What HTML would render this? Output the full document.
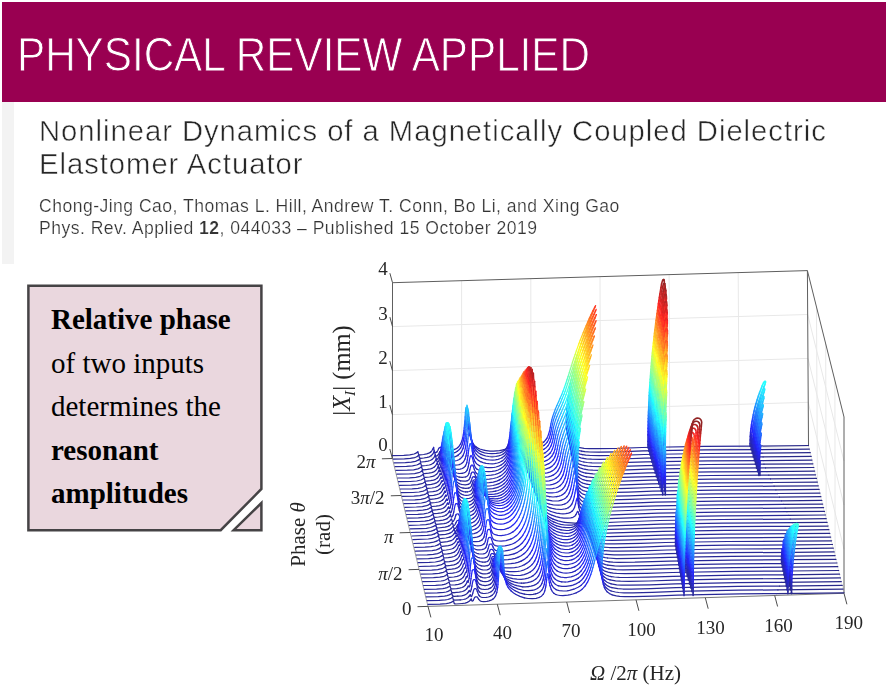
<!DOCTYPE html>
<html><head><meta charset="utf-8"><title>PRApplied</title>
<style>
html,body{margin:0;padding:0;background:#fff;}
body{width:886px;height:694px;position:relative;overflow:hidden;font-family:"Liberation Sans",sans-serif;}
#hdr{position:absolute;left:2px;top:2px;width:884px;height:99.5px;background:#990051;}
#strip{position:absolute;left:2px;top:101.5px;width:12px;height:162px;background:#f3f3f3;}
#jt{position:absolute;left:17.3px;top:25.7px;font-size:48.5px;line-height:56px;color:#fff;white-space:nowrap;transform-origin:0 0;transform:scaleX(0.870);-webkit-text-stroke:0.9px #990051;}
#ttl{position:absolute;left:38.7px;top:115px;font-size:28.85px;line-height:32.8px;color:#262626;white-space:nowrap;transform-origin:0 0;transform:scaleX(1.014);letter-spacing:0.95px;-webkit-text-stroke:0.5px #fff;}
.au{position:absolute;left:38.5px;font-size:17.7px;line-height:20px;color:#333;white-space:nowrap;transform-origin:0 0;transform:scaleX(0.994);letter-spacing:0.47px;-webkit-text-stroke:0.22px #fff;}
#note{position:absolute;left:0;top:0;}
.nt{position:absolute;left:51px;font-family:"Liberation Serif",serif;font-size:29px;line-height:32px;color:#000;white-space:nowrap;}
svg text{font-family:"Liberation Serif",serif;fill:#262626;}
</style></head><body>
<div id="hdr"></div><div id="strip"></div>
<div id="jt">PHYSICAL REVIEW APPLIED</div>
<div id="ttl">Nonlinear Dynamics of a Magnetically Coupled Dielectric<br>Elastomer Actuator</div>
<div class="au" style="top:195.5px">Chong-Jing Cao, Thomas L. Hill, Andrew T. Conn, Bo Li, and Xing Gao</div>
<div class="au" style="top:217.5px">Phys. Rev. Applied <b>12</b>, 044033 – Published 15 October 2019</div>
<svg id="note" width="886" height="694" viewBox="0 0 886 694">
<path d="M28.4 285.8 H261.4 V489 L220.7 530.2 H28.4 Z" fill="#ead7de" stroke="#454345" stroke-width="2.5" stroke-linejoin="miter"/>
<path d="M261.4 503 V530.2 H233.6 Z" fill="#ead7de" stroke="#454345" stroke-width="2.5" stroke-linejoin="miter"/>
</svg>
<div class="nt" style="top:303px;font-weight:bold">Relative phase</div>
<div class="nt" style="top:346.5px">of two inputs</div>
<div class="nt" style="top:390px">determines the</div>
<div class="nt" style="top:433.5px;font-weight:bold">resonant</div>
<div class="nt" style="top:477px;font-weight:bold">amplitudes</div>
<svg id="chart" style="position:absolute;left:0;top:0;filter:blur(0.45px)" width="886" height="694" viewBox="0 0 886 694">
<line x1="392.4" y1="414.6" x2="808.2" y2="402.3" stroke="#e8e8e8" stroke-width="1.00"/>
<line x1="808.2" y1="402.3" x2="844.0" y2="549.2" stroke="#e8e8e8" stroke-width="1.00"/>
<line x1="392.4" y1="370.6" x2="808.0" y2="358.4" stroke="#e8e8e8" stroke-width="1.00"/>
<line x1="808.0" y1="358.4" x2="844.0" y2="505.1" stroke="#e8e8e8" stroke-width="1.00"/>
<line x1="392.5" y1="326.6" x2="807.7" y2="314.5" stroke="#e8e8e8" stroke-width="1.00"/>
<line x1="807.7" y1="314.5" x2="844.0" y2="461.1" stroke="#e8e8e8" stroke-width="1.00"/>
<line x1="461.8" y1="456.4" x2="461.6" y2="280.7" stroke="#e8e8e8" stroke-width="1.00"/>
<line x1="531.1" y1="454.4" x2="530.8" y2="278.7" stroke="#e8e8e8" stroke-width="1.00"/>
<line x1="600.5" y1="452.4" x2="600.0" y2="276.6" stroke="#e8e8e8" stroke-width="1.00"/>
<line x1="669.8" y1="450.3" x2="669.1" y2="274.6" stroke="#e8e8e8" stroke-width="1.00"/>
<line x1="739.2" y1="448.2" x2="738.2" y2="272.6" stroke="#e8e8e8" stroke-width="1.00"/>
<line x1="835.1" y1="556.5" x2="834.9" y2="380.4" stroke="#e8e8e8" stroke-width="1.00"/>
<line x1="826.2" y1="519.8" x2="825.7" y2="343.8" stroke="#e8e8e8" stroke-width="1.00"/>
<line x1="817.4" y1="483.0" x2="816.5" y2="307.2" stroke="#e8e8e8" stroke-width="1.00"/>
<line x1="392.4" y1="458.5" x2="808.5" y2="446.2" stroke="#e8e8e8" stroke-width="1.00"/>
<line x1="808.5" y1="446.2" x2="844.0" y2="593.3" stroke="#e8e8e8" stroke-width="1.00"/>
<line x1="392.4" y1="458.5" x2="392.5" y2="282.7" stroke="#5e5e5e" stroke-width="1.00"/>
<line x1="392.5" y1="282.7" x2="807.4" y2="270.6" stroke="#5e5e5e" stroke-width="1.00"/>
<line x1="807.4" y1="270.6" x2="808.5" y2="446.2" stroke="#5e5e5e" stroke-width="1.00"/>
<line x1="807.4" y1="270.6" x2="844.0" y2="417.0" stroke="#5e5e5e" stroke-width="1.00"/>
<line x1="844.0" y1="417.0" x2="844.0" y2="593.3" stroke="#5e5e5e" stroke-width="1.00"/>
<line x1="392.4" y1="458.5" x2="428.0" y2="606.4" stroke="#8c8c8c" stroke-width="0.80"/>
<line x1="428.0" y1="606.4" x2="844.0" y2="593.3" stroke="#6a6a6a" stroke-width="0.90"/>
<g fill="none" stroke-width="1.25" stroke-linejoin="round" stroke-linecap="round"><path stroke="#29298a" d="M751.2 446.1 808.5 445.5"/><path stroke="#292998" d="M392.4 455.6 403.8 455.3 409.8 454.9 414.0 454.0 415.5 453.4 417.0 452.5M417.9 451.8 418.5 454.0 418.8 454.4 419.4 454.8 420.0 454.8 423.6 454.5 426.7 453.9 428.8 453.2 430.6 452.1M434.2 451.1 434.5 452.0 435.1 452.7 436.0 452.6 436.9 451.9M484.6 450.4 490.0 451.2 493.6 451.2 499.4 450.7 503.3 449.9M578.3 447.4 584.1 448.4 589.2 448.7 598.1 448.7 618.0 448.4 642.0 447.5 704.4 446.4 751.2 446.1"/><path stroke="#2828a9" d="M417.0 452.5 417.9 451.8M430.6 452.1 431.8 450.8 433.0 448.8M433.6 447.4 434.2 451.1M436.9 451.9 437.8 450.5 438.7 448.6M442.3 448.0 443.5 449.7 444.4 450.5 445.6 451.0 447.1 451.1 449.8 450.8 453.4 449.9 455.8 448.9 457.6 447.7M476.2 447.0 478.0 448.1 479.8 449.0 484.6 450.4M503.3 449.9 504.8 449.3 506.0 448.5 506.9 447.6 507.8 446.1M514.7 445.8 516.2 446.9 518.0 447.6 520.4 448.1 523.4 448.2 527.6 447.8 531.9 447.1 534.4 446.5 538.3 445.2M571.4 443.7 573.9 445.6 576.5 446.8 578.3 447.4"/><path stroke="#2727bb" d="M433.0 448.8 433.6 447.4M438.7 448.6 439.3 447.7 440.2 447.3 441.4 447.3 442.3 448.0M457.6 447.7 459.1 446.2 460.6 443.9M472.9 443.4 474.4 445.4 476.2 447.0M507.8 446.1 509.0 442.6M512.6 442.2 513.5 444.2 514.7 445.8M538.3 445.2 541.0 443.9 543.9 441.9M569.1 440.3 570.3 442.3 571.4 443.7"/><path stroke="#2626ce" d="M460.6 443.9 461.8 441.1M471.1 439.6 472.9 443.4M509.0 442.6 509.6 439.7M511.4 438.0 512.6 442.2M543.9 441.9 545.2 440.5 546.8 438.5M567.9 436.9 569.1 440.3"/><path stroke="#2525e4" d="M461.8 441.1 462.7 437.9M469.9 435.5 471.1 439.6M509.6 439.7 510.1 436.6 510.4 436.0 510.7 436.2 511.4 438.0M546.8 438.5 547.8 436.3 548.6 434.2M567.1 433.4 567.9 436.9"/><path stroke="#2424fb" d="M462.7 437.9 463.3 434.8M469.3 432.6 469.9 435.5M548.6 434.2 549.6 430.8M566.6 429.9 567.1 433.4"/><path stroke="#2436ff" d="M463.3 434.8 463.9 430.6M468.7 428.9 469.3 432.6M549.6 430.8 550.3 427.4M566.4 426.4 566.6 429.9"/><path stroke="#2448ff" d="M463.9 430.6 464.2 427.9M468.1 424.1 468.7 428.9M550.3 427.4 550.9 423.9M566.2 422.3 566.4 426.4"/><path stroke="#245bff" d="M464.2 427.9 464.5 424.8M467.8 421.3 468.1 424.1M550.9 423.9 551.8 419.9M566.3 418.8 566.2 422.3"/><path stroke="#246dff" d="M464.5 424.8 464.8 421.1M467.5 418.2 467.8 421.3M551.8 419.9 552.7 416.5M566.4 415.3 566.3 418.8"/><path stroke="#247fff" d="M464.8 421.1 465.1 417.0M467.2 414.9 467.5 418.2M552.7 416.5 553.9 413.1M566.6 411.9 566.4 415.3"/><path stroke="#2491ff" d="M465.1 417.0 465.4 412.8M466.6 409.2 467.2 414.9M553.9 413.1 555.4 409.0M566.8 408.5 566.6 411.9"/><path stroke="#24a4ff" d="M465.4 412.8 465.7 409.2M466.3 407.5 466.6 409.2M555.4 409.0 556.9 405.6M567.2 404.4 566.8 408.5"/><path stroke="#24b6ff" d="M465.7 409.2 466.0 407.3 466.3 407.5M556.9 405.6 558.7 401.6M567.6 401.1 567.2 404.4"/><path stroke="#24c8ff" d="M558.7 401.6 560.1 398.3M568.1 397.1 567.6 401.1"/><path stroke="#24daff" d="M560.1 398.3 561.8 394.4M568.6 393.8 568.1 397.1"/><path stroke="#24edff" d="M561.8 394.4 563.1 391.1M569.3 389.8 568.6 393.8"/><path stroke="#24ffff" d="M563.1 391.1 564.5 387.3M569.8 386.6 569.3 389.8"/><path stroke="#36ffed" d="M564.5 387.3 565.8 383.5M570.6 382.8 569.8 386.6"/><path stroke="#48ffda" d="M565.8 383.5 567.0 379.8M571.2 379.7 570.6 382.8"/><path stroke="#5bffc8" d="M567.0 379.8 568.0 376.7M572.0 375.9 571.2 379.7"/><path stroke="#6dffb6" d="M568.0 376.7 569.3 372.6M572.9 372.3 572.0 375.9"/><path stroke="#7fffa4" d="M569.3 372.6 570.4 369.0M573.7 368.7 572.9 372.3"/><path stroke="#91ff91" d="M570.4 369.0 571.5 365.6M574.6 365.2 573.7 368.7"/><path stroke="#a4ff7f" d="M571.5 365.6 572.5 362.2M575.7 361.2 574.6 365.2"/><path stroke="#b6ff6d" d="M572.5 362.2 573.8 358.3M576.6 357.8 575.7 361.2"/><path stroke="#c8ff5b" d="M573.8 358.3 575.1 354.6M577.8 354.0 576.6 357.8"/><path stroke="#daff48" d="M575.1 354.6 576.3 350.9M578.9 350.3 577.8 354.0"/><path stroke="#edff36" d="M576.3 350.9 577.6 347.4M580.0 346.7 578.9 350.3"/><path stroke="#ffff24" d="M577.6 347.4 578.8 344.0M581.1 343.3 580.0 346.7"/><path stroke="#ffed24" d="M578.8 344.0 580.2 340.2M582.4 339.5 581.1 343.3"/><path stroke="#ffda24" d="M580.2 340.2 581.6 336.7M583.7 335.9 582.4 339.5"/><path stroke="#ffc824" d="M581.6 336.7 583.2 332.8M584.9 332.4 583.7 335.9"/><path stroke="#ffb624" d="M583.2 332.8 584.6 329.2M586.3 328.8 584.9 332.4"/><path stroke="#ffa424" d="M584.6 329.2 586.2 325.5M587.7 325.0 586.3 328.8"/><path stroke="#ff9124" d="M586.2 325.5 587.7 322.1M589.1 321.6 587.7 325.0"/><path stroke="#ff7f24" d="M587.7 322.1 589.3 318.3M590.6 317.8 589.1 321.6"/><path stroke="#ff6d24" d="M589.3 318.3 591.1 314.6M592.0 314.3 590.6 317.8"/><path stroke="#ff5b24" d="M591.1 314.6 592.7 311.0M593.5 310.8 592.0 314.3"/><path stroke="#ff4824" d="M592.7 311.0 594.6 307.3M595.0 307.2 593.5 310.8"/><path stroke="#ff3624" d="M594.6 307.3 595.6 305.6 595.0 307.2"/><g stroke-width="1.6"><path stroke="#29298a" d="M753.3 445.0 753.3 446.3"/><path stroke="#292998" d="M656.4 444.5 656.4 447.7M750.1 446.3 750.1 443.8M753.4 441.2 753.3 445.0"/><path stroke="#2828a9" d="M648.0 447.9 648.0 444.7M656.4 441.2 656.4 444.5M750.1 443.8 750.2 440.0M753.5 438.7 753.4 441.2"/><path stroke="#2727bb" d="M648.0 444.7 648.0 441.4M656.4 437.9 656.4 441.2M750.2 440.0 750.3 436.2M753.7 435.0 753.5 438.7"/><path stroke="#2626ce" d="M648.0 441.4 648.0 434.9M656.4 431.4 656.4 437.9M750.3 436.2 750.6 432.5M754.0 431.2 753.7 435.0"/><path stroke="#2525e4" d="M648.0 434.9 648.1 431.6M656.4 428.1 656.4 431.4M750.6 432.5 751.0 428.7M754.3 427.4 754.0 431.2"/><path stroke="#2424fb" d="M648.1 431.6 648.1 428.3M656.5 424.9 656.4 428.1M751.0 428.7 751.5 424.9M754.8 423.6 754.3 427.4"/><path stroke="#2436ff" d="M648.1 428.3 648.2 425.1M656.5 421.6 656.5 424.9M751.5 424.9 752.1 421.2M755.4 419.9 754.8 423.6"/><path stroke="#2448ff" d="M648.2 425.1 648.2 421.8M656.6 418.3 656.5 421.6M752.1 421.2 752.8 417.4M756.0 416.1 755.4 419.9"/><path stroke="#245bff" d="M648.2 421.8 648.3 418.5M656.6 415.1 656.6 418.3M752.8 417.4 753.3 414.9M756.5 413.6 756.0 416.1"/><path stroke="#246dff" d="M648.3 418.5 648.4 415.2M656.7 411.8 656.6 415.1M753.3 414.9 754.1 411.1M757.3 409.8 756.5 413.6"/><path stroke="#247fff" d="M648.4 415.2 648.5 412.0M656.7 408.5 656.7 411.8M754.1 411.1 755.0 407.3M758.1 406.0 757.3 409.8"/><path stroke="#2491ff" d="M648.5 412.0 648.7 408.7M656.8 405.3 656.7 408.5M755.0 407.3 756.1 403.5M759.1 402.2 758.1 406.0"/><path stroke="#24a4ff" d="M648.7 408.7 648.8 405.4M656.9 402.0 656.8 405.3M756.1 403.5 757.2 399.8M760.2 398.5 759.1 402.2"/><path stroke="#24b6ff" d="M648.8 405.4 648.9 402.2M657.1 395.4 656.9 402.0M757.2 399.8 758.4 396.0M761.3 394.7 760.2 398.5"/><path stroke="#24c8ff" d="M648.9 402.2 649.2 395.6M657.2 392.2 657.1 395.4M758.4 396.0 759.7 392.2M762.5 390.9 761.3 394.7"/><path stroke="#24daff" d="M649.2 395.6 649.4 392.4M657.3 388.9 657.2 392.2M759.7 392.2 760.7 389.7M763.8 387.1 762.5 390.9"/><path stroke="#24edff" d="M649.4 392.4 649.6 389.1M657.4 385.6 657.3 388.9M760.7 389.7 762.2 385.9M764.8 384.6 763.8 387.1"/><path stroke="#24ffff" d="M649.6 389.1 649.8 385.8M657.5 382.4 657.4 385.6M762.2 385.9 763.6 382.6 764.8 381.2 765.4 381.2 765.6 382.0 764.8 384.6"/><path stroke="#36ffed" d="M649.8 385.8 650.0 382.5M657.6 379.1 657.5 382.4"/><path stroke="#48ffda" d="M650.0 382.5 650.2 379.3M657.8 375.8 657.6 379.1"/><path stroke="#5bffc8" d="M650.2 379.3 650.5 376.0M657.9 372.6 657.8 375.8"/><path stroke="#6dffb6" d="M650.5 376.0 650.7 372.7M658.1 369.3 657.9 372.6"/><path stroke="#7fffa4" d="M650.7 372.7 651.0 369.4M658.2 366.0 658.1 369.3"/><path stroke="#91ff91" d="M651.0 369.4 651.2 366.2M658.4 362.7 658.2 366.0"/><path stroke="#a4ff7f" d="M651.2 366.2 651.8 359.6M658.7 356.2 658.4 362.7"/><path stroke="#b6ff6d" d="M651.8 359.6 652.1 356.3M658.9 352.9 658.7 356.2"/><path stroke="#c8ff5b" d="M652.1 356.3 652.4 353.1M659.1 349.7 658.9 352.9"/><path stroke="#daff48" d="M652.4 353.1 652.7 349.8M659.3 346.4 659.1 349.7"/><path stroke="#edff36" d="M652.7 349.8 653.1 346.5M659.5 343.1 659.3 346.4"/><path stroke="#ffff24" d="M653.1 346.5 653.4 343.2M659.7 339.8 659.5 343.1"/><path stroke="#ffed24" d="M653.4 343.2 653.8 340.0M659.9 336.6 659.7 339.8"/><path stroke="#ffda24" d="M653.8 340.0 654.1 336.7M660.1 333.3 659.9 336.6"/><path stroke="#ffc824" d="M654.1 336.7 654.5 333.4M660.3 330.0 660.1 333.3"/><path stroke="#ffb624" d="M654.5 333.4 654.9 330.1M660.6 326.7 660.3 330.0"/><path stroke="#ffa424" d="M654.9 330.1 655.7 323.6M661.1 320.2 660.6 326.7"/><path stroke="#ff9124" d="M655.7 323.6 656.1 320.3M661.3 316.9 661.1 320.2"/><path stroke="#ff7f24" d="M656.1 320.3 656.6 317.0M661.6 313.6 661.3 316.9"/><path stroke="#ff6d24" d="M656.6 317.0 657.0 313.8M661.9 310.4 661.6 313.6"/><path stroke="#ff5b24" d="M657.0 313.8 657.5 310.5M662.1 307.1 661.9 310.4"/><path stroke="#ff4824" d="M657.5 310.5 658.0 307.2M662.4 303.8 662.1 307.1"/><path stroke="#ff3624" d="M658.0 307.2 658.4 303.9M662.7 300.6 662.4 303.8"/><path stroke="#ff2424" d="M658.4 303.9 658.9 300.6M663.0 297.3 662.7 300.6"/><path stroke="#ed2424" d="M658.9 300.6 659.4 297.4M663.3 294.0 663.0 297.3"/><path stroke="#da2424" d="M659.4 297.4 659.9 294.1M663.6 290.7 663.3 294.0"/><path stroke="#c82424" d="M659.9 294.1 661.0 287.5M664.2 284.2 663.6 290.7"/><path stroke="#b62424" d="M661.0 287.5 661.6 283.9M664.3 283.5 664.2 284.2"/><path stroke="#a42424" d="M661.6 283.9 662.1 282.0 662.7 280.3M664.1 280.1 664.3 281.7 664.3 283.5"/><path stroke="#912424" d="M662.7 280.3 663.2 279.6 663.6 279.4 663.9 279.5 664.1 280.1"/></g>
<path stroke="#29298a" d="M758.3 449.6 809.4 449.1"/><path stroke="#292998" d="M393.3 459.1 404.4 458.9 410.4 458.4 414.6 457.6 416.1 457.0 417.6 456.2M418.8 455.2 419.4 457.4 420.0 458.1 420.6 458.3 423.9 458.0 427.2 457.4 429.3 456.8 431.1 455.8M435.4 455.3 435.7 455.8 436.3 456.1 437.5 455.5M581.6 451.2 585.0 451.7 590.1 452.0 598.9 452.1 618.6 451.8 642.9 450.9 705.4 449.9 758.3 449.6"/><path stroke="#2828a9" d="M417.6 456.2 418.8 455.2M431.1 455.8 432.6 454.3 433.8 452.4M434.4 451.1 435.4 455.3M437.5 455.5 438.4 454.4 439.6 451.9M443.5 451.7 444.4 453.0 445.3 453.8 446.5 454.3 448.0 454.4 450.4 454.0 453.4 453.2 455.5 452.4 457.3 451.3M478.9 450.6 481.6 451.9 484.6 452.8 488.2 453.5 491.8 453.7 496.3 453.4 499.9 452.8 502.9 451.6 505.0 450.2M522.5 449.4 525.2 449.8 528.2 449.9 532.8 449.5 535.3 449.0M573.0 447.5 575.9 449.5 579.2 450.7 581.6 451.2"/><path stroke="#2727bb" d="M433.8 452.4 434.4 451.1M439.6 451.9 440.5 450.8 441.7 450.5 442.6 450.7 443.5 451.7M457.3 451.3 459.1 449.8 460.6 447.9M475.0 447.1 476.8 449.1 478.9 450.6M505.0 450.2 506.2 448.8 507.4 446.6M516.8 445.6 518.0 447.0 519.2 448.0 520.7 448.8 522.5 449.4M535.3 449.0 537.4 448.5 540.6 447.3 543.9 445.4M570.4 444.2 571.7 446.2 573.0 447.5"/><path stroke="#2626ce" d="M460.6 447.9 462.1 444.8M472.9 443.5 473.8 445.3 475.0 447.1M507.4 446.6 508.6 442.8M514.9 441.9 515.8 444.1 516.8 445.6M543.9 445.4 545.5 444.1 547.2 442.1M569.0 440.8 570.4 444.2"/><path stroke="#2525e4" d="M462.1 444.8 463.3 440.7M471.4 439.2 472.9 443.5M508.6 442.8 509.2 439.7M514.0 438.6 514.9 441.9M547.2 442.1 548.4 440.0 549.3 437.9M568.0 436.6 569.0 440.8"/><path stroke="#2424fb" d="M463.3 440.7 463.9 437.6M470.5 435.1 471.4 439.2M509.2 439.7 509.5 437.6M513.1 433.5 514.0 438.6M549.3 437.9 550.3 434.5M567.5 433.1 568.0 436.6"/><path stroke="#2436ff" d="M463.9 437.6 464.5 433.5M469.9 431.4 470.5 435.1M509.5 437.6 510.1 432.3M512.8 431.3 513.1 433.5M550.3 434.5 551.1 431.1M567.2 429.7 567.5 433.1"/><path stroke="#2448ff" d="M464.5 433.5 464.8 430.8M469.6 429.2 469.9 431.4M510.1 432.3 510.4 429.1M512.2 426.4 512.8 431.3M551.1 431.1 551.7 427.7M567.1 426.2 567.2 429.7"/><path stroke="#245bff" d="M464.8 430.8 465.1 427.7M469.0 423.8 469.6 429.2M510.4 429.1 510.7 425.8M511.9 424.1 512.2 426.4M551.7 427.7 552.6 423.6M567.1 422.7 567.1 426.2"/><path stroke="#246dff" d="M465.1 427.7 465.4 424.1M468.7 420.7 469.0 423.8M510.7 425.8 511.3 422.0 511.6 422.5 511.9 424.1M552.6 423.6 553.4 420.2M567.2 419.3 567.1 422.7"/><path stroke="#247fff" d="M465.4 424.1 465.7 420.0M468.4 417.3 468.7 420.7M553.4 420.2 554.7 416.2M567.4 415.2 567.2 419.3"/><path stroke="#2491ff" d="M465.7 420.0 466.0 415.4M468.1 413.7 468.4 417.3M554.7 416.2 556.0 412.8M567.7 411.8 567.4 415.2"/><path stroke="#24a4ff" d="M467.8 410.3 468.1 413.7M556.0 412.8 557.4 409.5M568.0 408.4 567.7 411.8"/><path stroke="#24b6ff" d="M466.0 415.4 466.3 410.8M467.5 407.4 467.8 410.3M557.4 409.5 559.2 405.5M568.5 404.4 568.0 408.4"/><path stroke="#24c8ff" d="M466.3 410.8 466.9 405.1 467.2 405.5 467.5 407.4M559.2 405.5 560.7 402.2M568.9 401.1 568.5 404.4"/><path stroke="#24daff" d="M560.7 402.2 562.3 398.3M569.5 397.1 568.9 401.1"/><path stroke="#24edff" d="M562.3 398.3 563.9 394.4M570.0 393.9 569.5 397.1"/><path stroke="#24ffff" d="M563.9 394.4 565.1 391.3M570.7 390.0 570.0 393.9"/><path stroke="#36ffed" d="M565.1 391.3 566.4 387.5M571.3 386.8 570.7 390.0"/><path stroke="#48ffda" d="M566.4 387.5 567.6 383.8M572.1 383.1 571.3 386.8"/><path stroke="#5bffc8" d="M567.6 383.8 568.8 380.2M572.9 379.4 572.1 383.1"/><path stroke="#6dffb6" d="M568.8 380.2 569.9 376.6M573.7 375.8 572.9 379.4"/><path stroke="#7fffa4" d="M569.9 376.6 571.0 373.1M574.5 372.2 573.7 375.8"/><path stroke="#91ff91" d="M571.0 373.1 572.3 369.1M575.4 368.7 574.5 372.2"/><path stroke="#a4ff7f" d="M572.3 369.1 573.3 365.7M576.3 365.3 575.4 368.7"/><path stroke="#b6ff6d" d="M573.3 365.7 574.6 361.9M577.4 361.4 576.3 365.3"/><path stroke="#c8ff5b" d="M574.6 361.9 575.8 358.1M578.5 357.6 577.4 361.4"/><path stroke="#daff48" d="M575.8 358.1 577.1 354.5M579.5 354.4 578.5 357.6"/><path stroke="#edff36" d="M577.1 354.5 578.3 351.0M580.8 350.3 579.5 354.4"/><path stroke="#ffff24" d="M578.3 351.0 579.6 347.6M581.9 346.9 580.8 350.3"/><path stroke="#ffed24" d="M579.6 347.6 581.0 343.9M583.2 343.1 581.9 346.9"/><path stroke="#ffda24" d="M581.0 343.9 582.4 340.3M584.4 339.5 583.2 343.1"/><path stroke="#ffc824" d="M582.4 340.3 583.9 336.5M585.7 336.1 584.4 339.5"/><path stroke="#ffb624" d="M583.9 336.5 585.4 332.9M587.0 332.5 585.7 336.1"/><path stroke="#ffa424" d="M585.4 332.9 586.9 329.2M588.4 328.7 587.0 332.5"/><path stroke="#ff9124" d="M586.9 329.2 588.5 325.5M589.8 325.3 588.4 328.7"/><path stroke="#ff7f24" d="M588.5 325.5 590.0 322.1M591.3 321.6 589.8 325.3"/><path stroke="#ff6d24" d="M590.0 322.1 591.8 318.3M592.7 318.1 591.3 321.6"/><path stroke="#ff5b24" d="M591.8 318.3 593.5 314.7M594.2 314.4 592.7 318.1"/><path stroke="#ff4824" d="M593.5 314.7 595.3 311.0M595.7 310.8 594.2 314.4"/><path stroke="#ff3624" d="M595.3 311.0 596.2 309.4 595.7 310.8"/><g stroke-width="1.6"><path stroke="#29298a" d="M754.1 448.6 754.2 449.8"/><path stroke="#292998" d="M657.3 448.0 657.3 451.2M751.1 449.8 751.2 446.3M754.2 445.1 754.1 448.6"/><path stroke="#2828a9" d="M648.9 451.4 648.9 448.1M657.3 444.7 657.3 448.0M751.2 446.3 751.3 442.8M754.3 441.6 754.2 445.1"/><path stroke="#2727bb" d="M648.9 448.1 648.9 444.9M657.3 441.4 657.3 444.7M751.3 442.8 751.5 439.2M754.5 438.0 754.3 441.6"/><path stroke="#2626ce" d="M648.9 444.9 648.9 441.6M657.3 438.2 657.3 441.4M751.5 439.2 751.7 435.7M754.8 434.5 754.5 438.0"/><path stroke="#2525e4" d="M648.9 441.6 649.0 435.1M657.3 431.7 657.3 438.2M751.7 435.7 752.1 432.2M755.1 430.9 754.8 434.5"/><path stroke="#2424fb" d="M649.0 435.1 649.0 431.8M657.4 428.4 657.3 431.7M752.1 432.2 752.5 428.6M755.6 427.4 755.1 430.9"/><path stroke="#2436ff" d="M649.0 431.8 649.1 428.6M657.4 425.1 657.4 428.4M752.5 428.6 753.1 425.1M756.1 423.9 755.6 427.4"/><path stroke="#2448ff" d="M649.1 428.6 649.2 425.3M657.5 421.9 657.4 425.1M753.1 425.1 753.7 421.5M756.7 420.3 756.1 423.9"/><path stroke="#245bff" d="M649.2 425.3 649.3 422.1M657.5 418.6 657.5 421.9M753.7 421.5 754.4 418.0M757.3 416.8 756.7 420.3"/><path stroke="#246dff" d="M649.3 422.1 649.3 418.8M657.6 415.4 657.5 418.6M754.4 418.0 755.2 414.5M758.0 413.2 757.3 416.8"/><path stroke="#247fff" d="M649.3 418.8 649.5 415.5M657.6 412.1 657.6 415.4M755.2 414.5 756.0 410.9M758.9 409.7 758.0 413.2"/><path stroke="#2491ff" d="M649.5 415.5 649.6 412.3M657.7 408.8 657.6 412.1M756.0 410.9 757.0 407.4M759.7 406.2 758.9 409.7"/><path stroke="#24a4ff" d="M649.6 412.3 649.7 409.0M657.8 405.6 657.7 408.8M757.0 407.4 758.0 403.8M760.7 402.6 759.7 406.2"/><path stroke="#24b6ff" d="M649.7 409.0 649.8 405.7M657.9 402.3 657.8 405.6M758.0 403.8 759.1 400.3M761.7 399.1 760.7 402.6"/><path stroke="#24c8ff" d="M649.8 405.7 650.2 399.2M658.1 395.8 657.9 402.3M759.1 400.3 760.4 396.7M762.9 395.5 761.7 399.1"/><path stroke="#24daff" d="M650.2 399.2 650.3 396.0M658.2 392.5 658.1 395.8M760.4 396.7 761.6 393.2M764.1 392.0 762.9 395.5"/><path stroke="#24edff" d="M650.3 396.0 650.5 392.7M658.3 389.3 658.2 392.5M761.6 393.2 762.9 390.1 764.1 388.7 764.6 388.7 764.8 389.4 764.1 392.0"/><path stroke="#24ffff" d="M650.5 392.7 650.7 389.4M658.4 386.0 658.3 389.3"/><path stroke="#36ffed" d="M650.7 389.4 650.9 386.2M658.5 382.7 658.4 386.0"/><path stroke="#48ffda" d="M650.9 386.2 651.1 382.9M658.7 379.5 658.5 382.7"/><path stroke="#5bffc8" d="M651.1 382.9 651.4 379.6M658.8 376.2 658.7 379.5"/><path stroke="#6dffb6" d="M651.4 379.6 651.6 376.4M658.9 373.0 658.8 376.2"/><path stroke="#7fffa4" d="M651.6 376.4 651.8 373.1M659.1 369.7 658.9 373.0"/><path stroke="#91ff91" d="M651.8 373.1 652.1 369.8M659.4 363.2 659.1 369.7"/><path stroke="#a4ff7f" d="M652.1 369.8 652.7 363.3M659.6 359.9 659.4 363.2"/><path stroke="#b6ff6d" d="M652.7 363.3 653.0 360.1M659.8 356.7 659.6 359.9"/><path stroke="#c8ff5b" d="M653.0 360.1 653.3 356.8M660.0 353.4 659.8 356.7"/><path stroke="#daff48" d="M653.3 356.8 653.6 353.5M660.1 350.1 660.0 353.4"/><path stroke="#edff36" d="M653.6 353.5 653.9 350.3M660.3 346.9 660.1 350.1"/><path stroke="#ffff24" d="M653.9 350.3 654.2 347.0M660.6 343.6 660.3 346.9"/><path stroke="#ffed24" d="M654.2 347.0 654.6 343.7M660.8 340.3 660.6 343.6"/><path stroke="#ffda24" d="M654.6 343.7 655.0 340.5M661.0 337.1 660.8 340.3"/><path stroke="#ffc824" d="M655.0 340.5 655.3 337.2M661.2 333.8 661.0 337.1"/><path stroke="#ffb624" d="M655.3 337.2 656.1 330.7M661.7 327.3 661.2 333.8"/><path stroke="#ffa424" d="M656.1 330.7 656.5 327.4M661.9 324.0 661.7 327.3"/><path stroke="#ff9124" d="M656.5 327.4 656.9 324.1M662.2 320.8 661.9 324.0"/><path stroke="#ff7f24" d="M656.9 324.1 657.4 320.9M662.4 317.5 662.2 320.8"/><path stroke="#ff6d24" d="M657.4 320.9 657.8 317.6M662.7 314.2 662.4 317.5"/><path stroke="#ff5b24" d="M657.8 317.6 658.3 314.3M663.0 311.0 662.7 314.2"/><path stroke="#ff4824" d="M658.3 314.3 658.7 311.0M663.3 307.7 663.0 311.0"/><path stroke="#ff3624" d="M658.7 311.0 659.2 307.8M663.6 304.4 663.3 307.7"/><path stroke="#ff2424" d="M659.2 307.8 659.7 304.5M663.8 301.2 663.6 304.4"/><path stroke="#ed2424" d="M659.7 304.5 660.2 301.2M664.1 297.9 663.8 301.2"/><path stroke="#da2424" d="M660.2 301.2 661.2 294.7M664.8 291.4 664.1 297.9"/><path stroke="#c82424" d="M661.2 294.7 661.7 291.4M665.1 288.1 664.8 291.4"/><path stroke="#b62424" d="M661.7 291.4 662.4 287.5M665.2 287.1 665.1 288.1"/><path stroke="#a42424" d="M662.4 287.5 663.0 285.4 663.7 283.8M664.8 283.7 665.1 285.1 665.2 287.1"/><path stroke="#912424" d="M663.7 283.8 664.3 283.3 664.8 283.7"/></g>
<path stroke="#29298a" d="M761.9 453.2 810.3 452.7"/><path stroke="#292998" d="M394.2 462.8 405.3 462.6 411.3 462.1 415.5 461.3 417.0 460.7 418.5 459.9M419.7 458.9 420.3 461.1 420.9 461.8 421.5 462.0 424.8 461.7 428.1 461.2 430.2 460.5 432.0 459.5M436.8 459.2 437.1 459.2M582.4 454.7 585.8 455.2 590.8 455.5 599.5 455.6 618.8 455.4 644.0 454.5 706.1 453.5 761.9 453.2"/><path stroke="#2828a9" d="M418.5 459.9 419.7 458.9M432.0 459.5 433.5 458.1 434.7 456.3M435.3 455.0 436.2 458.6 436.8 459.2M437.1 459.2 437.7 458.9 438.3 458.2 439.2 456.1M445.6 454.9 446.5 456.3 447.4 457.0 448.6 457.5 449.8 457.6 451.9 457.4 454.6 456.8 456.4 456.1 458.2 455.1M480.7 454.2 483.1 455.2 485.8 456.0 488.8 456.5 492.1 456.8 495.7 456.5 498.7 455.9 501.4 455.0 503.5 453.8M573.9 451.0 576.8 453.0 580.0 454.2 582.4 454.7"/><path stroke="#2727bb" d="M434.7 456.3 435.3 455.0M439.2 456.1 440.1 452.7M444.3 451.7 445.6 454.9M458.2 455.1 460.0 453.6 461.5 451.6M476.2 450.8 478.3 452.7 480.7 454.2M503.5 453.8 505.0 452.5 506.5 450.5M520.3 449.6 522.1 450.9 524.6 451.9 527.3 452.4 530.6 452.6 533.7 452.5 538.3 451.6 541.6 450.5 543.9 449.3M571.3 447.7 572.6 449.7 573.9 451.0"/><path stroke="#2626ce" d="M440.1 452.7 440.7 450.5 441.0 449.8 441.6 449.3 442.5 449.1 443.1 449.3 443.7 450.1 444.3 451.7M461.5 451.6 463.0 448.5M473.8 446.9 475.0 449.1 476.2 450.8M506.5 450.5 508.0 447.2M517.6 445.9 518.8 447.9 520.3 449.6M543.9 449.3 546.4 447.4 548.2 445.5M569.8 444.3 571.3 447.7"/><path stroke="#2525e4" d="M463.0 448.5 464.2 444.2M472.6 443.7 473.8 446.9M508.0 447.2 508.9 443.8M516.1 441.8 517.6 445.9M548.2 445.5 550.0 442.0M569.0 440.9 569.8 444.3"/><path stroke="#2424fb" d="M464.2 444.2 464.8 440.8M471.7 440.1 472.6 443.7M508.9 443.8 509.5 440.6M515.2 437.8 516.1 441.8M550.0 442.0 551.3 438.0M568.4 436.8 569.0 440.9"/><path stroke="#2436ff" d="M464.8 440.8 465.1 438.7M470.8 434.8 471.7 440.1M509.5 440.6 510.1 436.2M514.6 433.9 515.2 437.8M551.3 438.0 552.1 434.6M568.1 433.3 568.4 436.8"/><path stroke="#2448ff" d="M465.1 438.7 465.4 436.1M470.5 432.5 470.8 434.8M510.1 436.2 510.4 433.3M514.3 431.6 514.6 433.9M552.1 434.6 552.7 431.3M568.0 429.9 568.1 433.3"/><path stroke="#245bff" d="M465.4 436.1 466.0 429.7M469.9 427.0 470.5 432.5M510.4 433.3 510.7 429.9M513.7 425.7 514.3 431.6M552.7 431.3 553.5 427.2M568.0 426.5 568.0 429.9"/><path stroke="#246dff" d="M469.6 423.8 469.9 427.0M510.7 429.9 511.0 426.0M513.4 422.3 513.7 425.7M553.5 427.2 554.4 423.9M568.1 422.4 568.0 426.5"/><path stroke="#247fff" d="M466.0 429.7 466.3 425.9M469.3 420.5 469.6 423.8M511.0 426.0 511.3 421.7M513.1 418.8 513.4 422.3M554.4 423.9 555.6 419.9M568.3 419.0 568.1 422.4"/><path stroke="#2491ff" d="M466.3 425.9 466.6 421.7M469.0 417.1 469.3 420.5M512.8 415.6 513.1 418.8M555.6 419.9 556.9 416.6M568.5 415.6 568.3 419.0"/><path stroke="#24a4ff" d="M466.6 421.7 466.9 417.3M468.7 413.9 469.0 417.1M511.3 421.7 511.9 414.1M512.5 413.3 512.8 415.6M556.9 416.6 558.5 412.7M568.9 411.6 568.5 415.6"/><path stroke="#24b6ff" d="M466.9 417.3 467.2 413.1M468.4 411.0 468.7 413.9M511.9 414.1 512.2 412.6 512.5 413.3M558.5 412.7 560.0 409.4M569.3 408.3 568.9 411.6"/><path stroke="#24c8ff" d="M467.2 413.1 467.5 409.8 467.8 408.5 468.1 409.1 468.4 411.0M560.0 409.4 561.7 405.5M569.7 405.0 569.3 408.3"/><path stroke="#24daff" d="M561.7 405.5 563.1 402.3M570.3 401.1 569.7 405.0"/><path stroke="#24edff" d="M563.1 402.3 564.6 398.5M570.9 397.3 570.3 401.1"/><path stroke="#24ffff" d="M564.6 398.5 566.0 394.7M571.4 394.1 570.9 397.3"/><path stroke="#36ffed" d="M566.0 394.7 567.3 391.0M572.1 390.4 571.4 394.1"/><path stroke="#48ffda" d="M567.3 391.0 568.5 387.4M572.9 386.7 572.1 390.4"/><path stroke="#5bffc8" d="M568.5 387.4 569.7 383.8M573.7 383.0 572.9 386.7"/><path stroke="#6dffb6" d="M569.7 383.8 570.8 380.3M574.5 379.4 573.7 383.0"/><path stroke="#7fffa4" d="M570.8 380.3 571.8 376.8M575.3 375.9 574.5 379.4"/><path stroke="#91ff91" d="M571.8 376.8 573.1 372.8M576.2 372.5 575.3 375.9"/><path stroke="#a4ff7f" d="M573.1 372.8 574.1 369.5M577.3 368.5 576.2 372.5"/><path stroke="#b6ff6d" d="M574.1 369.5 575.4 365.8M578.2 365.3 577.3 368.5"/><path stroke="#c8ff5b" d="M575.4 365.8 576.6 362.1M579.3 361.5 578.2 365.3"/><path stroke="#daff48" d="M576.6 362.1 577.8 358.5M580.4 357.9 579.3 361.5"/><path stroke="#edff36" d="M577.8 358.5 579.2 354.6M581.5 354.4 580.4 357.9"/><path stroke="#ffff24" d="M579.2 354.6 580.4 351.3M582.7 350.6 581.5 354.4"/><path stroke="#ffed24" d="M580.4 351.3 581.8 347.6M583.9 346.9 582.7 350.6"/><path stroke="#ffda24" d="M581.8 347.6 583.3 343.7M585.2 343.4 583.9 346.9"/><path stroke="#ffc824" d="M583.3 343.7 584.6 340.4M586.5 339.6 585.2 343.4"/><path stroke="#ffb624" d="M584.6 340.4 586.2 336.6M587.8 336.1 586.5 339.6"/><path stroke="#ffa424" d="M586.2 336.6 587.7 333.0M589.2 332.5 587.8 336.1"/><path stroke="#ff9124" d="M587.7 333.0 589.3 329.4M590.6 328.9 589.2 332.5"/><path stroke="#ff7f24" d="M589.3 329.4 591.0 325.6M592.0 325.4 590.6 328.9"/><path stroke="#ff6d24" d="M591.0 325.6 592.7 321.9M593.5 321.7 592.0 325.4"/><path stroke="#ff5b24" d="M592.7 321.9 594.4 318.2M595.0 318.2 593.5 321.7"/><path stroke="#ff4824" d="M594.4 318.2 596.3 314.6M596.4 314.6 595.0 318.2"/><path stroke="#ff3624" d="M596.3 314.6 596.4 314.6"/><g stroke-width="1.6"><path stroke="#29298a" d="M755.0 452.3 755.0 453.4"/><path stroke="#292998" d="M658.1 451.6 658.1 454.8M752.2 453.5 752.2 450.2M755.0 449.1 755.0 452.3"/><path stroke="#2828a9" d="M649.9 455.0 649.9 451.7M658.1 448.3 658.1 451.6M752.2 450.2 752.3 446.9M755.1 445.8 755.0 449.1"/><path stroke="#2727bb" d="M649.9 451.7 649.9 448.5M658.1 445.1 658.1 448.3M752.3 446.9 752.5 443.6M755.3 442.5 755.1 445.8"/><path stroke="#2626ce" d="M649.9 448.5 649.9 445.3M658.2 441.9 658.1 445.1M752.5 443.6 752.8 439.2M755.6 438.1 755.3 442.5"/><path stroke="#2525e4" d="M649.9 445.3 649.9 438.8M658.2 435.4 658.2 441.9M752.8 439.2 753.2 435.9M755.9 434.8 755.6 438.1"/><path stroke="#2424fb" d="M649.9 438.8 650.0 435.6M658.2 432.2 658.2 435.4M753.2 435.9 753.6 432.6M756.3 431.5 755.9 434.8"/><path stroke="#2436ff" d="M650.0 435.6 650.1 432.3M658.3 428.9 658.2 432.2M753.6 432.6 754.0 429.4M756.7 428.2 756.3 431.5"/><path stroke="#2448ff" d="M650.1 432.3 650.1 429.1M658.3 425.7 658.3 428.9M754.0 429.4 754.8 425.0M757.4 423.8 756.7 428.2"/><path stroke="#245bff" d="M650.1 429.1 650.2 425.9M658.4 422.5 658.3 425.7M754.8 425.0 755.4 421.7M758.1 420.6 757.4 423.8"/><path stroke="#246dff" d="M650.2 425.9 650.3 422.6M658.4 419.2 658.4 422.5M755.4 421.7 756.1 418.4M758.7 417.3 758.1 420.6"/><path stroke="#247fff" d="M650.3 422.6 650.4 419.4M658.5 416.0 658.4 419.2M756.1 418.4 757.2 414.0M759.7 412.9 758.7 417.3"/><path stroke="#2491ff" d="M650.4 419.4 650.5 416.2M658.6 412.8 658.5 416.0M757.2 414.0 758.1 410.7M760.5 409.6 759.7 412.9"/><path stroke="#24a4ff" d="M650.5 416.2 650.6 412.9M658.6 409.5 658.6 412.8M758.1 410.7 759.0 407.4M761.4 406.3 760.5 409.6"/><path stroke="#24b6ff" d="M650.6 412.9 650.9 406.5M658.8 403.1 658.6 409.5M759.0 407.4 760.1 404.1M762.7 401.9 761.4 406.3"/><path stroke="#24c8ff" d="M650.9 406.5 651.1 403.2M658.9 399.8 658.8 403.1M760.1 404.1 761.5 399.7M763.7 398.6 762.7 401.9"/><path stroke="#24daff" d="M651.1 403.2 651.2 400.0M659.0 396.6 658.9 399.8M761.5 399.7 762.4 397.6 763.4 396.5 763.7 396.4 764.0 396.9 763.7 398.6"/><path stroke="#24edff" d="M651.2 400.0 651.4 396.8M659.1 393.4 659.0 396.6"/><path stroke="#24ffff" d="M651.4 396.8 651.6 393.5M659.2 390.1 659.1 393.4"/><path stroke="#36ffed" d="M651.6 393.5 651.8 390.3M659.4 386.9 659.2 390.1"/><path stroke="#48ffda" d="M651.8 390.3 652.0 387.1M659.5 383.7 659.4 386.9"/><path stroke="#5bffc8" d="M652.0 387.1 652.2 383.8M659.6 380.4 659.5 383.7"/><path stroke="#6dffb6" d="M652.2 383.8 652.5 380.6M659.8 377.2 659.6 380.4"/><path stroke="#7fffa4" d="M652.5 380.6 653.0 374.1M660.1 370.7 659.8 377.2"/><path stroke="#91ff91" d="M653.0 374.1 653.2 370.9M660.2 367.5 660.1 370.7"/><path stroke="#a4ff7f" d="M653.2 370.9 653.5 367.6M660.4 364.3 660.2 367.5"/><path stroke="#b6ff6d" d="M653.5 367.6 653.8 364.4M660.6 361.0 660.4 364.3"/><path stroke="#c8ff5b" d="M653.8 364.4 654.1 361.2M660.8 357.8 660.6 361.0"/><path stroke="#daff48" d="M654.1 361.2 654.4 357.9M661.0 354.6 660.8 357.8"/><path stroke="#edff36" d="M654.4 357.9 654.7 354.7M661.1 351.3 661.0 354.6"/><path stroke="#ffff24" d="M654.7 354.7 655.1 351.4M661.4 348.1 661.1 351.3"/><path stroke="#ffed24" d="M655.1 351.4 655.4 348.2M661.6 344.9 661.4 348.1"/><path stroke="#ffda24" d="M655.4 348.2 656.1 341.7M662.0 338.4 661.6 344.9"/><path stroke="#ffc824" d="M656.1 341.7 656.5 338.5M662.2 335.1 662.0 338.4"/><path stroke="#ffb624" d="M656.5 338.5 656.9 335.3M662.5 331.9 662.2 335.1"/><path stroke="#ffa424" d="M656.9 335.3 657.3 332.0M662.7 328.7 662.5 331.9"/><path stroke="#ff9124" d="M657.3 332.0 657.7 328.8M663.0 325.4 662.7 328.7"/><path stroke="#ff7f24" d="M657.7 328.8 658.1 325.5M663.2 322.2 663.0 325.4"/><path stroke="#ff6d24" d="M658.1 325.5 658.5 322.3M663.5 319.0 663.2 322.2"/><path stroke="#ff5b24" d="M658.5 322.3 659.0 319.1M663.7 315.7 663.5 319.0"/><path stroke="#ff4824" d="M659.0 319.1 659.4 315.8M664.0 312.5 663.7 315.7"/><path stroke="#ff3624" d="M659.4 315.8 660.3 309.3M664.6 306.0 664.0 312.5"/><path stroke="#ff2424" d="M660.3 309.3 660.8 306.1M664.9 302.8 664.6 306.0"/><path stroke="#ed2424" d="M660.8 306.1 661.3 302.8M665.2 299.5 664.9 302.8"/><path stroke="#da2424" d="M661.3 302.8 661.8 299.6M665.5 296.3 665.2 299.5"/><path stroke="#c82424" d="M661.8 299.6 662.3 296.4M665.8 293.1 665.5 296.3"/><path stroke="#b62424" d="M662.3 296.4 663.3 291.2M665.9 290.8 665.8 293.1"/><path stroke="#a42424" d="M663.3 291.2 664.2 289.0 665.0 288.2 665.3 288.4 665.6 288.9 665.9 290.8"/></g>
<path stroke="#29298a" d="M763.1 456.9 811.2 456.4"/><path stroke="#292998" d="M395.1 466.6 406.5 466.4 412.5 465.9 416.7 465.0 418.2 464.4 419.7 463.5M420.6 462.8 421.2 465.0 421.8 465.7 422.4 465.8 426.0 465.5 429.3 465.0 431.4 464.3 433.2 463.2M583.2 458.3 586.5 458.8 591.5 459.2 599.9 459.3 619.7 459.0 644.9 458.2 707.0 457.2 763.1 456.9"/><path stroke="#2828a9" d="M419.7 463.5 420.6 462.8M433.2 463.2 434.7 461.7 435.9 459.6M436.5 459.4 437.1 461.8 437.4 462.2 437.7 462.2 438.6 461.3 439.2 459.8M447.9 458.6 448.8 459.8 449.7 460.4 451.2 460.9 452.8 461.1 454.9 461.0 457.0 460.5 458.8 459.7 460.3 458.7M481.3 458.0 483.7 458.9 486.4 459.6 489.4 460.0 492.7 460.2 495.4 459.9 498.1 459.3 500.5 458.5 502.3 457.6M574.7 454.7 577.6 456.6 580.8 457.8 583.2 458.3"/><path stroke="#2727bb" d="M435.9 459.6 436.2 459.0 436.5 459.4M439.2 459.8 440.1 455.7M446.4 454.3 447.0 456.6 447.9 458.6M460.3 458.7 461.8 457.3 463.0 455.6M476.5 454.4 478.6 456.4 481.3 458.0M502.3 457.6 504.4 456.0 506.2 453.8M523.0 453.2 525.1 454.4 527.8 455.2 530.9 455.7 534.6 455.7 537.1 455.4 541.0 454.5 544.9 452.9M572.1 451.4 573.5 453.4 574.7 454.7"/><path stroke="#2626ce" d="M440.1 455.7 440.4 453.7M445.8 451.3 446.4 454.3M463.0 455.6 464.5 451.9M474.1 450.5 475.3 452.8 476.5 454.4M506.2 453.8 507.7 450.8M519.7 449.4 521.2 451.5 523.0 453.2M544.9 452.9 547.4 451.0 549.2 449.1M570.7 448.1 572.1 451.4"/><path stroke="#2525e4" d="M440.4 453.7 441.0 448.9M445.2 447.6 445.8 451.3M464.5 451.9 465.4 447.9M472.9 447.0 474.1 450.5M507.7 450.8 508.9 447.1M518.2 446.0 519.7 449.4M549.2 449.1 551.1 445.8M569.7 444.1 570.7 448.1"/><path stroke="#2424fb" d="M441.0 448.9 441.3 446.5M444.6 444.4 445.2 447.6M465.4 447.9 465.7 446.0M472.0 442.8 472.9 447.0M508.9 447.1 509.5 444.3M517.0 441.6 518.2 446.0M551.1 445.8 552.4 441.8M569.2 440.7 569.7 444.1"/><path stroke="#2436ff" d="M441.3 446.5 441.9 443.3 442.5 442.3 443.7 442.2 444.3 443.3 444.6 444.4M465.7 446.0 466.3 441.0M471.4 438.8 472.0 442.8M509.5 444.3 510.1 440.7M516.4 438.4 517.0 441.6M552.4 441.8 553.2 438.5M569.0 437.3 569.2 440.7"/><path stroke="#2448ff" d="M466.3 441.0 466.6 437.9M471.1 436.4 471.4 438.8M510.1 440.7 510.7 435.8M515.8 434.3 516.4 438.4M553.2 438.5 553.9 434.6M568.8 433.3 569.0 437.3"/><path stroke="#245bff" d="M466.6 437.9 466.9 434.4M470.5 430.8 471.1 436.4M510.7 435.8 511.0 432.7M515.5 431.7 515.8 434.3M553.9 434.6 554.6 431.3M568.8 429.9 568.8 433.3"/><path stroke="#246dff" d="M466.9 434.4 467.2 430.8M470.2 427.9 470.5 430.8M511.0 432.7 511.3 429.1M514.9 425.3 515.5 431.7M554.6 431.3 555.6 427.4M568.9 426.6 568.8 429.9"/><path stroke="#247fff" d="M467.2 430.8 467.5 427.1M469.9 425.0 470.2 427.9M511.3 429.1 511.6 424.9M514.6 421.4 514.9 425.3M555.6 427.4 556.6 424.1M569.1 422.6 568.9 426.6"/><path stroke="#2491ff" d="M467.5 427.1 467.7 423.5M469.6 422.3 469.9 425.0M514.3 417.1 514.6 421.4M556.6 424.1 558.0 420.2M569.4 419.3 569.1 422.6"/><path stroke="#24a4ff" d="M467.7 423.5 468.0 420.3M468.9 418.2 469.6 422.3M511.6 424.9 511.9 420.1M558.0 420.2 559.5 416.4M569.7 415.4 569.4 419.3"/><path stroke="#24b6ff" d="M468.0 420.3 468.3 418.0 468.6 417.4 468.9 418.2M511.9 420.1 512.2 415.0M514.0 412.7 514.3 417.1M559.5 416.4 560.9 413.2M570.1 412.1 569.7 415.4"/><path stroke="#24c8ff" d="M513.7 408.6 514.0 412.7M560.9 413.2 562.6 409.3M570.6 408.3 570.1 412.1"/><path stroke="#24daff" d="M512.2 415.0 512.5 410.2M513.4 405.7 513.7 408.6M562.6 409.3 564.2 405.6M571.1 405.1 570.6 408.3"/><path stroke="#24edff" d="M512.5 410.2 512.8 406.4 513.1 404.8 513.4 405.7M564.2 405.6 565.7 401.9M571.7 401.3 571.1 405.1"/><path stroke="#24ffff" d="M565.7 401.9 567.0 398.2M572.3 397.6 571.7 401.3"/><path stroke="#36ffed" d="M567.0 398.2 568.3 394.6M573.0 393.9 572.3 397.6"/><path stroke="#48ffda" d="M568.3 394.6 569.5 391.0M573.7 390.3 573.0 393.9"/><path stroke="#5bffc8" d="M569.5 391.0 570.6 387.5M574.5 386.7 573.7 390.3"/><path stroke="#6dffb6" d="M570.6 387.5 571.6 384.1M575.3 383.2 574.5 386.7"/><path stroke="#7fffa4" d="M571.6 384.1 572.8 380.1M576.1 379.8 575.3 383.2"/><path stroke="#91ff91" d="M572.8 380.1 573.9 376.8M577.1 375.9 576.1 379.8"/><path stroke="#a4ff7f" d="M573.9 376.8 575.1 373.1M578.0 372.6 577.1 375.9"/><path stroke="#b6ff6d" d="M575.1 373.1 576.3 369.4M579.0 368.9 578.0 372.6"/><path stroke="#c8ff5b" d="M576.3 369.4 577.5 365.9M580.1 365.3 579.0 368.9"/><path stroke="#daff48" d="M577.5 365.9 578.8 361.9M581.1 361.8 580.1 365.3"/><path stroke="#edff36" d="M578.8 361.9 580.0 358.6M582.3 357.9 581.1 361.8"/><path stroke="#ffff24" d="M580.0 358.6 581.3 354.9M583.5 354.2 582.3 357.9"/><path stroke="#ffed24" d="M581.3 354.9 582.8 351.0M584.7 350.7 583.5 354.2"/><path stroke="#ffda24" d="M582.8 351.0 584.1 347.7M586.0 346.9 584.7 350.7"/><path stroke="#ffc824" d="M584.1 347.7 585.7 343.8M587.3 343.4 586.0 346.9"/><path stroke="#ffb624" d="M585.7 343.8 587.2 340.2M588.7 339.7 587.3 343.4"/><path stroke="#ffa424" d="M587.2 340.2 588.7 336.5M589.9 336.4 588.7 339.7"/><path stroke="#ff9124" d="M588.7 336.5 590.3 332.9M591.4 332.7 589.9 336.4"/><path stroke="#ff7f24" d="M590.3 332.9 591.9 329.3M592.8 329.1 591.4 332.7"/><path stroke="#ff6d24" d="M591.9 329.3 593.5 325.7M594.3 325.5 592.8 329.1"/><path stroke="#ff5b24" d="M593.5 325.7 595.4 321.9M595.7 321.9 594.3 325.5"/><path stroke="#ff4824" d="M595.4 321.9 596.1 320.6 595.7 321.9"/><g stroke-width="1.6"><path stroke="#29298a" d="M755.8 456.1 755.8 457.1"/><path stroke="#292998" d="M659.0 455.3 659.0 458.5M753.3 457.1 753.3 454.1M755.8 453.1 755.8 456.1"/><path stroke="#2828a9" d="M650.9 458.6 650.9 455.4M659.0 452.1 659.0 455.3M753.3 454.1 753.4 450.1M755.9 449.1 755.8 453.1"/><path stroke="#2727bb" d="M650.9 455.4 650.9 452.2M659.0 448.9 659.0 452.1M753.4 450.1 753.6 447.1M756.1 446.1 755.9 449.1"/><path stroke="#2626ce" d="M650.9 452.2 650.9 445.9M659.0 442.5 659.0 448.9M753.6 447.1 753.9 443.1M756.4 442.0 756.1 446.1"/><path stroke="#2525e4" d="M650.9 445.9 650.9 442.7M659.0 439.3 659.0 442.5M753.9 443.1 754.2 440.0M756.7 439.0 756.4 442.0"/><path stroke="#2424fb" d="M650.9 442.7 651.0 439.5M659.0 436.2 659.0 439.3M754.2 440.0 754.7 436.0M757.1 435.0 756.7 439.0"/><path stroke="#2436ff" d="M651.0 439.5 651.0 436.3M659.1 433.0 659.0 436.2M754.7 436.0 755.3 432.0M757.7 431.0 757.1 435.0"/><path stroke="#2448ff" d="M651.0 436.3 651.1 433.1M659.1 429.8 659.1 433.0M755.3 432.0 755.8 429.0M758.1 428.0 757.7 431.0"/><path stroke="#245bff" d="M651.1 433.1 651.2 429.9M659.2 426.6 659.1 429.8M755.8 429.0 756.5 425.0M758.9 423.9 758.1 428.0"/><path stroke="#246dff" d="M651.2 429.9 651.3 426.8M659.2 423.4 659.2 426.6M756.5 425.0 757.2 421.9M759.5 420.9 758.9 423.9"/><path stroke="#247fff" d="M651.3 426.8 651.4 423.6M659.3 420.2 659.2 423.4M757.2 421.9 758.2 417.9M760.4 416.9 759.5 420.9"/><path stroke="#2491ff" d="M651.4 423.6 651.6 417.2M659.4 413.8 659.3 420.2M758.2 417.9 759.0 414.9M761.1 413.9 760.4 416.9"/><path stroke="#24a4ff" d="M651.6 417.2 651.7 414.0M659.5 410.7 659.4 413.8M759.0 414.9 760.1 410.9M762.1 409.8 761.1 413.9"/><path stroke="#24b6ff" d="M651.7 414.0 651.9 410.8M659.6 407.5 659.5 410.7M760.1 410.9 761.4 406.8M763.1 406.5 762.1 409.8"/><path stroke="#24c8ff" d="M651.9 410.8 652.0 407.6M659.7 404.3 659.6 407.5M761.4 406.8 762.1 405.3 762.8 404.6 763.1 404.7 763.2 405.1 763.1 406.5"/><path stroke="#24daff" d="M652.0 407.6 652.2 404.4M659.8 401.1 659.7 404.3"/><path stroke="#24edff" d="M652.2 404.4 652.4 401.2M659.9 397.9 659.8 401.1"/><path stroke="#24ffff" d="M652.4 401.2 652.5 398.1M660.0 394.7 659.9 397.9"/><path stroke="#36ffed" d="M652.5 398.1 652.7 394.9M660.1 391.5 660.0 394.7"/><path stroke="#48ffda" d="M652.7 394.9 653.2 388.5M660.4 385.2 660.1 391.5"/><path stroke="#5bffc8" d="M653.2 388.5 653.4 385.3M660.5 382.0 660.4 385.2"/><path stroke="#6dffb6" d="M653.4 385.3 653.6 382.1M660.7 378.8 660.5 382.0"/><path stroke="#7fffa4" d="M653.6 382.1 653.9 378.9M660.8 375.6 660.7 378.8"/><path stroke="#91ff91" d="M653.9 378.9 654.1 375.7M661.0 372.4 660.8 375.6"/><path stroke="#a4ff7f" d="M654.1 375.7 654.4 372.5M661.2 369.2 661.0 372.4"/><path stroke="#b6ff6d" d="M654.4 372.5 654.7 369.3M661.3 366.0 661.2 369.2"/><path stroke="#c8ff5b" d="M654.7 369.3 654.9 366.2M661.5 362.8 661.3 366.0"/><path stroke="#daff48" d="M654.9 366.2 655.5 359.8M661.9 356.5 661.5 362.8"/><path stroke="#edff36" d="M655.5 359.8 655.9 356.6M662.1 353.3 661.9 356.5"/><path stroke="#ffff24" d="M655.9 356.6 656.2 353.4M662.3 350.1 662.1 353.3"/><path stroke="#ffed24" d="M656.2 353.4 656.5 350.2M662.5 346.9 662.3 350.1"/><path stroke="#ffda24" d="M656.5 350.2 656.9 347.0M662.7 343.7 662.5 346.9"/><path stroke="#ffc824" d="M656.9 347.0 657.2 343.8M662.9 340.5 662.7 343.7"/><path stroke="#ffb624" d="M657.2 343.8 657.6 340.6M663.1 337.3 662.9 340.5"/><path stroke="#ffa424" d="M657.6 340.6 658.0 337.4M663.4 334.1 663.1 337.3"/><path stroke="#ff9124" d="M658.0 337.4 658.8 331.0M663.9 327.7 663.4 334.1"/><path stroke="#ff7f24" d="M658.8 331.0 659.2 327.8M664.1 324.6 663.9 327.7"/><path stroke="#ff6d24" d="M659.2 327.8 659.6 324.6M664.4 321.4 664.1 324.6"/><path stroke="#ff5b24" d="M659.6 324.6 660.0 321.5M664.6 318.2 664.4 321.4"/><path stroke="#ff4824" d="M660.0 321.5 660.5 318.3M664.9 315.0 664.6 318.2"/><path stroke="#ff3624" d="M660.5 318.3 660.9 315.1M665.2 311.8 664.9 315.0"/><path stroke="#ff2424" d="M660.9 315.1 661.4 311.9M665.5 308.6 665.2 311.8"/><path stroke="#ed2424" d="M661.4 311.9 661.9 308.7M665.8 305.4 665.5 308.6"/><path stroke="#da2424" d="M661.9 308.7 662.9 302.3M666.4 299.0 665.8 305.4"/><path stroke="#c82424" d="M662.9 302.3 663.5 298.4M666.4 298.0 666.4 299.0"/><path stroke="#b62424" d="M663.5 298.4 664.1 296.3 664.8 294.8M666.0 294.6 666.4 296.0 666.4 298.0"/><path stroke="#a42424" d="M664.8 294.8 665.5 294.2 666.0 294.6"/></g>
<path stroke="#29298a" d="M763.4 460.6 812.0 460.1"/><path stroke="#292998" d="M396.0 470.4 407.4 470.2 413.7 469.8 417.9 468.8 419.4 468.2 420.9 467.2M421.5 466.7 422.1 468.9 422.4 469.4 423.0 469.7 423.6 469.8 427.5 469.4 430.5 468.8 432.6 468.1 434.4 466.9M583.9 462.0 587.2 462.5 592.0 462.9 600.2 463.0 620.5 462.7 645.7 461.9 707.9 460.8 763.4 460.6"/><path stroke="#2828a9" d="M420.9 467.2 421.5 466.7M434.4 466.9 435.6 465.7 436.8 463.7M437.4 462.9 437.7 464.4 438.0 465.1 438.3 465.4 438.9 465.0 439.5 463.8M449.7 462.4 450.9 463.8 452.1 464.5 453.6 465.0 455.4 465.2 457.5 465.0 459.3 464.6 461.2 463.7 462.7 462.6M480.7 461.7 483.1 462.6 486.1 463.4 489.1 463.7 492.4 463.8 494.5 463.7 497.5 463.0 499.6 462.3 501.7 461.2M575.6 458.5 578.4 460.4 581.6 461.5 583.9 462.0"/><path stroke="#2727bb" d="M436.8 463.7 437.1 463.0 437.4 462.9M439.5 463.8 440.4 460.1M448.2 458.7 448.8 460.6 449.7 462.4M462.7 462.6 463.9 461.2 465.1 458.9M475.9 458.0 478.0 460.1 480.7 461.7M501.7 461.2 503.8 459.7 505.6 457.7M525.4 456.8 527.5 457.9 529.9 458.6 532.3 459.0 535.5 459.1 540.2 458.6 543.4 457.7 545.8 456.6M573.0 455.3 574.3 457.2 575.6 458.5"/><path stroke="#2626ce" d="M440.4 460.1 440.7 458.1M447.3 454.1 448.2 458.7M465.1 458.9 466.0 455.9M474.1 454.7 475.0 456.6 475.9 458.0M505.6 457.7 506.8 455.8 507.7 454.0M521.8 453.2 523.3 455.1 525.4 456.8M545.8 456.6 548.4 454.8 550.2 453.0M571.4 451.4 573.0 455.3"/><path stroke="#2525e4" d="M440.7 458.1 441.3 452.7M447.0 452.0 447.3 454.1M466.0 455.9 466.6 452.6M472.9 450.5 474.1 454.7M507.7 454.0 508.9 450.5M520.0 449.7 521.8 453.2M550.2 453.0 551.5 451.0 552.4 449.1M570.6 448.1 571.4 451.4"/><path stroke="#2424fb" d="M441.3 452.7 441.6 449.2M446.4 446.8 447.0 452.0M466.6 452.6 466.9 450.4M472.3 447.2 472.9 450.5M508.9 450.5 509.8 446.7M518.8 446.0 520.0 449.7M552.4 449.1 553.5 445.9M570.0 444.1 570.6 448.1"/><path stroke="#2436ff" d="M441.6 449.2 441.9 445.5M446.1 444.0 446.4 446.8M466.9 450.4 467.4 444.9M471.7 442.8 472.3 447.2M509.8 446.7 510.4 443.3M517.9 441.8 518.8 446.0M553.5 445.9 554.4 442.0M569.7 440.8 570.0 444.1"/><path stroke="#2448ff" d="M441.9 445.5 442.2 442.1M445.5 439.1 446.1 444.0M467.4 444.9 467.7 441.8M471.4 440.4 471.7 442.8M510.4 443.3 510.7 441.2M517.3 438.1 517.9 441.8M554.4 442.0 555.2 438.2M569.6 437.6 569.7 440.8"/><path stroke="#245bff" d="M442.2 442.1 442.5 439.2M445.2 437.5 445.5 439.1M467.7 441.8 468.0 438.8M470.7 435.8 471.4 440.4M510.7 441.2 511.3 436.0M516.7 433.1 517.3 438.1M555.2 438.2 555.8 435.0M569.6 433.6 569.6 437.6"/><path stroke="#246dff" d="M442.5 439.2 442.8 437.3 443.1 436.3 443.4 435.8 444.3 435.7 444.6 435.9 445.2 437.5M468.0 438.8 468.6 433.5M470.1 432.1 470.7 435.8M511.3 436.0 511.6 432.8M516.4 430.0 516.7 433.1M555.8 435.0 556.7 431.2M569.7 430.4 569.6 433.6"/><path stroke="#247fff" d="M468.6 433.5 469.2 430.1 469.5 430.1 470.1 432.1M511.6 432.8 511.9 429.1M516.1 426.5 516.4 430.0M556.7 431.2 557.9 427.4M569.9 426.5 569.7 430.4"/><path stroke="#2491ff" d="M515.8 422.4 516.1 426.5M557.9 427.4 559.2 423.6M570.2 422.7 569.9 426.5"/><path stroke="#24a4ff" d="M511.9 429.1 512.2 424.8M515.5 417.7 515.8 422.4M559.2 423.6 560.5 420.5M570.5 419.5 570.2 422.7"/><path stroke="#24b6ff" d="M512.2 424.8 512.5 419.9M515.2 412.6 515.5 417.7M560.5 420.5 562.1 416.7M570.9 415.7 570.5 419.5"/><path stroke="#24c8ff" d="M512.5 419.9 512.8 414.5M562.1 416.7 563.6 413.0M571.4 411.9 570.9 415.7"/><path stroke="#24daff" d="M514.9 407.4 515.2 412.6M563.6 413.0 565.1 409.4M572.0 408.2 571.4 411.9"/><path stroke="#24edff" d="M512.8 414.5 513.1 408.8M514.5 402.6 514.9 407.4M565.1 409.4 566.6 405.8M572.5 405.2 572.0 408.2"/><path stroke="#24ffff" d="M513.1 408.8 513.3 403.6M566.6 405.8 567.9 402.2M573.1 401.6 572.5 405.2"/><path stroke="#36ffed" d="M514.2 399.1 514.5 402.6M567.9 402.2 569.1 398.7M573.8 398.0 573.1 401.6"/><path stroke="#48ffda" d="M513.3 403.6 513.6 399.7 513.9 398.1 514.2 399.1M569.1 398.7 570.4 394.7M574.6 393.9 573.8 398.0"/><path stroke="#5bffc8" d="M570.4 394.7 571.5 391.3M575.3 390.5 574.6 393.9"/><path stroke="#6dffb6" d="M571.5 391.3 572.7 387.4M576.1 387.1 575.3 390.5"/><path stroke="#7fffa4" d="M572.7 387.4 573.7 384.2M577.0 383.3 576.1 387.1"/><path stroke="#91ff91" d="M573.7 384.2 574.8 380.5M578.0 379.5 577.0 383.3"/><path stroke="#a4ff7f" d="M574.8 380.5 576.0 376.9M578.9 375.9 578.0 379.5"/><path stroke="#b6ff6d" d="M576.0 376.9 577.3 372.9M579.9 372.3 578.9 375.9"/><path stroke="#c8ff5b" d="M577.3 372.9 578.4 369.5M580.9 368.9 579.9 372.3"/><path stroke="#daff48" d="M578.4 369.5 579.7 365.7M582.1 365.1 580.9 368.9"/><path stroke="#edff36" d="M579.7 365.7 581.0 362.1M583.2 361.4 582.1 365.1"/><path stroke="#ffff24" d="M581.0 362.1 582.3 358.7M584.4 357.9 583.2 361.4"/><path stroke="#ffed24" d="M582.3 358.7 583.6 355.0M585.6 354.2 584.4 357.9"/><path stroke="#ffda24" d="M583.6 355.0 585.1 351.1M586.8 350.7 585.6 354.2"/><path stroke="#ffc824" d="M585.1 351.1 586.6 347.6M588.1 347.1 586.8 350.7"/><path stroke="#ffb624" d="M586.6 347.6 588.1 343.9M589.5 343.5 588.1 347.1"/><path stroke="#ffa424" d="M588.1 343.9 589.6 340.4M590.8 339.9 589.5 343.5"/><path stroke="#ff9124" d="M589.6 340.4 591.3 336.5M592.2 336.3 590.8 339.9"/><path stroke="#ff7f24" d="M591.3 336.5 592.9 333.0M593.6 332.7 592.2 336.3"/><path stroke="#ff6d24" d="M592.9 333.0 594.6 329.3M595.0 329.1 593.6 332.7"/><path stroke="#ff5b24" d="M594.6 329.3 595.4 327.8 595.0 329.1"/><g stroke-width="1.6"><path stroke="#29298a" d="M756.6 459.9 756.6 460.8"/><path stroke="#292998" d="M659.7 459.0 659.8 462.1M754.4 460.8 754.4 458.1M756.6 457.2 756.6 459.9"/><path stroke="#2828a9" d="M651.9 462.3 651.9 459.2M659.7 455.9 659.7 459.0M754.4 458.1 754.5 454.5M756.7 453.6 756.6 457.2"/><path stroke="#2727bb" d="M651.9 459.2 651.9 456.1M659.7 452.8 659.7 455.9M754.5 454.5 754.7 450.9M756.9 449.9 756.7 453.6"/><path stroke="#2626ce" d="M651.9 456.1 651.9 449.8M659.8 446.5 659.7 452.8M754.7 450.9 754.9 447.2M757.1 446.3 756.9 449.9"/><path stroke="#2525e4" d="M651.9 449.8 652.0 446.7M659.8 443.4 659.8 446.5M754.9 447.2 755.3 443.6M757.5 442.7 757.1 446.3"/><path stroke="#2424fb" d="M652.0 446.7 652.0 443.6M659.8 440.3 659.8 443.4M755.3 443.6 755.7 440.0M757.9 439.1 757.5 442.7"/><path stroke="#2436ff" d="M652.0 443.6 652.1 440.5M659.9 437.2 659.8 440.3M755.7 440.0 756.2 436.4M758.3 435.5 757.9 439.1"/><path stroke="#2448ff" d="M652.1 440.5 652.1 437.3M659.9 434.1 659.9 437.2M756.2 436.4 756.8 432.8M758.9 431.8 758.3 435.5"/><path stroke="#245bff" d="M652.1 437.3 652.2 434.2M660.0 430.9 659.9 434.1M756.8 432.8 757.5 429.1M759.5 428.2 758.9 431.8"/><path stroke="#246dff" d="M652.2 434.2 652.3 431.1M660.1 424.7 660.0 430.9M757.5 429.1 758.3 425.5M760.2 424.6 759.5 428.2"/><path stroke="#247fff" d="M652.3 431.1 652.5 424.8M660.1 421.6 660.1 424.7M758.3 425.5 759.1 421.9M761.0 421.0 760.2 424.6"/><path stroke="#2491ff" d="M652.5 424.8 652.6 421.7M660.2 418.5 660.1 421.6M759.1 421.9 760.1 418.3M761.9 417.3 761.0 421.0"/><path stroke="#24a4ff" d="M652.6 421.7 652.7 418.6M660.3 415.3 660.2 418.5M760.1 418.3 760.9 415.2 761.5 414.0M762.5 413.9 762.4 415.1 761.9 417.3"/><path stroke="#24b6ff" d="M652.7 418.6 652.9 415.5M660.4 412.2 660.3 415.3M761.5 414.0 762.2 413.3 762.5 413.9"/><path stroke="#24c8ff" d="M652.9 415.5 653.0 412.4M660.5 409.1 660.4 412.2"/><path stroke="#24daff" d="M653.0 412.4 653.2 409.2M660.5 406.0 660.5 409.1"/><path stroke="#24edff" d="M653.2 409.2 653.5 403.0M660.8 399.7 660.5 406.0"/><path stroke="#24ffff" d="M653.5 403.0 653.7 399.9M660.9 396.6 660.8 399.7"/><path stroke="#36ffed" d="M653.7 399.9 653.9 396.7M661.0 393.5 660.9 396.6"/><path stroke="#48ffda" d="M653.9 396.7 654.1 393.6M661.1 390.4 661.0 393.5"/><path stroke="#5bffc8" d="M654.1 393.6 654.3 390.5M661.3 387.2 661.1 390.4"/><path stroke="#6dffb6" d="M654.3 390.5 654.5 387.4M661.4 384.1 661.3 387.2"/><path stroke="#7fffa4" d="M654.5 387.4 654.7 384.2M661.5 381.0 661.4 384.1"/><path stroke="#91ff91" d="M654.7 384.2 655.2 378.0M661.8 374.7 661.5 381.0"/><path stroke="#a4ff7f" d="M655.2 378.0 655.5 374.9M662.0 371.6 661.8 374.7"/><path stroke="#b6ff6d" d="M655.5 374.9 655.8 371.7M662.2 368.5 662.0 371.6"/><path stroke="#c8ff5b" d="M655.8 371.7 656.0 368.6M662.3 365.4 662.2 368.5"/><path stroke="#daff48" d="M656.0 368.6 656.3 365.5M662.5 362.2 662.3 365.4"/><path stroke="#edff36" d="M656.3 365.5 656.6 362.4M662.7 359.1 662.5 362.2"/><path stroke="#ffff24" d="M656.6 362.4 657.3 356.1M663.1 352.9 662.7 359.1"/><path stroke="#ffed24" d="M657.3 356.1 657.6 353.0M663.3 349.8 663.1 352.9"/><path stroke="#ffda24" d="M657.6 353.0 657.9 349.9M663.5 346.6 663.3 349.8"/><path stroke="#ffc824" d="M657.9 349.9 658.3 346.7M663.7 343.5 663.5 346.6"/><path stroke="#ffb624" d="M658.3 346.7 658.7 343.6M664.0 340.4 663.7 343.5"/><path stroke="#ffa424" d="M658.7 343.6 659.0 340.5M664.2 337.3 664.0 340.4"/><path stroke="#ff9124" d="M659.0 340.5 659.4 337.3M664.4 334.1 664.2 337.3"/><path stroke="#ff7f24" d="M659.4 337.3 660.2 331.1M664.9 327.9 664.4 334.1"/><path stroke="#ff6d24" d="M660.2 331.1 660.6 328.0M665.2 324.8 664.9 327.9"/><path stroke="#ff5b24" d="M660.6 328.0 661.0 324.8M665.4 321.6 665.2 324.8"/><path stroke="#ff4824" d="M661.0 324.8 661.5 321.7M665.7 318.5 665.4 321.6"/><path stroke="#ff3624" d="M661.5 321.7 661.9 318.6M666.0 315.4 665.7 318.5"/><path stroke="#ff2424" d="M661.9 318.6 662.4 315.4M666.2 312.3 666.0 315.4"/><path stroke="#ed2424" d="M662.4 315.4 662.8 312.3M666.5 309.1 666.2 312.3"/><path stroke="#da2424" d="M662.8 312.3 663.8 305.7M666.9 305.3 666.5 309.1"/><path stroke="#c82424" d="M663.8 305.7 664.3 303.8 665.0 302.1M666.5 301.9 666.8 303.5 666.9 305.3"/><path stroke="#b62424" d="M665.0 302.1 665.5 301.4 665.9 301.2 666.3 301.4 666.5 301.9"/></g>
<path stroke="#29298a" d="M764.0 464.2 812.9 463.8"/><path stroke="#292998" d="M396.9 474.2 408.6 474.0 414.6 473.6 418.8 472.7 420.3 472.0 421.8 471.1M422.4 470.6 423.0 472.8 423.3 473.2 423.9 473.6 424.5 473.6 428.7 473.2 431.7 472.7 433.8 471.9 435.6 470.6M584.6 465.7 587.8 466.2 592.5 466.5 600.3 466.7 621.2 466.4 646.4 465.6 708.8 464.5 764.0 464.2"/><path stroke="#2828a9" d="M421.8 471.1 422.4 470.6M435.6 470.6 436.8 469.2 438.0 466.9M438.3 466.3 438.9 468.5 439.2 468.7 439.5 468.5 440.1 467.4M451.2 466.3 452.4 467.7 453.9 468.6 456.0 469.2 458.1 469.4 460.2 469.2 462.3 468.5 464.1 467.4 465.3 466.1M479.2 465.6 481.6 466.5 484.3 467.2 487.6 467.6 490.9 467.7 493.9 467.5 496.0 467.0 498.7 466.1 501.1 465.0M576.4 462.3 579.2 464.1 582.4 465.2 584.6 465.7"/><path stroke="#2727bb" d="M438.0 466.9 438.3 466.3M440.1 467.4 441.0 463.8M449.4 461.8 450.3 464.6 451.2 466.3M465.3 466.1 466.2 464.4 466.8 462.6M475.0 461.7 475.9 463.0 476.8 463.9 479.2 465.6M501.1 465.0 503.5 463.2 505.3 461.3M527.5 460.4 529.3 461.3 531.4 462.0 533.2 462.3 536.4 462.6 541.1 462.2 544.4 461.4 546.8 460.4M573.5 458.6 574.7 460.5 576.4 462.3"/><path stroke="#2626ce" d="M441.0 463.8 441.3 461.8M448.8 458.8 449.4 461.8M466.8 462.6 467.4 459.7M473.4 457.5 474.1 459.6 475.0 461.7M505.3 461.3 507.4 457.9M523.6 456.9 525.4 458.9 527.5 460.4M546.8 460.4 549.4 458.7 551.7 456.3M572.2 455.4 573.5 458.6"/><path stroke="#2525e4" d="M441.3 461.8 441.9 456.2M448.2 454.6 448.8 458.8M467.4 459.7 468.0 455.5M472.8 454.5 473.4 457.5M507.4 457.9 508.9 454.0M521.5 453.0 522.4 455.0 523.6 456.9M551.7 456.3 552.9 454.4 553.8 452.6M571.3 451.6 572.2 455.4"/><path stroke="#2424fb" d="M441.9 456.2 442.2 452.4M447.9 451.8 448.2 454.6M468.0 455.5 468.3 453.1M472.2 450.8 472.8 454.5M508.9 454.0 509.8 450.7M520.3 449.5 521.5 453.0M553.8 452.6 554.9 449.4M570.8 448.4 571.3 451.6"/><path stroke="#2436ff" d="M447.3 445.2 447.9 451.8M468.3 453.1 468.9 448.5M471.6 447.4 472.2 450.8M509.8 450.7 510.4 447.8M519.4 445.7 520.3 449.5M554.9 449.4 555.7 445.7M570.5 444.6 570.8 448.4"/><path stroke="#2448ff" d="M442.2 452.4 442.5 448.0M447.0 441.7 447.3 445.2M468.9 448.5 469.5 445.1M470.7 444.1 471.6 447.4M510.4 447.8 511.0 444.1M518.8 442.4 519.4 445.7M555.7 445.7 556.5 442.0M570.4 440.8 570.5 444.6"/><path stroke="#245bff" d="M442.5 448.0 442.8 443.4M446.7 438.3 447.0 441.7M469.5 445.1 470.1 443.5 470.4 443.6 470.7 444.1M511.0 444.1 511.3 442.0M518.2 438.0 518.8 442.4M556.5 442.0 557.2 438.3M570.4 437.6 570.4 440.8"/><path stroke="#246dff" d="M442.8 443.4 443.1 439.0M446.4 435.5 446.7 438.3M511.3 442.0 511.9 436.6M517.9 435.4 518.2 438.0M557.2 438.3 558.1 434.6M570.5 433.8 570.4 437.6"/><path stroke="#247fff" d="M443.1 439.0 443.4 435.4M446.1 433.3 446.4 435.5M511.9 436.6 512.2 433.3M517.3 428.8 517.9 435.4M558.1 434.6 559.2 431.0M570.7 430.1 570.5 433.8"/><path stroke="#2491ff" d="M443.4 435.4 443.7 433.0 444.0 431.7 444.3 431.2 445.2 431.0 445.5 431.3 446.1 433.3M512.2 433.3 512.5 429.6M517.0 424.7 517.3 428.8M559.2 431.0 560.5 427.3M571.0 426.4 570.7 430.1"/><path stroke="#24a4ff" d="M512.5 429.6 512.8 425.3M560.5 427.3 561.9 423.7M571.3 423.3 571.0 426.4"/><path stroke="#24b6ff" d="M516.7 420.0 517.0 424.7M561.9 423.7 563.3 420.1M571.7 419.7 571.3 423.3"/><path stroke="#24c8ff" d="M512.8 425.3 513.1 420.4M516.4 414.7 516.7 420.0M563.3 420.1 564.8 416.6M572.2 416.1 571.7 419.7"/><path stroke="#24daff" d="M513.1 420.4 513.3 414.9M516.0 408.9 516.4 414.7M564.8 416.6 566.2 413.1M572.7 412.5 572.2 416.1"/><path stroke="#24edff" d="M566.2 413.1 567.5 409.6M573.3 408.4 572.7 412.5"/><path stroke="#24ffff" d="M513.3 414.9 513.6 409.1M515.7 402.8 516.0 408.9M567.5 409.6 569.0 405.6M574.0 404.9 573.3 408.4"/><path stroke="#36ffed" d="M569.0 405.6 570.1 402.3M574.6 401.5 574.0 404.9"/><path stroke="#48ffda" d="M513.6 409.1 513.9 403.1M515.4 397.3 515.7 402.8M570.1 402.3 571.4 398.4M575.4 397.6 574.6 401.5"/><path stroke="#5bffc8" d="M513.9 403.1 514.2 397.7M515.1 393.4 515.4 397.3M571.4 398.4 572.5 394.7M576.1 394.3 575.4 397.6"/><path stroke="#6dffb6" d="M514.2 397.7 514.5 393.8M514.8 392.1 515.1 393.4M572.5 394.7 573.7 391.0M576.9 390.6 576.1 394.3"/><path stroke="#7fffa4" d="M514.5 393.8 514.8 392.1M573.7 391.0 574.8 387.4M577.8 386.9 576.9 390.6"/><path stroke="#91ff91" d="M574.8 387.4 575.9 383.9M578.7 383.4 577.8 386.9"/><path stroke="#a4ff7f" d="M575.9 383.9 577.0 380.5M579.7 379.9 578.7 383.4"/><path stroke="#b6ff6d" d="M577.0 380.5 578.2 376.7M580.7 376.1 579.7 379.9"/><path stroke="#c8ff5b" d="M578.2 376.7 579.4 373.1M581.8 372.4 580.7 376.1"/><path stroke="#daff48" d="M579.4 373.1 580.6 369.6M582.9 368.9 581.8 372.4"/><path stroke="#edff36" d="M580.6 369.6 582.0 365.8M583.9 365.5 582.9 368.9"/><path stroke="#ffff24" d="M582.0 365.8 583.3 362.2M585.1 361.9 583.9 365.5"/><path stroke="#ffed24" d="M583.3 362.2 584.7 358.5M586.3 358.1 585.1 361.9"/><path stroke="#ffda24" d="M584.7 358.5 586.2 354.7M587.6 354.6 586.3 358.1"/><path stroke="#ffc824" d="M586.2 354.7 587.6 351.2M588.9 350.8 587.6 354.6"/><path stroke="#ffb624" d="M587.6 351.2 589.1 347.5M590.2 347.3 588.9 350.8"/><path stroke="#ffa424" d="M589.1 347.5 590.6 343.9M591.6 343.7 590.2 347.3"/><path stroke="#ff9124" d="M590.6 343.9 592.3 340.2M592.9 340.0 591.6 343.7"/><path stroke="#ff7f24" d="M592.3 340.2 594.0 336.5M594.3 336.5 592.9 340.0"/><path stroke="#ff6d24" d="M594.0 336.5 594.4 336.0 594.3 336.5"/><g stroke-width="1.6"><path stroke="#29298a" d="M757.4 463.7 757.4 464.5"/><path stroke="#292998" d="M660.5 462.8 660.5 465.8M755.5 464.5 755.5 461.3M757.4 460.5 757.4 463.7"/><path stroke="#2828a9" d="M653.0 466.0 653.0 462.9M660.5 459.8 660.5 462.8M755.5 461.3 755.6 457.4M757.6 456.6 757.4 460.5"/><path stroke="#2727bb" d="M653.0 462.9 653.0 456.9M660.5 453.7 660.5 459.8M755.6 457.4 755.8 454.2M757.7 453.4 757.6 456.6"/><path stroke="#2626ce" d="M653.0 456.9 653.0 453.8M660.5 450.7 660.5 453.7M755.8 454.2 756.1 450.2M758.0 449.4 757.7 453.4"/><path stroke="#2525e4" d="M653.0 453.8 653.0 450.8M660.5 447.6 660.5 450.7M756.1 450.2 756.4 447.1M758.3 446.3 758.0 449.4"/><path stroke="#2424fb" d="M653.0 450.8 653.1 447.8M660.6 444.6 660.5 447.6M756.4 447.1 756.8 443.1M758.7 442.3 758.3 446.3"/><path stroke="#2436ff" d="M653.1 447.8 653.1 444.7M660.6 441.6 660.6 444.6M756.8 443.1 757.3 440.0M759.1 439.1 758.7 442.3"/><path stroke="#2448ff" d="M653.1 444.7 653.2 441.7M660.6 438.5 660.6 441.6M757.3 440.0 758.0 436.0M759.7 435.2 759.1 439.1"/><path stroke="#245bff" d="M653.2 441.7 653.3 435.6M660.7 432.4 660.6 438.5M758.0 436.0 758.6 432.8M760.2 432.0 759.7 435.2"/><path stroke="#246dff" d="M653.3 435.6 653.4 432.6M660.8 429.4 660.7 432.4M758.6 432.8 759.4 428.9M761.0 428.0 760.2 432.0"/><path stroke="#247fff" d="M653.4 432.6 653.5 429.6M660.9 426.4 660.8 429.4M759.4 428.9 760.1 425.7M761.7 424.7 761.0 428.0"/><path stroke="#2491ff" d="M653.5 429.6 653.6 426.5M660.9 423.3 660.9 426.4M760.1 425.7 760.7 423.7 761.4 422.7 761.7 422.7 761.8 423.1 761.7 424.7"/><path stroke="#24a4ff" d="M653.6 426.5 653.7 423.5M661.0 420.3 660.9 423.3"/><path stroke="#24b6ff" d="M653.7 423.5 654.0 417.4M661.2 414.2 661.0 420.3"/><path stroke="#24c8ff" d="M654.0 417.4 654.1 414.4M661.3 411.2 661.2 414.2"/><path stroke="#24daff" d="M654.1 414.4 654.3 411.3M661.3 408.2 661.3 411.2"/><path stroke="#24edff" d="M654.3 411.3 654.4 408.3M661.4 405.1 661.3 408.2"/><path stroke="#24ffff" d="M654.4 408.3 654.6 405.3M661.6 402.1 661.4 405.1"/><path stroke="#36ffed" d="M654.6 405.3 654.8 402.2M661.7 399.1 661.6 402.1"/><path stroke="#48ffda" d="M654.8 402.2 655.2 396.2M661.9 393.0 661.7 399.1"/><path stroke="#5bffc8" d="M655.2 396.2 655.4 393.1M662.0 390.0 661.9 393.0"/><path stroke="#6dffb6" d="M655.4 393.1 655.6 390.1M662.2 386.9 662.0 390.0"/><path stroke="#7fffa4" d="M655.6 390.1 655.8 387.0M662.3 383.9 662.2 386.9"/><path stroke="#91ff91" d="M655.8 387.0 656.1 384.0M662.5 380.8 662.3 383.9"/><path stroke="#a4ff7f" d="M656.1 384.0 656.6 377.9M662.8 374.8 662.5 380.8"/><path stroke="#b6ff6d" d="M656.6 377.9 656.8 374.9M662.9 371.7 662.8 374.8"/><path stroke="#c8ff5b" d="M656.8 374.9 657.1 371.8M663.1 368.7 662.9 371.7"/><path stroke="#daff48" d="M657.1 371.8 657.4 368.8M663.3 365.7 663.1 368.7"/><path stroke="#edff36" d="M657.4 368.8 657.7 365.8M663.5 362.6 663.3 365.7"/><path stroke="#ffff24" d="M657.7 365.8 658.0 362.7M663.8 356.5 663.5 362.6"/><path stroke="#ffed24" d="M658.0 362.7 658.6 356.7M664.0 353.5 663.8 356.5"/><path stroke="#ffda24" d="M658.6 356.7 659.0 353.6M664.2 350.5 664.0 353.5"/><path stroke="#ffc824" d="M659.0 353.6 659.3 350.6M664.5 347.4 664.2 350.5"/><path stroke="#ffb624" d="M659.3 350.6 659.6 347.5M664.7 344.4 664.5 347.4"/><path stroke="#ffa424" d="M659.6 347.5 660.0 344.5M664.9 341.4 664.7 344.4"/><path stroke="#ff9124" d="M660.0 344.5 660.7 338.4M665.4 335.3 664.9 341.4"/><path stroke="#ff7f24" d="M660.7 338.4 661.1 335.4M665.6 332.2 665.4 335.3"/><path stroke="#ff6d24" d="M661.1 335.4 661.5 332.3M665.8 329.2 665.6 332.2"/><path stroke="#ff5b24" d="M661.5 332.3 661.9 329.3M666.1 326.2 665.8 329.2"/><path stroke="#ff4824" d="M661.9 329.3 662.3 326.2M666.3 323.1 666.1 326.2"/><path stroke="#ff3624" d="M662.3 326.2 663.2 320.2M666.9 317.1 666.3 323.1"/><path stroke="#ff2424" d="M663.2 320.2 663.6 317.1M667.1 314.0 666.9 317.1"/><path stroke="#ed2424" d="M663.6 317.1 664.2 313.1M667.2 312.7 667.1 314.0"/><path stroke="#da2424" d="M664.2 313.1 665.0 310.8 665.9 309.3M666.4 309.2 667.0 310.3 667.2 312.7"/><path stroke="#c82424" d="M665.9 309.3 666.4 309.2"/></g>
<path stroke="#29298a" d="M765.5 467.9 813.8 467.5"/><path stroke="#292998" d="M397.7 478.0 409.5 477.8 415.8 477.3 420.0 476.3 421.5 475.6 423.0 474.6M423.3 474.3 423.9 476.5 424.2 477.0 424.8 477.3 425.4 477.4 429.6 477.0 432.6 476.4 434.7 475.6 436.5 474.3M459.0 473.5 462.0 473.4M585.3 469.4 588.3 469.9 592.8 470.2 600.2 470.4 621.9 470.1 647.4 469.2 709.6 468.2 765.5 467.9"/><path stroke="#2828a9" d="M423.0 474.6 423.3 474.3M436.5 474.3 437.7 472.9 438.9 470.6M439.2 469.9 439.8 471.7 440.1 471.8 440.7 471.0M452.4 469.7 453.6 471.2 455.1 472.3 456.9 473.0 459.0 473.5M462.0 473.4 463.8 472.9 465.3 472.2 466.2 471.5 467.1 470.2M477.0 469.2 479.2 470.3 481.9 471.0 485.2 471.5 488.8 471.6 492.1 471.4 495.4 470.9 498.1 470.0 500.5 468.8M577.2 466.1 580.0 467.9 583.1 468.9 585.3 469.4"/><path stroke="#2727bb" d="M438.9 470.6 439.2 469.9M440.7 471.0 441.6 467.6M450.9 466.1 451.5 467.9 452.4 469.7M467.1 470.2 467.7 468.8 468.3 466.5M474.3 465.2 475.5 467.7 477.0 469.2M500.5 468.8 502.9 467.1 505.0 465.0M529.3 464.1 531.7 465.1 534.1 465.7 537.3 466.1 539.9 466.1 542.1 465.9 545.4 465.1 548.8 463.7M574.3 462.6 575.5 464.4 577.2 466.1"/><path stroke="#2626ce" d="M441.6 467.6 442.2 463.4M450.0 462.0 450.9 466.1M468.3 466.5 468.9 463.2M473.4 461.8 474.3 465.2M505.0 465.0 506.2 463.4 507.4 461.3M525.1 460.4 526.9 462.3 529.3 464.1M548.8 463.7 551.1 462.1 552.8 460.4M572.9 458.9 574.3 462.6"/><path stroke="#2525e4" d="M442.2 463.4 442.5 460.3M449.4 457.6 450.0 462.0M468.9 463.2 469.5 459.6M472.5 458.0 473.4 461.8M507.4 461.3 508.9 457.7M523.0 456.7 525.1 460.4M552.8 460.4 554.0 458.6 555.0 456.8M572.0 455.2 572.9 458.9"/><path stroke="#2424fb" d="M442.5 460.3 442.8 456.6M449.1 454.8 449.4 457.6M469.5 459.6 470.1 457.1 470.7 455.7 471.0 455.5 471.6 455.9 472.5 458.0M508.9 457.7 509.8 454.8M521.8 453.4 523.0 456.7M555.0 456.8 556.2 453.2M571.5 451.6 572.0 455.2"/><path stroke="#2436ff" d="M448.8 451.5 449.1 454.8M509.8 454.8 510.7 450.8M520.9 450.0 521.8 453.4M556.2 453.2 557.2 449.0M571.3 448.5 571.5 451.6"/><path stroke="#2448ff" d="M442.8 456.6 443.1 452.0M448.5 447.6 448.8 451.5M510.7 450.8 511.3 447.4M520.0 445.3 520.9 450.0M557.2 449.0 557.9 445.5M571.2 444.9 571.3 448.5"/><path stroke="#245bff" d="M443.1 452.0 443.4 446.7M448.2 443.5 448.5 447.6M511.3 447.4 511.6 445.4M519.4 441.0 520.0 445.3M557.9 445.5 558.6 441.9M571.2 441.2 571.2 444.9"/><path stroke="#246dff" d="M447.9 439.1 448.2 443.5M511.6 445.4 512.2 440.6M519.1 438.5 519.4 441.0M558.6 441.9 559.5 438.4M571.3 437.6 571.2 441.2"/><path stroke="#247fff" d="M443.4 446.7 443.7 441.1M447.6 435.0 447.9 439.1M512.2 440.6 512.5 437.8M518.8 435.5 519.1 438.5M559.5 438.4 560.5 434.9M571.5 434.0 571.3 437.6"/><path stroke="#2491ff" d="M443.7 441.1 444.0 435.8M447.3 431.6 447.6 435.0M512.5 437.8 512.8 434.5M518.5 432.1 518.8 435.5M560.5 434.9 561.6 431.4M571.8 430.5 571.5 434.0"/><path stroke="#24a4ff" d="M444.0 435.8 444.3 431.4M447.0 429.0 447.3 431.6M512.8 434.5 513.1 430.8M518.2 428.2 518.5 432.1M561.6 431.4 563.1 427.4M572.1 427.0 571.8 430.5"/><path stroke="#24b6ff" d="M444.3 431.4 444.6 428.5M446.4 426.5 447.0 429.0M513.1 430.8 513.3 426.6M517.8 423.7 518.2 428.2M563.1 427.4 564.4 424.0M572.6 422.9 572.1 427.0"/><path stroke="#24c8ff" d="M444.6 428.5 444.9 426.9 445.2 426.3 446.1 426.2 446.4 426.5M513.3 426.6 513.6 421.8M517.5 418.5 517.8 423.7M564.4 424.0 566.0 420.0M573.0 419.5 572.6 422.9"/><path stroke="#24daff" d="M517.2 412.5 517.5 418.5M566.0 420.0 567.3 416.7M573.5 416.1 573.0 419.5"/><path stroke="#24edff" d="M513.6 421.8 513.9 416.5M567.3 416.7 568.8 412.9M574.1 412.2 573.5 416.1"/><path stroke="#24ffff" d="M516.9 406.0 517.2 412.5M568.8 412.9 569.9 409.6M574.7 408.9 574.1 412.2"/><path stroke="#36ffed" d="M513.9 416.5 514.2 410.6M569.9 409.6 571.1 405.9M575.4 405.1 574.7 408.9"/><path stroke="#48ffda" d="M514.2 410.6 514.5 404.5M516.6 399.3 516.9 406.0M571.1 405.9 572.3 402.3M576.1 401.5 575.4 405.1"/><path stroke="#5bffc8" d="M572.3 402.3 573.4 398.7M576.9 397.9 576.1 401.5"/><path stroke="#6dffb6" d="M514.5 404.5 514.8 398.4M516.3 393.2 516.6 399.3M573.4 398.7 574.6 394.8M577.7 394.3 576.9 397.9"/><path stroke="#7fffa4" d="M514.8 398.4 515.1 393.0M516.0 388.9 516.3 393.2M574.6 394.8 575.6 391.4M578.6 390.9 577.7 394.3"/><path stroke="#91ff91" d="M575.6 391.4 576.8 387.7M579.5 387.1 578.6 390.9"/><path stroke="#a4ff7f" d="M515.1 393.0 515.4 389.1 515.7 387.5 516.0 388.9M576.8 387.7 578.0 384.0M580.5 383.4 579.5 387.1"/><path stroke="#b6ff6d" d="M578.0 384.0 579.1 380.5M581.5 379.9 580.5 383.4"/><path stroke="#c8ff5b" d="M579.1 380.5 580.4 376.8M582.6 376.1 581.5 379.9"/><path stroke="#daff48" d="M580.4 376.8 581.6 373.2M583.7 372.5 582.6 376.1"/><path stroke="#edff36" d="M581.6 373.2 582.9 369.4M584.7 369.1 583.7 372.5"/><path stroke="#ffff24" d="M582.9 369.4 584.2 365.9M585.9 365.5 584.7 369.1"/><path stroke="#ffed24" d="M584.2 365.9 585.7 362.0M587.1 361.9 585.9 365.5"/><path stroke="#ffda24" d="M585.7 362.0 587.1 358.5M588.3 358.3 587.1 361.9"/><path stroke="#ffc824" d="M587.1 358.5 588.6 354.9M589.6 354.7 588.3 358.3"/><path stroke="#ffb624" d="M588.6 354.9 590.1 351.2M590.9 351.0 589.6 354.7"/><path stroke="#ffa424" d="M590.1 351.2 591.7 347.6M592.2 347.4 590.9 351.0"/><path stroke="#ff9124" d="M591.7 347.6 593.0 345.0 592.2 347.4"/><g stroke-width="1.6"><path stroke="#29298a" d="M758.2 467.5 758.2 468.1"/><path stroke="#292998" d="M661.2 466.6 661.2 469.5M756.6 468.2 756.6 464.9M758.3 464.2 758.2 467.5"/><path stroke="#2828a9" d="M654.1 469.6 654.1 466.7M661.2 463.6 661.2 466.6M756.6 464.9 756.7 461.6M758.3 460.9 758.3 464.2"/><path stroke="#2727bb" d="M654.1 466.7 654.1 460.8M661.2 457.8 661.2 463.6M756.7 461.6 756.9 457.6M758.5 456.9 758.3 460.9"/><path stroke="#2626ce" d="M654.1 460.8 654.1 457.9M661.2 454.9 661.2 457.8M756.9 457.6 757.1 454.3M758.7 453.6 758.5 456.9"/><path stroke="#2525e4" d="M654.1 457.9 654.1 455.0M661.3 451.9 661.2 454.9M757.1 454.3 757.5 450.4M759.1 449.7 758.7 453.6"/><path stroke="#2424fb" d="M654.1 455.0 654.2 452.1M661.3 449.0 661.3 451.9M757.5 450.4 757.9 447.1M759.4 446.4 759.1 449.7"/><path stroke="#2436ff" d="M654.2 452.1 654.3 446.2M661.4 443.2 661.3 449.0M757.9 447.1 758.5 443.1M759.9 442.4 759.4 446.4"/><path stroke="#2448ff" d="M654.3 446.2 654.3 443.3M661.4 440.2 661.4 443.2M758.5 443.1 759.0 439.8M760.4 439.1 759.9 442.4"/><path stroke="#245bff" d="M654.3 443.3 654.4 440.4M661.4 437.3 661.4 440.2M759.0 439.8 759.8 435.8M761.1 435.2 760.4 439.1"/><path stroke="#246dff" d="M654.4 440.4 654.5 437.4M661.5 434.4 661.4 437.3M759.8 435.8 760.2 434.0 760.8 433.0 761.1 433.1 761.2 433.5 761.1 435.2"/><path stroke="#247fff" d="M654.5 437.4 654.6 434.5M661.5 431.5 661.5 434.4"/><path stroke="#2491ff" d="M654.6 434.5 654.8 428.7M661.7 425.6 661.5 431.5"/><path stroke="#24a4ff" d="M654.8 428.7 654.9 425.7M661.7 422.7 661.7 425.6"/><path stroke="#24b6ff" d="M654.9 425.7 655.0 422.8M661.8 419.8 661.7 422.7"/><path stroke="#24c8ff" d="M655.0 422.8 655.1 419.9M661.9 416.8 661.8 419.8"/><path stroke="#24daff" d="M655.1 419.9 655.4 414.0M662.1 411.0 661.9 416.8"/><path stroke="#24edff" d="M655.4 414.0 655.6 411.1M662.2 408.1 662.1 411.0"/><path stroke="#24ffff" d="M655.6 411.1 655.8 408.2M662.3 405.1 662.2 408.1"/><path stroke="#36ffed" d="M655.8 408.2 655.9 405.3M662.4 402.2 662.3 405.1"/><path stroke="#48ffda" d="M655.9 405.3 656.3 399.4M662.6 396.3 662.4 402.2"/><path stroke="#5bffc8" d="M656.3 399.4 656.5 396.5M662.8 393.4 662.6 396.3"/><path stroke="#6dffb6" d="M656.5 396.5 656.7 393.5M662.9 390.5 662.8 393.4"/><path stroke="#7fffa4" d="M656.7 393.5 656.9 390.6M663.0 387.6 662.9 390.5"/><path stroke="#91ff91" d="M656.9 390.6 657.2 387.7M663.2 384.6 663.0 387.6"/><path stroke="#a4ff7f" d="M657.2 387.7 657.6 381.8M663.5 378.8 663.2 384.6"/><path stroke="#b6ff6d" d="M657.6 381.8 657.9 378.9M663.6 375.9 663.5 378.8"/><path stroke="#c8ff5b" d="M657.9 378.9 658.1 376.0M663.8 372.9 663.6 375.9"/><path stroke="#daff48" d="M658.1 376.0 658.4 373.0M663.9 370.0 663.8 372.9"/><path stroke="#edff36" d="M658.4 373.0 659.0 367.2M664.3 364.1 663.9 370.0"/><path stroke="#ffff24" d="M659.0 367.2 659.3 364.2M664.5 361.2 664.3 364.1"/><path stroke="#ffed24" d="M659.3 364.2 659.6 361.3M664.7 358.3 664.5 361.2"/><path stroke="#ffda24" d="M659.6 361.3 659.9 358.4M664.9 355.4 664.7 358.3"/><path stroke="#ffc824" d="M659.9 358.4 660.2 355.5M665.1 352.4 664.9 355.4"/><path stroke="#ffb624" d="M660.2 355.5 660.9 349.6M665.5 346.6 665.1 352.4"/><path stroke="#ffa424" d="M660.9 349.6 661.2 346.7M665.7 343.7 665.5 346.6"/><path stroke="#ff9124" d="M661.2 346.7 661.6 343.7M665.9 340.7 665.7 343.7"/><path stroke="#ff7f24" d="M661.6 343.7 661.9 340.8M666.1 337.8 665.9 340.7"/><path stroke="#ff6d24" d="M661.9 340.8 662.7 334.9M666.6 331.9 666.1 337.8"/><path stroke="#ff5b24" d="M662.7 334.9 663.1 332.0M666.8 329.0 666.6 331.9"/><path stroke="#ff4824" d="M663.1 332.0 663.5 329.1M667.1 326.1 666.8 329.0"/><path stroke="#ff3624" d="M663.5 329.1 663.9 326.1M667.3 323.2 667.1 326.1"/><path stroke="#ff2424" d="M663.9 326.1 664.4 322.6 664.9 320.4M667.3 320.1 667.3 323.2"/><path stroke="#ed2424" d="M664.9 320.4 665.7 318.9 666.4 318.3 666.9 318.7 667.3 320.1"/></g>
<path stroke="#29298a" d="M767.0 471.6 814.7 471.1"/><path stroke="#292998" d="M398.6 481.7 410.3 481.5 416.7 481.0 420.9 480.0 422.4 479.3 423.9 478.3M424.2 478.0 424.8 480.2 425.1 480.7 425.7 481.0 426.3 481.1 430.5 480.7 433.5 480.1 435.6 479.3 437.4 478.0M459.3 477.1 462.3 477.4 465.3 477.0M585.9 473.1 593.1 473.9 600.0 474.0 622.3 473.8 648.4 472.9 710.6 471.9 767.0 471.6"/><path stroke="#2828a9" d="M423.9 478.3 424.2 478.0M437.4 478.0 438.6 476.5 439.8 474.2M440.4 474.1 440.7 474.8 441.0 474.9 441.3 474.5M453.9 473.6 454.8 474.7 456.0 475.7 457.5 476.5 459.3 477.1M465.3 477.0 466.5 476.6 467.4 475.9 468.3 474.8 468.9 473.4M476.1 473.0 477.6 474.2 480.0 474.9 483.3 475.4 487.3 475.5 491.2 475.2 495.1 474.5 497.5 473.7 500.2 472.4M578.0 470.0 580.8 471.6 583.7 472.7 585.9 473.1"/><path stroke="#2727bb" d="M439.8 474.2 440.1 473.4 440.4 474.1M441.3 474.5 442.2 471.7M452.1 469.6 453.0 472.0 453.9 473.6M468.9 473.4 469.8 469.9M474.3 469.2 475.2 471.6 476.1 473.0M500.2 472.4 502.6 470.7 504.7 468.7M531.1 467.7 532.9 468.5 535.0 469.1 538.2 469.6 540.8 469.7 543.0 469.6 546.3 468.9 549.8 467.6M574.9 466.0 576.3 468.3 578.0 470.0"/><path stroke="#2626ce" d="M442.2 471.7 442.8 467.9M451.2 465.6 452.1 469.6M469.8 469.9 470.7 466.4M473.1 465.9 474.3 469.2M504.7 468.7 507.1 465.3M526.9 464.3 528.7 466.1 531.1 467.7M549.8 467.6 552.2 466.1 554.3 463.9M573.5 462.5 574.9 466.0"/><path stroke="#2525e4" d="M442.8 467.9 443.1 465.2M450.6 461.5 451.2 465.6M470.7 466.4 471.3 465.3 471.9 465.0 472.5 465.2 473.1 465.9M507.1 465.3 508.9 461.4M524.5 460.5 525.7 462.7 526.9 464.3M554.3 463.9 555.5 462.2 556.6 460.0M572.7 459.0 573.5 462.5"/><path stroke="#2424fb" d="M443.1 465.2 443.4 461.8M450.3 458.8 450.6 461.5M508.9 461.4 509.8 458.8M523.0 456.5 524.5 460.5M556.6 460.0 557.8 456.5M572.3 455.5 572.7 459.0"/><path stroke="#2436ff" d="M443.4 461.8 443.7 457.5M450.0 455.6 450.3 458.8M509.8 458.8 510.7 455.3M522.1 453.1 523.0 456.5M557.8 456.5 558.6 453.1M572.0 452.0 572.3 455.5"/><path stroke="#2448ff" d="M449.7 451.8 450.0 455.6M510.7 455.3 511.6 450.8M521.2 448.5 522.1 453.1M558.6 453.1 559.4 449.2M571.9 448.6 572.0 452.0"/><path stroke="#245bff" d="M443.7 457.5 444.0 452.2M449.4 447.4 449.7 451.8M511.6 450.8 512.2 446.9M520.9 446.6 521.2 448.5M559.4 449.2 560.1 445.8M571.9 444.6 571.9 448.6"/><path stroke="#246dff" d="M444.0 452.2 444.3 446.2M449.1 442.6 449.4 447.4M512.2 446.9 512.5 444.7M520.3 442.0 520.9 446.6M560.1 445.8 560.9 441.9M572.1 441.1 571.9 444.6"/><path stroke="#247fff" d="M448.8 437.6 449.1 442.6M512.5 444.7 512.8 442.1M520.0 439.2 520.3 442.0M560.9 441.9 561.9 438.6M572.2 437.7 572.1 441.1"/><path stroke="#2491ff" d="M444.3 446.2 444.6 439.8M512.8 442.1 513.0 439.3M519.3 432.3 520.0 439.2M561.9 438.6 563.1 434.8M572.6 433.8 572.2 437.7"/><path stroke="#24a4ff" d="M448.5 433.0 448.8 437.6M513.0 439.3 513.3 436.1M563.1 434.8 564.4 431.0M572.9 430.5 572.6 433.8"/><path stroke="#24b6ff" d="M444.6 439.8 444.9 433.7M448.2 429.0 448.5 433.0M513.3 436.1 513.6 432.4M519.0 428.0 519.3 432.3M564.4 431.0 565.6 427.8M573.3 426.7 572.9 430.5"/><path stroke="#24c8ff" d="M444.9 433.7 445.2 428.8M447.9 426.0 448.2 429.0M513.6 432.4 513.9 428.3M518.7 423.0 519.0 428.0M565.6 427.8 567.1 424.0M573.7 423.4 573.3 426.7"/><path stroke="#24daff" d="M445.2 428.8 445.5 425.4M447.3 423.2 447.9 426.0M513.9 428.3 514.2 423.7M518.4 417.3 518.7 423.0M567.1 424.0 568.4 420.4M574.3 419.7 573.7 423.4"/><path stroke="#24edff" d="M445.5 425.4 445.8 423.6 446.1 422.9 447.0 422.8 447.3 423.2M514.2 423.7 514.5 418.6M568.4 420.4 569.7 416.8M574.9 416.1 574.3 419.7"/><path stroke="#24ffff" d="M518.1 410.9 518.4 417.3M569.7 416.8 571.0 413.2M575.5 412.5 574.9 416.1"/><path stroke="#36ffed" d="M514.5 418.6 514.8 412.9M517.8 403.8 518.1 410.9M571.0 413.2 572.3 409.3M576.1 409.0 575.5 412.5"/><path stroke="#48ffda" d="M572.3 409.3 573.3 405.9M576.9 405.0 576.1 409.0"/><path stroke="#5bffc8" d="M514.8 412.9 515.1 406.8M517.5 396.5 517.8 403.8M573.3 405.9 574.5 402.2M577.7 401.7 576.9 405.0"/><path stroke="#6dffb6" d="M515.1 406.8 515.4 400.4M574.5 402.2 575.6 398.5M578.5 398.0 577.7 401.7"/><path stroke="#7fffa4" d="M517.2 389.8 517.5 396.5M575.6 398.5 576.7 395.0M579.4 394.4 578.5 398.0"/><path stroke="#91ff91" d="M515.4 400.4 515.7 394.3M576.7 395.0 577.9 391.1M580.2 390.9 579.4 394.4"/><path stroke="#a4ff7f" d="M516.9 385.1 517.2 389.8M577.9 391.1 578.9 387.8M581.2 387.2 580.2 390.9"/><path stroke="#b6ff6d" d="M515.7 394.3 516.0 388.9M578.9 387.8 580.2 383.9M582.2 383.6 581.2 387.2"/><path stroke="#c8ff5b" d="M516.0 388.9 516.3 385.1 516.6 383.6 516.9 385.1M580.2 383.9 581.3 380.6M583.3 379.9 582.2 383.6"/><path stroke="#daff48" d="M581.3 380.6 582.6 376.7M584.4 376.3 583.3 379.9"/><path stroke="#edff36" d="M582.6 376.7 583.9 373.1M585.5 372.7 584.4 376.3"/><path stroke="#ffff24" d="M583.9 373.1 585.2 369.6M586.6 369.1 585.5 372.7"/><path stroke="#ffed24" d="M585.2 369.6 586.6 365.9M587.9 365.4 586.6 369.1"/><path stroke="#ffda24" d="M586.6 365.9 588.2 362.1M589.1 361.9 587.9 365.4"/><path stroke="#ffc824" d="M588.2 362.1 589.7 358.5M590.3 358.3 589.1 361.9"/><path stroke="#ffb624" d="M589.7 358.5 591.4 354.9 590.3 358.3"/><g stroke-width="1.6"><path stroke="#292998" d="M661.9 470.3 661.9 473.1M757.6 471.8 757.7 468.3M759.1 467.8 759.0 471.8"/><path stroke="#2828a9" d="M655.2 473.2 655.2 470.5M661.9 464.8 661.9 470.3M757.7 468.3 757.8 464.9M759.2 464.4 759.1 467.8"/><path stroke="#2727bb" d="M655.2 470.5 655.2 464.9M661.9 462.0 661.9 464.8M757.8 464.9 758.0 461.4M759.3 460.9 759.2 464.4"/><path stroke="#2626ce" d="M655.2 464.9 655.2 462.1M661.9 459.2 661.9 462.0M758.0 461.4 758.2 458.0M759.6 457.0 759.3 460.9"/><path stroke="#2525e4" d="M655.2 462.1 655.2 459.3M661.9 456.4 661.9 459.2M758.2 458.0 758.6 454.0M759.8 453.5 759.6 457.0"/><path stroke="#2424fb" d="M655.2 459.3 655.3 453.7M662.0 450.8 661.9 456.4M758.6 454.0 759.0 450.6M760.2 450.1 759.8 453.5"/><path stroke="#2436ff" d="M655.3 453.7 655.4 450.9M662.0 448.0 662.0 450.8M759.0 450.6 759.6 446.8M760.6 446.6 760.2 450.1"/><path stroke="#2448ff" d="M655.4 450.9 655.4 448.1M662.1 445.2 662.0 448.0M759.6 446.8 759.9 445.5 760.4 444.9 760.6 445.4 760.6 446.6"/><path stroke="#245bff" d="M655.4 448.1 655.5 445.3M662.1 439.6 662.1 445.2"/><path stroke="#246dff" d="M655.5 445.3 655.6 439.8M662.2 436.9 662.1 439.6"/><path stroke="#247fff" d="M655.6 439.8 655.7 437.0M662.3 434.1 662.2 436.9"/><path stroke="#2491ff" d="M655.7 437.0 655.8 434.2M662.3 431.3 662.3 434.1"/><path stroke="#24a4ff" d="M655.8 434.2 656.0 428.6M662.4 425.7 662.3 431.3"/><path stroke="#24b6ff" d="M656.0 428.6 656.2 425.8M662.5 422.9 662.4 425.7"/><path stroke="#24c8ff" d="M656.2 425.8 656.3 423.0M662.6 420.1 662.5 422.9"/><path stroke="#24daff" d="M656.3 423.0 656.4 420.2M662.8 414.5 662.6 420.1"/><path stroke="#24edff" d="M656.4 420.2 656.7 414.6M662.9 411.7 662.8 414.5"/><path stroke="#24ffff" d="M656.7 414.6 656.9 411.8M663.0 408.9 662.9 411.7"/><path stroke="#36ffed" d="M656.9 411.8 657.0 409.1M663.1 406.1 663.0 408.9"/><path stroke="#48ffda" d="M657.0 409.1 657.4 403.5M663.3 400.6 663.1 406.1"/><path stroke="#5bffc8" d="M657.4 403.5 657.6 400.7M663.4 397.8 663.3 400.6"/><path stroke="#6dffb6" d="M657.6 400.7 657.8 397.9M663.5 395.0 663.4 397.8"/><path stroke="#7fffa4" d="M657.8 397.9 658.2 392.3M663.8 389.4 663.5 395.0"/><path stroke="#91ff91" d="M658.2 392.3 658.4 389.5M663.9 386.6 663.8 389.4"/><path stroke="#a4ff7f" d="M658.4 389.5 658.6 386.7M664.1 383.8 663.9 386.6"/><path stroke="#b6ff6d" d="M658.6 386.7 658.9 383.9M664.2 381.0 664.1 383.8"/><path stroke="#c8ff5b" d="M658.9 383.9 659.4 378.3M664.5 375.4 664.2 381.0"/><path stroke="#daff48" d="M659.4 378.3 659.6 375.5M664.7 372.6 664.5 375.4"/><path stroke="#edff36" d="M659.6 375.5 659.9 372.7M664.8 369.8 664.7 372.6"/><path stroke="#ffff24" d="M659.9 372.7 660.4 367.1M665.2 364.3 664.8 369.8"/><path stroke="#ffed24" d="M660.4 367.1 660.7 364.3M665.4 361.5 665.2 364.3"/><path stroke="#ffda24" d="M660.7 364.3 661.0 361.6M665.5 358.7 665.4 361.5"/><path stroke="#ffc824" d="M661.0 361.6 661.3 358.8M665.7 355.9 665.5 358.7"/><path stroke="#ffb624" d="M661.3 358.8 662.0 353.2M666.1 350.3 665.7 355.9"/><path stroke="#ffa424" d="M662.0 353.2 662.3 350.4M666.3 347.5 666.1 350.3"/><path stroke="#ff9124" d="M662.3 350.4 662.6 347.6M666.5 344.7 666.3 347.5"/><path stroke="#ff7f24" d="M662.6 347.6 663.3 342.0M667.0 339.1 666.5 344.7"/><path stroke="#ff6d24" d="M663.3 342.0 663.7 339.2M667.2 336.3 667.0 339.1"/><path stroke="#ff5b24" d="M663.7 339.2 664.0 336.4M667.4 333.5 667.2 336.3"/><path stroke="#ff4824" d="M664.0 336.4 664.5 332.9 665.0 331.1M667.4 330.7 667.4 333.5"/><path stroke="#ff3624" d="M665.0 331.1 665.7 329.3 666.4 328.7 667.0 329.2 667.4 330.7"/></g>
<path stroke="#29298a" d="M768.8 475.2 815.6 474.8"/><path stroke="#292998" d="M399.5 485.4 411.2 485.2 417.5 484.7 421.8 483.7 423.3 483.0 424.8 482.0M425.1 481.7 425.7 483.9 426.0 484.4 426.6 484.7 427.2 484.8 431.4 484.4 434.4 483.7 436.5 482.9 438.3 481.6M460.5 480.9 464.1 481.2 465.9 481.1 467.4 480.7M586.4 476.9 593.3 477.6 599.7 477.7 622.9 477.4 649.3 476.6 711.4 475.5 768.8 475.2"/><path stroke="#2828a9" d="M424.8 482.0 425.1 481.7M438.3 481.6 439.5 480.1 440.4 478.5M441.3 477.3 441.6 478.1 441.9 478.2M455.1 477.4 456.0 478.5 457.2 479.4 458.7 480.2 460.5 480.9M467.4 480.7 468.9 479.7 469.5 478.8 470.1 477.4M475.8 476.3 477.0 477.8 478.5 478.6 481.2 479.2 485.1 479.4 489.3 479.2 493.5 478.5 497.2 477.5 499.9 476.2M578.2 473.4 579.6 474.4 581.5 475.4 584.4 476.4 586.4 476.9"/><path stroke="#2727bb" d="M440.4 478.5 441.0 477.0 441.3 477.3M441.9 478.2 442.5 477.1 443.1 474.8M453.3 473.6 454.2 475.9 455.1 477.4M470.1 477.4 471.3 473.4M474.3 472.9 475.8 476.3M499.9 476.2 502.6 474.4 504.7 472.4M532.6 471.5 535.9 472.7 539.1 473.3 541.8 473.5 543.9 473.4 547.3 472.9 549.8 472.1 551.7 471.2M575.7 470.1 576.7 471.8 578.2 473.4"/><path stroke="#2626ce" d="M443.1 474.8 443.7 470.8M452.4 470.0 453.3 473.6M471.3 473.4 471.9 472.3 472.5 472.0 473.4 472.0 474.3 472.9M504.7 472.4 506.2 470.6 507.4 468.7M528.1 467.8 530.2 469.9 532.6 471.5M551.7 471.2 553.9 469.8 555.9 467.7M574.2 466.3 575.7 470.1"/><path stroke="#2525e4" d="M443.7 470.8 444.0 467.9M451.8 466.4 452.4 470.0M507.4 468.7 508.9 465.7M525.7 464.0 526.9 466.2 528.1 467.8M555.9 467.7 556.9 466.1 558.0 463.9M573.5 463.0 574.2 466.3"/><path stroke="#2424fb" d="M444.0 467.9 444.3 464.2M451.2 461.1 451.8 466.4M508.9 465.7 510.1 462.4M524.2 460.1 525.7 464.0M558.0 463.9 559.3 460.2M573.0 459.2 573.5 463.0"/><path stroke="#2436ff" d="M450.9 457.6 451.2 461.1M510.1 462.4 511.3 457.9M523.3 456.9 524.2 460.1M559.3 460.2 560.2 456.5M572.7 455.9 573.0 459.2"/><path stroke="#2448ff" d="M444.3 464.2 444.6 459.6M450.6 453.5 450.9 457.6M511.3 457.9 511.8 455.0M522.4 452.5 523.3 456.9M560.2 456.5 560.9 452.8M572.6 452.1 572.7 455.9"/><path stroke="#245bff" d="M444.6 459.6 444.9 454.0M450.3 448.9 450.6 453.5M511.8 455.0 512.4 451.6M521.8 448.6 522.4 452.5M560.9 452.8 561.6 449.6M572.7 448.3 572.6 452.1"/><path stroke="#246dff" d="M512.4 451.6 513.0 447.4M521.4 446.3 521.8 448.6M561.6 449.6 562.4 445.9M572.8 445.1 572.7 448.3"/><path stroke="#247fff" d="M444.9 454.0 445.2 447.6M450.0 443.7 450.3 448.9M513.0 447.4 513.3 444.9M520.8 440.7 521.4 446.3M562.4 445.9 563.3 442.3M573.0 441.4 572.8 445.1"/><path stroke="#2491ff" d="M449.7 438.4 450.0 443.7M513.3 444.9 513.6 442.1M520.5 437.3 520.8 440.7M563.3 442.3 564.4 438.7M573.3 437.7 573.0 441.4"/><path stroke="#24a4ff" d="M445.2 447.6 445.5 440.7M449.4 433.4 449.7 438.4M513.6 442.1 513.9 439.0M520.2 433.4 520.5 437.3M564.4 438.7 565.8 434.7M573.6 434.1 573.3 437.7"/><path stroke="#24b6ff" d="M513.9 439.0 514.2 435.6M519.9 428.9 520.2 433.4M565.8 434.7 567.0 431.2M574.0 430.6 573.6 434.1"/><path stroke="#24c8ff" d="M445.5 440.7 445.8 434.2M449.1 429.2 449.4 433.4M514.2 435.6 514.5 431.7M519.6 423.6 519.9 428.9M567.0 431.2 568.3 427.7M574.5 427.0 574.0 430.6"/><path stroke="#24daff" d="M445.8 434.2 446.1 428.9M448.8 426.0 449.1 429.2M514.5 431.7 514.8 427.3M568.3 427.7 569.7 423.8M575.1 423.1 574.5 427.0"/><path stroke="#24edff" d="M446.1 428.9 446.4 425.3M448.2 422.9 448.8 426.0M514.8 427.3 515.1 422.5M519.3 417.6 519.6 423.6M569.7 423.8 570.9 420.5M575.6 419.7 575.1 423.1"/><path stroke="#24ffff" d="M446.4 425.3 446.7 423.4 447.0 422.7 447.9 422.6 448.2 422.9M570.9 420.5 572.1 416.8M576.3 416.0 575.6 419.7"/><path stroke="#36ffed" d="M515.1 422.5 515.4 417.1M519.0 410.7 519.3 417.6M572.1 416.8 573.3 413.1M576.9 412.7 576.3 416.0"/><path stroke="#48ffda" d="M515.4 417.1 515.7 411.2M573.3 413.1 574.4 409.6M577.6 409.1 576.9 412.7"/><path stroke="#5bffc8" d="M518.7 403.2 519.0 410.7M574.4 409.6 575.5 405.8M578.4 405.2 577.6 409.1"/><path stroke="#6dffb6" d="M515.7 411.2 516.0 404.9M575.5 405.8 576.6 402.0M579.2 401.9 578.4 405.2"/><path stroke="#7fffa4" d="M518.4 395.4 518.7 403.2M576.6 402.0 577.7 398.5M580.1 398.3 579.2 401.9"/><path stroke="#91ff91" d="M516.0 404.9 516.3 398.5M577.7 398.5 578.8 395.1M581.0 394.4 580.1 398.3"/><path stroke="#a4ff7f" d="M518.1 388.4 518.4 395.4M578.8 395.1 579.9 391.4M582.0 390.8 581.0 394.4"/><path stroke="#b6ff6d" d="M516.3 398.5 516.6 392.4M579.9 391.4 581.2 387.7M582.9 387.3 582.0 390.8"/><path stroke="#c8ff5b" d="M516.6 392.4 516.9 387.1M517.8 383.4 518.1 388.4M581.2 387.7 582.4 383.9M584.0 383.5 582.9 387.3"/><path stroke="#daff48" d="M516.9 387.1 517.2 383.4M517.5 381.8 517.8 383.4M582.4 383.9 583.6 380.5M585.1 380.1 584.0 383.5"/><path stroke="#edff36" d="M517.2 383.4 517.5 381.8M583.6 380.5 584.9 376.9M586.2 376.4 585.1 380.1"/><path stroke="#ffff24" d="M584.9 376.9 586.3 373.1M587.3 372.9 586.2 376.4"/><path stroke="#ffed24" d="M586.3 373.1 587.8 369.5M588.5 369.3 587.3 372.9"/><path stroke="#ffda24" d="M587.8 369.5 589.4 365.7M589.5 365.7 588.5 369.3"/><path stroke="#ffc824" d="M589.4 365.7 589.6 365.5 589.5 365.7"/><g stroke-width="1.6"><path stroke="#292998" d="M662.5 474.1 662.6 476.8M758.7 475.5 758.8 472.0M759.9 471.8 759.9 475.4"/><path stroke="#2828a9" d="M656.4 476.9 656.4 471.6M662.6 468.9 662.5 474.1M758.8 472.0 758.9 468.4M759.9 468.1 759.9 471.8"/><path stroke="#2727bb" d="M656.4 471.6 656.4 469.0M662.6 466.3 662.6 468.9M758.9 468.4 759.1 465.0M760.0 464.7 759.9 468.1"/><path stroke="#2626ce" d="M656.4 469.0 656.4 466.4M662.6 463.6 662.6 466.3M759.1 465.0 759.3 462.5 759.7 461.2M759.9 461.1 760.1 462.4 760.0 464.7"/><path stroke="#2525e4" d="M656.4 466.4 656.4 461.1M662.6 458.4 662.6 463.6M759.7 461.2 759.9 461.1"/><path stroke="#2424fb" d="M656.4 461.1 656.5 458.5M662.6 455.8 662.6 458.4"/><path stroke="#2436ff" d="M656.5 458.5 656.5 455.9M662.7 453.1 662.6 455.8"/><path stroke="#2448ff" d="M656.5 455.9 656.6 450.6M662.7 447.9 662.7 453.1"/><path stroke="#245bff" d="M656.6 450.6 656.7 448.0M662.8 445.3 662.7 447.9"/><path stroke="#246dff" d="M656.7 448.0 656.8 442.7M662.9 440.0 662.8 445.3"/><path stroke="#247fff" d="M656.8 442.7 656.9 440.1M662.9 437.4 662.9 440.0"/><path stroke="#2491ff" d="M656.9 440.1 657.0 437.5M663.0 434.7 662.9 437.4"/><path stroke="#24a4ff" d="M657.0 437.5 657.2 432.2M663.1 429.5 663.0 434.7"/><path stroke="#24b6ff" d="M657.2 432.2 657.3 429.6M663.2 426.9 663.1 429.5"/><path stroke="#24c8ff" d="M657.3 429.6 657.4 427.0M663.2 424.2 663.2 426.9"/><path stroke="#24daff" d="M657.4 427.0 657.7 421.7M663.4 419.0 663.2 424.2"/><path stroke="#24edff" d="M657.7 421.7 657.8 419.1M663.5 416.4 663.4 419.0"/><path stroke="#24ffff" d="M657.8 419.1 658.0 416.5M663.6 413.7 663.5 416.4"/><path stroke="#36ffed" d="M658.0 416.5 658.3 411.2M663.8 408.5 663.6 413.7"/><path stroke="#48ffda" d="M658.3 411.2 658.5 408.6M663.9 405.8 663.8 408.5"/><path stroke="#5bffc8" d="M658.5 408.6 658.8 403.3M664.1 400.6 663.9 405.8"/><path stroke="#6dffb6" d="M658.8 403.3 659.0 400.7M664.2 398.0 664.1 400.6"/><path stroke="#7fffa4" d="M659.0 400.7 659.2 398.1M664.3 395.3 664.2 398.0"/><path stroke="#91ff91" d="M659.2 398.1 659.6 392.8M664.6 390.1 664.3 395.3"/><path stroke="#a4ff7f" d="M659.6 392.8 659.8 390.2M664.7 387.4 664.6 390.1"/><path stroke="#b6ff6d" d="M659.8 390.2 660.0 387.5M664.8 384.8 664.7 387.4"/><path stroke="#c8ff5b" d="M660.0 387.5 660.5 382.3M665.1 379.6 664.8 384.8"/><path stroke="#daff48" d="M660.5 382.3 660.7 379.6M665.3 376.9 665.1 379.6"/><path stroke="#edff36" d="M660.7 379.6 661.2 374.4M665.6 371.7 665.3 376.9"/><path stroke="#ffff24" d="M661.2 374.4 661.5 371.7M665.7 369.0 665.6 371.7"/><path stroke="#ffed24" d="M661.5 371.7 661.8 369.1M665.9 366.4 665.7 369.0"/><path stroke="#ffda24" d="M661.8 369.1 662.3 363.9M666.2 361.2 665.9 366.4"/><path stroke="#ffc824" d="M662.3 363.9 662.6 361.2M666.4 358.5 666.2 361.2"/><path stroke="#ffb624" d="M662.6 361.2 662.9 358.6M666.6 355.9 666.4 358.5"/><path stroke="#ffa424" d="M662.9 358.6 663.5 353.3M667.0 350.6 666.6 355.9"/><path stroke="#ff9124" d="M663.5 353.3 663.8 350.7M667.1 348.0 667.0 350.6"/><path stroke="#ff7f24" d="M663.8 350.7 664.1 348.1M667.3 345.4 667.1 348.0"/><path stroke="#ff6d24" d="M664.1 348.1 664.6 344.4 665.3 342.1M667.2 341.8 667.3 345.4"/><path stroke="#ff5b24" d="M665.3 342.1 665.8 341.0 666.4 340.6 666.8 340.8 667.2 341.8"/></g>
<path stroke="#29298a" d="M770.5 478.9 816.5 478.4"/><path stroke="#292998" d="M400.4 489.0 412.1 488.8 418.1 488.4 422.3 487.5 423.8 486.8 425.3 485.8M425.9 485.3 426.5 487.6 426.8 488.0 427.4 488.4 428.0 488.4 432.0 488.0 435.0 487.5 437.1 486.7 438.9 485.5M461.7 484.5 465.3 484.9 468.3 484.4M586.9 480.6 593.3 481.3 599.2 481.4 623.3 481.1 650.1 480.2 712.3 479.2 770.5 478.9"/><path stroke="#2828a9" d="M425.3 485.8 425.9 485.3M438.9 485.5 440.1 484.2 441.3 482.1M456.0 480.8 457.2 482.2 458.4 483.1 459.9 483.9 461.7 484.5M468.3 484.4 469.8 483.5 470.4 482.7 471.0 481.4M476.7 480.4 477.9 481.8 479.4 482.5 481.8 482.8 485.4 482.9 489.3 482.7 493.2 482.1 496.8 481.1 499.5 479.9M579.0 477.3 580.3 478.3 582.2 479.3 584.9 480.2 586.9 480.6"/><path stroke="#2727bb" d="M441.3 482.1 441.9 480.6 442.2 480.6 442.5 481.4 442.8 481.5 443.1 481.2 444.0 478.0M454.2 476.9 455.1 479.2 456.0 480.8M471.0 481.4 472.5 477.3M474.6 476.9 475.2 477.4 476.7 480.4M499.5 479.9 502.2 478.2 504.3 476.4M533.8 475.1 536.8 476.3 540.1 477.0 542.7 477.2 544.9 477.2 548.3 476.8 550.8 476.1 553.5 474.9M576.2 473.8 577.5 475.8 579.0 477.3"/><path stroke="#2626ce" d="M444.0 478.0 444.3 476.2M453.3 473.1 454.2 476.9M472.5 477.3 473.4 476.7 474.6 476.9M504.3 476.4 505.8 474.7 507.3 472.6M529.3 471.4 531.4 473.5 533.8 475.1M553.5 474.9 556.0 473.1 557.7 471.1M574.9 470.2 576.2 473.8"/><path stroke="#2525e4" d="M444.3 476.2 444.9 470.9M452.7 469.3 453.3 473.1M507.3 472.6 509.1 469.1M527.2 468.2 529.3 471.4M557.7 471.1 559.6 467.6M574.1 466.7 574.9 470.2"/><path stroke="#2424fb" d="M452.4 466.8 452.7 469.3M509.1 469.1 510.3 466.0M525.4 463.8 527.2 468.2M559.6 467.6 561.0 463.6M573.6 463.1 574.1 466.7"/><path stroke="#2436ff" d="M444.9 470.9 445.2 467.0M451.8 460.2 452.4 466.8M510.3 466.0 511.5 461.8M524.5 460.7 525.4 463.8M561.0 463.6 561.8 460.2M573.4 459.5 573.6 463.1"/><path stroke="#2448ff" d="M445.2 467.0 445.5 462.2M451.5 455.9 451.8 460.2M511.5 461.8 512.1 459.2M523.5 456.5 524.5 460.7M561.8 460.2 562.5 456.7M573.3 456.0 573.4 459.5"/><path stroke="#245bff" d="M445.5 462.2 445.8 456.4M512.1 459.2 512.7 456.0M522.9 452.8 523.5 456.5M562.5 456.7 563.2 452.8M573.4 452.0 573.3 456.0"/><path stroke="#246dff" d="M451.2 451.1 451.5 455.9M512.7 456.0 513.3 452.3M522.3 448.3 522.9 452.8M563.2 452.8 564.0 449.4M573.5 448.5 573.4 452.0"/><path stroke="#247fff" d="M445.8 456.4 446.1 449.7M450.9 445.7 451.2 451.1M513.3 452.3 513.9 447.7M522.0 445.5 522.3 448.3M564.0 449.4 564.9 445.6M573.7 445.1 573.5 448.5"/><path stroke="#2491ff" d="M450.6 440.2 450.9 445.7M513.9 447.7 514.2 445.1M521.7 442.4 522.0 445.5M564.9 445.6 565.9 442.3M574.0 441.2 573.7 445.1"/><path stroke="#24a4ff" d="M446.1 449.7 446.4 442.6M514.2 445.1 514.5 442.1M521.4 438.7 521.7 442.4M565.9 442.3 567.1 438.5M574.3 437.9 574.0 441.2"/><path stroke="#24b6ff" d="M450.3 435.0 450.6 440.2M514.5 442.1 514.8 438.8M521.1 434.6 521.4 438.7M567.1 438.5 568.3 434.8M574.8 434.2 574.3 437.9"/><path stroke="#24c8ff" d="M446.4 442.6 446.7 435.8M450.0 430.6 450.3 435.0M514.8 438.8 515.1 435.1M520.8 429.8 521.1 434.6M568.3 434.8 569.6 431.2M575.3 430.5 574.8 434.2"/><path stroke="#24daff" d="M515.1 435.1 515.4 431.0M520.5 424.2 520.8 429.8M569.6 431.2 570.8 427.7M575.8 426.9 575.3 430.5"/><path stroke="#24edff" d="M446.7 435.8 447.0 430.3M449.7 427.3 450.0 430.6M515.4 431.0 515.7 426.4M570.8 427.7 572.1 423.8M576.4 423.4 575.8 426.9"/><path stroke="#24ffff" d="M447.0 430.3 447.6 424.6M448.8 423.7 449.1 424.1 449.4 425.2 449.7 427.3M520.2 417.8 520.5 424.2M572.1 423.8 573.2 420.4M576.9 420.0 576.4 423.4"/><path stroke="#36ffed" d="M447.6 424.6 447.9 423.8 448.8 423.7M515.7 426.4 516.0 421.3M573.2 420.4 574.4 416.8M577.6 416.3 576.9 420.0"/><path stroke="#48ffda" d="M516.0 421.3 516.3 415.7M519.9 410.6 520.2 417.8M574.4 416.8 575.4 413.2M578.4 412.7 577.6 416.3"/><path stroke="#5bffc8" d="M575.4 413.2 576.6 409.4M579.2 408.9 578.4 412.7"/><path stroke="#6dffb6" d="M516.3 415.7 516.6 409.7M519.6 402.6 519.9 410.6M576.6 409.4 577.7 405.8M579.9 405.6 579.2 408.9"/><path stroke="#7fffa4" d="M577.7 405.8 578.7 402.4M580.8 401.7 579.9 405.6"/><path stroke="#91ff91" d="M516.6 409.7 516.9 403.3M519.3 394.5 519.6 402.6M578.7 402.4 579.9 398.5M581.7 398.2 580.8 401.7"/><path stroke="#a4ff7f" d="M516.9 403.3 517.2 396.8M579.9 398.5 581.0 394.9M582.7 394.5 581.7 398.2"/><path stroke="#b6ff6d" d="M519.0 387.1 519.3 394.5M581.0 394.9 582.2 391.4M583.7 391.0 582.7 394.5"/><path stroke="#c8ff5b" d="M517.2 396.8 517.5 390.7M582.2 391.4 583.5 387.7M584.7 387.3 583.7 391.0"/><path stroke="#daff48" d="M518.7 381.9 519.0 387.1M583.5 387.7 584.8 384.0M585.7 383.8 584.7 387.3"/><path stroke="#edff36" d="M517.5 390.7 517.8 385.5M584.8 384.0 586.1 380.4M586.8 380.2 585.7 383.8"/><path stroke="#ffff24" d="M517.8 385.5 518.1 381.9 518.4 380.3 518.7 381.9M586.1 380.4 587.6 376.9 586.8 380.2"/><g stroke-width="1.6"><path stroke="#292998" d="M663.2 478.0 663.2 480.4"/><path stroke="#2828a9" d="M657.6 480.5 657.6 475.7M663.2 473.1 663.2 478.0"/><path stroke="#2727bb" d="M657.6 475.7 657.6 473.2M663.2 470.7 663.2 473.1"/><path stroke="#2626ce" d="M657.6 473.2 657.6 468.4M663.2 465.8 663.2 470.7"/><path stroke="#2525e4" d="M657.6 468.4 657.6 465.9M663.2 463.4 663.2 465.8"/><path stroke="#2424fb" d="M657.6 465.9 657.7 461.1M663.2 458.6 663.2 463.4"/><path stroke="#2436ff" d="M657.7 461.1 657.7 458.7M663.3 456.1 663.2 458.6"/><path stroke="#2448ff" d="M657.7 458.7 657.8 453.8M663.3 451.3 663.3 456.1"/><path stroke="#245bff" d="M657.8 453.8 657.9 451.4M663.4 448.8 663.3 451.3"/><path stroke="#246dff" d="M657.9 451.4 658.0 446.5M663.5 444.0 663.4 448.8"/><path stroke="#247fff" d="M658.0 446.5 658.1 444.1M663.5 441.6 663.5 444.0"/><path stroke="#2491ff" d="M658.1 444.1 658.3 439.2M663.6 436.7 663.5 441.6"/><path stroke="#24a4ff" d="M658.3 439.2 658.4 436.8M663.7 434.3 663.6 436.7"/><path stroke="#24b6ff" d="M658.4 436.8 658.5 434.4M663.8 429.4 663.7 434.3"/><path stroke="#24c8ff" d="M658.5 434.4 658.7 429.5M663.9 427.0 663.8 429.4"/><path stroke="#24daff" d="M658.7 429.5 658.8 427.1M663.9 424.6 663.9 427.0"/><path stroke="#24edff" d="M658.8 427.1 659.1 422.2M664.1 419.7 663.9 424.6"/><path stroke="#24ffff" d="M659.1 422.2 659.2 419.8M664.2 417.3 664.1 419.7"/><path stroke="#36ffed" d="M659.2 419.8 659.5 414.9M664.3 412.4 664.2 417.3"/><path stroke="#48ffda" d="M659.5 414.9 659.6 412.5M664.4 410.0 664.3 412.4"/><path stroke="#5bffc8" d="M659.6 412.5 660.0 407.6M664.6 405.1 664.4 410.0"/><path stroke="#6dffb6" d="M660.0 407.6 660.1 405.2M664.7 402.7 664.6 405.1"/><path stroke="#7fffa4" d="M660.1 405.2 660.5 400.3M664.9 397.8 664.7 402.7"/><path stroke="#91ff91" d="M660.5 400.3 660.7 397.9M665.1 395.4 664.9 397.8"/><path stroke="#a4ff7f" d="M660.7 397.9 661.1 393.1M665.3 390.5 665.1 395.4"/><path stroke="#b6ff6d" d="M661.1 393.1 661.3 390.6M665.4 388.1 665.3 390.5"/><path stroke="#c8ff5b" d="M661.3 390.6 661.7 385.8M665.7 383.3 665.4 388.1"/><path stroke="#daff48" d="M661.7 385.8 661.9 383.3M665.8 380.8 665.7 383.3"/><path stroke="#edff36" d="M661.9 383.3 662.4 378.5M666.1 376.0 665.8 380.8"/><path stroke="#ffff24" d="M662.4 378.5 662.6 376.0M666.2 373.5 666.1 376.0"/><path stroke="#ffed24" d="M662.6 376.0 663.1 371.2M666.5 368.7 666.2 373.5"/><path stroke="#ffda24" d="M663.1 371.2 663.4 368.7M666.7 366.2 666.5 368.7"/><path stroke="#ffc824" d="M663.4 368.7 663.9 363.9M667.0 361.4 666.7 366.2"/><path stroke="#ffb624" d="M663.9 363.9 664.2 361.4M667.2 359.0 667.0 361.4"/><path stroke="#ffa424" d="M664.2 361.4 664.9 356.5M667.1 356.2 667.2 359.0"/><path stroke="#ff9124" d="M664.9 356.5 665.6 354.7 666.3 354.1 666.8 354.7 667.1 356.2"/></g>
<path stroke="#29298a" d="M772.3 482.5 817.4 482.1"/><path stroke="#292998" d="M401.3 492.7 413.0 492.5 419.0 492.0 423.2 491.1 424.7 490.5 426.2 489.5M426.8 489.0 427.4 491.2 427.7 491.7 428.3 492.0 428.9 492.0 432.8 491.7 435.8 491.1 438.0 490.3 439.8 489.1M463.2 488.2 465.9 488.4 468.6 488.1M587.4 484.3 593.3 485.0 598.6 485.2 623.8 484.8 651.1 483.9 713.2 482.8 772.3 482.5"/><path stroke="#2828a9" d="M426.2 489.5 426.8 489.0M439.8 489.1 441.0 487.8 442.2 485.7M457.2 484.7 458.4 486.0 459.9 487.0 461.4 487.7 463.2 488.2M468.6 488.1 469.8 487.6 470.7 486.9 471.3 486.1 471.9 484.7M477.9 484.2 478.8 485.1 480.3 485.8 482.7 486.1 486.0 486.2 489.6 486.0 492.9 485.5 496.2 484.7 498.9 483.7M579.2 480.9 581.1 482.2 582.8 483.1 587.4 484.3"/><path stroke="#2727bb" d="M442.2 485.7 443.1 483.8 443.4 484.8 443.7 484.9 444.0 484.6 444.6 482.9M455.4 481.2 456.3 483.3 457.2 484.7M471.9 484.7 473.1 480.8M476.1 480.5 477.9 484.2M498.9 483.7 501.9 481.9 504.3 480.0M535.0 478.8 537.7 479.9 541.0 480.7 545.8 481.1 549.2 480.8 551.8 480.2 553.7 479.5 555.9 478.3M576.8 477.6 578.0 479.5 579.2 480.9"/><path stroke="#2626ce" d="M444.6 482.9 445.2 479.6M454.2 476.5 455.4 481.2M473.1 480.8 473.7 480.0 474.3 479.8 475.5 479.9 476.1 480.5M504.3 480.0 505.8 478.4 507.3 476.3M530.8 475.4 532.6 477.1 535.0 478.8M555.9 478.3 558.0 476.6 559.5 474.7M575.4 473.9 576.8 477.6"/><path stroke="#2525e4" d="M445.2 479.6 445.5 477.2M453.6 472.6 454.2 476.5M507.3 476.3 509.4 472.5M528.4 471.8 529.6 473.8 530.8 475.4M559.5 474.7 561.4 471.1M574.7 470.1 575.4 473.9"/><path stroke="#2424fb" d="M445.5 477.2 445.8 474.2M453.3 470.1 453.6 472.6M509.4 472.5 510.6 469.5M526.5 467.5 528.4 471.8M561.4 471.1 562.6 467.4M574.3 466.8 574.7 470.1"/><path stroke="#2436ff" d="M445.8 474.2 446.1 470.3M452.7 463.3 453.3 470.1M510.6 469.5 511.8 465.6M525.6 464.5 526.5 467.5M562.6 467.4 563.4 463.8M574.1 463.1 574.3 466.8"/><path stroke="#2448ff" d="M446.1 470.3 446.4 465.4M511.8 465.6 512.7 461.8M524.7 460.5 525.6 464.5M563.4 463.8 564.1 460.1M574.0 459.4 574.1 463.1"/><path stroke="#245bff" d="M452.4 459.0 452.7 463.3M512.7 461.8 513.3 458.7M524.1 457.0 524.7 460.5M564.1 460.1 564.8 456.6M574.1 455.7 574.0 459.4"/><path stroke="#246dff" d="M446.4 465.4 446.7 459.5M452.1 454.1 452.4 459.0M513.3 458.7 513.9 455.0M523.5 452.7 524.1 457.0M564.8 456.6 565.5 453.0M574.2 452.6 574.1 455.7"/><path stroke="#247fff" d="M451.8 448.7 452.1 454.1M513.9 455.0 514.2 452.9M523.2 450.2 523.5 452.7M565.5 453.0 566.4 449.5M574.4 448.6 574.2 452.6"/><path stroke="#2491ff" d="M446.7 459.5 447.0 452.7M514.2 452.9 514.8 448.0M522.6 443.9 523.2 450.2M566.4 449.5 567.4 445.7M574.7 445.0 574.4 448.6"/><path stroke="#24a4ff" d="M451.5 443.1 451.8 448.7M514.8 448.0 515.1 445.2M522.3 440.1 522.6 443.9M567.4 445.7 568.5 442.3M575.1 441.6 574.7 445.0"/><path stroke="#24b6ff" d="M447.0 452.7 447.3 445.5M451.2 437.8 451.5 443.1M515.1 445.2 515.4 442.0M522.0 435.7 522.3 440.1M568.5 442.3 569.7 438.5M575.5 437.8 575.1 441.6"/><path stroke="#24c8ff" d="M447.3 445.5 447.6 438.6M515.4 442.0 515.7 438.5M569.7 438.5 570.9 434.9M575.9 434.5 575.5 437.8"/><path stroke="#24daff" d="M450.9 433.3 451.2 437.8M515.7 438.5 516.0 434.6M521.7 430.7 522.0 435.7M570.9 434.9 572.0 431.3M576.5 430.9 575.9 434.5"/><path stroke="#24edff" d="M447.6 438.6 447.9 433.0M450.6 429.9 450.9 433.3M516.0 434.6 516.3 430.3M521.4 424.8 521.7 430.7M572.0 431.3 573.3 427.5M577.1 427.0 576.5 430.9"/><path stroke="#24ffff" d="M447.9 433.0 448.2 429.2M450.0 426.7 450.6 429.9M573.3 427.5 574.3 424.2M577.7 423.7 577.1 427.0"/><path stroke="#36ffed" d="M448.2 429.2 448.5 427.2 448.8 426.4 449.1 426.2 449.7 426.3 450.0 426.7M516.3 430.3 516.6 425.5M521.1 418.0 521.4 424.8M574.3 424.2 575.5 420.3M578.3 420.1 577.7 423.7"/><path stroke="#48ffda" d="M516.6 425.5 516.9 420.3M575.5 420.3 576.5 416.9M579.1 416.3 578.3 420.1"/><path stroke="#5bffc8" d="M520.8 410.4 521.1 418.0M576.5 416.9 577.7 413.0M579.9 412.7 579.1 416.3"/><path stroke="#6dffb6" d="M516.9 420.3 517.2 414.5M577.7 413.0 578.8 409.4M580.7 409.1 579.9 412.7"/><path stroke="#7fffa4" d="M517.2 414.5 517.5 408.3M520.5 402.0 520.8 410.4M578.8 409.4 579.9 405.8M581.5 405.4 580.7 409.1"/><path stroke="#91ff91" d="M579.9 405.8 581.0 402.2M582.4 401.9 581.5 405.4"/><path stroke="#a4ff7f" d="M517.5 408.3 517.8 401.9M520.2 393.5 520.5 402.0M581.0 402.2 582.1 398.7M583.3 398.3 582.4 401.9"/><path stroke="#b6ff6d" d="M582.1 398.7 583.4 395.0M584.3 394.8 583.3 398.3"/><path stroke="#c8ff5b" d="M517.8 401.9 518.1 395.4M519.9 385.8 520.2 393.5M583.4 395.0 584.7 391.2M585.2 391.2 584.3 394.8"/><path stroke="#daff48" d="M584.7 391.2 585.7 389.0 585.2 391.2"/><path stroke="#edff36" d="M518.1 395.4 518.4 389.3"/><path stroke="#ffff24" d="M518.4 389.3 518.7 384.2M519.6 380.5 519.9 385.8"/><path stroke="#ffed24" d="M518.7 384.2 519.3 379.0 519.6 380.5"/><g stroke-width="1.6"><path stroke="#292998" d="M663.7 481.9 663.7 484.0"/><path stroke="#2828a9" d="M658.8 484.1 658.8 479.8M663.7 477.5 663.7 481.9"/><path stroke="#2727bb" d="M658.8 479.8 658.8 475.4M663.8 473.1 663.7 477.5"/><path stroke="#2626ce" d="M658.8 475.4 658.8 473.2M663.8 470.9 663.8 473.1"/><path stroke="#2525e4" d="M658.8 473.2 658.9 468.8M663.8 466.6 663.8 470.9"/><path stroke="#2424fb" d="M658.9 468.8 658.9 464.5M663.8 462.2 663.8 466.6"/><path stroke="#2436ff" d="M658.9 464.5 659.0 462.3M663.8 460.0 663.8 462.2"/><path stroke="#2448ff" d="M659.0 462.3 659.1 457.9M663.9 455.6 663.8 460.0"/><path stroke="#245bff" d="M659.1 457.9 659.1 455.7M663.9 453.4 663.9 455.6"/><path stroke="#246dff" d="M659.1 455.7 659.2 451.3M664.0 449.1 663.9 453.4"/><path stroke="#247fff" d="M659.2 451.3 659.4 447.0M664.1 444.7 664.0 449.1"/><path stroke="#2491ff" d="M659.4 447.0 659.5 444.8M664.1 442.5 664.1 444.7"/><path stroke="#24a4ff" d="M659.5 444.8 659.6 440.4M664.2 438.1 664.1 442.5"/><path stroke="#24b6ff" d="M659.6 440.4 659.8 436.0M664.3 433.8 664.2 438.1"/><path stroke="#24c8ff" d="M659.8 436.0 659.9 433.8M664.4 431.6 664.3 433.8"/><path stroke="#24daff" d="M659.9 433.8 660.1 429.5M664.5 427.2 664.4 431.6"/><path stroke="#24edff" d="M660.1 429.5 660.4 425.1M664.7 422.8 664.5 427.2"/><path stroke="#24ffff" d="M660.4 425.1 660.5 422.9M664.7 420.6 664.7 422.8"/><path stroke="#36ffed" d="M660.5 422.9 660.7 418.5M664.9 416.3 664.7 420.6"/><path stroke="#48ffda" d="M660.7 418.5 661.0 414.2M665.0 411.9 664.9 416.3"/><path stroke="#5bffc8" d="M661.0 414.2 661.2 412.0M665.1 409.7 665.0 411.9"/><path stroke="#6dffb6" d="M661.2 412.0 661.5 407.6M665.3 405.3 665.1 409.7"/><path stroke="#7fffa4" d="M661.5 407.6 661.6 405.4M665.4 403.2 665.3 405.3"/><path stroke="#91ff91" d="M661.6 405.4 662.0 401.0M665.6 398.8 665.4 403.2"/><path stroke="#a4ff7f" d="M662.0 401.0 662.3 396.7M665.8 394.4 665.6 398.8"/><path stroke="#b6ff6d" d="M662.3 396.7 662.5 394.5M665.9 392.2 665.8 394.4"/><path stroke="#c8ff5b" d="M662.5 394.5 662.9 390.1M666.1 387.8 665.9 392.2"/><path stroke="#daff48" d="M662.9 390.1 663.3 385.7M666.4 383.5 666.1 387.8"/><path stroke="#edff36" d="M663.3 385.7 663.5 383.5M666.5 381.3 666.4 383.5"/><path stroke="#ffff24" d="M663.5 383.5 663.9 379.1M666.7 376.9 666.5 381.3"/><path stroke="#ffed24" d="M663.9 379.1 664.4 374.8M666.9 374.4 666.7 376.9"/><path stroke="#ffda24" d="M664.4 374.8 665.2 371.0M666.6 370.8 666.9 372.5 666.9 374.4"/><path stroke="#ffc824" d="M665.2 371.0 665.6 370.2 666.0 369.9 666.3 370.1 666.6 370.8"/></g>
<path stroke="#29298a" d="M774.1 486.2 818.3 485.8"/><path stroke="#292998" d="M402.2 496.3 413.9 496.1 419.9 495.7 424.1 494.7 425.6 494.1 427.1 493.1M427.7 492.6 428.3 494.8 428.6 495.3 429.2 495.6 429.8 495.7 433.7 495.3 436.7 494.7 438.8 494.0 440.6 492.8M465.6 491.9 467.4 491.8M587.8 488.1 593.3 488.7 598.0 488.9 605.9 488.8 627.6 488.4 651.9 487.5 714.0 486.5 774.1 486.2"/><path stroke="#2828a9" d="M427.1 493.1 427.7 492.6M440.6 492.8 441.8 491.5 443.0 489.5M458.1 488.4 459.6 489.9 461.4 490.9 463.5 491.6 465.6 491.9M467.4 491.8 469.2 491.5 470.7 490.9 471.6 490.0 472.5 488.2M479.7 487.8 480.9 488.5 482.4 488.9 484.8 489.2 487.5 489.2 492.9 488.7 498.0 487.3M579.5 484.5 581.1 485.8 582.6 486.6 584.6 487.4 587.8 488.1"/><path stroke="#2727bb" d="M443.0 489.5 443.9 487.2 444.2 488.3 444.5 488.6 444.8 488.3 445.7 485.3M456.0 484.1 456.9 486.4 458.1 488.4M472.5 488.2 473.4 484.9M477.6 483.7 478.5 486.1 479.7 487.8M498.0 487.3 501.0 485.9 504.0 483.7M536.2 482.4 538.6 483.5 541.9 484.5 546.7 485.0 550.2 484.8 552.7 484.4 555.5 483.4 557.5 482.3M577.2 481.2 578.1 482.9 579.5 484.5"/><path stroke="#2626ce" d="M445.7 485.3 446.0 483.5M455.1 480.4 456.0 484.1M473.4 484.9 474.0 482.7 474.3 482.0 474.9 481.5 476.4 481.6 477.0 482.3 477.6 483.7M504.0 483.7 505.8 481.9 507.3 480.0M532.0 479.0 534.1 481.0 536.2 482.4M557.5 482.3 559.5 480.7 561.1 478.6M576.0 477.7 577.2 481.2"/><path stroke="#2525e4" d="M446.0 483.5 446.6 478.2M454.5 476.6 455.1 480.4M507.3 480.0 509.4 476.5M529.5 475.5 530.8 477.5 532.0 479.0M561.1 478.6 563.1 474.9M575.2 473.9 576.0 477.7"/><path stroke="#2424fb" d="M454.2 474.1 454.5 476.6M509.4 476.5 510.9 473.0M527.7 471.2 529.5 475.5M563.1 474.9 564.2 471.1M574.9 470.5 575.2 473.9"/><path stroke="#2436ff" d="M446.6 478.2 446.9 474.4M453.6 467.6 454.2 474.1M510.9 473.0 512.1 469.3M526.8 468.3 527.7 471.2M564.2 471.1 565.1 467.4M574.7 466.7 574.9 470.5"/><path stroke="#2448ff" d="M446.9 474.4 447.2 469.6M453.3 463.4 453.6 467.6M512.1 469.3 513.0 465.8M525.9 464.4 526.8 468.3M565.1 467.4 565.8 463.8M574.6 463.4 574.7 466.7"/><path stroke="#245bff" d="M447.2 469.6 447.5 463.9M513.0 465.8 513.6 463.0M525.3 461.1 525.9 464.4M565.8 463.8 566.4 460.1M574.7 459.7 574.6 463.4"/><path stroke="#246dff" d="M453.0 458.5 453.3 463.4M513.6 463.0 514.2 459.7M524.7 457.1 525.3 461.1M566.4 460.1 567.2 456.6M574.9 456.0 574.7 459.7"/><path stroke="#247fff" d="M447.5 463.9 447.8 457.2M452.7 453.2 453.0 458.5M514.2 459.7 514.8 455.7M524.1 452.0 524.7 457.1M567.2 456.6 568.0 453.0M575.1 452.4 574.9 456.0"/><path stroke="#2491ff" d="M452.4 447.8 452.7 453.2M514.8 455.7 515.4 451.0M523.8 448.9 524.1 452.0M568.0 453.0 568.9 449.6M575.4 448.9 575.1 452.4"/><path stroke="#24a4ff" d="M447.8 457.2 448.1 450.1M515.4 451.0 515.7 448.3M523.5 445.4 523.8 448.9M568.9 449.6 569.9 445.8M575.8 445.1 575.4 448.9"/><path stroke="#24b6ff" d="M452.0 442.6 452.4 447.8M515.7 448.3 516.0 445.2M523.2 441.3 523.5 445.4M569.9 445.8 571.0 442.2M576.1 441.8 575.8 445.1"/><path stroke="#24c8ff" d="M448.1 450.1 448.4 443.4M451.7 438.2 452.0 442.6M516.0 445.2 516.3 441.9M522.9 436.7 523.2 441.3M571.0 442.2 572.2 438.6M576.6 438.2 576.1 441.8"/><path stroke="#24daff" d="M516.3 441.9 516.6 438.2M522.6 431.3 522.9 436.7M572.2 438.6 573.3 434.9M577.2 434.4 576.6 438.2"/><path stroke="#24edff" d="M448.4 443.4 448.7 438.0M451.1 432.9 451.7 438.2M516.6 438.2 516.9 434.2M573.3 434.9 574.5 431.3M577.8 430.7 577.2 434.4"/><path stroke="#24ffff" d="M448.7 438.0 449.0 434.3 449.3 432.3 449.6 431.5 450.5 431.4 450.8 431.8 451.1 432.9M516.9 434.2 517.2 429.7M522.3 425.1 522.6 431.3M574.5 431.3 575.6 427.5M578.4 427.3 577.8 430.7"/><path stroke="#36ffed" d="M575.6 427.5 576.6 424.0M579.0 423.7 578.4 427.3"/><path stroke="#48ffda" d="M517.2 429.7 517.5 424.7M522.0 417.9 522.3 425.1M576.6 424.0 577.7 420.4M579.7 420.1 579.0 423.7"/><path stroke="#5bffc8" d="M517.5 424.7 517.8 419.3M577.7 420.4 578.8 416.9M580.5 416.5 579.7 420.1"/><path stroke="#6dffb6" d="M521.7 409.9 522.0 417.9M578.8 416.9 579.8 413.2M581.3 412.9 580.5 416.5"/><path stroke="#7fffa4" d="M517.8 419.3 518.1 413.4M579.8 413.2 581.0 409.5M582.1 409.3 581.3 412.9"/><path stroke="#91ff91" d="M521.4 401.1 521.7 409.9M581.0 409.5 582.2 405.8M583.0 405.8 582.1 409.3"/><path stroke="#a4ff7f" d="M518.1 413.4 518.4 407.2M582.2 405.8 583.5 402.2M583.8 402.1 583.0 405.8"/><path stroke="#b6ff6d" d="M518.4 407.2 518.7 400.7M521.1 392.1 521.4 401.1M583.5 402.2 583.8 401.6 583.8 402.1"/><path stroke="#daff48" d="M518.7 400.7 519.0 394.2"/><path stroke="#edff36" d="M520.7 384.2 521.1 392.1"/><path stroke="#ffff24" d="M519.0 394.2 519.2 388.2"/><path stroke="#ffed24" d="M519.2 388.2 519.5 383.1M520.4 378.9 520.7 384.2"/><path stroke="#ffda24" d="M519.5 383.1 519.8 379.4M520.1 377.8 520.4 378.9"/><path stroke="#ffc824" d="M519.8 379.4 520.1 377.8"/><g stroke-width="1.6"><path stroke="#292998" d="M664.3 485.8 664.3 487.7"/><path stroke="#2828a9" d="M660.1 487.8 660.1 484.0M664.3 482.0 664.3 485.8"/><path stroke="#2727bb" d="M660.1 484.0 660.1 480.2M664.3 478.3 664.3 482.0"/><path stroke="#2626ce" d="M660.1 480.2 660.1 476.5M664.3 474.5 664.3 478.3"/><path stroke="#2525e4" d="M660.1 476.5 660.1 472.7M664.3 470.7 664.3 474.5"/><path stroke="#2424fb" d="M660.1 472.7 660.2 468.9M664.4 467.0 664.3 470.7"/><path stroke="#2436ff" d="M660.2 468.9 660.3 465.2M664.4 463.2 664.4 467.0"/><path stroke="#2448ff" d="M660.3 465.2 660.4 461.4M664.4 459.4 664.4 463.2"/><path stroke="#245bff" d="M660.4 461.4 660.4 457.6M664.5 455.7 664.4 459.4"/><path stroke="#246dff" d="M660.4 457.6 660.6 453.8M664.5 451.9 664.5 455.7"/><path stroke="#247fff" d="M660.6 453.8 660.6 452.0M664.6 448.1 664.5 451.9"/><path stroke="#2491ff" d="M660.6 452.0 660.7 448.2M664.7 446.2 664.6 448.1"/><path stroke="#24a4ff" d="M660.7 448.2 660.9 444.4M664.7 442.5 664.7 446.2"/><path stroke="#24b6ff" d="M660.9 444.4 661.1 440.7M664.8 438.7 664.7 442.5"/><path stroke="#24c8ff" d="M661.1 440.7 661.2 436.9M664.9 434.9 664.8 438.7"/><path stroke="#24daff" d="M661.2 436.9 661.4 433.1M665.0 431.2 664.9 434.9"/><path stroke="#24edff" d="M661.4 433.1 661.6 429.3M665.1 427.4 665.0 431.2"/><path stroke="#24ffff" d="M661.6 429.3 661.8 425.6M665.2 423.6 665.1 427.4"/><path stroke="#36ffed" d="M661.8 425.6 662.1 421.8M665.4 419.9 665.2 423.6"/><path stroke="#48ffda" d="M662.1 421.8 662.3 418.0M665.5 416.1 665.4 419.9"/><path stroke="#5bffc8" d="M662.3 418.0 662.6 414.3M665.6 412.3 665.5 416.1"/><path stroke="#6dffb6" d="M662.6 414.3 662.7 412.4M665.7 410.4 665.6 412.3"/><path stroke="#7fffa4" d="M662.7 412.4 663.0 408.6M665.9 406.7 665.7 410.4"/><path stroke="#91ff91" d="M663.0 408.6 663.3 404.8M666.0 402.9 665.9 406.7"/><path stroke="#a4ff7f" d="M663.3 404.8 663.6 401.1M666.2 399.1 666.0 402.9"/><path stroke="#b6ff6d" d="M663.6 401.1 663.9 397.3M666.4 395.4 666.2 399.1"/><path stroke="#c8ff5b" d="M663.9 397.3 664.3 392.8M666.5 392.5 666.4 395.4"/><path stroke="#daff48" d="M664.3 392.8 664.8 390.4 665.3 388.9M666.0 388.8 666.4 390.2 666.5 392.5"/><path stroke="#edff36" d="M665.3 388.9 665.7 388.6 666.0 388.8"/></g>
<path stroke="#29298a" d="M775.9 489.8 819.1 489.4"/><path stroke="#292998" d="M403.1 500.0 414.8 499.8 420.8 499.3 425.0 498.4 426.5 497.7 428.0 496.7M428.6 496.2 429.2 498.5 429.5 498.9 430.1 499.2 430.7 499.3 434.6 498.9 437.6 498.4 439.7 497.6 441.5 496.5M588.1 491.9 593.2 492.4 604.2 492.6 628.2 492.1 652.8 491.2 714.9 490.2 775.9 489.8"/><path stroke="#2828a9" d="M428.0 496.7 428.6 496.2M441.5 496.5 442.7 495.3 443.9 493.3M458.7 491.9 460.2 493.4 462.0 494.4 464.1 495.1 466.2 495.3 468.6 495.1 470.7 494.5 471.9 493.6 472.8 492.2M483.3 491.4 486.0 491.9 489.3 492.0 492.6 491.7 495.6 491.2M579.9 488.3 581.2 489.5 583.2 490.6 585.2 491.2 588.1 491.9"/><path stroke="#2727bb" d="M443.9 493.3 444.8 491.0 445.4 492.4 445.7 492.2 446.6 489.5M456.9 488.3 457.8 490.5 458.7 491.9M472.8 492.2 473.7 489.2M479.4 487.8 480.0 489.1 480.9 490.3 481.8 490.9 483.3 491.4M495.6 491.2 498.0 490.5 500.4 489.5 503.7 487.3M537.4 486.1 539.5 487.2 542.8 488.2 545.5 488.7 549.6 488.9 552.5 488.7 555.7 488.0 558.0 487.1 560.1 485.7M577.6 484.9 578.7 486.8 579.9 488.3"/><path stroke="#2626ce" d="M446.6 489.5 447.2 485.6M456.0 484.8 456.9 488.3M473.7 489.2 474.3 486.1M478.2 483.7 479.4 487.8M503.7 487.3 505.5 485.7 507.3 483.6M533.1 482.6 535.2 484.7 537.4 486.1M560.1 485.7 561.9 483.9 563.3 482.0M576.4 481.1 577.6 484.9"/><path stroke="#2525e4" d="M447.2 485.6 447.5 482.8M455.3 481.3 456.0 484.8M474.3 486.1 474.9 483.3 475.5 482.0 476.4 481.8 477.3 481.9 477.9 482.8 478.2 483.7M507.3 483.6 509.4 480.3M530.7 479.1 533.1 482.6M563.3 482.0 565.0 478.3M575.8 477.7 576.4 481.1"/><path stroke="#2424fb" d="M447.5 482.8 447.8 479.3M454.7 476.2 455.3 481.3M509.4 480.3 511.2 476.4M528.9 474.9 530.7 479.1M565.0 478.3 566.0 475.0M575.5 474.3 575.8 477.7"/><path stroke="#2436ff" d="M447.8 479.3 448.1 474.8M454.4 472.8 454.7 476.2M511.2 476.4 512.4 472.9M528.0 472.0 528.9 474.9M566.0 475.0 566.8 471.3M575.3 470.6 575.5 474.3"/><path stroke="#2448ff" d="M454.1 468.9 454.4 472.8M512.4 472.9 513.3 469.7M527.1 468.3 528.0 472.0M566.8 471.3 567.5 467.7M575.3 466.9 575.3 470.6"/><path stroke="#245bff" d="M448.1 474.8 448.4 469.4M453.8 464.4 454.1 468.9M513.3 469.7 514.2 465.6M526.2 463.3 527.1 468.3M567.5 467.7 568.2 464.1M575.3 463.2 575.3 466.9"/><path stroke="#246dff" d="M453.5 459.4 453.8 464.4M514.2 465.6 514.8 462.3M525.9 461.3 526.2 463.3M568.2 464.1 568.9 460.3M575.5 459.7 575.3 463.2"/><path stroke="#247fff" d="M448.4 469.4 448.7 463.2M514.8 462.3 515.4 458.5M525.3 456.4 525.9 461.3M568.9 460.3 569.7 456.9M575.7 456.2 575.5 459.7"/><path stroke="#2491ff" d="M453.2 454.3 453.5 459.4M515.4 458.5 515.7 456.3M525.0 453.5 525.3 456.4M569.7 456.9 570.5 453.2M576.0 452.5 575.7 456.2"/><path stroke="#24a4ff" d="M448.7 463.2 449.0 456.6M452.9 449.5 453.2 454.3M515.7 456.3 516.3 451.3M524.7 450.2 525.0 453.5M570.5 453.2 571.6 449.4M576.4 448.9 576.0 452.5"/><path stroke="#24b6ff" d="M449.0 456.6 449.3 450.3M452.6 445.4 452.9 449.5M516.3 451.3 516.6 448.4M524.4 446.5 524.7 450.2M571.6 449.4 572.5 445.9M576.8 445.5 576.4 448.9"/><path stroke="#24c8ff" d="M516.6 448.4 516.9 445.3M524.1 442.2 524.4 446.5M572.5 445.9 573.6 442.1M577.3 441.9 576.8 445.5"/><path stroke="#24daff" d="M449.3 450.3 449.6 445.2M452.0 440.4 452.6 445.4M516.9 445.3 517.2 441.8M523.8 437.2 524.1 442.2M573.6 442.1 574.6 438.7M577.8 438.2 577.3 441.9"/><path stroke="#24edff" d="M449.6 445.2 449.9 441.7 450.2 439.8 450.5 439.1 451.4 439.0 451.7 439.4 452.0 440.4M517.2 441.8 517.5 438.0M523.5 431.5 523.8 437.2M574.6 438.7 575.7 435.0M578.4 434.7 577.8 438.2"/><path stroke="#24ffff" d="M517.5 438.0 517.8 433.8M575.7 435.0 576.8 431.3M579.0 431.0 578.4 434.7"/><path stroke="#36ffed" d="M523.2 424.8 523.5 431.5M576.8 431.3 577.8 427.7M579.7 427.4 579.0 431.0"/><path stroke="#48ffda" d="M517.8 433.8 518.1 429.1M577.8 427.7 578.9 424.0M580.3 423.8 579.7 427.4"/><path stroke="#5bffc8" d="M518.1 429.1 518.4 424.0M522.9 417.2 523.2 424.8M578.9 424.0 580.0 420.4M581.1 420.3 580.3 423.8"/><path stroke="#6dffb6" d="M580.0 420.4 581.2 416.7M581.8 416.6 581.1 420.3"/><path stroke="#7fffa4" d="M518.4 424.0 518.7 418.5M522.6 408.6 522.9 417.2M581.2 416.7 582.0 414.8 581.8 416.6"/><path stroke="#91ff91" d="M518.7 418.5 519.0 412.6"/><path stroke="#a4ff7f" d="M522.2 399.4 522.6 408.6"/><path stroke="#b6ff6d" d="M519.0 412.6 519.3 406.3"/><path stroke="#daff48" d="M519.3 406.3 519.5 399.8M521.9 390.1 522.2 399.4"/><path stroke="#ffff24" d="M519.5 399.8 519.8 393.3M521.6 382.1 521.9 390.1"/><path stroke="#ffed24" d="M519.8 393.3 520.1 387.3"/><path stroke="#ffc824" d="M520.1 387.3 520.4 382.1M521.3 377.2 521.6 382.1"/><path stroke="#ffb624" d="M520.4 382.1 521.0 376.5 521.3 377.2"/><g stroke-width="1.6"><path stroke="#292998" d="M661.4 491.4 661.4 489.9M664.8 488.3 664.8 491.3"/><path stroke="#2828a9" d="M661.4 489.9 661.4 486.9M664.8 485.4 664.8 488.3"/><path stroke="#2727bb" d="M661.4 486.9 661.4 483.9M664.8 482.4 664.8 485.4"/><path stroke="#2626ce" d="M661.4 483.9 661.4 479.5M664.8 477.9 664.8 482.4"/><path stroke="#2525e4" d="M661.4 479.5 661.5 476.5M664.8 475.0 664.8 477.9"/><path stroke="#2424fb" d="M661.5 476.5 661.5 472.0M664.9 470.5 664.8 475.0"/><path stroke="#2436ff" d="M661.5 472.0 661.6 469.1M664.9 467.5 664.9 470.5"/><path stroke="#2448ff" d="M661.6 469.1 661.7 464.6M664.9 463.0 664.9 467.5"/><path stroke="#245bff" d="M661.7 464.6 661.8 461.6M665.0 460.1 664.9 463.0"/><path stroke="#246dff" d="M661.8 461.6 661.9 458.6M665.0 457.1 665.0 460.1"/><path stroke="#247fff" d="M661.9 458.6 662.0 454.2M665.1 452.6 665.0 457.1"/><path stroke="#2491ff" d="M662.0 454.2 662.1 451.2M665.1 449.6 665.1 452.6"/><path stroke="#24a4ff" d="M662.1 451.2 662.3 446.7M665.2 445.2 665.1 449.6"/><path stroke="#24b6ff" d="M662.3 446.7 662.4 443.7M665.3 442.2 665.2 445.2"/><path stroke="#24c8ff" d="M662.4 443.7 662.6 440.8M665.3 439.2 665.3 442.2"/><path stroke="#24daff" d="M662.6 440.8 662.8 436.3M665.4 434.8 665.3 439.2"/><path stroke="#24edff" d="M662.8 436.3 663.0 433.3M665.5 431.8 665.4 434.8"/><path stroke="#24ffff" d="M663.0 433.3 663.3 428.8M665.6 427.3 665.5 431.8"/><path stroke="#36ffed" d="M663.3 428.8 663.4 425.9M665.7 424.3 665.6 427.3"/><path stroke="#48ffda" d="M663.4 425.9 663.6 422.9M665.9 419.9 665.7 424.3"/><path stroke="#5bffc8" d="M663.6 422.9 664.0 418.4M666.0 416.9 665.9 419.9"/><path stroke="#6dffb6" d="M664.0 418.4 664.4 414.4M665.9 414.1 666.0 416.9"/><path stroke="#7fffa4" d="M664.4 414.4 664.9 412.6 665.3 412.1 665.7 412.6 665.9 414.1"/></g>
<path stroke="#29298a" d="M777.7 493.5 820.0 493.1"/><path stroke="#292998" d="M404.0 503.6 415.4 503.4 421.4 503.0 425.6 502.1 427.1 501.5 428.6 500.6M429.5 499.9 430.1 502.1 430.4 502.5 431.0 502.9 431.6 502.9 435.5 502.5 438.5 502.0 440.6 501.3 442.4 500.2M587.0 495.4 593.1 496.2 602.6 496.4 629.0 495.8 653.6 494.9 715.8 493.8 777.7 493.5"/><path stroke="#2828a9" d="M428.6 500.6 429.5 499.9M442.4 500.2 443.9 498.6 445.1 496.5M459.5 495.9 461.0 497.2 462.8 498.1 464.7 498.6 466.8 498.7 468.9 498.5 470.7 497.9 472.2 496.9 473.1 495.8M580.0 491.9 581.5 493.3 583.1 494.2 587.0 495.4"/><path stroke="#2727bb" d="M445.1 496.5 445.7 495.0 446.3 496.2 446.6 496.2 446.9 495.8 447.5 493.9M457.4 491.8 458.3 494.1 459.5 495.9M473.1 495.8 473.7 494.4 474.3 492.1M481.5 491.5 482.7 492.8 484.8 493.7 487.8 494.3 491.1 494.4 494.4 494.2 497.4 493.6 500.4 492.5 502.8 491.2M538.5 489.8 540.3 490.7 543.7 492.0 548.6 492.8 552.1 492.9 555.7 492.5 558.3 491.8 560.6 490.6 562.3 489.4M578.0 488.6 578.8 490.3 580.0 491.9"/><path stroke="#2626ce" d="M447.5 493.9 448.1 490.4M456.5 488.1 457.4 491.8M474.3 492.1 474.9 488.5M480.0 487.4 480.6 489.6 481.5 491.5M502.8 491.2 504.9 489.5 507.0 487.4M534.3 486.2 536.4 488.3 538.5 489.8M562.3 489.4 563.8 487.8 565.1 485.8M576.9 484.9 578.0 488.6"/><path stroke="#2525e4" d="M448.1 490.4 448.4 487.9M455.9 484.3 456.5 488.1M474.9 488.5 475.2 486.3M479.4 484.5 480.0 487.4M507.0 487.4 509.4 484.0M531.9 482.6 534.3 486.2M565.1 485.8 566.8 481.9M576.3 481.3 576.9 484.9"/><path stroke="#2424fb" d="M448.4 487.9 448.7 484.7M455.3 478.7 455.9 484.3M475.2 486.3 476.1 481.5M478.2 480.8 478.8 482.0 479.4 484.5M509.4 484.0 511.2 480.4M530.4 479.3 531.9 482.6M566.8 481.9 567.9 478.4M576.0 478.0 576.3 481.3"/><path stroke="#2436ff" d="M448.7 484.7 449.0 480.6M455.0 475.2 455.3 478.7M476.1 481.5 476.7 480.7 477.6 480.6 478.2 480.8M511.2 480.4 512.7 476.4M529.2 475.6 530.4 479.3M567.9 478.4 568.6 474.9M575.8 474.1 576.0 478.0"/><path stroke="#2448ff" d="M449.0 480.6 449.3 475.7M454.7 471.1 455.0 475.2M512.7 476.4 513.6 473.3M528.3 472.0 529.2 475.6M568.6 474.9 569.3 471.2M575.8 470.6 575.8 474.1"/><path stroke="#245bff" d="M454.4 466.6 454.7 471.1M513.6 473.3 514.5 469.6M527.4 467.1 528.3 472.0M569.3 471.2 570.0 467.5M575.9 467.2 575.8 470.6"/><path stroke="#246dff" d="M449.3 475.7 449.6 470.1M514.5 469.6 515.1 466.6M526.8 463.0 527.4 467.1M570.0 467.5 570.7 463.9M576.1 463.6 575.9 467.2"/><path stroke="#247fff" d="M449.6 470.1 449.9 464.1M454.1 462.0 454.4 466.6M515.1 466.6 515.7 463.2M526.5 460.5 526.8 463.0M570.7 463.9 571.4 460.5M576.3 459.8 576.1 463.6"/><path stroke="#2491ff" d="M453.8 457.6 454.1 462.0M515.7 463.2 516.3 459.1M526.2 457.8 526.5 460.5M571.4 460.5 572.3 456.6M576.7 456.2 576.3 459.8"/><path stroke="#24a4ff" d="M449.9 464.1 450.2 458.4M453.5 453.9 453.8 457.6M516.3 459.1 516.6 456.8M525.6 451.1 526.2 457.8M572.3 456.6 573.1 453.2M577.0 452.7 576.7 456.2"/><path stroke="#24b6ff" d="M450.2 458.4 450.5 453.8M453.2 451.2 453.5 453.9M516.6 456.8 517.2 451.6M525.3 447.0 525.6 451.1M573.1 453.2 574.1 449.4M577.4 449.2 577.0 452.7"/><path stroke="#24c8ff" d="M450.5 453.8 450.8 450.6M452.9 449.4 453.2 451.2M517.2 451.6 517.5 448.6M574.1 449.4 575.0 445.9M577.9 445.4 577.4 449.2"/><path stroke="#24daff" d="M450.8 450.6 451.1 449.0 451.4 448.3 452.3 448.2 452.6 448.5 452.9 449.4M517.5 448.6 517.8 445.3M525.0 442.4 525.3 447.0M575.0 445.9 576.0 442.3M578.4 442.0 577.9 445.4"/><path stroke="#24edff" d="M517.8 445.3 518.1 441.7M524.7 437.0 525.0 442.4M576.0 442.3 577.1 438.5M578.9 438.4 578.4 442.0"/><path stroke="#24ffff" d="M518.1 441.7 518.4 437.8M524.4 430.8 524.7 437.0M577.1 438.5 578.1 435.0M579.5 434.8 578.9 438.4"/><path stroke="#36ffed" d="M518.4 437.8 518.7 433.4M578.1 435.0 579.2 431.3M580.1 431.2 579.5 434.8"/><path stroke="#48ffda" d="M524.1 423.6 524.4 430.8M579.2 431.3 580.3 428.3 580.5 428.3 580.5 428.6 580.1 431.2"/><path stroke="#5bffc8" d="M518.7 433.4 519.0 428.7"/><path stroke="#6dffb6" d="M519.0 428.7 519.3 423.5M523.8 415.4 524.1 423.6"/><path stroke="#91ff91" d="M519.3 423.5 519.6 417.9M523.4 406.2 523.8 415.4"/><path stroke="#a4ff7f" d="M519.6 417.9 519.8 412.0"/><path stroke="#c8ff5b" d="M519.8 412.0 520.1 405.6M523.1 396.5 523.4 406.2"/><path stroke="#edff36" d="M520.1 405.6 520.4 399.2"/><path stroke="#ffff24" d="M522.8 387.0 523.1 396.5"/><path stroke="#ffed24" d="M520.4 399.2 520.7 392.7"/><path stroke="#ffda24" d="M520.7 392.7 521.0 386.7M522.5 379.2 522.8 387.0"/><path stroke="#ffb624" d="M521.0 386.7 521.3 381.4M522.2 375.1 522.5 379.2"/><path stroke="#ffa424" d="M521.3 381.4 521.6 377.5"/><path stroke="#ff9124" d="M521.6 377.5 521.9 375.2 522.2 375.1"/><g stroke-width="1.6"><path stroke="#292998" d="M662.7 495.0 662.7 494.1M665.3 493.2 665.3 495.0"/><path stroke="#2828a9" d="M662.7 494.1 662.7 490.5M665.3 489.6 665.3 493.2"/><path stroke="#2727bb" d="M662.7 490.5 662.7 487.0M665.3 486.0 665.3 489.6"/><path stroke="#2626ce" d="M662.7 487.0 662.8 483.4M665.3 482.5 665.3 486.0"/><path stroke="#2525e4" d="M662.8 483.4 662.8 479.8M665.3 478.9 665.3 482.5"/><path stroke="#2424fb" d="M662.8 479.8 662.9 476.3M665.3 475.3 665.3 478.9"/><path stroke="#2436ff" d="M662.9 476.3 663.0 472.7M665.3 470.9 665.3 475.3"/><path stroke="#2448ff" d="M663.0 472.7 663.1 469.1M665.3 467.3 665.3 470.9"/><path stroke="#245bff" d="M663.1 469.1 663.2 464.6M665.3 463.7 665.3 467.3"/><path stroke="#246dff" d="M663.2 464.6 663.4 461.1M665.3 460.1 665.3 463.7"/><path stroke="#247fff" d="M663.4 461.1 663.5 457.5M665.4 456.6 665.3 460.1"/><path stroke="#2491ff" d="M663.5 457.5 663.7 453.9M665.4 453.0 665.4 456.6"/><path stroke="#24a4ff" d="M663.7 453.9 663.9 450.3M665.4 450.0 665.4 453.0"/><path stroke="#24b6ff" d="M663.9 450.3 664.3 446.8M665.2 446.6 665.4 450.0"/><path stroke="#24c8ff" d="M664.3 446.8 664.8 445.5 665.2 446.6"/></g>
<path stroke="#29298a" d="M779.5 497.1 820.9 496.7"/><path stroke="#292998" d="M404.9 507.3 416.3 507.0 422.3 506.6 426.5 505.7 428.0 505.1 429.5 504.2M430.4 503.5 431.0 505.7 431.6 506.4 432.2 506.5 436.1 506.2 439.4 505.6 441.5 504.9 443.3 503.9M587.4 499.3 593.0 499.9 602.1 500.1 630.0 499.4 654.7 498.5 716.8 497.5 779.5 497.1"/><path stroke="#2828a9" d="M429.5 504.2 430.4 503.5M443.3 503.9 444.8 502.4 446.0 500.4M446.9 499.4 447.2 500.1 447.5 500.3M460.1 499.6 461.3 500.7 462.8 501.4 464.6 502.0 466.7 502.1 468.8 501.9 470.6 501.3 472.2 500.4 473.1 499.5M549.5 496.7 553.0 497.0 556.7 496.7M580.2 495.8 581.4 496.9 583.2 498.0 585.3 498.8 587.4 499.3"/><path stroke="#2727bb" d="M446.0 500.4 446.6 499.0 446.9 499.4M447.5 500.3 448.1 499.3 448.7 497.0M458.0 495.5 458.9 497.8 460.1 499.6M473.1 499.5 474.0 498.0 474.6 496.2M485.1 495.2 486.6 495.8 488.7 496.4 493.2 496.7 497.7 496.2 501.6 494.8M539.7 493.5 541.2 494.3 544.6 495.7 549.5 496.7M556.7 496.7 559.2 496.2 561.1 495.5 562.9 494.4 564.6 493.1M578.3 492.4 579.2 494.4 580.2 495.8"/><path stroke="#2626ce" d="M448.7 497.0 449.3 493.1M457.1 491.6 458.0 495.5M474.6 496.2 475.2 493.1M481.8 491.0 483.0 493.5 483.9 494.4 485.1 495.2M501.6 494.8 504.0 493.4 506.4 491.3M535.5 489.8 537.6 491.9 539.7 493.5M564.6 493.1 566.0 491.4 567.3 489.2M577.3 488.7 578.3 492.4"/><path stroke="#2525e4" d="M449.3 493.1 449.6 490.2M456.5 487.6 457.1 491.6M475.2 493.1 475.5 491.0M480.9 487.0 481.8 491.0M506.4 491.3 507.9 489.6 509.4 487.5M533.1 486.1 535.5 489.8M567.3 489.2 568.7 485.6M576.8 485.3 577.3 488.7"/><path stroke="#2424fb" d="M449.6 490.2 449.9 486.7M456.2 484.9 456.5 487.6M475.5 491.0 476.0 485.5M480.3 483.2 480.9 487.0M509.4 487.5 511.2 484.2M531.6 482.8 533.1 486.1M568.7 485.6 569.6 482.1M576.5 481.7 576.8 485.3"/><path stroke="#2436ff" d="M449.9 486.7 450.2 482.4M455.9 481.8 456.2 484.9M476.0 485.5 476.3 482.8M479.7 479.9 480.3 483.2M511.2 484.2 512.7 480.6M530.4 479.1 531.6 482.8M569.6 482.1 570.4 478.4M576.4 477.9 576.5 481.7"/><path stroke="#2448ff" d="M455.6 478.2 455.9 481.8M476.3 482.8 476.6 480.6 477.2 478.5 477.8 478.2 478.7 478.2 479.4 478.9 479.7 479.9M512.7 480.6 513.9 476.9M529.5 475.5 530.4 479.1M570.4 478.4 571.1 474.8M576.4 474.5 576.4 477.9"/><path stroke="#245bff" d="M450.2 482.4 450.5 477.4M455.3 474.2 455.6 478.2M513.9 476.9 514.8 473.4M528.6 470.7 529.5 475.5M571.1 474.8 571.7 471.3M576.5 470.9 576.4 474.5"/><path stroke="#246dff" d="M450.5 477.4 450.8 472.1M455.0 470.2 455.3 474.2M514.8 473.4 515.7 469.2M528.3 468.8 528.6 470.7M571.7 471.3 572.4 467.6M576.7 467.3 576.5 470.9"/><path stroke="#247fff" d="M454.7 466.3 455.0 470.2M515.7 469.2 516.3 465.9M527.7 464.3 528.3 468.8M572.4 467.6 573.1 464.0M576.9 463.6 576.7 467.3"/><path stroke="#2491ff" d="M450.8 472.1 451.1 467.1M454.4 463.1 454.7 466.3M516.3 465.9 516.6 464.0M527.4 461.6 527.7 464.3M573.1 464.0 573.9 460.3M577.2 460.1 576.9 463.6"/><path stroke="#24a4ff" d="M451.1 467.1 451.4 463.0M453.8 459.1 454.4 463.1M516.6 464.0 517.2 459.8M526.8 455.2 527.4 461.6M573.9 460.3 574.7 456.8M577.6 456.5 577.2 460.1"/><path stroke="#24b6ff" d="M451.4 463.0 451.7 460.2 452.0 458.7 452.3 458.1 453.2 458.0 453.5 458.3 453.8 459.1M517.2 459.8 517.8 454.8M526.5 451.3 526.8 455.2M574.7 456.8 575.6 453.0M578.0 452.9 577.6 456.5"/><path stroke="#24c8ff" d="M517.8 454.8 518.1 452.0M526.2 446.8 526.5 451.3M575.6 453.0 576.6 449.5M578.4 449.2 578.0 452.9"/><path stroke="#24daff" d="M518.1 452.0 518.4 448.9M576.6 449.5 577.6 445.8M578.9 445.6 578.4 449.2"/><path stroke="#24edff" d="M518.4 448.9 518.7 445.5M525.9 441.7 526.2 446.8M577.6 445.8 578.8 442.1M579.2 442.1 578.9 445.6"/><path stroke="#24ffff" d="M518.7 445.5 519.0 441.8M525.6 435.8 525.9 441.7M578.8 442.1 579.2 442.1"/><path stroke="#36ffed" d="M519.0 441.8 519.3 437.8"/><path stroke="#48ffda" d="M519.3 437.8 519.6 433.5M525.3 428.9 525.6 435.8"/><path stroke="#6dffb6" d="M519.6 433.5 519.9 428.7M524.9 421.1 525.3 428.9"/><path stroke="#7fffa4" d="M519.9 428.7 520.1 423.5"/><path stroke="#91ff91" d="M524.6 412.1 524.9 421.1"/><path stroke="#a4ff7f" d="M520.1 423.5 520.4 417.9"/><path stroke="#b6ff6d" d="M520.4 417.9 520.7 411.9M524.3 402.2 524.6 412.1"/><path stroke="#daff48" d="M520.7 411.9 521.0 405.7"/><path stroke="#edff36" d="M524.0 392.0 524.3 402.2"/><path stroke="#ffff24" d="M521.0 405.7 521.3 399.2"/><path stroke="#ffda24" d="M521.3 399.2 521.6 392.8M523.7 382.5 524.0 392.0"/><path stroke="#ffc824" d="M521.6 392.8 521.9 386.7"/><path stroke="#ffa424" d="M521.9 386.7 522.2 381.2M523.4 375.6 523.7 382.5"/><path stroke="#ff9124" d="M522.2 381.2 522.5 376.9M523.1 373.1 523.4 375.6"/><path stroke="#ff7f24" d="M522.5 376.9 522.8 374.1 523.1 373.1"/>
<path stroke="#29298a" d="M781.6 500.8 821.8 500.4"/><path stroke="#292998" d="M405.8 510.9 416.9 510.6 422.9 510.2 427.1 509.4 428.6 508.8 430.1 508.0M431.3 507.1 431.9 509.3 432.2 509.7 432.8 510.1 433.4 510.1 437.3 509.7 440.6 509.2 442.7 508.5 444.5 507.4M586.8 503.0 593.0 503.7 601.4 503.9 631.1 503.1 655.5 502.2 717.9 501.1 781.6 500.8"/><path stroke="#2828a9" d="M430.1 508.0 431.3 507.1M444.5 507.4 446.0 505.8 447.2 503.7M447.8 503.1 448.1 504.0 448.4 504.3 448.7 504.1M460.4 503.1 461.6 504.2 462.8 504.9 464.6 505.4 466.4 505.6 468.5 505.4 470.3 504.9 471.8 504.1 473.0 503.1M548.2 500.2 552.3 500.9 555.3 501.0 558.6 500.9 560.8 500.4M580.4 499.6 581.6 500.8 583.0 501.7 584.5 502.4 586.8 503.0"/><path stroke="#2727bb" d="M447.2 503.7 447.5 503.0 447.8 503.1M448.7 504.1 449.3 502.8 449.9 500.2M458.6 499.3 459.5 501.6 460.4 503.1M473.0 503.1 473.9 502.0 474.8 500.0M492.3 498.7 495.0 498.9 497.7 498.6M540.9 497.1 545.5 499.4 548.2 500.2M560.8 500.4 564.2 499.0 565.8 497.9 567.1 496.5M578.5 496.1 579.3 498.0 580.4 499.6"/><path stroke="#2626ce" d="M449.9 500.2 450.2 498.3M457.7 495.4 458.6 499.3M474.8 500.0 475.7 495.9M484.5 495.2 485.7 496.4 487.5 497.4 489.9 498.3 492.3 498.7M497.7 498.6 500.1 498.1 502.2 497.3 503.7 496.5 505.8 494.9M537.0 493.7 538.8 495.5 540.9 497.1M567.1 496.5 568.2 495.0 569.3 492.9M577.6 492.4 578.5 496.1"/><path stroke="#2525e4" d="M450.2 498.3 450.8 492.9M457.1 491.2 457.7 495.4M475.7 495.9 476.0 493.7M482.6 491.1 483.5 493.7 484.5 495.2M505.8 494.9 507.6 493.2 509.1 491.3M534.6 490.2 537.0 493.7M569.3 492.9 570.5 489.3M577.2 488.9 577.6 492.4"/><path stroke="#2424fb" d="M456.8 488.5 457.1 491.2M476.0 493.7 476.3 491.0M482.0 488.0 482.6 491.1M509.1 491.3 511.2 487.9M532.8 486.2 534.6 490.2M570.5 489.3 571.4 485.8M577.0 485.4 577.2 488.9"/><path stroke="#2436ff" d="M450.8 492.9 451.1 489.2M456.5 485.5 456.8 488.5M476.3 491.0 476.6 487.6M481.4 483.6 482.0 488.0M511.2 487.9 513.0 483.9M531.6 482.5 532.8 486.2M571.4 485.8 572.1 482.2M576.9 481.7 577.0 485.4"/><path stroke="#2448ff" d="M451.1 489.2 451.4 484.9M455.9 478.6 456.5 485.5M476.6 487.6 476.9 484.0M481.1 481.1 481.4 483.6M513.0 483.9 514.2 480.5M530.7 478.8 531.6 482.5M572.1 482.2 572.8 478.5M576.9 478.2 576.9 481.7"/><path stroke="#245bff" d="M451.4 484.9 451.7 480.3M455.6 475.3 455.9 478.6M476.9 484.0 477.5 477.7M480.5 476.9 481.1 481.1M514.2 480.5 515.1 477.3M530.1 475.8 530.7 478.8M572.8 478.5 573.4 474.9M577.0 474.5 576.9 478.2"/><path stroke="#246dff" d="M451.7 480.3 452.0 476.0M455.3 472.5 455.6 475.3M477.5 477.7 478.1 475.0 478.7 474.6 479.6 474.6 479.9 474.9 480.5 476.9M515.1 477.3 516.0 473.5M529.5 472.2 530.1 475.8M573.4 474.9 574.1 471.3M577.2 470.9 577.0 474.5"/><path stroke="#247fff" d="M452.0 476.0 452.3 472.5M455.0 470.5 455.3 472.5M516.0 473.5 516.6 470.5M528.9 467.7 529.5 472.2M574.1 471.3 574.8 467.6M577.4 467.3 577.2 470.9"/><path stroke="#2491ff" d="M452.3 472.5 452.6 470.1 452.9 468.9 453.2 468.4 454.1 468.2 454.4 468.5 455.0 470.5M516.6 470.5 517.2 467.0M528.6 465.1 528.9 467.7M574.8 467.6 575.5 464.0M577.7 463.8 577.4 467.3"/><path stroke="#24a4ff" d="M517.2 467.0 517.8 463.0M528.0 458.8 528.6 465.1M575.5 464.0 576.4 460.4M578.0 460.2 577.7 463.8"/><path stroke="#24b6ff" d="M517.8 463.0 518.1 460.7M527.7 455.0 528.0 458.8M576.4 460.4 577.4 456.7M578.2 456.6 578.0 460.2"/><path stroke="#24c8ff" d="M518.1 460.7 518.7 455.6M527.4 450.6 527.7 455.0M577.4 456.7 577.7 456.1 578.2 456.1 578.2 456.6"/><path stroke="#24daff" d="M518.7 455.6 519.0 452.7"/><path stroke="#24edff" d="M519.0 452.7 519.3 449.6M527.1 445.6 527.4 450.6"/><path stroke="#24ffff" d="M519.3 449.6 519.6 446.2M526.8 439.9 527.1 445.6"/><path stroke="#36ffed" d="M519.6 446.2 519.9 442.5"/><path stroke="#48ffda" d="M519.9 442.5 520.1 438.5M526.4 433.2 526.8 439.9"/><path stroke="#5bffc8" d="M520.1 438.5 520.4 434.1M526.1 425.6 526.4 433.2"/><path stroke="#7fffa4" d="M520.4 434.1 520.7 429.4"/><path stroke="#91ff91" d="M520.7 429.4 521.0 424.2M525.8 416.8 526.1 425.6"/><path stroke="#b6ff6d" d="M521.0 424.2 521.3 418.7M525.5 406.9 525.8 416.8"/><path stroke="#c8ff5b" d="M521.3 418.7 521.6 412.8"/><path stroke="#edff36" d="M521.6 412.8 521.9 406.6M525.2 396.3 525.5 406.9"/><path stroke="#ffed24" d="M521.9 406.6 522.2 400.2"/><path stroke="#ffda24" d="M522.2 400.2 522.5 393.8M524.9 385.9 525.2 396.3"/><path stroke="#ffb624" d="M522.5 393.8 522.8 387.6"/><path stroke="#ffa424" d="M524.6 377.1 524.9 385.9"/><path stroke="#ff9124" d="M522.8 387.6 523.1 381.9"/><path stroke="#ff7f24" d="M523.1 381.9 523.4 377.1M524.3 372.1 524.6 377.1"/><path stroke="#ff6d24" d="M523.4 377.1 523.7 373.6M524.0 371.8 524.3 372.1"/><path stroke="#ff5b24" d="M523.7 373.6 524.0 371.8"/>
<path stroke="#29298a" d="M783.4 504.4 822.7 504.1"/><path stroke="#292998" d="M406.6 514.5 417.8 514.3 423.8 513.8 428.0 513.0 429.5 512.4 431.0 511.6M432.2 510.6 432.8 512.8 433.4 513.5 434.0 513.7 437.6 513.4 441.2 512.9 443.6 512.2 445.4 511.2M585.8 506.7 591.2 507.5 600.8 507.7 632.6 506.7 656.3 505.9 718.8 504.8 783.4 504.4"/><path stroke="#2828a9" d="M431.0 511.6 432.2 510.6M445.4 511.2 446.9 509.7 448.1 507.8M448.7 507.0 449.0 508.1 449.3 508.6 449.6 508.6 450.2 507.7M460.7 506.9 461.9 508.0 463.1 508.6 464.3 509.0 466.4 509.1 468.2 509.0 470.0 508.5 471.5 507.8 473.0 506.8M549.1 504.0 553.2 504.9 558.5 505.2 561.7 504.9 564.8 504.0M580.3 503.3 581.4 504.5 582.6 505.5 584.1 506.2 585.8 506.7"/><path stroke="#2727bb" d="M448.1 507.8 448.4 507.2 448.7 507.0M450.2 507.7 451.1 504.2M458.9 502.9 459.8 505.5 460.7 506.9M473.0 506.8 474.2 505.4 475.1 503.7M542.1 500.8 546.4 503.1 549.1 504.0M564.8 504.0 567.4 502.5 569.5 500.2M578.7 499.8 579.4 501.8 580.3 503.3"/><path stroke="#2626ce" d="M451.1 504.2 451.4 502.4M458.0 498.5 458.9 502.9M475.1 503.7 476.0 500.6M488.3 498.9 490.1 499.8 492.3 500.5 494.4 500.9 496.8 501.1 498.9 500.9 501.0 500.4 503.1 499.7 504.9 498.7M538.2 497.2 540.0 499.1 542.1 500.8M569.5 500.2 570.5 498.6 571.3 496.6M577.9 496.1 578.7 499.8"/><path stroke="#2525e4" d="M451.4 502.4 452.0 497.1M457.4 494.1 458.0 498.5M476.0 500.6 476.6 496.9M484.7 495.0 486.2 497.3 488.3 498.9M504.9 498.7 507.0 497.0 508.8 495.1M535.8 493.6 538.2 497.2M571.3 496.6 572.4 493.0M577.5 492.7 577.9 496.1"/><path stroke="#2424fb" d="M452.0 497.1 452.3 493.8M457.1 491.5 457.4 494.1M476.6 496.9 476.9 494.2M483.5 491.0 484.7 495.0M508.8 495.1 511.2 491.6M534.3 490.3 535.8 493.6M572.4 493.0 573.2 489.4M577.3 489.0 577.5 492.7"/><path stroke="#2436ff" d="M452.3 493.8 452.6 490.3M456.8 488.8 457.1 491.5M476.9 494.2 477.2 490.8M482.9 487.2 483.5 491.0M511.2 491.6 513.0 488.1M533.1 486.8 534.3 490.3M573.2 489.4 573.9 485.7M577.3 485.5 577.3 489.0"/><path stroke="#2448ff" d="M452.6 490.3 452.9 486.9M456.2 484.1 456.8 488.8M477.2 490.8 477.5 486.7M482.6 484.7 482.9 487.2M513.0 488.1 514.5 484.2M531.9 482.1 533.1 486.8M573.9 485.7 574.5 482.1M577.3 481.9 577.3 485.5"/><path stroke="#245bff" d="M452.9 486.9 453.5 482.3M455.6 481.5 456.2 484.1M477.5 486.7 477.8 482.2M482.0 478.7 482.6 484.7M514.5 484.2 515.4 481.3M531.3 479.0 531.9 482.1M574.5 482.1 575.1 478.5M577.4 478.3 577.3 481.9"/><path stroke="#246dff" d="M453.5 482.3 454.1 480.9 455.0 480.8 455.6 481.5M477.8 482.2 478.1 477.9M481.7 475.8 482.0 478.7M515.4 481.3 516.3 477.8M530.7 475.3 531.3 479.0M575.1 478.5 575.8 474.9M577.5 474.7 577.4 478.3"/><path stroke="#247fff" d="M478.1 477.9 478.4 474.5M481.4 473.5 481.7 475.8M516.3 477.8 517.2 473.6M530.1 470.9 530.7 475.3M575.8 474.9 576.7 471.2M577.6 471.1 577.5 474.7"/><path stroke="#2491ff" d="M478.4 474.5 479.0 471.2 479.6 470.7 480.5 470.7 480.8 471.1 481.4 473.5M517.2 473.6 517.8 470.3M529.8 468.2 530.1 470.9M576.7 471.2 577.1 470.2 577.5 470.2 577.6 471.1"/><path stroke="#24a4ff" d="M517.8 470.3 518.4 466.5M529.5 465.3 529.8 468.2"/><path stroke="#24b6ff" d="M518.4 466.5 518.7 464.4M528.9 458.1 529.5 465.3"/><path stroke="#24c8ff" d="M518.7 464.4 519.3 459.7"/><path stroke="#24daff" d="M519.3 459.7 519.6 457.0M528.6 453.8 528.9 458.1"/><path stroke="#24edff" d="M519.6 457.0 519.8 454.1M528.3 448.9 528.6 453.8"/><path stroke="#24ffff" d="M519.8 454.1 520.1 451.0M527.9 443.2 528.3 448.9"/><path stroke="#36ffed" d="M520.1 451.0 520.4 447.6"/><path stroke="#48ffda" d="M520.4 447.6 520.7 444.0M527.6 436.6 527.9 443.2"/><path stroke="#5bffc8" d="M520.7 444.0 521.0 440.0"/><path stroke="#6dffb6" d="M521.0 440.0 521.3 435.7M527.3 429.0 527.6 436.6"/><path stroke="#7fffa4" d="M521.3 435.7 521.6 431.0"/><path stroke="#91ff91" d="M527.0 420.3 527.3 429.0"/><path stroke="#a4ff7f" d="M521.6 431.0 521.9 426.0"/><path stroke="#b6ff6d" d="M521.9 426.0 522.2 420.6M526.7 410.4 527.0 420.3"/><path stroke="#daff48" d="M522.2 420.6 522.5 414.8"/><path stroke="#edff36" d="M522.5 414.8 522.8 408.7M526.4 399.6 526.7 410.4"/><path stroke="#ffed24" d="M522.8 408.7 523.1 402.4"/><path stroke="#ffda24" d="M526.1 388.6 526.4 399.6"/><path stroke="#ffc824" d="M523.1 402.4 523.4 396.0"/><path stroke="#ffa424" d="M523.4 396.0 523.7 389.7M525.8 378.7 526.1 388.6"/><path stroke="#ff9124" d="M523.7 389.7 524.0 383.8"/><path stroke="#ff6d24" d="M524.0 383.8 524.3 378.5M525.5 372.0 525.8 378.7"/><path stroke="#ff5b24" d="M524.3 378.5 524.6 374.3"/><path stroke="#ff4824" d="M524.6 374.3 525.2 370.2 525.5 372.0"/>
<path stroke="#29298a" d="M785.1 508.1 823.6 507.7"/><path stroke="#292998" d="M407.5 518.1 418.3 517.9 424.4 517.4 428.6 516.7 430.4 516.0 431.6 515.3M433.1 514.2 433.7 516.4 434.3 517.1 434.9 517.3 438.5 517.0 442.1 516.5 444.5 515.8 446.3 514.9M584.9 510.4 587.2 510.9 590.2 511.3 599.6 511.5 657.2 509.5 719.7 508.5 785.1 508.1"/><path stroke="#2828a9" d="M431.6 515.3 433.1 514.2M446.3 514.9 448.1 513.2 449.3 511.3M449.6 510.8 450.2 512.8 450.5 512.9 450.8 512.8 451.4 511.8M460.7 510.5 461.6 511.5 462.8 512.3 464.3 512.7 466.1 512.8 467.9 512.7 469.7 512.2 471.5 511.5 473.0 510.5M550.0 507.8 552.2 508.4 555.8 509.1 561.2 509.5 565.3 508.9 567.0 508.3 568.5 507.6M580.2 507.1 581.0 508.2 582.0 509.1 583.5 509.9 584.9 510.4"/><path stroke="#2727bb" d="M449.3 511.3 449.6 510.8M451.4 511.8 452.3 508.6M459.2 506.8 459.8 508.7 460.7 510.5M473.0 510.5 474.5 509.0 475.7 506.8M543.3 504.4 547.3 506.7 550.0 507.8M568.5 507.6 570.4 506.0 572.0 503.9M578.8 503.5 579.4 505.5 580.2 507.1"/><path stroke="#2626ce" d="M452.3 508.6 452.9 504.7M458.3 502.3 459.2 506.8M475.7 506.8 476.6 503.9M493.1 502.6 495.5 503.1 498.2 503.3 500.9 503.0 503.4 502.3M539.7 501.1 541.5 503.0 543.3 504.4M572.0 503.9 573.4 500.2M578.1 500.0 578.8 503.5"/><path stroke="#2525e4" d="M452.9 504.7 453.2 502.3M457.7 498.5 458.3 502.3M476.6 503.9 477.2 500.5M487.4 499.0 489.8 501.0 493.1 502.6M503.4 502.3 505.8 501.0 508.5 498.7M537.3 497.5 539.7 501.1M573.4 500.2 574.3 496.6M577.8 496.4 578.1 500.0"/><path stroke="#2424fb" d="M453.2 502.3 453.8 497.3M457.1 495.1 457.7 498.5M477.2 500.5 477.5 498.1M485.3 495.1 486.2 497.2 487.4 499.0M508.5 498.7 511.2 495.3M535.5 493.6 537.3 497.5M574.3 496.6 575.0 493.0M577.6 492.8 577.8 496.4"/><path stroke="#2436ff" d="M453.8 497.3 454.1 495.3 454.7 493.1M456.2 492.8 456.8 493.9 457.1 495.1M477.5 498.1 477.8 494.9M484.4 491.2 485.3 495.1M511.2 495.3 513.3 491.5M534.3 490.0 535.5 493.6M575.0 493.0 575.7 489.3M577.5 489.2 577.6 492.8"/><path stroke="#2448ff" d="M454.7 493.1 455.3 492.8 456.2 492.8M477.8 494.9 478.1 490.9M483.8 486.8 484.4 491.2M513.3 491.5 514.8 487.8M533.4 486.5 534.3 490.0M575.7 489.3 576.4 485.7M577.5 485.6 577.5 489.2"/><path stroke="#245bff" d="M478.1 490.9 478.4 486.1M483.5 483.8 483.8 486.8M514.8 487.8 516.0 484.2M532.5 482.0 533.4 486.5M576.4 485.7 577.0 484.2 577.3 484.3 577.5 485.6"/><path stroke="#246dff" d="M483.2 480.4 483.5 483.8M516.0 484.2 516.9 480.8M531.9 478.3 532.5 482.0"/><path stroke="#247fff" d="M478.4 486.1 478.7 480.8M482.9 476.8 483.2 480.4M516.9 480.8 517.8 476.8M531.6 476.1 531.9 478.3"/><path stroke="#2491ff" d="M478.7 480.8 479.0 475.8M482.6 473.4 482.9 476.8M517.8 476.8 518.3 473.7M531.0 471.0 531.6 476.1"/><path stroke="#24a4ff" d="M479.0 475.8 479.3 471.8M482.0 468.8 482.6 473.4M518.3 473.7 518.9 470.1M530.7 468.0 531.0 471.0"/><path stroke="#24b6ff" d="M479.3 471.8 479.6 469.2 479.9 468.0 480.2 467.5 481.4 467.4 482.0 468.8M518.9 470.1 519.5 466.0M530.4 464.7 530.7 468.0"/><path stroke="#24c8ff" d="M519.5 466.0 519.8 463.7M530.1 460.8 530.4 464.7"/><path stroke="#24daff" d="M519.8 463.7 520.1 461.3M529.7 456.5 530.1 460.8"/><path stroke="#24edff" d="M520.1 461.3 520.7 455.8M529.4 451.5 529.7 456.5"/><path stroke="#24ffff" d="M520.7 455.8 521.0 452.7M529.1 445.7 529.4 451.5"/><path stroke="#36ffed" d="M521.0 452.7 521.3 449.4"/><path stroke="#48ffda" d="M521.3 449.4 521.6 445.8M528.8 439.1 529.1 445.7"/><path stroke="#5bffc8" d="M521.6 445.8 521.9 441.9"/><path stroke="#6dffb6" d="M521.9 441.9 522.2 437.7M528.5 431.5 528.8 439.1"/><path stroke="#91ff91" d="M522.2 437.7 522.5 433.1M528.2 422.6 528.5 431.5"/><path stroke="#a4ff7f" d="M522.5 433.1 522.8 428.2"/><path stroke="#b6ff6d" d="M522.8 428.2 523.1 423.0M527.9 412.6 528.2 422.6"/><path stroke="#daff48" d="M523.1 423.0 523.4 417.4"/><path stroke="#edff36" d="M527.6 401.6 527.9 412.6"/><path stroke="#ffff24" d="M523.4 417.4 523.7 411.5"/><path stroke="#ffed24" d="M523.7 411.5 524.0 405.3"/><path stroke="#ffda24" d="M527.3 390.1 527.6 401.6"/><path stroke="#ffc824" d="M524.0 405.3 524.3 399.0"/><path stroke="#ffa424" d="M524.3 399.0 524.6 392.7"/><path stroke="#ff9124" d="M527.0 379.5 527.3 390.1"/><path stroke="#ff7f24" d="M524.6 392.7 524.9 386.5"/><path stroke="#ff6d24" d="M524.9 386.5 525.2 380.9M526.7 371.7 527.0 379.5"/><path stroke="#ff5b24" d="M525.2 380.9 525.5 376.0"/><path stroke="#ff3624" d="M525.5 376.0 526.1 369.7 526.4 368.9 526.7 371.7"/>
<path stroke="#29298a" d="M786.9 511.7 824.5 511.4"/><path stroke="#292998" d="M408.4 521.7 418.9 521.5 424.9 521.1 429.1 520.3 432.2 519.1M434.0 517.8 434.6 520.0 435.2 520.7 435.8 520.8 439.4 520.6 443.0 520.1 445.4 519.4 447.2 518.6M584.0 514.3 586.2 514.8 589.7 515.2 599.3 515.3 658.2 513.2 720.3 512.1 786.9 511.7"/><path stroke="#2828a9" d="M432.2 519.1 434.0 517.8M447.2 518.6 449.0 517.1 450.2 515.3M450.5 514.7 451.1 516.8 451.4 517.2 452.0 517.0 452.9 515.4M460.7 514.2 461.6 515.4 462.5 516.0 463.7 516.4 465.5 516.6 467.9 516.4 469.7 515.9 471.5 515.2 473.3 514.1M550.9 511.5 556.6 513.1 560.3 513.6 562.9 513.8 565.7 513.6 568.5 513.1 570.6 512.3 572.2 511.1M579.8 510.8 580.6 512.1 581.5 513.0 582.5 513.7 584.0 514.3"/><path stroke="#2727bb" d="M450.2 515.3 450.5 514.7M452.9 515.4 453.8 511.9M459.2 510.0 459.8 512.2 460.7 514.2M473.3 514.1 474.8 512.7 476.0 510.8M544.8 508.3 548.2 510.3 550.9 511.5M572.2 511.1 573.4 509.6 574.5 507.5M578.7 507.3 579.8 510.8"/><path stroke="#2626ce" d="M453.8 511.9 454.4 508.5M458.3 506.3 459.2 510.0M476.0 510.8 477.2 507.6M540.9 504.5 542.7 506.5 544.8 508.3M574.5 507.5 575.6 503.8M578.2 503.7 578.7 507.3"/><path stroke="#2525e4" d="M454.4 508.5 455.0 505.5 455.6 504.0M457.1 503.7 457.7 504.4 458.3 506.3M477.2 507.6 477.8 504.6M490.1 502.6 492.2 504.0 494.3 504.9 496.7 505.5 499.1 505.7 501.5 505.5 503.9 504.8 506.0 503.8 507.8 502.5M538.5 500.8 540.9 504.5M575.6 503.8 576.4 500.2M577.8 500.1 578.2 503.7"/><path stroke="#2424fb" d="M455.6 504.0 456.2 503.7 457.1 503.7M477.8 504.6 478.4 499.8M487.1 498.8 488.3 500.8 490.1 502.6M507.8 502.5 509.6 500.7 511.1 498.8M537.0 497.6 538.5 500.8M576.4 500.2 576.9 498.5 577.3 498.0 577.5 498.4 577.8 500.1"/><path stroke="#2436ff" d="M478.4 499.8 478.7 496.3M485.9 495.3 487.1 498.8M511.1 498.8 513.2 495.4M535.8 494.1 537.0 497.6"/><path stroke="#2448ff" d="M485.3 492.1 485.9 495.3M513.2 495.4 515.0 491.4M534.6 489.5 535.8 494.1"/><path stroke="#245bff" d="M478.7 496.3 479.0 491.8M484.7 487.2 485.3 492.1M515.0 491.4 516.2 488.0M534.0 486.5 534.6 489.5"/><path stroke="#246dff" d="M479.0 491.8 479.3 486.5M484.4 483.9 484.7 487.2M516.2 488.0 517.1 485.0M533.4 483.0 534.0 486.5"/><path stroke="#247fff" d="M484.1 480.2 484.4 483.9M517.1 485.0 518.0 481.3M532.8 478.8 533.4 483.0"/><path stroke="#2491ff" d="M479.3 486.5 479.6 480.6M483.8 476.2 484.1 480.2M518.0 481.3 518.9 477.0M532.5 476.4 532.8 478.8"/><path stroke="#24a4ff" d="M479.6 480.6 479.9 475.0M483.5 472.4 483.8 476.2M518.9 477.0 519.5 473.7M531.8 470.5 532.5 476.4"/><path stroke="#24b6ff" d="M483.2 469.4 483.5 472.4M519.5 473.7 520.1 469.8M531.5 467.1 531.8 470.5"/><path stroke="#24c8ff" d="M479.9 475.0 480.5 467.7M482.6 466.2 483.2 469.4M520.1 469.8 520.4 467.7M531.2 463.2 531.5 467.1"/><path stroke="#24daff" d="M480.5 467.7 480.8 466.4 481.1 465.9 482.0 465.7 482.3 465.8 482.6 466.2M520.4 467.7 521.0 463.0M530.9 458.7 531.2 463.2"/><path stroke="#24edff" d="M521.0 463.0 521.3 460.4M530.6 453.6 530.9 458.7"/><path stroke="#24ffff" d="M521.3 460.4 521.6 457.6"/><path stroke="#36ffed" d="M521.6 457.6 521.9 454.5M530.3 447.8 530.6 453.6"/><path stroke="#48ffda" d="M521.9 454.5 522.2 451.3M530.0 441.0 530.3 447.8"/><path stroke="#5bffc8" d="M522.2 451.3 522.5 447.7"/><path stroke="#6dffb6" d="M522.5 447.7 522.8 443.9M529.7 433.2 530.0 441.0"/><path stroke="#7fffa4" d="M522.8 443.9 523.1 439.9"/><path stroke="#91ff91" d="M523.1 439.9 523.4 435.4"/><path stroke="#a4ff7f" d="M523.4 435.4 523.7 430.7M529.4 424.2 529.7 433.2"/><path stroke="#c8ff5b" d="M523.7 430.7 524.0 425.6M529.1 414.0 529.4 424.2"/><path stroke="#daff48" d="M524.0 425.6 524.3 420.2"/><path stroke="#ffff24" d="M524.3 420.2 524.6 414.5M528.8 402.6 529.1 414.0"/><path stroke="#ffed24" d="M524.6 414.5 524.9 408.5"/><path stroke="#ffc824" d="M524.9 408.5 525.2 402.3M528.5 390.7 528.8 402.6"/><path stroke="#ffa424" d="M525.2 402.3 525.5 396.0"/><path stroke="#ff9124" d="M528.2 379.6 528.5 390.7"/><path stroke="#ff7f24" d="M525.5 396.0 525.8 389.8"/><path stroke="#ff6d24" d="M525.8 389.8 526.1 383.8"/><path stroke="#ff5b24" d="M527.9 371.1 528.2 379.6"/><path stroke="#ff4824" d="M526.1 383.8 526.4 378.4"/><path stroke="#ff3624" d="M526.4 378.4 526.7 373.8"/><path stroke="#ff2424" d="M526.7 373.8 527.0 370.2M527.6 367.5 527.9 371.1"/><path stroke="#ed2424" d="M527.0 370.2 527.3 368.1 527.6 367.5"/>
<path stroke="#29298a" d="M788.7 515.4 825.4 515.0"/><path stroke="#292998" d="M409.3 525.3 419.8 525.0 425.8 524.6 430.0 523.9 433.0 522.6M434.8 521.3 435.4 523.5 436.0 524.2 436.6 524.4 443.9 523.6 446.3 523.1 448.1 522.3M582.0 518.1 583.7 518.6 586.1 519.0 594.6 519.2 659.0 516.9 721.4 515.8 788.7 515.4"/><path stroke="#2828a9" d="M433.0 522.6 434.8 521.3M448.1 522.3 449.9 520.9 451.4 518.8 452.3 521.3 452.6 521.5 453.2 521.3 454.1 520.1 454.7 518.7M460.4 517.9 461.3 519.3 462.2 520.0 463.4 520.4 464.9 520.5 467.0 520.3 469.7 519.8 471.8 519.0 473.6 517.9M551.8 515.2 555.9 516.6 560.1 517.6 563.8 518.1 567.5 518.2 570.7 517.9 573.0 517.3 574.7 516.3 575.9 514.7M579.1 514.6 580.3 516.8 581.0 517.5 582.0 518.1"/><path stroke="#2727bb" d="M454.7 518.7 455.9 515.0M458.6 514.3 460.4 517.9M473.6 517.9 475.4 516.3 476.6 514.5M545.7 511.7 549.0 513.9 551.8 515.2M575.9 514.7 577.3 511.8 577.8 511.3 578.2 511.8 579.1 514.6"/><path stroke="#2626ce" d="M455.9 515.0 456.2 514.4 456.8 514.0 458.0 513.9 458.6 514.3M476.6 514.5 477.5 512.5 478.1 510.5M542.4 508.4 543.9 510.1 545.7 511.7"/><path stroke="#2525e4" d="M478.1 510.5 478.7 507.4M492.5 506.3 494.3 507.3 496.1 508.0 497.9 508.4 500.0 508.5 502.1 508.3 503.9 507.9 505.7 507.2 507.5 506.1M540.0 504.8 542.4 508.4"/><path stroke="#2424fb" d="M478.7 507.4 479.0 505.2M488.9 502.9 490.4 504.7 492.5 506.3M507.5 506.1 509.3 504.5 511.1 502.5M538.2 500.8 540.0 504.8"/><path stroke="#2436ff" d="M479.0 505.2 479.3 502.4M487.1 498.8 488.0 501.3 488.9 502.9M511.1 502.5 513.5 498.9M537.0 497.2 538.2 500.8"/><path stroke="#2448ff" d="M479.3 502.4 479.6 498.7M486.2 494.3 487.1 498.8M513.5 498.9 515.3 495.2M536.1 493.8 537.0 497.2"/><path stroke="#245bff" d="M479.6 498.7 479.9 494.0M485.9 492.0 486.2 494.3M515.3 495.2 516.5 492.0M535.2 489.5 536.1 493.8"/><path stroke="#246dff" d="M485.3 485.7 485.9 492.0M516.5 492.0 517.7 488.2M534.5 485.9 535.2 489.5"/><path stroke="#247fff" d="M479.9 494.0 480.2 488.4M485.0 481.7 485.3 485.7M517.7 488.2 518.6 484.7M533.9 481.6 534.5 485.9"/><path stroke="#2491ff" d="M480.2 488.4 480.5 482.3M484.7 477.6 485.0 481.7M518.6 484.7 519.5 480.6M533.6 479.1 533.9 481.6"/><path stroke="#24a4ff" d="M519.5 480.6 520.1 477.5M533.3 476.2 533.6 479.1"/><path stroke="#24b6ff" d="M480.5 482.3 480.8 476.4M484.4 473.6 484.7 477.6M520.1 477.5 520.7 473.9M532.7 469.6 533.3 476.2"/><path stroke="#24c8ff" d="M480.8 476.4 481.1 471.7M484.1 470.5 484.4 473.6M520.7 473.9 521.3 469.8M532.4 465.6 532.7 469.6"/><path stroke="#24daff" d="M481.1 471.7 481.7 467.3M483.5 467.2 484.1 470.5M521.3 469.8 521.6 467.5"/><path stroke="#24edff" d="M481.7 467.3 482.0 466.8 482.9 466.6 483.2 466.7 483.5 467.2M521.6 467.5 522.2 462.6M532.1 461.0 532.4 465.6"/><path stroke="#24ffff" d="M522.2 462.6 522.5 459.8M531.8 455.8 532.1 461.0"/><path stroke="#36ffed" d="M522.5 459.8 522.8 456.8M531.5 449.8 531.8 455.8"/><path stroke="#48ffda" d="M522.8 456.8 523.1 453.6"/><path stroke="#5bffc8" d="M523.1 453.6 523.4 450.2M531.2 442.9 531.5 449.8"/><path stroke="#6dffb6" d="M523.4 450.2 523.7 446.5"/><path stroke="#7fffa4" d="M523.7 446.5 524.0 442.5M530.9 435.0 531.2 442.9"/><path stroke="#91ff91" d="M524.0 442.5 524.3 438.3"/><path stroke="#a4ff7f" d="M524.3 438.3 524.6 433.7M530.6 425.8 530.9 435.0"/><path stroke="#c8ff5b" d="M524.6 433.7 524.9 428.8"/><path stroke="#daff48" d="M524.9 428.8 525.2 423.6M530.3 415.3 530.6 425.8"/><path stroke="#ffff24" d="M525.2 423.6 525.5 418.1"/><path stroke="#ffed24" d="M525.5 418.1 525.8 412.3M530.0 403.7 530.3 415.3"/><path stroke="#ffc824" d="M525.8 412.3 526.1 406.2"/><path stroke="#ffb624" d="M529.7 391.4 530.0 403.7"/><path stroke="#ffa424" d="M526.1 406.2 526.4 400.0"/><path stroke="#ff7f24" d="M526.4 400.0 526.7 393.8M529.4 379.8 529.7 391.4"/><path stroke="#ff6d24" d="M526.7 393.8 527.0 387.7"/><path stroke="#ff4824" d="M527.0 387.7 527.3 381.9M529.1 370.7 529.4 379.8"/><path stroke="#ff3624" d="M527.3 381.9 527.6 376.6"/><path stroke="#ed2424" d="M527.6 376.6 528.2 368.9M528.8 366.6 529.1 370.7"/><path stroke="#da2424" d="M528.2 368.9 528.5 367.0 528.8 366.6"/>
<path stroke="#29298a" d="M790.2 519.1 826.2 518.7"/><path stroke="#292998" d="M410.2 528.9 420.4 528.6 426.4 528.3 430.6 527.5 433.6 526.4M436.0 526.0 436.6 527.5 437.2 527.9 437.8 528.0 445.0 527.2 447.1 526.7 448.9 525.9M564.4 522.3 574.6 523.1 588.1 523.2 600.1 522.9 618.4 522.0 659.8 520.5 722.2 519.5 790.2 519.1"/><path stroke="#2828a9" d="M433.6 526.4 435.7 525.0 436.0 526.0M448.9 525.9 450.7 524.7 452.2 522.7 452.5 523.0 453.1 525.0 453.7 525.4 454.3 525.3 455.2 524.3 456.1 522.5M460.6 521.9 461.5 523.1 462.4 523.8 463.6 524.3 465.1 524.3 467.2 524.1 470.2 523.4 472.3 522.7 474.1 521.7M553.0 519.1 558.1 520.9 564.4 522.3"/><path stroke="#2727bb" d="M456.1 522.5 457.0 520.8 457.6 520.5 458.2 520.4 459.4 520.5 460.6 521.9M474.1 521.7 475.9 520.2 477.4 518.2M547.0 515.5 549.7 517.4 553.0 519.1"/><path stroke="#2626ce" d="M477.4 518.2 478.3 516.4 478.9 514.5M543.7 512.1 545.2 513.8 547.0 515.5"/><path stroke="#2525e4" d="M478.9 514.5 479.5 511.6M493.9 510.0 497.2 511.4 499.0 511.7 500.8 511.8 504.1 511.3 507.4 509.8M541.3 508.5 543.7 512.1"/><path stroke="#2424fb" d="M479.5 511.6 480.1 507.0M489.7 506.3 491.5 508.3 493.9 510.0M507.4 509.8 509.5 508.2 511.6 506.0M539.5 504.5 541.3 508.5"/><path stroke="#2436ff" d="M480.1 507.0 480.4 503.7M488.2 503.0 488.8 504.6 489.7 506.3M511.6 506.0 514.0 502.5M538.3 501.0 539.5 504.5"/><path stroke="#2448ff" d="M487.3 499.1 488.2 503.0M514.0 502.5 515.8 499.0M537.4 497.6 538.3 501.0"/><path stroke="#245bff" d="M480.4 503.7 480.7 499.5M486.7 494.7 487.3 499.1M515.8 499.0 517.3 495.2M536.5 493.3 537.4 497.6"/><path stroke="#246dff" d="M480.7 499.5 481.0 494.2M486.4 491.7 486.7 494.7M517.3 495.2 518.5 491.5M535.9 489.8 536.5 493.3"/><path stroke="#247fff" d="M486.1 488.1 486.4 491.7M518.5 491.5 519.4 488.1M535.3 485.5 535.9 489.8"/><path stroke="#2491ff" d="M481.0 494.2 481.3 488.3M485.8 484.0 486.1 488.1M519.4 488.1 520.0 485.5M535.0 483.1 535.3 485.5"/><path stroke="#24a4ff" d="M481.3 488.3 481.6 482.3M485.5 480.0 485.8 484.0M520.0 485.5 520.9 481.1M534.3 477.3 535.0 483.1"/><path stroke="#24b6ff" d="M485.2 476.3 485.5 480.0M520.9 481.1 521.5 477.7M534.0 473.9 534.3 477.3"/><path stroke="#24c8ff" d="M481.6 482.3 481.9 477.2M484.9 473.5 485.2 476.3M521.5 477.7 522.1 473.8M533.7 470.0 534.0 473.9"/><path stroke="#24daff" d="M481.9 477.2 482.5 471.7M484.0 470.6 484.3 470.9 484.6 471.8 484.9 473.5M522.1 473.8 522.4 471.6M533.4 465.7 533.7 470.0"/><path stroke="#24edff" d="M482.5 471.7 482.8 470.9 483.1 470.7 484.0 470.6M522.4 471.6 522.9 466.9"/><path stroke="#24ffff" d="M522.9 466.9 523.2 464.3M533.1 460.7 533.4 465.7"/><path stroke="#36ffed" d="M523.2 464.3 523.5 461.5M532.8 455.0 533.1 460.7"/><path stroke="#48ffda" d="M523.5 461.5 524.1 455.4"/><path stroke="#5bffc8" d="M524.1 455.4 524.4 451.9M532.5 448.4 532.8 455.0"/><path stroke="#6dffb6" d="M524.4 451.9 524.7 448.3M532.2 440.8 532.5 448.4"/><path stroke="#91ff91" d="M524.7 448.3 525.0 444.3M531.9 432.0 532.2 440.8"/><path stroke="#a4ff7f" d="M525.0 444.3 525.3 440.1"/><path stroke="#b6ff6d" d="M525.3 440.1 525.6 435.6"/><path stroke="#c8ff5b" d="M525.6 435.6 525.9 430.8M531.6 421.9 531.9 432.0"/><path stroke="#edff36" d="M525.9 430.8 526.2 425.6"/><path stroke="#ffff24" d="M526.2 425.6 526.5 420.2M531.3 410.5 531.6 421.9"/><path stroke="#ffda24" d="M526.5 420.2 526.8 414.5"/><path stroke="#ffc824" d="M526.8 414.5 527.1 408.5M531.0 398.2 531.3 410.5"/><path stroke="#ffa424" d="M527.1 408.5 527.4 402.4"/><path stroke="#ff9124" d="M530.7 385.8 531.0 398.2"/><path stroke="#ff7f24" d="M527.4 402.4 527.7 396.2"/><path stroke="#ff5b24" d="M527.7 396.2 528.0 390.1"/><path stroke="#ff4824" d="M528.0 390.1 528.3 384.2M530.4 374.9 530.7 385.8"/><path stroke="#ff2424" d="M528.3 384.2 528.6 378.8"/><path stroke="#ed2424" d="M528.6 378.8 528.9 374.1M530.1 367.9 530.4 374.9"/><path stroke="#da2424" d="M528.9 374.1 529.2 370.3"/><path stroke="#c82424" d="M529.2 370.3 529.8 366.6 530.1 367.9"/>
<path stroke="#29298a" d="M792.3 522.7 827.1 522.4"/><path stroke="#292998" d="M411.1 532.5 421.3 532.2 427.0 531.8 431.2 531.1 434.2 530.1M436.9 529.7 437.5 531.1 438.1 531.4 438.7 531.4 445.3 530.7 447.4 530.3 449.2 529.7M584.4 525.5 586.4 525.9 589.3 526.2 598.6 526.3 660.7 524.1 723.2 523.1 792.3 522.7"/><path stroke="#2828a9" d="M434.2 530.1 436.6 528.4 436.9 529.7M449.2 529.7 451.3 528.4 453.1 526.1 453.4 526.5 454.0 528.4 454.6 528.8 455.5 528.4 456.8 526.4M461.6 525.5 462.5 526.6 463.4 527.3 464.6 527.7 465.8 527.8 467.9 527.6 470.9 527.0 473.0 526.3 474.8 525.4M553.6 521.9 557.7 523.5 560.7 524.3 564.8 525.0 568.4 525.2 571.9 525.1 574.4 524.5 576.2 523.6 577.5 522.1M581.0 522.0 581.6 523.3 582.3 524.2 583.2 524.9 584.4 525.5"/><path stroke="#2727bb" d="M456.8 526.4 457.7 524.6 458.6 523.9 459.8 523.8 460.4 524.0 461.6 525.5M474.8 525.4 476.9 523.7 478.4 521.8M547.5 518.0 550.8 520.5 553.6 521.9M577.5 522.1 579.4 518.4M579.7 518.4 581.0 522.0"/><path stroke="#2626ce" d="M478.4 521.8 479.3 519.9 479.9 518.1M545.1 515.5 547.5 518.0M579.4 518.4 579.7 518.4"/><path stroke="#2525e4" d="M479.9 518.1 480.5 515.2M494.3 513.7 497.6 515.0 499.4 515.3 501.2 515.4 504.5 514.8 507.8 513.4M542.7 511.9 545.1 515.5"/><path stroke="#2424fb" d="M480.5 515.2 480.8 513.2M490.4 510.3 492.2 512.3 494.3 513.7M507.8 513.4 509.9 511.9 512.0 509.8M540.8 508.1 542.7 511.9"/><path stroke="#2436ff" d="M480.8 513.2 481.4 507.1M488.6 505.9 489.5 508.7 490.4 510.3M512.0 509.8 514.4 506.4M539.6 504.7 540.8 508.1"/><path stroke="#2448ff" d="M488.0 502.9 488.6 505.9M514.4 506.4 516.5 502.4M538.7 501.4 539.6 504.7"/><path stroke="#245bff" d="M481.4 507.1 481.7 502.8M487.4 498.2 488.0 502.9M516.5 502.4 517.7 499.5M537.8 497.3 538.7 501.4"/><path stroke="#246dff" d="M481.7 502.8 482.0 497.6M487.1 495.0 487.4 498.2M517.7 499.5 518.9 496.0M537.2 493.9 537.8 497.3"/><path stroke="#247fff" d="M486.8 491.4 487.1 495.0M518.9 496.0 520.1 491.8M536.6 489.9 537.2 493.9"/><path stroke="#2491ff" d="M482.0 497.6 482.3 492.0M486.5 487.5 486.8 491.4M520.1 491.8 521.0 488.0M536.0 485.0 536.6 489.9"/><path stroke="#24a4ff" d="M482.3 492.0 482.6 486.6M486.2 483.9 486.5 487.5M521.0 488.0 521.6 485.0M535.7 482.1 536.0 485.0"/><path stroke="#24b6ff" d="M482.6 486.6 482.9 482.2M485.9 481.0 486.2 483.9M521.6 485.0 522.2 481.8M535.4 478.9 535.7 482.1"/><path stroke="#24c8ff" d="M482.9 482.2 483.2 479.5M485.3 477.9 485.9 481.0M522.2 481.8 522.8 478.1M535.1 475.3 535.4 478.9"/><path stroke="#24daff" d="M483.2 479.5 483.5 478.1 483.8 477.7 484.7 477.4 485.0 477.5 485.3 477.9M522.8 478.1 523.4 473.9M534.8 471.3 535.1 475.3"/><path stroke="#24edff" d="M523.4 473.9 523.7 471.6M534.5 466.6 534.8 471.3"/><path stroke="#24ffff" d="M523.7 471.6 524.3 466.5M534.2 461.3 534.5 466.6"/><path stroke="#36ffed" d="M524.3 466.5 524.6 463.7"/><path stroke="#48ffda" d="M524.6 463.7 524.9 460.7M533.9 455.3 534.2 461.3"/><path stroke="#5bffc8" d="M524.9 460.7 525.2 457.5M533.6 448.3 533.9 455.3"/><path stroke="#6dffb6" d="M525.2 457.5 525.5 454.1"/><path stroke="#7fffa4" d="M525.5 454.1 525.8 450.4M533.3 440.2 533.6 448.3"/><path stroke="#91ff91" d="M525.8 450.4 526.1 446.5"/><path stroke="#a4ff7f" d="M526.1 446.5 526.4 442.3"/><path stroke="#b6ff6d" d="M526.4 442.3 526.7 437.8M533.0 430.8 533.3 440.2"/><path stroke="#daff48" d="M526.7 437.8 527.0 433.0M532.7 420.2 533.0 430.8"/><path stroke="#edff36" d="M527.0 433.0 527.3 427.9"/><path stroke="#ffed24" d="M527.3 427.9 527.6 422.5M532.4 408.2 532.7 420.2"/><path stroke="#ffda24" d="M527.6 422.5 527.9 416.8"/><path stroke="#ffb624" d="M527.9 416.8 528.2 410.9"/><path stroke="#ffa424" d="M532.1 395.5 532.4 408.2"/><path stroke="#ff9124" d="M528.2 410.9 528.5 404.8"/><path stroke="#ff7f24" d="M528.5 404.8 528.8 398.6"/><path stroke="#ff6d24" d="M531.8 383.2 532.1 395.5"/><path stroke="#ff5b24" d="M528.8 398.6 529.1 392.5"/><path stroke="#ff3624" d="M529.1 392.5 529.4 386.6"/><path stroke="#ff2424" d="M529.4 386.6 529.7 381.1M531.4 373.1 531.8 383.2"/><path stroke="#da2424" d="M529.7 381.1 529.9 376.2M531.1 367.8 531.4 373.1"/><path stroke="#c82424" d="M529.9 376.2 530.5 369.3"/><path stroke="#b62424" d="M530.5 369.3 530.8 367.6 531.1 367.8"/>
<path stroke="#29298a" d="M794.1 526.3 828.0 526.0"/><path stroke="#292998" d="M412.0 536.0 427.3 535.4 431.5 534.8 434.5 533.9M437.8 533.2 438.4 534.6 439.0 534.9 439.6 534.9 445.6 534.3 449.5 533.4M588.9 529.0 594.4 529.6 602.9 529.7 661.7 527.8 724.2 526.7 794.1 526.3"/><path stroke="#2828a9" d="M434.5 533.9 436.0 533.1 437.5 531.9 437.8 533.2M449.5 533.4 451.9 532.0 453.7 529.9M454.3 529.3 454.6 530.6 455.2 531.6 455.8 531.4 456.7 530.0M463.9 529.1 464.8 530.0 465.8 530.5 468.2 530.8 472.4 530.2 475.7 529.0M556.7 525.8 561.6 527.1 566.4 527.7 569.3 527.6 571.5 527.3 573.4 526.8 575.0 525.9M583.6 525.6 584.5 526.8 585.6 527.8 587.1 528.5 588.9 529.0"/><path stroke="#2727bb" d="M453.7 529.9 454.0 529.4 454.3 529.3M456.7 530.0 457.6 527.1M462.1 525.0 463.0 527.4 463.9 529.1M475.7 529.0 478.1 527.3 479.6 525.4M548.4 520.9 551.7 523.4 554.4 524.9 556.7 525.8M575.0 525.9 576.6 524.4 577.8 522.2M582.4 522.0 582.9 524.0 583.6 525.6"/><path stroke="#2626ce" d="M457.6 527.1 458.5 523.8 458.8 523.1 459.4 522.6 460.3 522.5 460.9 522.6 461.5 523.5 462.1 525.0M479.6 525.4 480.8 522.5M546.8 519.4 548.4 520.9M577.8 522.2 579.0 518.6M581.8 518.4 582.4 522.0"/><path stroke="#2525e4" d="M480.8 522.5 481.7 518.2M493.7 517.5 495.2 518.3 497.0 518.9 498.8 519.3 500.9 519.4 503.0 519.2 504.8 518.8 506.6 518.2 508.4 517.3M544.1 515.6 546.8 519.4M579.0 518.6 579.9 514.9M581.4 514.9 581.8 518.4"/><path stroke="#2424fb" d="M481.7 518.2 482.0 515.8M490.4 514.0 491.9 516.1 493.7 517.5M508.4 517.3 510.5 515.7 512.6 513.6M542.3 512.0 544.1 515.6M579.9 514.9 580.5 512.8 580.9 512.2 581.1 512.8 581.4 514.9"/><path stroke="#2436ff" d="M482.0 515.8 482.3 512.8M489.2 510.4 490.4 514.0M512.6 513.6 515.3 509.9M541.1 508.7 542.3 512.0"/><path stroke="#2448ff" d="M482.3 512.8 482.6 509.0M488.3 504.8 489.2 510.4M515.3 509.9 517.1 506.5M539.9 504.5 541.1 508.7"/><path stroke="#245bff" d="M482.6 509.0 482.9 504.5M488.0 502.0 488.3 504.8M517.1 506.5 518.6 503.0M539.0 500.4 539.9 504.5"/><path stroke="#246dff" d="M487.7 498.8 488.0 502.0M518.6 503.0 519.8 499.5M538.4 497.0 539.0 500.4"/><path stroke="#247fff" d="M482.9 504.5 483.2 499.5M487.4 495.4 487.7 498.8M519.8 499.5 521.0 495.3M537.8 493.0 538.4 497.0"/><path stroke="#2491ff" d="M483.2 499.5 483.5 494.7M487.1 492.2 487.4 495.4M521.0 495.3 521.9 491.6M537.5 490.7 537.8 493.0"/><path stroke="#24a4ff" d="M483.5 494.7 483.8 490.9M486.5 488.0 487.1 492.2M521.9 491.6 522.5 488.7M536.9 485.2 537.5 490.7"/><path stroke="#24b6ff" d="M483.8 490.9 484.1 488.4 484.4 487.2 484.7 486.8 485.9 486.7 486.5 488.0M522.5 488.7 523.1 485.5M536.6 482.0 536.9 485.2"/><path stroke="#24c8ff" d="M523.1 485.5 523.7 481.9M536.3 478.4 536.6 482.0"/><path stroke="#24daff" d="M523.7 481.9 524.3 477.9M536.0 474.3 536.3 478.4"/><path stroke="#24edff" d="M524.3 477.9 524.6 475.7M535.7 469.7 536.0 474.3"/><path stroke="#24ffff" d="M524.6 475.7 525.2 470.8M535.4 464.4 535.7 469.7"/><path stroke="#36ffed" d="M525.2 470.8 525.5 468.1"/><path stroke="#48ffda" d="M525.5 468.1 525.8 465.2M535.1 458.4 535.4 464.4"/><path stroke="#5bffc8" d="M525.8 465.2 526.1 462.2"/><path stroke="#6dffb6" d="M526.1 462.2 526.4 458.9M534.8 451.4 535.1 458.4"/><path stroke="#7fffa4" d="M526.4 458.9 526.7 455.4"/><path stroke="#91ff91" d="M526.7 455.4 527.0 451.6M534.5 443.3 534.8 451.4"/><path stroke="#a4ff7f" d="M527.0 451.6 527.3 447.6"/><path stroke="#b6ff6d" d="M527.3 447.6 527.6 443.3M534.2 433.9 534.5 443.3"/><path stroke="#c8ff5b" d="M527.6 443.3 527.9 438.7"/><path stroke="#daff48" d="M533.9 423.3 534.2 433.9"/><path stroke="#edff36" d="M527.9 438.7 528.2 433.8"/><path stroke="#ffff24" d="M528.2 433.8 528.5 428.7"/><path stroke="#ffed24" d="M528.5 428.7 528.8 423.2M533.6 411.3 533.9 423.3"/><path stroke="#ffc824" d="M528.8 423.2 529.1 417.5"/><path stroke="#ffa424" d="M529.1 417.5 529.4 411.6M533.3 398.5 533.6 411.3"/><path stroke="#ff9124" d="M529.4 411.6 529.7 405.5"/><path stroke="#ff6d24" d="M529.7 405.5 530.0 399.3M532.9 385.9 533.3 398.5"/><path stroke="#ff4824" d="M530.0 399.3 530.2 393.2"/><path stroke="#ff3624" d="M530.2 393.2 530.5 387.4"/><path stroke="#ff2424" d="M532.6 375.4 532.9 385.9"/><path stroke="#ed2424" d="M530.5 387.4 530.8 381.9"/><path stroke="#da2424" d="M530.8 381.9 531.1 377.2"/><path stroke="#c82424" d="M531.1 377.2 531.4 373.3M532.3 369.5 532.6 375.4"/><path stroke="#b62424" d="M531.4 373.3 532.0 369.1 532.3 369.5"/>
<path stroke="#29298a" d="M795.6 530.0 828.9 529.7"/><path stroke="#292998" d="M412.9 539.6 428.2 539.0 432.4 538.4 435.4 537.5M438.7 536.8 439.3 538.2 440.2 538.6 445.9 538.0 449.8 537.1M592.6 532.5 598.8 533.0 606.7 533.1 639.4 532.2 662.5 531.4 725.0 530.4 795.6 530.0"/><path stroke="#2828a9" d="M435.4 537.5 436.9 536.7 438.4 535.5 438.7 536.8M449.8 537.1 451.3 536.4 452.5 535.6 454.3 533.5M455.5 533.1 455.8 533.7 456.1 533.9 456.4 533.7M466.9 532.8 468.7 533.6 471.4 533.9 474.1 533.6 476.9 532.7M561.1 529.8 566.6 530.5 569.2 530.3 571.8 529.7M585.9 529.1 587.0 530.4 588.5 531.3 590.2 532.0 592.6 532.5"/><path stroke="#2727bb" d="M454.3 533.5 455.2 531.8 455.5 533.1M456.4 533.7 457.0 532.5 457.6 530.3M464.5 528.5 465.4 530.9 466.0 531.9 466.9 532.8M476.9 532.7 479.3 531.1 480.8 529.3M552.6 526.5 555.3 527.9 557.6 528.8 561.1 529.8M571.8 529.7 573.2 529.2 574.6 528.3 575.9 527.2 576.9 525.9M584.3 525.6 585.0 527.6 585.9 529.1"/><path stroke="#2626ce" d="M457.6 530.3 458.2 526.8M463.6 524.5 464.5 528.5M480.8 529.3 481.7 527.4 482.3 525.3M548.3 523.1 549.2 524.0 552.6 526.5M576.9 525.9 577.8 524.3 578.6 522.3M583.6 522.0 584.3 525.6"/><path stroke="#2525e4" d="M458.2 526.8 458.5 524.6M463.0 521.0 463.6 524.5M482.3 525.3 482.9 521.8M492.2 521.2 493.7 522.4 495.8 523.4 498.2 524.0 500.9 524.1 503.6 523.9 506.0 523.2 508.4 522.2 510.5 520.8M545.6 519.5 548.3 523.1M578.6 522.3 579.6 518.8M583.2 518.5 583.6 522.0"/><path stroke="#2424fb" d="M458.5 524.6 459.1 519.9M462.4 517.9 463.0 521.0M482.9 521.8 483.2 519.3M490.1 517.1 491.0 519.5 492.2 521.2M510.5 520.8 512.3 519.3 514.1 517.3M543.8 516.1 545.6 519.5M579.6 518.8 580.3 515.1M583.0 514.9 583.2 518.5"/><path stroke="#2436ff" d="M459.1 519.9 459.7 516.9 460.3 515.9 461.5 515.9 462.1 516.8 462.4 517.9M483.2 519.3 483.5 516.1M489.2 512.4 490.1 517.1M514.1 517.3 516.5 513.8M542.3 512.2 543.8 516.1M580.3 515.1 581.0 511.5M582.9 511.4 583.0 514.9"/><path stroke="#2448ff" d="M483.5 516.1 483.8 512.3M488.9 510.1 489.2 512.4M516.5 513.8 518.6 509.8M541.1 508.0 542.3 512.2M581.0 511.5 581.8 507.8M582.8 507.7 582.9 511.4"/><path stroke="#245bff" d="M483.8 512.3 484.1 508.1M488.3 504.6 488.9 510.1M518.6 509.8 519.8 506.9M540.5 505.4 541.1 508.0M581.8 507.8 582.5 505.6 582.7 506.0 582.8 507.7"/><path stroke="#246dff" d="M484.1 508.1 484.4 504.1M488.0 502.0 488.3 504.6M519.8 506.9 521.0 503.4M539.6 500.6 540.5 505.4"/><path stroke="#247fff" d="M484.4 504.1 484.7 500.9M487.7 499.8 488.0 502.0M521.0 503.4 522.2 499.2M539.0 496.6 539.6 500.6"/><path stroke="#2491ff" d="M484.7 500.9 485.0 498.8 485.3 497.8 485.6 497.5 486.5 497.3 487.1 497.6 487.7 499.8M522.2 499.2 523.1 495.4M538.7 494.3 539.0 496.6"/><path stroke="#24a4ff" d="M523.1 495.4 523.7 492.6M538.1 488.9 538.7 494.3"/><path stroke="#24b6ff" d="M523.7 492.6 524.3 489.4M537.8 485.7 538.1 488.9"/><path stroke="#24c8ff" d="M524.3 489.4 524.9 485.8M537.5 482.1 537.8 485.7"/><path stroke="#24daff" d="M524.9 485.8 525.5 481.7M537.2 478.1 537.5 482.1"/><path stroke="#24edff" d="M525.5 481.7 525.8 479.5M536.9 473.5 537.2 478.1"/><path stroke="#24ffff" d="M525.8 479.5 526.4 474.6M536.6 468.2 536.9 473.5"/><path stroke="#36ffed" d="M526.4 474.6 526.7 471.9"/><path stroke="#48ffda" d="M526.7 471.9 527.0 469.1M536.3 462.2 536.6 468.2"/><path stroke="#5bffc8" d="M527.0 469.1 527.3 466.0"/><path stroke="#6dffb6" d="M527.3 466.0 527.9 459.2M536.0 455.2 536.3 462.2"/><path stroke="#91ff91" d="M527.9 459.2 528.2 455.4M535.7 447.2 536.0 455.2"/><path stroke="#a4ff7f" d="M528.2 455.4 528.5 451.4"/><path stroke="#b6ff6d" d="M528.5 451.4 528.8 447.1M535.4 437.9 535.7 447.2"/><path stroke="#c8ff5b" d="M528.8 447.1 529.1 442.5"/><path stroke="#daff48" d="M529.1 442.5 529.4 437.6M535.1 427.3 535.4 437.9"/><path stroke="#ffff24" d="M529.4 437.6 529.7 432.5"/><path stroke="#ffed24" d="M529.7 432.5 530.0 427.0M534.8 415.4 535.1 427.3"/><path stroke="#ffc824" d="M530.0 427.0 530.3 421.3"/><path stroke="#ffa424" d="M530.3 421.3 530.6 415.3M534.4 402.6 534.8 415.4"/><path stroke="#ff9124" d="M530.6 415.3 530.9 409.2"/><path stroke="#ff6d24" d="M530.9 409.2 531.1 403.1M534.1 390.0 534.4 402.6"/><path stroke="#ff4824" d="M531.1 403.1 531.4 397.0"/><path stroke="#ff3624" d="M531.4 397.0 531.7 391.1"/><path stroke="#ff2424" d="M533.8 379.5 534.1 390.0"/><path stroke="#ed2424" d="M531.7 391.1 532.0 385.7"/><path stroke="#da2424" d="M532.0 385.7 532.3 380.9"/><path stroke="#c82424" d="M532.3 380.9 532.6 377.1M533.5 373.4 533.8 379.5"/><path stroke="#b62424" d="M532.6 377.1 533.2 372.9 533.5 373.4"/>
<path stroke="#29298a" d="M795.9 533.7 829.8 533.4"/><path stroke="#292998" d="M413.8 543.5 423.7 543.2 429.4 542.8 433.6 542.2 436.6 541.2M439.6 540.7 440.2 542.1 440.8 542.4 441.4 542.4 447.4 541.7 451.0 540.7M595.5 536.1 600.3 536.5 609.7 536.7 639.7 535.9 663.4 535.1 725.9 534.1 795.9 533.7"/><path stroke="#2828a9" d="M436.6 541.2 439.3 539.4 439.6 540.7M451.0 540.7 453.1 539.5 454.9 537.4M469.0 536.5 471.1 537.4 473.8 537.6 476.8 537.2 479.2 536.3M588.0 532.8 589.2 533.9 590.8 534.9 592.9 535.6 595.5 536.1"/><path stroke="#2727bb" d="M454.9 537.4 456.1 534.9 456.7 536.5 457.0 536.5 457.3 536.1 457.9 534.3M466.3 532.5 467.5 535.0 469.0 536.5M479.2 536.3 480.4 535.6 481.3 534.7 482.5 532.8M553.5 529.9 556.2 531.3 560.4 532.6 563.4 533.2 566.6 533.4 569.5 533.1 571.9 532.4 574.1 531.3 575.9 529.8M586.0 529.3 586.9 531.3 588.0 532.8"/><path stroke="#2626ce" d="M457.9 534.3 458.5 531.0M465.4 528.9 466.3 532.5M482.5 532.8 483.4 529.9M494.3 528.4 497.3 529.4 500.9 529.7 504.5 529.3 508.1 528.2M549.5 526.8 553.5 529.9M575.9 529.8 577.1 528.2 578.2 526.1M585.2 525.6 586.0 529.3"/><path stroke="#2525e4" d="M458.5 531.0 458.8 528.7M464.8 525.2 465.4 528.9M483.4 529.9 484.0 526.3M491.0 524.5 492.2 526.8 493.1 527.7 494.3 528.4M508.1 528.2 511.1 526.6 513.5 524.6M546.8 523.4 549.5 526.8M578.2 526.1 579.5 522.5M584.7 522.1 585.2 525.6"/><path stroke="#2424fb" d="M458.8 528.7 459.4 522.6M464.2 520.3 464.8 525.2M484.0 526.3 484.3 523.8M490.1 520.7 491.0 524.5M513.5 524.6 515.3 522.7 516.8 520.8M544.7 519.4 546.8 523.4M579.5 522.5 580.4 518.9M584.5 518.5 584.7 522.1"/><path stroke="#2436ff" d="M459.4 522.6 459.7 519.1M463.9 517.6 464.2 520.3M484.3 523.8 484.6 520.7M489.5 516.8 490.1 520.7M516.8 520.8 518.9 517.3M543.5 516.3 544.7 519.4M580.4 518.9 581.1 515.2M584.4 514.9 584.5 518.5"/><path stroke="#2448ff" d="M459.7 519.1 460.0 515.8M463.3 513.0 463.9 517.6M484.6 520.7 484.9 517.3M488.9 512.4 489.5 516.8M518.9 517.3 520.7 513.6M542.3 512.2 543.5 516.3M581.1 515.2 581.8 511.6M584.4 511.4 584.4 514.9"/><path stroke="#245bff" d="M460.0 515.8 460.3 513.1M463.0 511.5 463.3 513.0M484.9 517.3 485.5 511.6M488.5 510.7 488.9 512.4M520.7 513.6 521.9 510.4M541.4 508.2 542.3 512.2M581.8 511.6 582.5 508.0M584.5 507.7 584.4 511.4"/><path stroke="#246dff" d="M460.3 513.1 460.6 511.3 461.2 509.9 462.1 509.8 462.4 510.0 463.0 511.5M485.5 511.6 485.8 510.0 486.1 509.1 486.4 508.8 487.3 508.7 487.9 508.9 488.5 510.7M521.9 510.4 523.1 506.6M540.8 505.0 541.4 508.2M582.5 508.0 583.2 504.3M584.6 504.2 584.5 507.7"/><path stroke="#247fff" d="M523.1 506.6 524.0 503.3M540.2 501.0 540.8 505.0M583.2 504.3 583.9 500.7M584.8 500.6 584.6 504.2"/><path stroke="#2491ff" d="M524.0 503.3 524.9 499.3M539.6 496.3 540.2 501.0M583.9 500.7 584.6 498.9 584.8 500.6"/><path stroke="#24a4ff" d="M524.9 499.3 525.5 496.3M539.3 493.5 539.6 496.3"/><path stroke="#24b6ff" d="M525.5 496.3 526.1 492.9M539.0 490.4 539.3 493.5"/><path stroke="#24c8ff" d="M526.1 492.9 526.7 489.1M538.7 486.9 539.0 490.4"/><path stroke="#24daff" d="M526.7 489.1 527.3 484.7M538.4 482.9 538.7 486.9"/><path stroke="#24edff" d="M527.3 484.7 527.6 482.3M538.1 478.4 538.4 482.9"/><path stroke="#24ffff" d="M527.6 482.3 527.9 479.8M537.8 473.2 538.1 478.4"/><path stroke="#36ffed" d="M527.9 479.8 528.5 474.1"/><path stroke="#48ffda" d="M528.5 474.1 528.8 470.9M537.5 467.3 537.8 473.2"/><path stroke="#5bffc8" d="M528.8 470.9 529.1 467.6M537.2 460.5 537.5 467.3"/><path stroke="#6dffb6" d="M529.1 467.6 529.4 464.0"/><path stroke="#7fffa4" d="M529.4 464.0 529.7 460.1M536.9 452.6 537.2 460.5"/><path stroke="#91ff91" d="M529.7 460.1 530.0 455.9"/><path stroke="#a4ff7f" d="M536.6 443.5 536.9 452.6"/><path stroke="#b6ff6d" d="M530.0 455.9 530.3 451.5"/><path stroke="#c8ff5b" d="M530.3 451.5 530.6 446.7"/><path stroke="#daff48" d="M530.6 446.7 530.9 441.7M536.3 433.1 536.6 443.5"/><path stroke="#ffff24" d="M530.9 441.7 531.2 436.3"/><path stroke="#ffed24" d="M531.2 436.3 531.5 430.6M536.0 421.5 536.3 433.1"/><path stroke="#ffc824" d="M531.5 430.6 531.8 424.7"/><path stroke="#ffb624" d="M535.6 409.0 536.0 421.5"/><path stroke="#ffa424" d="M531.8 424.7 532.0 418.6"/><path stroke="#ff9124" d="M532.0 418.6 532.3 412.4"/><path stroke="#ff7f24" d="M535.3 396.8 535.6 409.0"/><path stroke="#ff6d24" d="M532.3 412.4 532.6 406.2"/><path stroke="#ff4824" d="M532.6 406.2 532.9 400.2"/><path stroke="#ff3624" d="M532.9 400.2 533.2 394.6M535.0 386.8 535.3 396.8"/><path stroke="#ed2424" d="M533.2 394.6 533.5 389.6"/><path stroke="#da2424" d="M533.5 389.6 533.8 385.6M534.7 381.3 535.0 386.8"/><path stroke="#c82424" d="M533.8 385.6 534.4 381.0 534.7 381.3"/>
<path stroke="#29298a" d="M795.6 537.4 830.7 537.1"/><path stroke="#292998" d="M414.7 547.3 424.9 547.1 430.9 546.7 435.1 546.0 438.1 544.8M440.5 544.6 441.1 546.0 441.7 546.3 442.3 546.4 448.3 545.7 450.4 545.2 452.2 544.5M598.1 539.7 604.9 540.2 612.1 540.3 640.0 539.7 664.3 538.8 726.5 537.8 795.6 537.4"/><path stroke="#2828a9" d="M438.1 544.8 440.2 543.3 440.5 544.6M452.2 544.5 454.3 543.1 455.8 541.1M470.2 540.2 471.4 540.9 472.6 541.3 474.1 541.6 475.9 541.7 479.2 541.3 480.7 540.7 481.9 540.0M589.9 536.5 591.4 537.7 593.4 538.6 595.7 539.3 598.1 539.7"/><path stroke="#2727bb" d="M455.8 541.1 457.0 538.3 457.6 539.5 457.9 539.4 458.5 537.9M467.8 536.6 469.0 538.9 470.2 540.2M481.9 540.0 483.1 538.7 484.0 537.0M554.4 533.4 557.1 534.8 559.4 535.5 562.9 536.2 566.6 536.5 568.4 536.4 571.0 535.8 573.2 534.8 575.1 533.6M587.7 533.0 588.6 534.9 589.9 536.5"/><path stroke="#2626ce" d="M458.5 537.9 459.1 534.7M466.6 531.9 467.8 536.6M484.0 537.0 484.9 533.3M492.1 532.3 493.3 533.8 495.2 534.7 497.9 535.4 501.2 535.6 504.5 535.2 507.5 534.5 510.5 533.3 512.9 531.9M550.4 530.4 554.4 533.4M575.1 533.6 576.7 531.8 578.0 529.8M586.7 529.5 587.7 533.0"/><path stroke="#2525e4" d="M459.1 534.7 459.4 532.4M466.0 527.8 466.6 531.9M484.9 533.3 485.2 531.3M490.6 527.5 491.2 530.1 492.1 532.3M512.9 531.9 515.0 530.2 517.1 528.0M547.7 527.0 550.4 530.4M578.0 529.8 579.4 526.2M586.2 525.8 586.7 529.5"/><path stroke="#2424fb" d="M459.4 532.4 459.7 529.5M465.7 525.2 466.0 527.8M485.2 531.3 485.8 526.3M490.0 524.1 490.6 527.5M517.1 528.0 519.5 524.8M545.6 523.0 547.7 527.0M579.4 526.2 580.5 522.5M585.9 522.2 586.2 525.8"/><path stroke="#2436ff" d="M459.7 529.5 460.0 525.9M465.4 522.3 465.7 525.2M485.8 526.3 486.4 521.9M489.4 521.2 490.0 524.1M519.5 524.8 521.6 521.0M544.4 519.8 545.6 523.0M580.5 522.5 581.4 518.9M585.8 518.7 585.9 522.2"/><path stroke="#2448ff" d="M460.0 525.9 460.3 521.8M464.8 515.7 465.4 522.3M486.4 521.9 486.7 520.6 487.3 519.8 488.2 519.6 488.8 519.8 489.4 521.2M521.6 521.0 523.1 517.5M543.2 515.5 544.4 519.8M581.4 518.9 582.1 515.4M585.8 515.0 585.8 518.7"/><path stroke="#245bff" d="M460.3 521.8 460.6 517.4M464.5 512.5 464.8 515.7M523.1 517.5 524.3 514.1M542.6 512.8 543.2 515.5M582.1 515.4 582.8 511.7M585.9 511.4 585.8 515.0"/><path stroke="#246dff" d="M460.6 517.4 460.9 513.2M464.2 509.8 464.5 512.5M524.3 514.1 525.5 509.9M541.7 507.9 542.6 512.8M582.8 511.7 583.4 508.1M586.0 507.7 585.9 511.4"/><path stroke="#247fff" d="M460.9 513.2 461.2 509.8M463.9 507.8 464.2 509.8M525.5 509.9 526.1 507.4M541.1 503.7 541.7 507.9M583.4 508.1 584.1 504.4M586.3 504.2 586.0 507.7"/><path stroke="#2491ff" d="M461.2 509.8 461.5 507.5 461.8 506.2 462.1 505.7 463.0 505.6 463.3 505.8 463.9 507.8M526.1 507.4 527.0 503.2M540.8 501.2 541.1 503.7M584.1 504.4 584.9 500.8M586.5 500.6 586.3 504.2"/><path stroke="#24a4ff" d="M527.0 503.2 527.6 499.9M540.5 498.5 540.8 501.2M584.9 500.8 585.6 497.2M586.8 497.0 586.5 500.6"/><path stroke="#24b6ff" d="M527.6 499.9 528.2 496.2M539.9 492.1 540.5 498.5M585.6 497.2 586.5 493.5M587.1 493.5 586.8 497.0"/><path stroke="#24c8ff" d="M528.2 496.2 528.8 491.9M539.6 488.2 539.9 492.1M586.5 493.5 587.0 492.2 587.1 493.5"/><path stroke="#24daff" d="M528.8 491.9 529.1 489.5M539.3 483.8 539.6 488.2"/><path stroke="#24edff" d="M529.1 489.5 529.4 487.0"/><path stroke="#24ffff" d="M529.4 487.0 530.0 481.4M539.0 478.7 539.3 483.8"/><path stroke="#36ffed" d="M530.0 481.4 530.3 478.3M538.7 472.9 539.0 478.7"/><path stroke="#48ffda" d="M530.3 478.3 530.6 474.9"/><path stroke="#5bffc8" d="M530.6 474.9 530.9 471.3M538.4 466.2 538.7 472.9"/><path stroke="#6dffb6" d="M530.9 471.3 531.2 467.4"/><path stroke="#7fffa4" d="M531.2 467.4 531.5 463.2M538.1 458.5 538.4 466.2"/><path stroke="#a4ff7f" d="M531.5 463.2 531.8 458.7M537.8 449.5 538.1 458.5"/><path stroke="#b6ff6d" d="M531.8 458.7 532.1 453.8"/><path stroke="#c8ff5b" d="M532.1 453.8 532.4 448.7M537.5 439.4 537.8 449.5"/><path stroke="#edff36" d="M532.4 448.7 532.7 443.2"/><path stroke="#ffff24" d="M537.1 428.0 537.5 439.4"/><path stroke="#ffed24" d="M532.7 443.2 532.9 437.4"/><path stroke="#ffda24" d="M532.9 437.4 533.2 431.3"/><path stroke="#ffc824" d="M536.8 416.1 537.1 428.0"/><path stroke="#ffb624" d="M533.2 431.3 533.5 425.1"/><path stroke="#ff9124" d="M533.5 425.1 533.8 418.8M536.5 404.6 536.8 416.1"/><path stroke="#ff7f24" d="M533.8 418.8 534.1 412.6"/><path stroke="#ff5b24" d="M534.1 412.6 534.4 406.7"/><path stroke="#ff4824" d="M536.2 395.6 536.5 404.6"/><path stroke="#ff3624" d="M534.4 406.7 534.7 401.3"/><path stroke="#ff2424" d="M534.7 401.3 535.0 396.9M535.9 391.2 536.2 395.6"/><path stroke="#ed2424" d="M535.0 396.9 535.6 391.6 535.9 391.2"/>
<path stroke="#29298a" d="M795.0 541.1 831.6 540.8"/><path stroke="#292998" d="M415.5 551.2 426.1 550.9 432.1 550.6 436.3 549.8 439.3 548.6M441.1 547.3 441.7 549.5 442.3 550.2 442.9 550.3 446.2 550.0 449.5 549.5 451.6 549.0 453.4 548.2M601.3 543.5 607.0 543.9 614.6 543.9 640.7 543.4 665.3 542.5 727.4 541.5 795.0 541.1"/><path stroke="#2828a9" d="M439.3 548.6 441.1 547.3M453.4 548.2 455.2 546.8 456.7 544.7M471.4 543.8 472.6 544.7 474.4 545.4 475.9 545.7 477.7 545.9 479.8 545.7 481.6 545.3 483.1 544.6 484.0 543.8M591.5 539.9 592.9 541.1 595.2 542.2 598.1 543.0 601.3 543.5"/><path stroke="#2727bb" d="M456.7 544.7 457.9 541.8 458.5 542.5 458.8 542.3 459.1 541.6M469.0 539.9 470.2 542.4 471.4 543.8M484.0 543.8 484.9 542.5 485.5 540.8M493.6 539.5 494.8 540.2 496.3 540.7 498.4 541.0 501.1 541.1 506.0 540.6 510.8 539.1M555.3 537.0 558.0 538.2 560.3 538.9 562.2 539.3 565.2 539.6 567.5 539.6 570.0 539.2 572.4 538.3 574.2 537.4M589.2 536.5 590.3 538.5 591.5 539.9"/><path stroke="#2626ce" d="M459.1 541.6 459.7 538.8M468.1 536.7 469.0 539.9M485.5 540.8 486.4 536.4M491.5 535.2 492.4 537.9 493.6 539.5M510.8 539.1 513.5 537.8 516.5 535.6M551.3 534.0 555.3 537.0M574.2 537.4 576.0 535.8 577.7 533.6M588.1 533.1 589.2 536.5"/><path stroke="#2525e4" d="M459.7 538.8 460.3 533.7M467.2 531.1 468.1 536.7M486.4 536.4 486.7 534.4M490.6 531.4 491.5 535.2M516.5 535.6 518.3 533.9 520.1 531.7M548.6 530.6 549.8 532.3 551.3 534.0M577.7 533.6 579.5 529.8M587.5 529.4 588.1 533.1"/><path stroke="#2424fb" d="M460.3 533.7 460.6 530.2M466.9 528.4 467.2 531.1M486.7 534.4 487.3 531.0 487.9 529.6 489.1 529.3 489.7 529.4 490.3 530.4 490.6 531.4M520.1 531.7 522.5 528.0M546.8 527.2 548.6 530.6M579.5 529.8 580.7 526.3M587.2 525.8 587.5 529.4"/><path stroke="#2436ff" d="M466.6 525.2 466.9 528.4M522.5 528.0 524.3 524.3M545.3 523.1 546.8 527.2M580.7 526.3 581.6 522.6M587.1 522.2 587.2 525.8"/><path stroke="#2448ff" d="M460.6 530.2 460.9 525.8M466.3 521.6 466.6 525.2M524.3 524.3 525.5 521.2M544.4 519.9 545.3 523.1M581.6 522.6 582.4 519.0M587.1 518.5 587.1 522.2"/><path stroke="#245bff" d="M460.9 525.8 461.2 520.8M466.0 517.7 466.3 521.6M525.5 521.2 526.7 517.4M543.5 515.9 544.4 519.9M582.4 519.0 583.1 515.4M587.2 514.9 587.1 518.5"/><path stroke="#246dff" d="M461.2 520.8 461.5 515.5M465.7 513.6 466.0 517.7M526.7 517.4 527.6 514.0M542.9 512.5 543.5 515.9M583.1 515.4 583.9 511.8M587.3 511.5 587.2 514.9"/><path stroke="#247fff" d="M465.4 509.7 465.7 513.6M527.6 514.0 528.5 509.9M542.3 508.4 542.9 512.5M583.9 511.8 584.6 508.1M587.6 507.8 587.3 511.5"/><path stroke="#2491ff" d="M461.5 515.5 461.8 510.5M465.1 506.4 465.4 509.7M528.5 509.9 529.1 506.8M541.7 503.3 542.3 508.4M584.6 508.1 585.3 504.6M587.8 504.3 587.6 507.8"/><path stroke="#24a4ff" d="M461.8 510.5 462.1 506.3M464.8 503.9 465.1 506.4M529.1 506.8 529.7 503.1M541.4 500.3 541.7 503.3M585.3 504.6 586.0 501.0M588.2 500.6 587.8 504.3"/><path stroke="#24b6ff" d="M462.1 506.3 462.4 503.5 462.7 502.0 463.0 501.4 463.9 501.3 464.2 501.6 464.8 503.9M529.7 503.1 530.3 499.0M541.1 497.0 541.4 500.3M586.0 501.0 586.8 497.4M588.6 497.1 588.2 500.6"/><path stroke="#24c8ff" d="M530.3 499.0 530.6 496.7M540.8 493.1 541.1 497.0M586.8 497.4 587.6 493.7M589.0 493.5 588.6 497.1"/><path stroke="#24daff" d="M530.6 496.7 530.9 494.2M540.5 488.8 540.8 493.1M587.6 493.7 588.5 490.0M589.5 489.9 589.0 493.5"/><path stroke="#24edff" d="M530.9 494.2 531.5 488.7M540.2 483.8 540.5 488.8M588.5 490.0 589.5 486.4M589.9 486.3 589.5 489.9"/><path stroke="#24ffff" d="M531.5 488.7 531.8 485.6M589.5 486.4 589.9 485.6 589.9 486.3"/><path stroke="#36ffed" d="M531.8 485.6 532.1 482.2M539.9 478.0 540.2 483.8"/><path stroke="#48ffda" d="M532.1 482.2 532.4 478.6M539.6 471.4 539.9 478.0"/><path stroke="#5bffc8" d="M532.4 478.6 532.7 474.7"/><path stroke="#6dffb6" d="M532.7 474.7 533.0 470.5M539.3 463.7 539.6 471.4"/><path stroke="#91ff91" d="M533.0 470.5 533.3 465.9M539.0 454.9 539.3 463.7"/><path stroke="#a4ff7f" d="M533.3 465.9 533.6 461.0"/><path stroke="#b6ff6d" d="M533.6 461.0 533.8 455.7"/><path stroke="#c8ff5b" d="M538.6 444.9 539.0 454.9"/><path stroke="#daff48" d="M533.8 455.7 534.1 450.1"/><path stroke="#edff36" d="M538.3 433.8 538.6 444.9"/><path stroke="#ffff24" d="M534.1 450.1 534.4 444.2"/><path stroke="#ffed24" d="M534.4 444.2 534.7 438.0"/><path stroke="#ffc824" d="M534.7 438.0 535.0 431.7M538.0 422.3 538.3 433.8"/><path stroke="#ffa424" d="M535.0 431.7 535.3 425.3"/><path stroke="#ff9124" d="M537.7 411.8 538.0 422.3"/><path stroke="#ff7f24" d="M535.3 425.3 535.6 419.2"/><path stroke="#ff6d24" d="M535.6 419.2 535.9 413.5"/><path stroke="#ff5b24" d="M537.4 404.1 537.7 411.8"/><path stroke="#ff4824" d="M535.9 413.5 536.2 408.5"/><path stroke="#ff3624" d="M536.2 408.5 536.8 402.2M537.1 401.3 537.4 404.1"/><path stroke="#ff2424" d="M536.8 402.2 537.1 401.3"/>
<path stroke="#29298a" d="M794.9 544.9 832.5 544.5"/><path stroke="#292998" d="M416.4 555.0 427.2 554.8 433.3 554.4 437.5 553.6 439.3 552.9 440.5 552.3M442.0 551.1 442.6 553.3 443.2 554.0 443.8 554.2 447.4 553.9 450.7 553.3 452.8 552.7 454.6 551.9M602.9 547.1 609.2 547.5 616.5 547.5 641.4 547.1 666.1 546.2 728.2 545.2 794.9 544.9"/><path stroke="#2828a9" d="M440.5 552.3 442.0 551.1M454.6 551.9 456.4 550.3 457.6 548.4M472.6 547.6 473.8 548.5 475.6 549.3 477.4 549.8 479.5 549.9 481.9 549.7 483.7 549.2 484.9 548.5 485.8 547.5M593.1 543.6 595.0 544.9 597.2 545.9 599.4 546.5 602.9 547.1"/><path stroke="#2727bb" d="M457.6 548.4 458.8 545.2 459.1 545.0 459.4 545.5 459.7 545.3 460.0 544.4M470.2 543.7 471.4 546.1 472.6 547.6M485.8 547.5 486.4 546.2 487.0 544.2M493.0 543.4 493.9 544.7 495.4 545.6 497.8 546.1 501.4 546.2 505.0 545.9 508.6 545.2 512.3 544.0 515.0 542.7M556.2 540.5 558.9 541.7 561.2 542.3 564.7 542.8 567.3 542.8 569.3 542.6 570.9 542.2 573.4 541.1M590.7 540.2 591.9 542.2 593.1 543.6"/><path stroke="#2626ce" d="M460.0 544.4 460.6 541.2M469.3 540.5 470.2 543.7M487.0 544.2 487.6 541.3M491.5 539.0 493.0 543.4M515.0 542.7 517.4 541.1 519.5 539.2M552.5 537.8 556.2 540.5M573.4 541.1 575.4 539.6 577.4 537.4M589.5 536.5 590.7 540.2"/><path stroke="#2525e4" d="M460.6 541.2 460.9 538.7M468.4 535.1 469.3 540.5M487.6 541.3 488.2 538.7 488.8 537.6 490.0 537.3 490.6 537.4 491.2 538.2 491.5 539.0M519.5 539.2 521.3 537.3 522.8 535.3M549.5 534.1 551.0 536.2 552.5 537.8M577.4 537.4 579.6 533.6M588.9 533.2 589.5 536.5"/><path stroke="#2424fb" d="M460.9 538.7 461.2 535.5M468.1 532.6 468.4 535.1M522.8 535.3 524.9 531.8M547.7 530.6 549.5 534.1M579.6 533.6 580.9 530.1M588.5 529.6 588.9 533.2"/><path stroke="#2436ff" d="M461.2 535.5 461.5 531.4M467.8 529.5 468.1 532.6M524.9 531.8 526.4 528.5M546.5 527.3 547.7 530.6M580.9 530.1 581.9 526.3M588.3 526.0 588.5 529.6"/><path stroke="#2448ff" d="M461.5 531.4 461.8 526.5M467.5 525.9 467.8 529.5M526.4 528.5 527.6 525.2M545.3 523.0 546.5 527.3M581.9 526.3 582.8 522.9M588.3 522.2 588.3 526.0"/><path stroke="#245bff" d="M467.2 521.8 467.5 525.9M527.6 525.2 528.8 521.2M544.4 518.7 545.3 523.0M582.8 522.9 583.6 519.2M588.4 518.7 588.3 522.2"/><path stroke="#246dff" d="M461.8 526.5 462.1 520.7M466.9 517.2 467.2 521.8M528.8 521.2 529.7 517.4M543.8 515.0 544.4 518.7M583.6 519.2 584.3 515.6M588.5 515.1 588.4 518.7"/><path stroke="#247fff" d="M466.6 512.5 466.9 517.2M529.7 517.4 530.3 514.5M543.5 512.9 543.8 515.0M584.3 515.6 585.1 511.9M588.8 511.6 588.5 515.1"/><path stroke="#2491ff" d="M462.1 520.7 462.4 514.7M466.3 508.1 466.6 512.5M530.3 514.5 530.9 511.3M542.9 507.9 543.5 512.9M585.1 511.9 585.8 508.2M589.1 507.9 588.8 511.6"/><path stroke="#24a4ff" d="M462.4 514.7 462.7 508.9M530.9 511.3 531.5 507.5M542.6 505.0 542.9 507.9M585.8 508.2 586.5 504.8M589.4 504.4 589.1 507.9"/><path stroke="#24b6ff" d="M466.0 504.3 466.3 508.1M531.5 507.5 532.1 503.1M542.3 501.7 542.6 505.0M586.5 504.8 587.3 501.0M589.8 500.8 589.4 504.4"/><path stroke="#24c8ff" d="M462.7 508.9 463.0 504.2M465.4 499.7 466.0 504.3M532.1 503.1 532.4 500.6M542.0 497.9 542.3 501.7M587.3 501.0 588.1 497.5M590.3 497.0 589.8 500.8"/><path stroke="#24daff" d="M463.0 504.2 463.3 501.0 463.6 499.3 463.9 498.6 464.8 498.5 465.1 498.8 465.4 499.7M532.4 500.6 532.7 498.0M541.7 493.6 542.0 497.9M588.1 497.5 588.9 493.8M590.8 493.5 590.3 497.0"/><path stroke="#24edff" d="M532.7 498.0 533.3 492.1M541.4 488.6 541.7 493.6M588.9 493.8 589.8 490.1M591.3 490.0 590.8 493.5"/><path stroke="#24ffff" d="M533.3 492.1 533.6 488.7M541.1 482.9 541.4 488.6M589.8 490.1 590.7 486.4M591.9 486.3 591.3 490.0"/><path stroke="#36ffed" d="M533.6 488.7 533.9 485.1M590.7 486.4 591.7 482.8M592.5 482.7 591.9 486.3"/><path stroke="#48ffda" d="M533.9 485.1 534.2 481.1M540.8 476.3 541.1 482.9M591.7 482.8 593.0 479.2 592.5 482.7"/><path stroke="#6dffb6" d="M534.2 481.1 534.4 476.8M540.5 468.7 540.8 476.3"/><path stroke="#7fffa4" d="M534.4 476.8 534.7 472.2"/><path stroke="#91ff91" d="M534.7 472.2 535.0 467.2M540.1 459.9 540.5 468.7"/><path stroke="#b6ff6d" d="M535.0 467.2 535.3 461.8M539.8 450.0 540.1 459.9"/><path stroke="#c8ff5b" d="M535.3 461.8 535.6 456.0"/><path stroke="#edff36" d="M535.6 456.0 535.9 450.0M539.5 439.3 539.8 450.0"/><path stroke="#ffed24" d="M535.9 450.0 536.2 443.7"/><path stroke="#ffda24" d="M539.2 428.3 539.5 439.3"/><path stroke="#ffc824" d="M536.2 443.7 536.5 437.2"/><path stroke="#ffb624" d="M536.5 437.2 536.8 430.9"/><path stroke="#ffa424" d="M538.9 418.6 539.2 428.3"/><path stroke="#ff9124" d="M536.8 430.9 537.1 424.9"/><path stroke="#ff6d24" d="M537.1 424.9 537.4 419.5M538.6 412.3 538.9 418.6"/><path stroke="#ff5b24" d="M537.4 419.5 537.7 415.2"/><path stroke="#ff4824" d="M537.7 415.2 538.3 410.8 538.6 412.3"/><g stroke-width="1.6"><path stroke="#292998" d="M675.6 546.4 675.6 545.1M677.9 544.4 677.9 546.3"/><path stroke="#2828a9" d="M675.6 545.1 675.6 541.9M677.9 541.2 677.9 544.4"/><path stroke="#2727bb" d="M675.6 541.9 675.6 538.1M677.9 537.4 677.9 541.2"/><path stroke="#2626ce" d="M675.6 538.1 675.6 534.3M677.9 533.6 677.9 537.4"/><path stroke="#2525e4" d="M675.6 534.3 675.7 531.1M677.9 530.4 677.9 533.6"/><path stroke="#2424fb" d="M675.7 531.1 675.7 527.3M677.9 526.6 677.9 530.4"/><path stroke="#2436ff" d="M675.7 527.3 675.8 523.4M677.9 522.8 677.9 526.6"/><path stroke="#2448ff" d="M675.8 523.4 675.9 520.3M677.9 519.6 677.9 522.8"/><path stroke="#245bff" d="M675.9 520.3 676.0 516.4M678.0 515.8 677.9 519.6"/><path stroke="#246dff" d="M676.0 516.4 676.2 512.6M677.9 512.3 678.0 515.8"/><path stroke="#247fff" d="M676.2 512.6 676.6 510.4 677.1 509.7 677.6 510.4 677.9 512.3"/></g>
<path stroke="#29298a" d="M794.6 548.6 833.3 548.2"/><path stroke="#292998" d="M417.3 558.8 428.4 558.6 434.4 558.2 438.6 557.3 440.1 556.8 441.7 555.9M442.9 555.0 443.5 557.2 444.1 557.9 444.7 558.0 448.3 557.7 451.6 557.2 454.0 556.5 455.8 555.5M604.5 550.7 611.6 551.2 618.4 551.2 642.1 550.8 667.0 550.0 729.2 549.0 794.6 548.6"/><path stroke="#2828a9" d="M441.7 555.9 442.9 555.0M455.8 555.5 457.3 554.1 458.5 552.2M473.5 551.3 475.0 552.5 476.8 553.3 478.9 553.9 481.3 554.0 483.4 553.9 485.2 553.3 486.4 552.5 487.3 551.2M496.0 550.5 498.1 550.9 501.4 551.1 505.0 550.8 508.6 550.3M595.0 547.5 596.7 548.6 598.3 549.3 600.7 550.0 604.5 550.7"/><path stroke="#2727bb" d="M458.5 552.2 460.0 548.2 460.3 548.8 460.6 548.6M471.1 547.1 472.3 549.7 473.5 551.3M487.3 551.2 488.2 548.4M493.0 546.9 494.2 549.3 495.1 550.1 496.0 550.5M508.6 550.3 511.6 549.5 514.3 548.6 518.2 546.4M557.1 544.0 559.8 545.2 562.1 545.7 565.6 546.1 569.3 545.9 571.1 545.5 572.5 544.9M592.2 544.0 593.4 546.0 595.0 547.5"/><path stroke="#2626ce" d="M460.6 548.6 461.2 546.3M470.2 543.7 471.1 547.1M488.2 548.4 489.1 545.1 489.4 544.5 490.0 544.1 491.2 544.0 491.8 544.3 493.0 546.9M518.2 546.4 520.3 544.7 522.5 542.7M553.4 541.4 557.1 544.0M572.5 544.9 575.2 543.2 577.3 541.1M590.8 540.2 592.2 544.0"/><path stroke="#2525e4" d="M461.2 546.3 461.8 541.6M469.6 540.2 470.2 543.7M522.5 542.7 525.2 539.1M550.4 537.7 551.9 539.8 553.4 541.4M577.3 541.1 578.6 539.3 579.6 537.5M590.1 536.7 590.8 540.2"/><path stroke="#2424fb" d="M461.8 541.6 462.1 538.2M469.0 535.1 469.6 540.2M525.2 539.1 527.3 535.3M548.6 534.1 550.4 537.7M579.6 537.5 581.1 533.8M589.7 532.9 590.1 536.7"/><path stroke="#2436ff" d="M462.1 538.2 462.4 533.8M468.7 531.9 469.0 535.1M527.3 535.3 528.8 531.7M547.4 530.8 548.6 534.1M581.1 533.8 582.3 530.2M589.6 529.6 589.7 532.9"/><path stroke="#2448ff" d="M468.4 528.0 468.7 531.9M528.8 531.7 530.0 528.0M546.2 526.3 547.4 530.8M582.3 530.2 583.2 526.5M589.5 525.9 589.6 529.6"/><path stroke="#245bff" d="M462.4 533.8 462.7 528.5M468.1 523.5 468.4 528.0M530.0 528.0 530.9 524.7M545.6 523.4 546.2 526.3M583.2 526.5 584.0 523.0M589.6 522.2 589.5 525.9"/><path stroke="#246dff" d="M467.8 518.7 468.1 523.5M530.9 524.7 531.5 522.0M545.0 519.9 545.6 523.4M584.0 523.0 584.8 519.1M589.7 518.7 589.6 522.2"/><path stroke="#247fff" d="M462.7 528.5 463.0 522.4M531.5 522.0 532.4 517.4M544.4 515.5 545.0 519.9M584.8 519.1 585.6 515.7M589.9 515.2 589.7 518.7"/><path stroke="#2491ff" d="M463.0 522.4 463.3 515.9M467.5 513.7 467.8 518.7M532.4 517.4 533.0 513.6M544.1 513.0 544.4 515.5M585.6 515.7 586.3 512.0M590.2 511.5 589.9 515.2"/><path stroke="#24a4ff" d="M467.2 508.9 467.5 513.7M533.0 513.6 533.3 511.6M543.5 506.9 544.1 513.0M586.3 512.0 587.1 508.5M590.6 507.8 590.2 511.5"/><path stroke="#24b6ff" d="M463.3 515.9 463.6 509.7M466.9 504.9 467.2 508.9M533.3 511.6 533.9 506.9M543.2 503.2 543.5 506.9M587.1 508.5 587.9 504.7M591.0 504.4 590.6 507.8"/><path stroke="#24c8ff" d="M466.6 501.9 466.9 504.9M533.9 506.9 534.1 504.3M542.9 499.0 543.2 503.2M587.9 504.7 588.7 501.2M591.5 500.7 591.0 504.4"/><path stroke="#24daff" d="M463.6 509.7 464.2 501.3M466.3 499.9 466.6 501.9M534.1 504.3 534.4 501.4M542.6 494.2 542.9 499.0M588.7 501.2 589.5 497.5M592.0 497.3 591.5 500.7"/><path stroke="#24edff" d="M464.2 501.3 464.5 499.4 464.8 498.7 465.7 498.6 466.0 499.0 466.3 499.9M534.4 501.4 534.7 498.3M589.5 497.5 590.3 494.0M592.6 493.5 592.0 497.3"/><path stroke="#24ffff" d="M534.7 498.3 535.0 494.9M542.3 488.6 542.6 494.2M590.3 494.0 591.3 490.2M593.2 490.0 592.6 493.5"/><path stroke="#36ffed" d="M535.0 494.9 535.3 491.2M541.9 482.2 542.3 488.6M591.3 490.2 592.2 486.6M593.8 486.3 593.2 490.0"/><path stroke="#48ffda" d="M535.3 491.2 535.6 487.2M592.2 486.6 593.2 483.0M594.5 482.7 593.8 486.3"/><path stroke="#5bffc8" d="M535.6 487.2 535.9 482.8M541.6 474.8 541.9 482.2M593.2 483.0 594.2 479.3M595.2 479.1 594.5 482.7"/><path stroke="#6dffb6" d="M535.9 482.8 536.2 478.0M594.2 479.3 595.3 475.7M596.0 475.5 595.2 479.1"/><path stroke="#7fffa4" d="M541.3 466.3 541.6 474.8M595.3 475.7 596.3 473.1 596.0 475.5"/><path stroke="#91ff91" d="M536.2 478.0 536.5 472.9"/><path stroke="#a4ff7f" d="M536.5 472.9 536.8 467.3"/><path stroke="#b6ff6d" d="M541.0 456.7 541.3 466.3"/><path stroke="#c8ff5b" d="M536.8 467.3 537.1 461.4"/><path stroke="#daff48" d="M540.7 446.3 541.0 456.7"/><path stroke="#edff36" d="M537.1 461.4 537.4 455.2"/><path stroke="#ffff24" d="M537.4 455.2 537.7 448.8"/><path stroke="#ffed24" d="M540.4 435.9 540.7 446.3"/><path stroke="#ffda24" d="M537.7 448.8 538.0 442.3"/><path stroke="#ffb624" d="M538.0 442.3 538.3 436.1M540.1 427.0 540.4 435.9"/><path stroke="#ff9124" d="M538.3 436.1 538.6 430.4M539.8 421.4 540.1 427.0"/><path stroke="#ff7f24" d="M538.6 430.4 538.9 425.7"/><path stroke="#ff6d24" d="M538.9 425.7 539.5 420.6 539.8 421.4"/><g stroke-width="1.6"><path stroke="#292998" d="M676.2 550.1 676.2 549.0M679.0 547.9 679.0 550.1"/><path stroke="#2828a9" d="M676.2 549.0 676.2 545.7M679.0 544.6 679.0 547.9"/><path stroke="#2727bb" d="M676.2 545.7 676.2 542.4M679.0 541.3 679.0 544.6"/><path stroke="#2626ce" d="M676.2 542.4 676.3 538.0M679.1 536.8 679.0 541.3"/><path stroke="#2525e4" d="M676.3 538.0 676.3 534.7M679.1 533.5 679.1 536.8"/><path stroke="#2424fb" d="M676.3 534.7 676.4 531.4M679.1 530.2 679.1 533.5"/><path stroke="#2436ff" d="M676.4 531.4 676.4 528.1M679.1 526.9 679.1 530.2"/><path stroke="#2448ff" d="M676.4 528.1 676.5 523.7M679.2 522.5 679.1 526.9"/><path stroke="#245bff" d="M676.5 523.7 676.6 520.3M679.2 519.2 679.2 522.5"/><path stroke="#246dff" d="M676.6 520.3 676.6 517.0M679.3 515.9 679.2 519.2"/><path stroke="#247fff" d="M676.6 517.0 676.7 513.7M679.4 511.5 679.3 515.9"/><path stroke="#2491ff" d="M676.7 513.7 676.9 509.3M679.4 508.2 679.4 511.5"/><path stroke="#24a4ff" d="M676.9 509.3 677.0 506.0M679.5 504.9 679.4 508.2"/><path stroke="#24b6ff" d="M677.0 506.0 677.1 502.7M679.6 501.6 679.5 504.9"/><path stroke="#24c8ff" d="M677.1 502.7 677.3 498.3M679.7 497.1 679.6 501.6"/><path stroke="#24daff" d="M677.3 498.3 677.4 495.0M679.7 494.3 679.7 497.1"/><path stroke="#24edff" d="M677.4 495.0 678.0 491.2M679.4 491.0 679.7 494.3"/><path stroke="#24ffff" d="M678.0 491.2 678.4 490.4 678.7 490.1 679.0 490.3 679.4 491.0"/></g>
<path stroke="#29298a" d="M794.3 552.3 834.2 551.9"/><path stroke="#292998" d="M418.2 562.7 429.3 562.4 435.3 562.0 439.5 561.2 441.0 560.6 442.5 559.8M443.7 558.8 444.3 561.1 444.9 561.7 445.5 561.9 449.2 561.6 452.5 561.1 454.9 560.3 456.7 559.4M606.1 554.3 614.0 554.8 621.9 554.8 643.6 554.5 667.9 553.7 730.0 552.7 794.3 552.3"/><path stroke="#2828a9" d="M442.5 559.8 443.7 558.8M456.7 559.4 458.2 557.9 459.4 556.0M474.1 554.7 475.6 556.1 477.7 557.3 479.8 557.9 482.2 558.1 484.6 557.9 486.4 557.4 487.6 556.5 488.5 555.0M495.4 554.3 496.3 554.9 497.8 555.3 500.2 555.6 502.9 555.6 508.6 555.1 514.0 553.8M596.5 551.2 598.6 552.4 600.6 553.2 603.8 554.0 606.1 554.3"/><path stroke="#2727bb" d="M459.4 556.0 460.6 552.7M460.9 551.6 461.2 552.3 461.5 552.1M472.0 550.6 472.9 552.9 474.1 554.7M488.5 555.0 489.7 551.1M493.3 550.5 494.5 553.1 495.4 554.3M514.0 553.8 517.6 552.3 521.2 550.0M558.0 547.7 560.7 548.8 564.9 549.5 569.1 549.3 572.0 548.6M593.4 547.3 594.8 549.5 596.5 551.2"/><path stroke="#2626ce" d="M460.6 552.7 460.9 551.6M461.5 552.1 462.1 549.8M471.1 547.1 472.0 550.6M489.7 551.1 490.3 549.8 490.9 549.4 492.4 549.4 493.3 550.5M521.2 550.0 523.3 548.2 525.1 546.3M554.3 545.2 558.0 547.7M572.0 548.6 574.7 547.2 577.3 544.8M592.1 543.9 593.4 547.3"/><path stroke="#2525e4" d="M462.1 549.8 462.7 544.9M470.5 543.5 471.1 547.1M525.1 546.3 527.5 542.9M551.3 541.5 552.8 543.6 554.3 545.2M577.3 544.8 578.6 543.2 579.8 541.2M591.4 540.5 592.1 543.9"/><path stroke="#2424fb" d="M462.7 544.9 463.0 541.3M469.9 538.2 470.5 543.5M527.5 542.9 529.3 539.4M549.5 537.9 551.3 541.5M579.8 541.2 581.4 537.5M590.9 536.6 591.4 540.5"/><path stroke="#2436ff" d="M469.6 534.8 469.9 538.2M529.3 539.4 530.8 535.5M548.3 534.6 549.5 537.9M581.4 537.5 582.7 533.8M590.7 533.2 590.9 536.6"/><path stroke="#2448ff" d="M463.0 541.3 463.3 536.8M469.3 530.7 469.6 534.8M530.8 535.5 531.7 532.6M547.1 530.0 548.3 534.6M582.7 533.8 583.7 530.1M590.7 529.5 590.7 533.2"/><path stroke="#245bff" d="M463.3 536.8 463.6 531.2M469.0 526.1 469.3 530.7M531.7 532.6 532.6 529.1M546.5 527.0 547.1 530.0M583.7 530.1 584.6 526.5M590.7 526.2 590.7 529.5"/><path stroke="#246dff" d="M532.6 529.1 533.5 524.9M545.9 523.3 546.5 527.0M584.6 526.5 585.4 522.9M590.8 522.5 590.7 526.2"/><path stroke="#247fff" d="M463.6 531.2 463.9 524.8M468.7 521.0 469.0 526.1M533.5 524.9 534.1 521.4M545.3 518.8 545.9 523.3M585.4 522.9 586.1 519.4M591.1 518.9 590.8 522.5"/><path stroke="#2491ff" d="M468.4 515.8 468.7 521.0M534.1 521.4 534.7 517.4M545.0 516.1 545.3 518.8M586.1 519.4 586.9 515.9M591.3 515.4 591.1 518.9"/><path stroke="#24a4ff" d="M463.9 524.8 464.2 518.1M468.1 510.8 468.4 515.8M534.7 517.4 535.0 515.2M544.7 513.1 545.0 516.1M586.9 515.9 587.7 512.2M591.7 511.6 591.3 515.4"/><path stroke="#24b6ff" d="M535.0 515.2 535.6 510.1M544.4 509.6 544.7 513.1M587.7 512.2 588.5 508.5M592.2 507.8 591.7 511.6"/><path stroke="#24c8ff" d="M464.2 518.1 464.5 511.6M467.8 506.6 468.1 510.8M535.6 510.1 535.9 507.2M544.0 505.7 544.4 509.6M588.5 508.5 589.3 504.9M592.6 504.6 592.2 507.8"/><path stroke="#24daff" d="M464.5 511.6 464.8 506.4M467.5 503.5 467.8 506.6M535.9 507.2 536.2 504.0M543.7 501.1 544.0 505.7M589.3 504.9 590.1 501.2M593.1 500.8 592.6 504.6"/><path stroke="#24edff" d="M464.8 506.4 465.1 502.8M466.9 500.4 467.5 503.5M536.2 504.0 536.5 500.5M543.4 495.9 543.7 501.1M590.1 501.2 591.0 497.6M593.7 497.1 593.1 500.8"/><path stroke="#24ffff" d="M465.1 502.8 465.4 500.9 465.7 500.2 466.6 500.1 466.9 500.4M536.5 500.5 536.8 496.7M543.1 489.9 543.4 495.9M591.0 497.6 591.9 494.1M594.3 493.6 593.7 497.1"/><path stroke="#36ffed" d="M536.8 496.7 537.1 492.5M591.9 494.1 592.8 490.2M595.0 490.0 594.3 493.6"/><path stroke="#48ffda" d="M542.8 482.9 543.1 489.9M592.8 490.2 593.8 486.6M595.7 486.3 595.0 490.0"/><path stroke="#5bffc8" d="M537.1 492.5 537.4 488.0M593.8 486.6 594.8 483.0M596.5 482.7 595.7 486.3"/><path stroke="#6dffb6" d="M537.4 488.0 537.7 483.0M542.5 474.9 542.8 482.9M594.8 483.0 595.9 479.3M597.2 479.2 596.5 482.7"/><path stroke="#7fffa4" d="M537.7 483.0 538.0 477.6M595.9 479.3 596.9 475.7M598.1 475.6 597.2 479.2"/><path stroke="#91ff91" d="M542.2 465.9 542.5 474.9M596.9 475.7 598.1 472.2M598.9 472.0 598.1 475.6"/><path stroke="#a4ff7f" d="M538.0 477.6 538.3 471.8M598.1 472.2 599.4 468.4M599.8 468.4 598.9 472.0"/><path stroke="#b6ff6d" d="M599.4 468.4 599.9 467.4 599.8 468.4"/><path stroke="#c8ff5b" d="M538.3 471.8 538.6 465.6M541.9 456.1 542.2 465.9"/><path stroke="#edff36" d="M538.6 465.6 538.9 459.2M541.6 446.2 541.9 456.1"/><path stroke="#ffff24" d="M538.9 459.2 539.2 452.7"/><path stroke="#ffda24" d="M539.2 452.7 539.5 446.4M541.3 437.5 541.6 446.2"/><path stroke="#ffb624" d="M539.5 446.4 539.8 440.6"/><path stroke="#ffa424" d="M539.8 440.6 540.1 435.8M541.0 431.9 541.3 437.5"/><path stroke="#ff9124" d="M540.1 435.8 540.7 430.7 541.0 431.9"/><g stroke-width="1.6"><path stroke="#292998" d="M676.9 553.9 676.9 552.5M680.2 551.0 680.2 553.8"/><path stroke="#2828a9" d="M676.9 552.5 676.9 549.6M680.2 548.1 680.2 551.0"/><path stroke="#2727bb" d="M676.9 549.6 676.9 545.3M680.2 543.8 680.2 548.1"/><path stroke="#2626ce" d="M676.9 545.3 676.9 542.4M680.2 540.9 680.2 543.8"/><path stroke="#2525e4" d="M676.9 542.4 677.0 538.1M680.3 536.6 680.2 540.9"/><path stroke="#2424fb" d="M677.0 538.1 677.0 535.2M680.3 533.8 680.3 536.6"/><path stroke="#2436ff" d="M677.0 535.2 677.1 530.9M680.3 529.5 680.3 533.8"/><path stroke="#2448ff" d="M677.1 530.9 677.1 528.1M680.4 526.6 680.3 529.5"/><path stroke="#245bff" d="M677.1 528.1 677.2 523.8M680.4 522.3 680.4 526.6"/><path stroke="#246dff" d="M677.2 523.8 677.3 520.9M680.5 519.4 680.4 522.3"/><path stroke="#247fff" d="M677.3 520.9 677.4 516.6M680.6 515.1 680.5 519.4"/><path stroke="#2491ff" d="M677.4 516.6 677.5 513.7M680.6 512.2 680.6 515.1"/><path stroke="#24a4ff" d="M677.5 513.7 677.6 509.4M680.7 507.9 680.6 512.2"/><path stroke="#24b6ff" d="M677.6 509.4 677.7 506.6M680.8 505.1 680.7 507.9"/><path stroke="#24c8ff" d="M677.7 506.6 677.8 502.2M680.9 500.8 680.8 505.1"/><path stroke="#24daff" d="M677.8 502.2 678.0 499.4M681.0 497.9 680.9 500.8"/><path stroke="#24edff" d="M678.0 499.4 678.1 495.1M681.1 493.6 681.0 497.9"/><path stroke="#24ffff" d="M678.1 495.1 678.3 492.2M681.2 490.7 681.1 493.6"/><path stroke="#36ffed" d="M678.3 492.2 678.5 487.9M681.4 486.4 681.2 490.7"/><path stroke="#48ffda" d="M678.5 487.9 678.6 485.0M681.5 483.5 681.4 486.4"/><path stroke="#5bffc8" d="M678.6 485.0 678.9 480.5M681.5 480.2 681.5 483.5"/><path stroke="#6dffb6" d="M678.9 480.5 679.6 478.2 680.0 477.5 680.4 477.3 680.7 477.5 681.0 478.0 681.5 480.2"/></g>
<path stroke="#29298a" d="M793.7 556.0 835.1 555.6"/><path stroke="#292998" d="M419.1 566.5 430.5 566.2 436.5 565.8 440.7 564.9 442.2 564.3 443.7 563.4M444.6 562.7 445.2 564.9 445.5 565.4 446.1 565.7 446.7 565.8 450.6 565.4 453.9 564.8 456.0 564.1 457.8 563.0M482.2 562.0 485.2 562.0M607.6 558.0 616.4 558.6 633.4 558.4 668.9 557.4 731.0 556.4 793.7 556.0"/><path stroke="#2828a9" d="M443.7 563.4 444.6 562.7M457.8 563.0 459.4 561.4 460.6 559.2M475.0 558.6 476.2 559.8 478.0 560.9 480.1 561.7 482.2 562.0M485.2 562.0 487.0 561.6 488.2 560.9 489.1 559.7 489.7 558.3M495.7 557.8 496.6 558.7 498.1 559.4 500.5 559.8 504.1 559.9 508.0 559.7 511.6 559.2 515.2 558.4 517.9 557.4M597.5 554.6 599.7 556.0 601.8 556.8 605.2 557.7 607.6 558.0"/><path stroke="#2727bb" d="M460.6 559.2 461.5 556.6M461.8 555.4 462.1 555.9 462.4 555.7M472.9 554.4 473.8 556.7 475.0 558.6M489.7 558.3 490.6 555.2M493.9 554.1 495.7 557.8M517.9 557.4 521.2 555.7 523.9 553.8M558.8 551.5 561.6 552.5 565.8 553.0 568.8 552.9 572.0 552.1M594.8 551.3 596.1 553.2 597.5 554.6"/><path stroke="#2626ce" d="M461.5 556.6 461.8 555.4M462.4 555.7 463.0 553.4M472.0 550.8 472.9 554.4M490.6 555.2 490.9 554.4 491.5 553.7 493.0 553.5 493.6 553.8 493.9 554.1M523.9 553.8 525.7 552.2 527.5 550.1M554.9 548.9 558.8 551.5M572.0 552.1 575.0 550.6 577.5 548.5M593.3 547.5 594.8 551.3"/><path stroke="#2525e4" d="M463.0 553.4 463.6 548.5M471.4 547.1 472.0 550.8M527.5 550.1 529.9 546.4M551.9 545.1 553.4 547.3 554.9 548.9M577.5 548.5 578.9 546.7 580.1 544.9M592.6 544.2 593.3 547.5"/><path stroke="#2424fb" d="M463.6 548.5 463.9 544.9M470.8 541.7 471.4 547.1M529.9 546.4 531.4 543.3M550.1 541.4 551.9 545.1M580.1 544.9 581.8 541.3M592.1 540.4 592.6 544.2"/><path stroke="#2436ff" d="M470.5 538.3 470.8 541.7M531.4 543.3 532.9 539.1M548.9 537.9 550.1 541.4M581.8 541.3 583.1 537.6M591.9 536.7 592.1 540.4"/><path stroke="#2448ff" d="M463.9 544.9 464.2 540.2M470.2 534.1 470.5 538.3M532.9 539.1 533.8 535.9M548.0 534.3 548.9 537.9M583.1 537.6 584.1 534.0M591.8 533.4 591.9 536.7"/><path stroke="#245bff" d="M464.2 540.2 464.5 534.6M469.9 529.4 470.2 534.1M533.8 535.9 534.7 531.9M547.1 529.6 548.0 534.3M584.1 534.0 585.1 530.4M591.8 529.8 591.8 533.4"/><path stroke="#246dff" d="M534.7 531.9 535.3 528.7M546.7 527.6 547.1 529.6M585.1 530.4 585.9 526.9M592.0 526.1 591.8 529.8"/><path stroke="#247fff" d="M464.5 534.6 464.8 528.1M469.6 524.3 469.9 529.4M535.3 528.7 535.9 525.0M546.1 523.1 546.7 527.6M585.9 526.9 586.8 523.0M592.2 522.5 592.0 526.1"/><path stroke="#2491ff" d="M469.3 518.9 469.6 524.3M535.9 525.0 536.2 522.9M545.8 520.4 546.1 523.1M586.8 523.0 587.5 519.5M592.5 519.0 592.2 522.5"/><path stroke="#24a4ff" d="M464.8 528.1 465.1 521.2M536.2 522.9 536.8 518.0M545.2 513.8 545.8 520.4M587.5 519.5 588.4 515.7M592.8 515.1 592.5 519.0"/><path stroke="#24b6ff" d="M469.0 513.9 469.3 518.9M536.8 518.0 537.1 515.2M544.9 509.7 545.2 513.8M588.4 515.7 589.1 512.4M593.2 511.8 592.8 515.1"/><path stroke="#24c8ff" d="M465.1 521.2 465.4 514.7M468.7 509.6 469.0 513.9M537.1 515.2 537.4 512.2M589.1 512.4 589.9 508.7M593.7 508.0 593.2 511.8"/><path stroke="#24daff" d="M465.4 514.7 465.7 509.3M468.4 506.4 468.7 509.6M537.4 512.2 537.7 508.9M544.6 505.1 544.9 509.7M589.9 508.7 590.9 504.8M594.2 504.4 593.7 508.0"/><path stroke="#24edff" d="M465.7 509.3 466.0 505.7M468.1 504.3 468.4 506.4M537.7 508.9 538.0 505.2M544.3 499.7 544.6 505.1M590.9 504.8 591.7 501.3M594.8 500.9 594.2 504.4"/><path stroke="#24ffff" d="M466.0 505.7 466.3 503.8 466.6 503.0 467.5 502.9 467.8 503.3 468.1 504.3M538.0 505.2 538.3 501.1M544.0 493.5 544.3 499.7M591.7 501.3 592.6 497.6M595.5 497.2 594.8 500.9"/><path stroke="#36ffed" d="M538.3 501.1 538.6 496.7M592.6 497.6 593.5 494.1M596.1 493.5 595.5 497.2"/><path stroke="#48ffda" d="M543.7 486.4 544.0 493.5M593.5 494.1 594.5 490.3M596.8 490.1 596.1 493.5"/><path stroke="#5bffc8" d="M538.6 496.7 538.9 491.8M594.5 490.3 595.5 486.8M597.6 486.5 596.8 490.1"/><path stroke="#6dffb6" d="M538.9 491.8 539.2 486.4M543.4 478.3 543.7 486.4M595.5 486.8 596.5 483.1M598.4 482.8 597.6 486.5"/><path stroke="#7fffa4" d="M596.5 483.1 597.6 479.4M599.3 479.1 598.4 482.8"/><path stroke="#91ff91" d="M539.2 486.4 539.5 480.7M543.1 469.3 543.4 478.3M597.6 479.4 598.7 475.9M600.2 475.5 599.3 479.1"/><path stroke="#a4ff7f" d="M539.5 480.7 539.8 474.5M598.7 475.9 599.9 472.2M601.1 471.9 600.2 475.5"/><path stroke="#b6ff6d" d="M599.9 472.2 601.1 468.6M602.0 468.4 601.1 471.9"/><path stroke="#c8ff5b" d="M539.8 474.5 540.1 468.0M542.8 459.9 543.1 469.3M601.1 468.6 602.4 464.9M603.0 464.8 602.0 468.4"/><path stroke="#daff48" d="M602.4 464.9 603.6 462.1 603.0 464.8"/><path stroke="#edff36" d="M540.1 468.0 540.4 461.5M542.5 451.0 542.8 459.9"/><path stroke="#ffed24" d="M540.4 461.5 540.7 455.2"/><path stroke="#ffda24" d="M540.7 455.2 541.0 449.6M542.2 444.2 542.5 451.0"/><path stroke="#ffb624" d="M541.0 449.6 541.6 442.2M541.9 441.4 542.2 444.2"/><path stroke="#ffa424" d="M541.6 442.2 541.9 441.4"/><g stroke-width="1.6"><path stroke="#292998" d="M681.4 555.9 681.4 557.6"/><path stroke="#2828a9" d="M677.5 557.7 677.5 552.5M681.4 550.8 681.4 555.9"/><path stroke="#2727bb" d="M677.5 552.5 677.6 549.1M681.4 547.3 681.4 550.8"/><path stroke="#2626ce" d="M677.6 549.1 677.6 545.7M681.4 543.9 681.4 547.3"/><path stroke="#2525e4" d="M677.6 545.7 677.6 542.3M681.4 540.5 681.4 543.9"/><path stroke="#2424fb" d="M677.6 542.3 677.6 538.9M681.5 537.1 681.4 540.5"/><path stroke="#2436ff" d="M677.6 538.9 677.7 535.5M681.5 533.7 681.5 537.1"/><path stroke="#2448ff" d="M677.7 535.5 677.7 532.1M681.5 530.3 681.5 533.7"/><path stroke="#245bff" d="M677.7 532.1 677.8 528.6M681.6 526.9 681.5 530.3"/><path stroke="#246dff" d="M677.8 528.6 677.9 525.2M681.7 523.5 681.6 526.9"/><path stroke="#247fff" d="M677.9 525.2 678.0 520.1M681.8 518.3 681.7 523.5"/><path stroke="#2491ff" d="M678.0 520.1 678.1 516.7M681.8 514.9 681.8 518.3"/><path stroke="#24a4ff" d="M678.1 516.7 678.2 513.3M681.9 511.5 681.8 514.9"/><path stroke="#24b6ff" d="M678.2 513.3 678.3 509.9M682.0 508.1 681.9 511.5"/><path stroke="#24c8ff" d="M678.3 509.9 678.4 506.4M682.1 504.7 682.0 508.1"/><path stroke="#24daff" d="M678.4 506.4 678.6 503.0M682.2 501.3 682.1 504.7"/><path stroke="#24edff" d="M678.6 503.0 678.7 499.6M682.3 497.8 682.2 501.3"/><path stroke="#24ffff" d="M678.7 499.6 678.9 496.2M682.4 494.4 682.3 497.8"/><path stroke="#36ffed" d="M678.9 496.2 679.0 492.8M682.5 491.0 682.4 494.4"/><path stroke="#48ffda" d="M679.0 492.8 679.3 487.7M682.7 485.9 682.5 491.0"/><path stroke="#5bffc8" d="M679.3 487.7 679.4 484.2M682.9 482.5 682.7 485.9"/><path stroke="#6dffb6" d="M679.4 484.2 679.6 480.8M683.0 479.1 682.9 482.5"/><path stroke="#7fffa4" d="M679.6 480.8 679.8 477.4M683.2 475.6 683.0 479.1"/><path stroke="#91ff91" d="M679.8 477.4 680.0 474.0M683.3 472.2 683.2 475.6"/><path stroke="#a4ff7f" d="M680.0 474.0 680.5 469.8M683.2 469.4 683.3 472.2"/><path stroke="#b6ff6d" d="M680.5 469.8 681.2 468.0 682.0 467.4 682.7 467.9 683.2 469.4"/></g>
<path stroke="#29298a" d="M792.8 559.7 836.0 559.3"/><path stroke="#292998" d="M420.0 570.3 431.7 570.1 437.7 569.6 441.9 568.7 443.4 568.0 444.9 567.1M445.5 566.6 446.1 568.8 446.4 569.2 447.0 569.6 447.6 569.6 451.8 569.2 455.1 568.6 457.2 567.9 459.0 566.7M481.3 565.8 484.3 566.1 487.3 565.7M609.1 561.8 612.9 562.1 618.7 562.3 634.8 562.2 669.6 561.2 731.8 560.1 792.8 559.7"/><path stroke="#2828a9" d="M444.9 567.1 445.5 566.6M459.0 566.7 460.2 565.4 461.4 563.2M475.6 562.3 476.8 563.6 478.0 564.5 479.5 565.2 481.3 565.8M487.3 565.7 488.2 565.4 489.1 564.7 489.7 564.0 490.3 562.7M496.6 561.4 497.8 562.7 499.6 563.4 502.6 563.8 506.5 564.0 510.7 563.7 514.9 563.1 517.9 562.4 521.2 561.1M599.2 558.5 600.7 559.5 603.0 560.5 606.5 561.4 609.1 561.8"/><path stroke="#2727bb" d="M461.4 563.2 462.6 559.5 463.2 559.7M473.8 558.6 474.7 560.8 475.6 562.3M490.3 562.7 491.5 558.4M495.1 557.9 496.6 561.4M521.2 561.1 524.2 559.4 526.9 557.3M559.7 555.5 562.5 556.3 566.7 556.7 569.7 556.4 572.0 555.9M596.1 555.0 597.5 557.0 599.2 558.5"/><path stroke="#2626ce" d="M463.2 559.7 463.8 557.5M472.9 555.1 473.8 558.6M491.5 558.4 492.1 556.9 492.7 556.6 494.2 556.6 495.1 557.9M526.9 557.3 529.9 553.9M555.2 552.6 556.4 553.6 559.7 555.5M572.0 555.9 574.6 554.7 577.5 552.4M594.6 551.4 596.1 555.0"/><path stroke="#2525e4" d="M463.8 557.5 464.4 552.8M472.3 551.4 472.9 555.1M529.9 553.9 532.0 550.4M552.5 549.1 553.7 550.9 555.2 552.6M577.5 552.4 579.2 550.5 580.5 548.5M593.8 547.8 594.6 551.4"/><path stroke="#2424fb" d="M464.4 552.8 464.7 549.2M471.7 546.2 472.3 551.4M532.0 550.4 533.5 547.0M550.6 545.4 552.5 549.1M580.5 548.5 582.2 545.1M593.3 544.2 593.8 547.8"/><path stroke="#2436ff" d="M471.4 542.8 471.7 546.2M533.5 547.0 534.7 543.3M549.4 541.7 550.6 545.4M582.2 545.1 583.7 541.1M593.0 540.6 593.3 544.2"/><path stroke="#2448ff" d="M464.7 549.2 465.0 544.7M471.1 538.8 471.4 542.8M534.7 543.3 535.6 539.9M548.5 538.0 549.4 541.7M583.7 541.1 584.7 537.7M592.9 537.1 593.0 540.6"/><path stroke="#245bff" d="M465.0 544.7 465.3 539.2M470.8 534.2 471.1 538.8M535.6 539.9 536.5 535.5M547.9 534.9 548.5 538.0M584.7 537.7 585.6 534.2M593.0 533.1 592.9 537.1"/><path stroke="#246dff" d="M470.5 529.1 470.8 534.2M536.5 535.5 537.1 532.0M547.3 531.0 547.9 534.9M585.6 534.2 586.6 530.4M593.1 529.6 593.0 533.1"/><path stroke="#247fff" d="M465.3 539.2 465.6 532.9M537.1 532.0 537.4 529.9M546.7 526.1 547.3 531.0M586.6 530.4 587.4 527.0M593.3 526.2 593.1 529.6"/><path stroke="#2491ff" d="M470.2 523.9 470.5 529.1M537.4 529.9 538.0 525.3M546.4 523.2 546.7 526.1M587.4 527.0 588.2 523.2M593.6 522.3 593.3 526.2"/><path stroke="#24a4ff" d="M465.6 532.9 465.9 526.2M469.9 519.0 470.2 523.9M538.0 525.3 538.3 522.6M546.1 519.8 546.4 523.2M588.2 523.2 589.0 519.5M593.9 519.0 593.6 522.3"/><path stroke="#24b6ff" d="M465.9 526.2 466.2 519.8M538.3 522.6 538.6 519.6M545.8 515.9 546.1 519.8M589.0 519.5 589.9 515.8M594.3 515.2 593.9 519.0"/><path stroke="#24c8ff" d="M469.6 514.8 469.9 519.0M538.6 519.6 538.9 516.3M545.5 511.5 545.8 515.9M589.9 515.8 590.7 512.2M594.8 511.5 594.3 515.2"/><path stroke="#24daff" d="M466.2 519.8 466.5 514.5M469.2 511.7 469.6 514.8M538.9 516.3 539.2 512.6M545.2 506.3 545.5 511.5M590.7 512.2 591.5 508.6M595.4 507.9 594.8 511.5"/><path stroke="#24edff" d="M466.5 514.5 467.1 509.1M468.6 508.7 469.2 511.7M539.2 512.6 539.5 508.6M544.9 500.4 545.2 506.3M591.5 508.6 592.4 505.2M595.9 504.4 595.4 507.9"/><path stroke="#24ffff" d="M467.1 509.1 467.4 508.4 467.7 508.2 468.3 508.3 468.6 508.7M539.5 508.6 539.8 504.1M592.4 505.2 593.3 501.4M596.5 501.0 595.9 504.4"/><path stroke="#36ffed" d="M544.6 493.5 544.9 500.4M593.3 501.4 594.2 497.7M597.2 497.3 596.5 501.0"/><path stroke="#48ffda" d="M539.8 504.1 540.1 499.1M594.2 497.7 595.2 494.2M597.9 493.7 597.2 497.3"/><path stroke="#5bffc8" d="M540.1 499.1 540.4 493.7M544.3 485.8 544.6 493.5M595.2 494.2 596.2 490.4M598.7 490.2 597.9 493.7"/><path stroke="#6dffb6" d="M596.2 490.4 597.3 486.7M599.5 486.5 598.7 490.2"/><path stroke="#7fffa4" d="M540.4 493.7 540.7 487.8M544.0 477.3 544.3 485.8M597.3 486.7 598.3 483.3M600.4 482.7 599.5 486.5"/><path stroke="#91ff91" d="M540.7 487.8 541.0 481.5M598.3 483.3 599.4 479.7M601.3 479.1 600.4 482.7"/><path stroke="#a4ff7f" d="M599.4 479.7 600.5 476.1M602.2 475.7 601.3 479.1"/><path stroke="#b6ff6d" d="M541.0 481.5 541.3 475.0M543.7 468.4 544.0 477.3M600.5 476.1 601.8 472.2M603.2 472.1 602.2 475.7"/><path stroke="#c8ff5b" d="M601.8 472.2 603.0 468.8M604.3 468.4 603.2 472.1"/><path stroke="#daff48" d="M541.3 475.0 541.6 468.5M543.4 460.4 543.7 468.4M603.0 468.8 604.3 465.0M605.3 464.8 604.3 468.4"/><path stroke="#edff36" d="M604.3 465.0 605.7 461.4M606.4 461.2 605.3 464.8"/><path stroke="#ffff24" d="M541.6 468.5 541.9 462.6M543.1 454.7 543.4 460.4M605.7 461.4 607.3 457.6M607.4 457.6 606.4 461.2"/><path stroke="#ffed24" d="M541.9 462.6 542.2 457.6M607.3 457.6 607.4 457.6"/><path stroke="#ffda24" d="M542.2 457.6 542.5 454.2 542.8 452.8 543.1 454.7"/><g stroke-width="1.6"><path stroke="#292998" d="M682.5 559.4 682.5 561.4"/><path stroke="#2828a9" d="M678.2 561.4 678.2 557.5M682.5 555.5 682.5 559.4"/><path stroke="#2727bb" d="M678.2 557.5 678.2 553.7M682.6 551.6 682.5 555.5"/><path stroke="#2626ce" d="M678.2 553.7 678.2 549.8M682.6 547.7 682.6 551.6"/><path stroke="#2525e4" d="M678.2 549.8 678.3 545.9M682.6 543.9 682.6 547.7"/><path stroke="#2424fb" d="M678.3 545.9 678.3 542.0M682.6 540.0 682.6 543.9"/><path stroke="#2436ff" d="M678.3 542.0 678.3 540.0M682.7 536.1 682.6 540.0"/><path stroke="#2448ff" d="M678.3 540.0 678.4 536.2M682.7 534.1 682.7 536.1"/><path stroke="#245bff" d="M678.4 536.2 678.5 532.3M682.8 530.2 682.7 534.1"/><path stroke="#246dff" d="M678.5 532.3 678.5 528.4M682.9 526.4 682.8 530.2"/><path stroke="#247fff" d="M678.5 528.4 678.6 524.5M682.9 522.5 682.9 526.4"/><path stroke="#2491ff" d="M678.6 524.5 678.7 520.6M683.0 518.6 682.9 522.5"/><path stroke="#24a4ff" d="M678.7 520.6 678.9 516.7M683.1 514.7 683.0 518.6"/><path stroke="#24b6ff" d="M678.9 516.7 678.9 514.8M683.2 512.7 683.1 514.7"/><path stroke="#24c8ff" d="M678.9 514.8 679.0 510.9M683.3 508.9 683.2 512.7"/><path stroke="#24daff" d="M679.0 510.9 679.2 507.0M683.4 505.0 683.3 508.9"/><path stroke="#24edff" d="M679.2 507.0 679.3 503.1M683.5 501.1 683.4 505.0"/><path stroke="#24ffff" d="M679.3 503.1 679.5 499.2M683.7 497.2 683.5 501.1"/><path stroke="#36ffed" d="M679.5 499.2 679.7 495.3M683.8 493.3 683.7 497.2"/><path stroke="#48ffda" d="M679.7 495.3 679.9 491.4M683.9 489.4 683.8 493.3"/><path stroke="#5bffc8" d="M679.9 491.4 679.9 489.5M684.0 487.5 683.9 489.4"/><path stroke="#6dffb6" d="M679.9 489.5 680.1 485.6M684.2 483.6 684.0 487.5"/><path stroke="#7fffa4" d="M680.1 485.6 680.4 481.7M684.4 479.7 684.2 483.6"/><path stroke="#91ff91" d="M680.4 481.7 680.6 477.8M684.5 475.8 684.4 479.7"/><path stroke="#a4ff7f" d="M680.6 477.8 680.8 473.9M684.7 471.9 684.5 475.8"/><path stroke="#b6ff6d" d="M680.8 473.9 681.1 470.0M684.9 468.0 684.7 471.9"/><path stroke="#c8ff5b" d="M681.1 470.0 681.3 466.1M685.1 464.1 684.9 468.0"/><path stroke="#daff48" d="M681.3 466.1 681.7 462.6M685.1 462.2 685.1 464.1"/><path stroke="#edff36" d="M681.7 462.6 682.5 460.2 683.1 459.5 683.6 459.3 684.1 459.5 684.5 460.0 685.1 462.2"/></g>
<path stroke="#29298a" d="M791.6 563.5 836.9 563.0"/><path stroke="#292998" d="M420.9 574.1 432.6 573.9 438.9 573.4 443.1 572.4 444.6 571.7 446.1 570.7M446.4 570.4 447.0 572.6 447.3 573.1 447.9 573.4 448.5 573.5 452.7 573.1 456.0 572.5 458.4 571.7 460.2 570.4M481.0 569.5 482.8 569.9 484.9 570.0 487.0 569.8 488.5 569.4M607.8 565.1 614.6 565.9 621.0 566.1 634.6 565.9 649.9 565.6 670.6 564.9 732.8 563.9 791.6 563.5"/><path stroke="#2828a9" d="M446.1 570.7 446.4 570.4M460.2 570.4 461.4 569.0 462.6 566.7M475.8 565.7 476.8 566.9 478.0 568.0 479.5 568.9 481.0 569.5M488.5 569.4 490.0 568.3 490.6 567.4 491.2 565.9M498.1 565.3 499.6 566.5 502.0 567.3 505.9 567.8 510.4 567.9 514.6 567.6 518.5 567.0 521.5 566.0 524.5 564.6M600.2 562.1 602.8 563.7 605.7 564.7 607.8 565.1"/><path stroke="#2727bb" d="M462.6 566.7 463.5 563.8 464.1 563.9 464.4 563.3M474.3 562.2 474.9 563.9 475.8 565.7M491.2 565.9 491.8 563.4M496.3 560.9 497.2 563.6 498.1 565.3M524.5 564.6 527.2 562.9 529.6 560.9M560.6 559.7 563.4 560.3 565.6 560.6 569.2 560.4 571.8 559.8M597.0 558.3 598.5 560.5 600.2 562.1"/><path stroke="#2626ce" d="M464.4 563.3 465.0 560.2M473.4 558.3 474.3 562.2M491.8 563.4 492.7 559.5 493.3 558.4M494.8 558.3 495.4 558.7 495.7 559.2 496.3 560.9M529.6 560.9 532.3 557.5M555.1 556.2 557.2 558.0 560.6 559.7M571.8 559.8 574.7 558.6 576.2 557.6 578.0 556.1M595.7 555.0 597.0 558.3"/><path stroke="#2525e4" d="M465.0 560.2 465.3 557.7M472.8 554.2 473.4 558.3M493.3 558.4 494.8 558.3M532.3 557.5 534.4 553.5M552.4 552.5 553.6 554.4 555.1 556.2M578.0 556.1 579.4 554.6 580.8 552.5M594.8 551.1 595.7 555.0"/><path stroke="#2424fb" d="M465.3 557.7 465.6 554.3M472.5 551.5 472.8 554.2M534.4 553.5 535.6 550.4M550.9 549.1 552.4 552.5M580.8 552.5 582.7 548.7M594.4 547.8 594.8 551.1"/><path stroke="#2436ff" d="M465.6 554.3 465.9 550.1M471.9 544.5 472.5 551.5M535.6 550.4 536.5 547.3M549.7 545.3 550.9 549.1M582.7 548.7 584.2 545.0M594.1 544.0 594.4 547.8"/><path stroke="#2448ff" d="M465.9 550.1 466.2 545.0M536.5 547.3 537.4 543.5M548.8 541.2 549.7 545.3M584.2 545.0 585.3 541.3M594.0 540.7 594.1 544.0"/><path stroke="#245bff" d="M471.6 540.2 471.9 544.5M537.4 543.5 538.0 540.3M548.2 537.7 548.8 541.2M585.3 541.3 586.3 537.6M594.0 537.0 594.0 540.7"/><path stroke="#246dff" d="M466.2 545.0 466.5 539.0M471.3 535.5 471.6 540.2M538.0 540.3 538.6 536.4M547.6 533.3 548.2 537.7M586.3 537.6 587.3 533.9M594.2 533.2 594.0 537.0"/><path stroke="#247fff" d="M471.0 530.6 471.3 535.5M538.6 536.4 539.2 531.8M547.3 530.7 547.6 533.3M587.3 533.9 588.1 530.3M594.3 530.0 594.2 533.2"/><path stroke="#2491ff" d="M466.5 539.0 466.8 532.7M470.7 526.0 471.0 530.6M539.2 531.8 539.5 529.1M547.0 527.7 547.3 530.7M588.1 530.3 589.0 526.7M594.6 526.3 594.3 530.0"/><path stroke="#24a4ff" d="M539.5 529.1 539.8 526.0M546.7 524.2 547.0 527.7M589.0 526.7 589.8 523.2M595.0 522.7 594.6 526.3"/><path stroke="#24b6ff" d="M466.8 532.7 467.1 526.7M470.4 522.1 470.7 526.0M539.8 526.0 540.1 522.7M546.4 520.3 546.7 524.2M589.8 523.2 590.6 519.7M595.4 519.1 595.0 522.7"/><path stroke="#24c8ff" d="M467.1 526.7 467.4 521.8M470.1 519.1 470.4 522.1M540.1 522.7 540.4 518.9M546.1 515.7 546.4 520.3M590.6 519.7 591.4 516.2M595.8 515.6 595.4 519.1"/><path stroke="#24daff" d="M467.4 521.8 467.7 518.5 468.0 516.7 468.3 516.1M469.2 516.0 469.5 516.3 469.8 517.3 470.1 519.1M540.4 518.9 540.7 514.7M545.8 510.4 546.1 515.7M591.4 516.2 592.3 512.3M596.4 511.7 595.8 515.6"/><path stroke="#24edff" d="M468.3 516.1 469.2 516.0M545.5 504.3 545.8 510.4M592.3 512.3 593.2 508.5M597.0 508.3 596.4 511.7"/><path stroke="#24ffff" d="M540.7 514.7 541.0 510.0M593.2 508.5 594.0 505.3M597.6 504.5 597.0 508.3"/><path stroke="#36ffed" d="M541.0 510.0 541.3 504.8M545.2 497.3 545.5 504.3M594.0 505.3 595.0 501.7M598.3 500.8 597.6 504.5"/><path stroke="#48ffda" d="M595.0 501.7 596.0 497.7M599.0 497.2 598.3 500.8"/><path stroke="#5bffc8" d="M541.3 504.8 541.6 499.0M544.9 489.5 545.2 497.3M596.0 497.7 597.0 494.2M599.8 493.7 599.0 497.2"/><path stroke="#6dffb6" d="M541.6 499.0 541.9 492.9M597.0 494.2 598.0 490.5M600.7 490.0 599.8 493.7"/><path stroke="#7fffa4" d="M544.6 481.4 544.9 489.5M598.0 490.5 599.1 486.9M601.5 486.3 600.7 490.0"/><path stroke="#91ff91" d="M541.9 492.9 542.2 486.4M599.1 486.9 600.3 483.1M602.4 482.9 601.5 486.3"/><path stroke="#a4ff7f" d="M544.3 473.7 544.6 481.4M600.3 483.1 601.4 479.5M603.4 479.2 602.4 482.9"/><path stroke="#b6ff6d" d="M542.2 486.4 542.5 480.0M601.4 479.5 602.5 476.1M604.3 475.7 603.4 479.2"/><path stroke="#c8ff5b" d="M602.5 476.1 603.8 472.3M605.4 471.9 604.3 475.7"/><path stroke="#daff48" d="M542.5 480.0 542.8 474.0M544.0 467.8 544.3 473.7M603.8 472.3 605.0 468.8M606.5 468.4 605.4 471.9"/><path stroke="#edff36" d="M542.8 474.0 543.1 469.2M543.7 465.2 544.0 467.8M605.0 468.8 606.3 465.2M607.6 464.7 606.5 468.4"/><path stroke="#ffff24" d="M543.1 469.2 543.4 466.0 543.7 465.2M606.3 465.2 607.8 461.4M608.7 461.2 607.6 464.7"/><path stroke="#ffed24" d="M607.8 461.4 609.2 457.7M609.9 457.5 608.7 461.2"/><path stroke="#ffda24" d="M609.2 457.7 610.8 454.0M611.0 454.0 609.9 457.5"/><path stroke="#ffc824" d="M610.8 454.0 611.1 453.6 611.0 454.0"/><g stroke-width="1.6"><path stroke="#292998" d="M683.7 563.0 683.7 565.1M781.5 563.7 781.6 560.4M782.7 560.1 782.7 563.7"/><path stroke="#2828a9" d="M678.8 565.2 678.8 560.9M683.7 558.7 683.7 563.0M781.6 560.4 781.6 556.8M782.7 556.5 782.7 560.1"/><path stroke="#2727bb" d="M678.8 560.9 678.9 556.6M683.7 554.3 683.7 558.7M781.6 556.8 781.8 553.2M782.8 552.9 782.7 556.5"/><path stroke="#2626ce" d="M678.9 556.6 678.9 554.4M683.7 552.2 683.7 554.3M781.8 553.2 782.1 549.5M782.8 549.3 782.8 552.9"/><path stroke="#2525e4" d="M678.9 554.4 678.9 550.1M683.8 547.9 683.7 552.2M782.1 549.5 782.5 548.7 782.8 549.3"/><path stroke="#2424fb" d="M678.9 550.1 679.0 545.8M683.8 543.6 683.8 547.9"/><path stroke="#2436ff" d="M679.0 545.8 679.0 543.6M683.8 541.4 683.8 543.6"/><path stroke="#2448ff" d="M679.0 543.6 679.0 539.3M683.9 537.1 683.8 541.4"/><path stroke="#245bff" d="M679.0 539.3 679.1 535.0M684.0 532.8 683.9 537.1"/><path stroke="#246dff" d="M679.1 535.0 679.2 532.9M684.0 530.6 684.0 532.8"/><path stroke="#247fff" d="M679.2 532.9 679.3 528.5M684.1 526.3 684.0 530.6"/><path stroke="#2491ff" d="M679.3 528.5 679.4 524.2M684.2 522.0 684.1 526.3"/><path stroke="#24a4ff" d="M679.4 524.2 679.4 522.1M684.3 519.8 684.2 522.0"/><path stroke="#24b6ff" d="M679.4 522.1 679.6 517.7M684.4 515.5 684.3 519.8"/><path stroke="#24c8ff" d="M679.6 517.7 679.7 513.4M684.5 511.2 684.4 515.5"/><path stroke="#24daff" d="M679.7 513.4 679.8 511.3M684.6 509.0 684.5 511.2"/><path stroke="#24edff" d="M679.8 511.3 680.0 507.0M684.7 504.7 684.6 509.0"/><path stroke="#24ffff" d="M680.0 507.0 680.1 502.6M684.9 500.4 684.7 504.7"/><path stroke="#36ffed" d="M680.1 502.6 680.2 500.5M684.9 498.2 684.9 500.4"/><path stroke="#48ffda" d="M680.2 500.5 680.4 496.2M685.1 493.9 684.9 498.2"/><path stroke="#5bffc8" d="M680.4 496.2 680.6 491.8M685.3 489.6 685.1 493.9"/><path stroke="#6dffb6" d="M680.6 491.8 680.7 489.7M685.4 487.4 685.3 489.6"/><path stroke="#7fffa4" d="M680.7 489.7 681.0 485.4M685.6 483.1 685.4 487.4"/><path stroke="#91ff91" d="M681.0 485.4 681.2 481.0M685.8 478.8 685.6 483.1"/><path stroke="#a4ff7f" d="M681.2 481.0 681.3 478.9M685.9 476.6 685.8 478.8"/><path stroke="#b6ff6d" d="M681.3 478.9 681.6 474.6M686.1 472.3 685.9 476.6"/><path stroke="#c8ff5b" d="M681.6 474.6 681.9 470.2M686.3 468.0 686.1 472.3"/><path stroke="#daff48" d="M681.9 470.2 682.0 468.1M686.5 465.8 686.3 468.0"/><path stroke="#edff36" d="M682.0 468.1 682.3 463.8M686.7 461.5 686.5 465.8"/><path stroke="#ffff24" d="M682.3 463.8 682.6 459.4M687.0 457.2 686.7 461.5"/><path stroke="#ffed24" d="M682.6 459.4 683.0 455.7M686.9 455.0 687.0 457.2"/><path stroke="#ffda24" d="M683.0 455.7 683.9 453.3 684.5 452.7 685.0 452.4 685.6 452.5 686.1 452.9 686.5 453.7 686.9 455.0"/></g>
<path stroke="#29298a" d="M790.1 567.2 837.8 566.7"/><path stroke="#292998" d="M421.8 577.9 433.5 577.7 439.8 577.2 444.0 576.3 445.5 575.6 447.0 574.5M447.3 574.3 447.9 576.5 448.2 576.9 448.8 577.3 449.4 577.3 453.9 577.0 457.2 576.4 459.6 575.5 461.4 574.2M480.9 573.3 483.0 573.8 485.2 573.9 487.3 573.7 489.1 573.1M609.0 568.9 616.2 569.7 623.1 569.8 636.7 569.7 671.5 568.7 733.7 567.6 790.1 567.2"/><path stroke="#2828a9" d="M447.0 574.5 447.3 574.3M461.4 574.2 462.6 572.7 463.5 570.9M476.4 569.7 477.3 571.0 478.2 571.8 479.4 572.6 480.9 573.3M489.1 573.1 490.6 572.0 491.2 571.1 491.8 569.5M499.9 568.9 501.7 570.0 505.0 571.0 509.2 571.6 514.0 571.7 517.9 571.4 520.6 571.0 524.2 569.8 527.5 568.2M601.2 565.7 603.9 567.4 606.9 568.4 609.0 568.9"/><path stroke="#2727bb" d="M463.5 570.9 464.4 568.2 464.7 567.9 465.0 568.3 465.3 567.9 465.6 566.8M474.9 566.0 475.5 567.8 476.4 569.7M491.8 569.5 492.4 567.0M497.8 564.6 498.7 567.2 499.9 568.9M527.5 568.2 529.9 566.6 532.0 564.6M558.1 562.6 561.5 564.0 564.3 564.5 568.4 564.5 572.7 563.5M598.3 562.3 599.5 564.0 601.2 565.7"/><path stroke="#2626ce" d="M465.6 566.8 465.9 565.2M474.0 561.8 474.9 566.0M492.4 567.0 493.0 563.4M496.9 560.9 497.8 564.6M532.0 564.6 533.5 562.8 534.7 560.9M554.8 559.9 556.3 561.4 558.1 562.6M572.7 563.5 575.6 562.2 577.1 561.1 578.9 559.5M596.8 558.8 598.3 562.3"/><path stroke="#2525e4" d="M465.9 565.2 466.5 559.9M473.4 557.3 474.0 561.8M493.0 563.4 493.6 560.2 494.2 558.8 495.4 558.7 496.0 558.8 496.6 559.9 496.9 560.9M534.7 560.9 536.2 557.7M552.4 556.3 553.6 558.3 554.8 559.9M578.9 559.5 581.4 556.1M596.0 555.3 596.8 558.8"/><path stroke="#2424fb" d="M466.5 559.9 466.8 556.1M473.1 554.4 473.4 557.3M536.2 557.7 537.4 554.2M550.9 552.6 552.4 556.3M581.4 556.1 583.5 552.1M595.4 551.2 596.0 555.3"/><path stroke="#2436ff" d="M472.8 551.0 473.1 554.4M537.4 554.2 538.3 550.7M550.0 549.5 550.9 552.6M583.5 552.1 584.8 548.7M595.2 547.7 595.4 551.2"/><path stroke="#2448ff" d="M466.8 556.1 467.1 551.4M472.5 547.1 472.8 551.0M538.3 550.7 538.9 547.8M549.1 545.3 550.0 549.5M584.8 548.7 585.9 545.3M595.1 544.2 595.2 547.7"/><path stroke="#245bff" d="M467.1 551.4 467.4 546.0M472.2 542.8 472.5 547.1M538.9 547.8 539.5 544.3M548.5 541.6 549.1 545.3M585.9 545.3 587.0 541.4M595.1 540.8 595.1 544.2"/><path stroke="#246dff" d="M471.9 538.4 472.2 542.8M539.5 544.3 540.1 540.0M547.9 536.8 548.5 541.6M587.0 541.4 587.9 538.1M595.2 536.8 595.1 540.8"/><path stroke="#247fff" d="M467.4 546.0 467.7 540.3M471.6 534.2 471.9 538.4M540.1 540.0 540.4 537.4M547.6 534.0 547.9 536.8M587.9 538.1 588.8 534.2M595.4 533.4 595.2 536.8"/><path stroke="#2491ff" d="M467.7 540.3 468.0 534.9M471.3 530.6 471.6 534.2M540.4 537.4 540.7 534.6M547.3 530.7 547.6 534.0M588.8 534.2 589.7 530.3M595.7 530.0 595.4 533.4"/><path stroke="#24a4ff" d="M471.0 528.0 471.3 530.6M540.7 534.6 541.0 531.3M547.0 526.9 547.3 530.7M589.7 530.3 590.5 527.1M596.1 526.1 595.7 530.0"/><path stroke="#24b6ff" d="M468.0 534.9 468.6 527.4M470.7 526.3 471.0 528.0M541.0 531.3 541.3 527.7M546.7 522.5 547.0 526.9M590.5 527.1 591.3 523.3M596.4 522.8 596.1 526.1"/><path stroke="#24c8ff" d="M468.6 527.4 468.9 525.8 469.2 525.2 470.1 525.1 470.4 525.4 470.7 526.3M541.3 527.7 541.6 523.6M546.4 517.4 546.7 522.5M591.3 523.3 592.2 519.6M596.9 519.1 596.4 522.8"/><path stroke="#24daff" d="M541.6 523.6 541.9 519.0M546.1 511.6 546.4 517.4M592.2 519.6 593.1 516.0M597.5 515.3 596.9 519.1"/><path stroke="#24edff" d="M541.9 519.0 542.2 513.9M593.1 516.0 594.0 512.4M598.1 511.7 597.5 515.3"/><path stroke="#24ffff" d="M545.8 505.0 546.1 511.6M594.0 512.4 594.9 508.8M598.7 508.1 598.1 511.7"/><path stroke="#36ffed" d="M542.2 513.9 542.5 508.2M594.9 508.8 595.8 505.4M599.4 504.6 598.7 508.1"/><path stroke="#48ffda" d="M545.5 497.7 545.8 505.0M595.8 505.4 596.8 501.5M600.1 501.1 599.4 504.6"/><path stroke="#5bffc8" d="M542.5 508.2 542.8 502.1M596.8 501.5 597.8 497.8M600.9 497.3 600.1 501.1"/><path stroke="#6dffb6" d="M545.2 490.4 545.5 497.7M597.8 497.8 598.9 494.1M601.7 493.6 600.9 497.3"/><path stroke="#7fffa4" d="M542.8 502.1 543.1 495.7M598.9 494.1 599.9 490.5M602.6 490.0 601.7 493.6"/><path stroke="#91ff91" d="M543.1 495.7 543.4 489.5M544.9 483.8 545.2 490.4M599.9 490.5 601.0 487.1M603.5 486.5 602.6 490.0"/><path stroke="#a4ff7f" d="M601.0 487.1 602.2 483.4M604.5 482.8 603.5 486.5"/><path stroke="#b6ff6d" d="M543.4 489.5 543.7 484.0M544.6 479.3 544.9 483.8M602.2 483.4 603.3 479.9M605.5 479.2 604.5 482.8"/><path stroke="#c8ff5b" d="M543.7 484.0 544.3 478.2 544.6 479.3M603.3 479.9 604.6 476.1M606.5 475.8 605.5 479.2"/><path stroke="#daff48" d="M604.6 476.1 605.9 472.3M607.6 471.9 606.5 475.8"/><path stroke="#edff36" d="M605.9 472.3 607.2 468.7M608.8 468.3 607.6 471.9"/><path stroke="#ffff24" d="M607.2 468.7 608.5 465.1M609.9 464.7 608.8 468.3"/><path stroke="#ffed24" d="M608.5 465.1 609.9 461.4M611.1 461.2 609.9 464.7"/><path stroke="#ffda24" d="M609.9 461.4 611.4 457.8M612.3 457.6 611.1 461.2"/><path stroke="#ffc824" d="M611.4 457.8 612.9 454.1M613.6 453.9 612.3 457.6"/><path stroke="#ffb624" d="M612.9 454.1 614.7 450.4M614.7 450.4 613.6 453.9"/><path stroke="#ffa424" d="M614.7 450.4 614.7 450.4"/><g stroke-width="1.6"><path stroke="#29298a" d="M783.8 566.9 783.8 567.5"/><path stroke="#292998" d="M684.9 566.6 684.9 568.9M782.3 567.5 782.4 564.4M783.8 563.8 783.8 566.9"/><path stroke="#2828a9" d="M679.5 569.0 679.5 564.3M684.9 561.9 684.9 566.6M782.4 564.4 782.4 560.7M783.9 560.2 783.8 563.8"/><path stroke="#2727bb" d="M679.5 564.3 679.5 562.0M684.9 559.5 684.9 561.9M782.4 560.7 782.5 557.1M784.0 556.5 783.9 560.2"/><path stroke="#2626ce" d="M679.5 562.0 679.5 557.3M684.9 554.8 684.9 559.5M782.5 557.1 782.7 553.4M784.1 552.9 784.0 556.5"/><path stroke="#2525e4" d="M679.5 557.3 679.5 554.9M684.9 552.4 684.9 554.8M782.7 553.4 782.9 549.8M784.3 549.2 784.1 552.9"/><path stroke="#2424fb" d="M679.5 554.9 679.6 550.2M685.0 547.7 684.9 552.4M782.9 549.8 783.1 546.1M784.6 545.6 784.3 549.2"/><path stroke="#2436ff" d="M679.6 550.2 679.6 547.8M685.0 543.0 685.0 547.7M783.1 546.1 783.4 542.5M784.8 541.9 784.6 545.6"/><path stroke="#2448ff" d="M679.6 547.8 679.7 543.1M685.1 540.7 685.0 543.0M783.4 542.5 783.7 540.3 784.3 539.2 784.6 539.3 784.8 539.9 784.8 541.9"/><path stroke="#245bff" d="M679.7 543.1 679.8 538.4M685.2 536.0 685.1 540.7"/><path stroke="#246dff" d="M679.8 538.4 679.8 536.1M685.2 533.6 685.2 536.0"/><path stroke="#247fff" d="M679.8 536.1 679.9 531.4M685.3 528.9 685.2 533.6"/><path stroke="#2491ff" d="M679.9 531.4 680.0 529.0M685.4 526.5 685.3 528.9"/><path stroke="#24a4ff" d="M680.0 529.0 680.1 524.3M685.5 521.8 685.4 526.5"/><path stroke="#24b6ff" d="M680.1 524.3 680.2 521.9M685.5 519.5 685.5 521.8"/><path stroke="#24c8ff" d="M680.2 521.9 680.3 517.2M685.7 514.8 685.5 519.5"/><path stroke="#24daff" d="M680.3 517.2 680.4 514.9M685.8 512.4 685.7 514.8"/><path stroke="#24edff" d="M680.4 514.9 680.6 510.2M685.9 507.7 685.8 512.4"/><path stroke="#24ffff" d="M680.6 510.2 680.7 507.8M686.0 505.4 685.9 507.7"/><path stroke="#36ffed" d="M680.7 507.8 680.9 503.1M686.2 500.6 686.0 505.4"/><path stroke="#48ffda" d="M680.9 503.1 681.0 500.8M686.3 498.3 686.2 500.6"/><path stroke="#5bffc8" d="M681.0 500.8 681.2 496.0M686.5 493.6 686.3 498.3"/><path stroke="#6dffb6" d="M681.2 496.0 681.3 493.7M686.6 491.2 686.5 493.6"/><path stroke="#7fffa4" d="M681.3 493.7 681.6 489.0M686.8 486.5 686.6 491.2"/><path stroke="#91ff91" d="M681.6 489.0 681.7 486.6M687.0 481.8 686.8 486.5"/><path stroke="#a4ff7f" d="M681.7 486.6 682.0 481.9M687.1 479.5 687.0 481.8"/><path stroke="#b6ff6d" d="M682.0 481.9 682.2 477.2M687.4 474.7 687.1 479.5"/><path stroke="#c8ff5b" d="M682.2 477.2 682.4 474.8M687.5 472.4 687.4 474.7"/><path stroke="#daff48" d="M682.4 474.8 682.7 470.1M687.8 467.7 687.5 472.4"/><path stroke="#edff36" d="M682.7 470.1 682.8 467.8M687.9 465.3 687.8 467.7"/><path stroke="#ffff24" d="M682.8 467.8 683.2 463.1M688.2 460.6 687.9 465.3"/><path stroke="#ffed24" d="M683.2 463.1 683.3 460.7M688.3 458.2 688.2 460.6"/><path stroke="#ffda24" d="M683.3 460.7 683.7 456.0M688.6 453.5 688.3 458.2"/><path stroke="#ffc824" d="M683.7 456.0 683.9 453.6M688.8 451.2 688.6 453.5"/><path stroke="#ffb624" d="M683.9 453.6 684.1 450.6 684.7 448.5M688.4 447.9 688.8 449.6 688.8 451.2"/><path stroke="#ffa424" d="M684.7 448.5 685.7 446.9 686.6 446.4 687.5 446.6 688.4 447.9"/></g>
<path stroke="#29298a" d="M788.2 571.0 838.7 570.5"/><path stroke="#292998" d="M422.7 581.7 434.7 581.5 441.0 581.0 443.4 580.6 445.2 580.0 446.7 579.2 448.2 578.1 448.8 580.3 449.4 581.0 450.6 581.2 453.9 580.9 457.2 580.5 459.6 579.8 461.4 578.9 462.9 577.6M480.6 576.9 482.7 577.6 485.1 577.8 487.5 577.5 489.6 576.8M610.2 572.7 613.2 573.2 617.7 573.5 625.1 573.7 646.8 573.4 672.3 572.5 734.5 571.4 788.2 571.0"/><path stroke="#2828a9" d="M462.9 577.6 463.8 576.4 464.7 574.5M476.7 573.3 477.6 574.7 478.5 575.7 480.6 576.9M489.6 576.8 491.1 575.5 492.0 573.9M502.6 572.7 505.3 573.9 509.2 574.9 513.4 575.4 517.6 575.5 520.6 575.4 524.2 574.6 527.5 573.4 530.2 572.0M602.1 569.4 604.9 571.2 608.0 572.2 610.2 572.7"/><path stroke="#2727bb" d="M464.7 574.5 465.6 572.1 465.9 572.7 466.2 572.5 466.8 570.3M475.2 568.8 475.8 571.0 476.7 573.3M492.0 573.9 492.9 570.4M499.6 568.9 500.8 571.2 502.6 572.7M530.2 572.0 532.6 570.3 534.4 568.4M559.0 567.4 562.4 568.4 565.2 568.7 567.4 568.7 571.0 568.2 574.7 566.9M599.2 565.8 600.4 567.6 602.1 569.4"/><path stroke="#2626ce" d="M466.8 570.3 467.1 568.3M474.6 565.5 475.2 568.8M492.9 570.4 493.5 566.3M498.7 565.4 499.6 568.9M534.4 568.4 535.6 566.7 536.8 564.5M554.2 563.5 556.3 565.7 559.0 567.4M574.7 566.9 577.3 565.3 579.3 563.6M597.8 562.2 599.2 565.8"/><path stroke="#2525e4" d="M467.1 568.3 467.4 565.7M474.0 560.8 474.6 565.5M493.5 566.3 493.8 563.8M497.8 560.5 498.7 565.4M536.8 564.5 538.0 561.7M552.1 560.0 553.0 561.7 554.2 563.5M579.3 563.6 582.0 560.0M596.9 558.5 597.8 562.2"/><path stroke="#2424fb" d="M467.4 565.7 467.7 562.3M473.7 557.8 474.0 560.8M493.8 563.8 494.4 559.6M497.2 558.3 497.8 560.5M538.0 561.7 539.2 557.7M550.9 556.7 552.1 560.0M582.0 560.0 584.2 555.8M596.5 555.4 596.9 558.5"/><path stroke="#2436ff" d="M467.7 562.3 468.0 558.2M473.4 554.4 473.7 557.8M494.4 559.6 494.7 558.4 495.3 557.6 496.6 557.7 497.2 558.3M539.2 557.7 539.8 555.0M549.7 552.0 550.9 556.7M584.2 555.8 585.6 552.2M596.2 551.7 596.5 555.4"/><path stroke="#2448ff" d="M468.0 558.2 468.3 553.4M473.1 550.6 473.4 554.4M539.8 555.0 540.4 551.7M549.1 548.7 549.7 552.0M585.6 552.2 586.7 548.6M596.1 548.1 596.2 551.7"/><path stroke="#245bff" d="M472.8 546.7 473.1 550.6M540.4 551.7 541.0 547.6M548.5 544.5 549.1 548.7M586.7 548.6 587.8 545.1M596.1 544.4 596.1 548.1"/><path stroke="#246dff" d="M468.3 553.4 468.6 548.4M472.5 543.0 472.8 546.7M541.0 547.6 541.3 545.2M548.2 542.0 548.5 544.5M587.8 545.1 588.7 541.5M596.2 540.8 596.1 544.4"/><path stroke="#247fff" d="M468.6 548.4 468.9 543.6M472.2 539.8 472.5 543.0M541.3 545.2 541.9 539.3M547.6 535.7 548.2 542.0M588.7 541.5 589.5 538.0M596.5 537.2 596.2 540.8"/><path stroke="#2491ff" d="M468.9 543.6 469.2 539.7M471.9 537.5 472.2 539.8M541.9 539.3 542.2 535.7M547.3 531.8 547.6 535.7M589.5 538.0 590.4 534.5M596.7 533.7 596.5 537.2"/><path stroke="#24a4ff" d="M469.2 539.7 469.5 537.0 469.8 535.6 470.1 535.0 471.0 534.9 471.3 535.2 471.9 537.5M547.0 527.3 547.3 531.8M590.4 534.5 591.3 530.5M597.1 530.1 596.7 533.7"/><path stroke="#24b6ff" d="M542.2 535.7 542.5 531.6M591.3 530.5 592.1 527.1M597.5 526.1 597.1 530.1"/><path stroke="#24c8ff" d="M542.5 531.6 542.8 527.0M546.7 522.1 547.0 527.3M592.1 527.1 593.1 523.2M598.0 522.6 597.5 526.1"/><path stroke="#24daff" d="M542.8 527.0 543.1 521.8M546.4 516.2 546.7 522.1M593.1 523.2 593.9 519.8M598.5 519.2 598.0 522.6"/><path stroke="#24edff" d="M593.9 519.8 594.8 516.0M599.1 515.3 598.5 519.2"/><path stroke="#24ffff" d="M543.1 521.8 543.4 516.1M546.1 509.8 546.4 516.2M594.8 516.0 595.6 512.8M599.7 512.0 599.1 515.3"/><path stroke="#36ffed" d="M595.6 512.8 596.6 509.1M600.4 508.3 599.7 512.0"/><path stroke="#48ffda" d="M543.4 516.1 543.7 509.9M545.8 503.2 546.1 509.8M596.6 509.1 597.6 505.4M601.2 504.6 600.4 508.3"/><path stroke="#5bffc8" d="M543.7 509.9 544.0 503.8M545.5 497.3 545.8 503.2M597.6 505.4 598.7 501.4M601.9 501.0 601.2 504.6"/><path stroke="#6dffb6" d="M598.7 501.4 599.7 497.9M602.8 497.4 601.9 501.0"/><path stroke="#7fffa4" d="M544.0 503.8 544.3 498.3M545.2 493.3 545.5 497.3M599.7 497.9 600.7 494.5M603.6 494.0 602.8 497.4"/><path stroke="#91ff91" d="M544.3 498.3 544.9 492.3 545.2 493.3M600.7 494.5 601.8 490.8M604.6 490.2 603.6 494.0"/><path stroke="#a4ff7f" d="M601.8 490.8 603.0 487.2M605.5 486.5 604.6 490.2"/><path stroke="#b6ff6d" d="M603.0 487.2 604.3 483.2M606.5 483.0 605.5 486.5"/><path stroke="#c8ff5b" d="M604.3 483.2 605.4 479.9M607.6 479.2 606.5 483.0"/><path stroke="#daff48" d="M605.4 479.9 606.7 476.3M608.7 475.5 607.6 479.2"/><path stroke="#edff36" d="M606.7 476.3 608.0 472.5M609.8 472.1 608.7 475.5"/><path stroke="#ffff24" d="M608.0 472.5 609.3 469.0M611.0 468.6 609.8 472.1"/><path stroke="#ffed24" d="M609.3 469.0 610.8 465.1M612.2 464.9 611.0 468.6"/><path stroke="#ffda24" d="M610.8 465.1 612.2 461.5M613.5 461.1 612.2 464.9"/><path stroke="#ffc824" d="M612.2 461.5 613.7 457.9M614.7 457.7 613.5 461.1"/><path stroke="#ffb624" d="M613.7 457.9 615.2 454.2M616.0 454.0 614.7 457.7"/><path stroke="#ffa424" d="M615.2 454.2 616.9 450.4M617.4 450.4 616.0 454.0"/><path stroke="#ff9124" d="M616.9 450.4 618.1 448.0 617.4 450.4"/><g stroke-width="1.6"><path stroke="#29298a" d="M784.9 570.5 784.9 571.2"/><path stroke="#292998" d="M686.0 570.2 686.0 572.7M783.1 571.2 783.2 567.7M784.9 567.0 784.9 570.5"/><path stroke="#2828a9" d="M680.1 572.8 680.1 567.8M686.0 565.1 686.0 570.2M783.2 567.7 783.2 564.3M785.0 563.5 784.9 567.0"/><path stroke="#2727bb" d="M680.1 567.8 680.1 565.2M686.1 562.6 686.0 565.1M783.2 564.3 783.3 560.8M785.1 560.1 785.0 563.5"/><path stroke="#2626ce" d="M680.1 565.2 680.2 560.2M686.1 557.5 686.1 562.6M783.3 560.8 783.5 557.3M785.2 556.6 785.1 560.1"/><path stroke="#2525e4" d="M680.2 560.2 680.2 557.6M686.1 555.0 686.1 557.5M783.5 557.3 783.7 553.8M785.4 553.1 785.2 556.6"/><path stroke="#2424fb" d="M680.2 557.6 680.2 555.1M686.1 552.4 686.1 555.0M783.7 553.8 783.9 549.6M785.7 548.9 785.4 553.1"/><path stroke="#2436ff" d="M680.2 555.1 680.3 550.0M686.2 547.4 686.1 552.4M783.9 549.6 784.2 546.1M786.0 545.4 785.7 548.9"/><path stroke="#2448ff" d="M680.3 550.0 680.3 547.5M686.2 544.8 686.2 547.4M784.2 546.1 784.5 542.6M786.3 541.9 786.0 545.4"/><path stroke="#245bff" d="M680.3 547.5 680.4 542.4M686.3 539.7 686.2 544.8M784.5 542.6 784.9 539.1M786.6 538.4 786.3 541.9"/><path stroke="#246dff" d="M680.4 542.4 680.5 539.9M686.4 537.2 686.3 539.7M784.9 539.1 785.5 535.2M786.9 535.1 786.6 538.4"/><path stroke="#247fff" d="M680.5 539.9 680.6 534.8M686.5 532.1 686.4 537.2M785.5 535.2 785.8 534.5 786.3 534.1 786.6 534.4 786.9 535.1"/><path stroke="#2491ff" d="M680.6 534.8 680.6 532.3M686.6 529.6 686.5 532.1"/><path stroke="#24a4ff" d="M680.6 532.3 680.7 529.7M686.6 527.1 686.6 529.6"/><path stroke="#24b6ff" d="M680.7 529.7 680.9 524.7M686.8 522.0 686.6 527.1"/><path stroke="#24c8ff" d="M680.9 524.7 680.9 522.1M686.8 519.5 686.8 522.0"/><path stroke="#24daff" d="M680.9 522.1 681.1 517.0M687.0 514.4 686.8 519.5"/><path stroke="#24edff" d="M681.1 517.0 681.2 514.5M687.1 511.8 687.0 514.4"/><path stroke="#24ffff" d="M681.2 514.5 681.3 512.0M687.2 509.3 687.1 511.8"/><path stroke="#36ffed" d="M681.3 512.0 681.5 506.9M687.4 504.2 687.2 509.3"/><path stroke="#48ffda" d="M681.5 506.9 681.6 504.4M687.5 501.7 687.4 504.2"/><path stroke="#5bffc8" d="M681.6 504.4 681.9 499.3M687.7 496.6 687.5 501.7"/><path stroke="#6dffb6" d="M681.9 499.3 682.0 496.7M687.8 494.1 687.7 496.6"/><path stroke="#7fffa4" d="M682.0 496.7 682.2 491.7M688.0 489.0 687.8 494.1"/><path stroke="#91ff91" d="M682.2 491.7 682.4 489.1M688.1 486.5 688.0 489.0"/><path stroke="#a4ff7f" d="M682.4 489.1 682.5 486.6M688.3 483.9 688.1 486.5"/><path stroke="#b6ff6d" d="M682.5 486.6 682.8 481.5M688.5 478.9 688.3 483.9"/><path stroke="#c8ff5b" d="M682.8 481.5 683.0 479.0M688.7 476.3 688.5 478.9"/><path stroke="#daff48" d="M683.0 479.0 683.3 473.9M689.0 471.2 688.7 476.3"/><path stroke="#edff36" d="M683.3 473.9 683.4 471.4M689.1 468.7 689.0 471.2"/><path stroke="#ffff24" d="M683.4 471.4 683.6 468.8M689.4 463.6 689.1 468.7"/><path stroke="#ffed24" d="M683.6 468.8 684.0 463.7M689.6 461.1 689.4 463.6"/><path stroke="#ffda24" d="M684.0 463.7 684.1 461.2M689.7 458.6 689.6 461.1"/><path stroke="#ffc824" d="M684.1 461.2 684.5 456.1M690.1 453.5 689.7 458.6"/><path stroke="#ffb624" d="M684.5 456.1 684.7 453.6M690.3 450.9 690.1 453.5"/><path stroke="#ffa424" d="M684.7 453.6 685.1 448.5M690.6 445.9 690.3 450.9"/><path stroke="#ff9124" d="M685.1 448.5 685.5 445.0M690.6 444.2 690.6 445.9"/><path stroke="#ff7f24" d="M685.5 445.0 685.8 443.7 686.4 442.4 687.3 441.5 688.2 441.1 688.9 441.2 689.7 441.7 690.3 442.8 690.6 444.2"/></g>
<path stroke="#29298a" d="M785.9 574.8 839.6 574.2"/><path stroke="#292998" d="M423.6 585.5 435.6 585.3 441.9 584.9 444.3 584.4 446.1 583.8 447.6 583.0 449.1 581.9 449.7 584.2 450.3 584.9 451.5 585.0 455.1 584.8 458.4 584.3 460.8 583.7 462.6 582.8 464.1 581.4M480.3 580.6 482.7 581.4 485.1 581.6 487.8 581.3 489.9 580.5M611.3 576.6 614.5 577.0 619.2 577.4 627.0 577.5 647.9 577.2 673.1 576.3 735.5 575.1 785.9 574.8"/><path stroke="#2828a9" d="M464.1 581.4 465.0 580.1 465.9 578.1M477.0 576.9 478.5 579.2 480.3 580.6M489.9 580.5 491.4 579.3 492.6 577.2M505.6 576.3 508.9 577.6 512.8 578.7 517.0 579.2 521.2 579.4 524.8 578.9 528.1 578.1 530.8 577.0 533.2 575.6M603.1 573.2 605.9 575.0 609.0 576.1 611.3 576.6"/><path stroke="#2727bb" d="M465.9 578.1 466.5 576.3 466.8 577.2 467.1 577.2 467.7 575.5M475.8 572.9 477.0 576.9M492.6 577.2 493.5 573.7M501.3 572.4 502.8 574.5 505.6 576.3M533.2 575.6 535.3 573.8 536.8 571.9M557.2 571.0 559.9 572.2 563.3 573.0 566.1 573.1 568.3 573.0 571.9 572.3 575.6 570.8M600.2 569.4 601.4 571.3 603.1 573.2"/><path stroke="#2626ce" d="M467.7 575.5 468.3 571.6M475.2 569.6 475.8 572.9M493.5 573.7 493.8 571.8M500.1 568.8 500.7 571.0 501.3 572.4M536.8 571.9 538.6 568.6M553.6 567.5 555.4 569.6 557.2 571.0M575.6 570.8 578.2 569.1 580.2 567.2M598.7 565.6 600.2 569.4"/><path stroke="#2525e4" d="M468.3 571.6 468.6 568.7M474.6 564.8 475.2 569.6M493.8 571.8 494.4 566.5M499.5 565.4 500.1 568.8M538.6 568.6 539.8 565.3M551.8 564.1 553.6 567.5M580.2 567.2 582.9 563.5M598.0 562.4 598.7 565.6"/><path stroke="#2424fb" d="M468.6 568.7 468.9 565.2M474.3 561.8 474.6 564.8M494.4 566.5 494.7 563.3M498.9 561.1 499.5 565.4M539.8 565.3 540.7 561.8M550.6 560.5 551.8 564.1M582.9 563.5 584.9 559.7M597.5 558.6 598.0 562.4"/><path stroke="#2436ff" d="M468.9 565.2 469.2 561.1M474.0 558.6 474.3 561.8M494.7 563.3 495.0 560.3M498.3 557.4 498.9 561.1M540.7 561.8 541.3 558.8M549.7 556.6 550.6 560.5M584.9 559.7 586.3 555.9M597.2 555.4 597.5 558.6"/><path stroke="#2448ff" d="M469.2 561.1 469.5 556.8M473.7 555.2 474.0 558.6M495.0 560.3 495.3 557.8 495.9 555.6 496.5 555.3 497.4 555.3 498.0 556.2 498.3 557.4M541.3 558.8 541.9 554.8M549.1 553.1 549.7 556.6M586.3 555.9 587.4 552.8M597.1 551.6 597.2 555.4"/><path stroke="#245bff" d="M469.5 556.8 469.8 552.6M473.4 552.1 473.7 555.2M541.9 554.8 542.2 552.4M548.5 548.6 549.1 553.1M587.4 552.8 588.5 549.1M597.2 547.8 597.1 551.6"/><path stroke="#246dff" d="M469.8 552.6 470.1 549.3M472.8 547.4 473.4 552.1M542.2 552.4 542.8 546.5M548.2 545.8 548.5 548.6M588.5 549.1 589.4 545.4M597.3 544.6 597.2 547.8"/><path stroke="#247fff" d="M470.1 549.3 470.4 547.0 470.7 545.8 471.0 545.3 471.9 545.2 472.2 545.4 472.8 547.4M542.8 546.5 543.1 542.9M547.9 542.5 548.2 545.8M589.4 545.4 590.4 541.7M597.5 540.9 597.3 544.6"/><path stroke="#2491ff" d="M547.6 538.8 547.9 542.5M590.4 541.7 591.2 538.1M597.8 537.2 597.5 540.9"/><path stroke="#24a4ff" d="M543.1 542.9 543.4 538.7M547.3 534.5 547.6 538.8M591.2 538.1 592.1 534.4M598.1 533.5 597.8 537.2"/><path stroke="#24b6ff" d="M543.4 538.7 543.7 533.9M547.0 529.5 547.3 534.5M592.1 534.4 592.9 530.9M598.5 529.8 598.1 533.5"/><path stroke="#24c8ff" d="M543.7 533.9 544.0 528.6M546.7 524.1 547.0 529.5M592.9 530.9 593.8 527.3M599.0 526.2 598.5 529.8"/><path stroke="#24daff" d="M593.8 527.3 594.8 523.2M599.6 522.6 599.0 526.2"/><path stroke="#24edff" d="M544.0 528.6 544.3 522.8M546.4 518.4 546.7 524.1M594.8 523.2 595.6 519.8M600.1 519.1 599.6 522.6"/><path stroke="#24ffff" d="M546.1 513.0 546.4 518.4M595.6 519.8 596.5 516.4M600.7 515.6 600.1 519.1"/><path stroke="#36ffed" d="M544.3 522.8 544.6 517.0M596.5 516.4 597.5 512.5M601.5 511.7 600.7 515.6"/><path stroke="#48ffda" d="M544.6 517.0 544.9 511.9M545.8 508.9 546.1 513.0M597.5 512.5 598.4 509.2M602.2 508.3 601.5 511.7"/><path stroke="#5bffc8" d="M544.9 511.9 545.2 508.3 545.5 507.2 545.8 508.9M598.4 509.2 599.5 505.4M603.0 504.5 602.2 508.3"/><path stroke="#6dffb6" d="M599.5 505.4 600.6 501.7M603.8 501.3 603.0 504.5"/><path stroke="#7fffa4" d="M600.6 501.7 601.6 498.1M604.6 497.6 603.8 501.3"/><path stroke="#91ff91" d="M601.6 498.1 602.7 494.6M605.6 494.0 604.6 497.6"/><path stroke="#a4ff7f" d="M602.7 494.6 603.9 490.7M606.6 490.1 605.6 494.0"/><path stroke="#b6ff6d" d="M603.9 490.7 605.2 486.9M607.6 486.7 606.6 490.1"/><path stroke="#c8ff5b" d="M605.2 486.9 606.4 483.3M608.6 483.0 607.6 486.7"/><path stroke="#daff48" d="M606.4 483.3 607.6 479.8M609.7 479.5 608.6 483.0"/><path stroke="#edff36" d="M607.6 479.8 609.0 476.0M610.9 475.7 609.7 479.5"/><path stroke="#ffff24" d="M609.0 476.0 610.3 472.5M612.1 472.1 610.9 475.7"/><path stroke="#ffed24" d="M610.3 472.5 611.7 468.7M613.4 468.3 612.1 472.1"/><path stroke="#ffda24" d="M611.7 468.7 613.0 465.3M614.6 464.8 613.4 468.3"/><path stroke="#ffc824" d="M613.0 465.3 614.6 461.5M615.8 461.3 614.6 464.8"/><path stroke="#ffb624" d="M614.6 461.5 616.1 457.8M617.2 457.6 615.8 461.3"/><path stroke="#ffa424" d="M616.1 457.8 617.6 454.2M618.6 454.0 617.2 457.6"/><path stroke="#ff9124" d="M617.6 454.2 619.3 450.6M619.9 450.4 618.6 454.0"/><path stroke="#ff7f24" d="M619.3 450.6 621.1 446.8M621.3 446.8 619.9 450.4"/><path stroke="#ff6d24" d="M621.1 446.8 621.3 446.5 621.3 446.8"/><g stroke-width="1.6"><path stroke="#29298a" d="M786.0 574.1 786.0 575.0"/><path stroke="#292998" d="M687.2 573.8 687.2 576.5M783.9 575.0 784.0 571.6M786.0 570.8 786.0 574.1"/><path stroke="#2828a9" d="M680.8 576.6 680.8 571.2M687.2 568.4 687.2 573.8M784.0 571.6 784.0 568.3M786.1 567.4 786.0 570.8"/><path stroke="#2727bb" d="M680.8 571.2 680.8 568.5M687.2 565.7 687.2 568.4M784.0 568.3 784.1 564.1M786.2 563.2 786.1 567.4"/><path stroke="#2626ce" d="M680.8 568.5 680.8 565.8M687.3 563.0 687.2 565.7M784.1 564.1 784.3 560.7M786.3 559.8 786.2 563.2"/><path stroke="#2525e4" d="M680.8 565.8 680.9 560.4M687.3 557.6 687.3 563.0M784.3 560.7 784.4 557.3M786.5 556.5 786.3 559.8"/><path stroke="#2424fb" d="M680.9 560.4 680.9 557.7M687.3 554.9 687.3 557.6M784.4 557.3 784.7 554.0M786.7 553.1 786.5 556.5"/><path stroke="#2436ff" d="M680.9 557.7 680.9 555.0M687.4 552.2 687.3 554.9M784.7 554.0 785.0 549.8M787.1 548.9 786.7 553.1"/><path stroke="#2448ff" d="M680.9 555.0 681.0 549.6M687.4 546.7 687.4 552.2M785.0 549.8 785.3 546.4M787.4 545.6 787.1 548.9"/><path stroke="#245bff" d="M681.0 549.6 681.1 546.9M687.5 544.0 687.4 546.7M785.3 546.4 785.6 543.1M787.7 542.2 787.4 545.6"/><path stroke="#246dff" d="M681.1 546.9 681.1 544.2M687.5 541.3 687.5 544.0M785.6 543.1 786.1 538.9M788.2 538.0 787.7 542.2"/><path stroke="#247fff" d="M681.1 544.2 681.2 538.8M687.7 535.9 687.5 541.3M786.1 538.9 786.5 535.5M788.6 534.6 788.2 538.0"/><path stroke="#2491ff" d="M681.2 538.8 681.3 536.1M687.7 533.2 687.7 535.9M786.5 535.5 786.9 532.8 787.2 531.7M788.8 531.4 788.8 532.5 788.6 534.6"/><path stroke="#24a4ff" d="M681.3 536.1 681.4 533.3M687.8 530.5 687.7 533.2M787.2 531.7 787.6 531.1 788.1 530.8 788.4 530.9 788.8 531.4"/><path stroke="#24b6ff" d="M681.4 533.3 681.5 527.9M687.9 525.1 687.8 530.5"/><path stroke="#24c8ff" d="M681.5 527.9 681.6 525.2M688.0 522.4 687.9 525.1"/><path stroke="#24daff" d="M681.6 525.2 681.7 522.5M688.1 519.7 688.0 522.4"/><path stroke="#24edff" d="M681.7 522.5 681.9 517.1M688.3 514.3 688.1 519.7"/><path stroke="#24ffff" d="M681.9 517.1 682.0 514.4M688.4 511.5 688.3 514.3"/><path stroke="#36ffed" d="M682.0 514.4 682.1 511.7M688.5 508.8 688.4 511.5"/><path stroke="#48ffda" d="M682.1 511.7 682.3 506.3M688.7 503.4 688.5 508.8"/><path stroke="#5bffc8" d="M682.3 506.3 682.5 503.6M688.8 500.7 688.7 503.4"/><path stroke="#6dffb6" d="M682.5 503.6 682.6 500.8M689.0 498.0 688.8 500.7"/><path stroke="#7fffa4" d="M682.6 500.8 682.9 495.4M689.2 492.6 689.0 498.0"/><path stroke="#91ff91" d="M682.9 495.4 683.0 492.7M689.3 489.9 689.2 492.6"/><path stroke="#a4ff7f" d="M683.0 492.7 683.1 490.0M689.5 487.2 689.3 489.9"/><path stroke="#b6ff6d" d="M683.1 490.0 683.4 484.6M689.8 481.7 689.5 487.2"/><path stroke="#c8ff5b" d="M683.4 484.6 683.6 481.9M689.9 479.0 689.8 481.7"/><path stroke="#daff48" d="M683.6 481.9 683.8 479.2M690.1 476.3 689.9 479.0"/><path stroke="#edff36" d="M683.8 479.2 684.1 473.8M690.4 470.9 690.1 476.3"/><path stroke="#ffff24" d="M684.1 473.8 684.3 471.0M690.6 468.2 690.4 470.9"/><path stroke="#ffed24" d="M684.3 471.0 684.5 468.3M690.7 465.5 690.6 468.2"/><path stroke="#ffda24" d="M684.5 468.3 684.9 462.9M691.1 460.1 690.7 465.5"/><path stroke="#ffc824" d="M684.9 462.9 685.1 460.2M691.3 457.4 691.1 460.1"/><path stroke="#ffb624" d="M685.1 460.2 685.3 457.5M691.5 454.7 691.3 457.4"/><path stroke="#ffa424" d="M685.3 457.5 685.7 452.1M691.8 449.2 691.5 454.7"/><path stroke="#ff9124" d="M685.7 452.1 685.9 449.4M692.0 446.5 691.8 449.2"/><path stroke="#ff7f24" d="M685.9 449.4 686.1 446.7M692.2 443.8 692.0 446.5"/><path stroke="#ff6d24" d="M686.1 446.7 686.6 441.2M692.5 440.8 692.2 443.8"/><path stroke="#ff5b24" d="M686.6 441.2 687.0 439.3 687.8 437.7M691.7 437.4 692.3 438.9 692.5 440.8"/><path stroke="#ff4824" d="M687.8 437.7 688.9 436.6 689.9 436.3 690.9 436.6 691.7 437.4"/></g>
<path stroke="#29298a" d="M783.7 578.6 840.4 577.9"/><path stroke="#292998" d="M424.4 589.3 436.5 589.1 442.8 588.6 445.2 588.2 447.0 587.6 448.5 586.9 450.0 585.8 450.6 588.0 451.2 588.7 452.4 588.9 456.6 588.6 459.6 588.1 462.0 587.5 463.8 586.6 465.3 585.2M480.0 584.4 482.1 585.2 485.1 585.6 487.8 585.2 490.2 584.3M521.5 583.2 523.9 583.1M610.1 579.9 615.6 580.9 620.5 581.2 628.7 581.3 648.9 581.0 674.1 580.1 736.3 578.9 783.7 578.6"/><path stroke="#2828a9" d="M465.3 585.2 466.2 583.9 467.1 581.9M467.4 581.0 467.7 581.9 468.0 582.2 468.3 582.0M477.0 580.2 478.2 582.7 479.1 583.7 480.0 584.4M490.2 584.3 492.0 582.7 493.2 580.6M508.5 579.8 511.5 581.1 514.6 582.1 517.9 582.8 521.5 583.2M523.9 583.1 527.5 582.7 530.5 581.9 533.2 580.8 535.6 579.3M604.1 577.0 606.9 578.8 610.1 579.9"/><path stroke="#2727bb" d="M467.1 581.9 467.4 581.0M468.3 582.0 469.2 578.2M476.1 576.6 477.0 580.2M493.2 580.6 494.1 577.1M503.7 576.3 505.8 578.2 508.5 579.8M535.6 579.3 537.1 577.9 538.6 575.9M555.7 574.7 557.5 575.9 559.3 576.7 560.8 577.1 564.2 577.5 566.9 577.5 571.1 576.8 574.2 575.8 576.5 574.7M601.1 573.1 602.3 575.0 604.1 577.0"/><path stroke="#2626ce" d="M469.2 578.2 469.5 576.0M475.5 572.9 476.1 576.6M494.1 577.1 494.4 575.3M501.9 572.9 502.8 575.0 503.7 576.3M538.6 575.9 540.4 572.1M552.7 571.0 554.2 573.2 555.7 574.7M576.5 574.7 578.4 573.6 581.1 571.0M599.8 569.8 601.1 573.1"/><path stroke="#2525e4" d="M469.5 576.0 469.8 573.3M474.9 568.1 475.5 572.9M494.4 575.3 495.0 569.9M501.0 569.1 501.9 572.9M540.4 572.1 541.3 569.2M551.2 567.6 552.7 571.0M581.1 571.0 583.9 567.0M598.9 565.9 599.8 569.8"/><path stroke="#2424fb" d="M469.8 573.3 470.1 570.1M474.6 565.5 474.9 568.1M495.0 569.9 495.3 566.2M500.4 564.9 501.0 569.1M541.3 569.2 542.2 565.0M550.0 563.1 551.2 567.6M583.9 567.0 585.5 563.8M598.5 562.6 598.9 565.9"/><path stroke="#2436ff" d="M470.1 570.1 470.7 563.6M474.0 561.0 474.6 565.5M500.1 562.2 500.4 564.9M542.2 565.0 542.8 561.1M549.4 560.0 550.0 563.1M585.5 563.8 587.1 559.9M598.2 558.6 598.5 562.6"/><path stroke="#2448ff" d="M470.7 563.6 471.0 560.9M473.7 559.4 474.0 561.0M495.3 566.2 495.6 562.2M499.5 556.8 500.1 562.2M542.8 561.1 543.1 558.7M548.8 555.8 549.4 560.0M587.1 559.9 588.4 556.0M598.1 555.3 598.2 558.6"/><path stroke="#245bff" d="M471.0 560.9 471.3 559.2 471.6 558.2 471.9 557.9 472.8 557.8 473.1 557.9 473.7 559.4M495.6 562.2 496.2 555.3M499.2 554.7 499.5 556.8M543.1 558.7 543.4 555.8M548.5 553.3 548.8 555.8M588.4 556.0 589.3 552.8M598.2 551.4 598.1 555.3"/><path stroke="#246dff" d="M496.2 555.3 496.5 553.3 496.8 552.4 497.1 552.1 498.0 552.0 498.6 552.5 499.2 554.7M543.4 555.8 543.7 552.5M547.9 546.9 548.5 553.3M589.3 552.8 590.3 548.9M598.3 548.1 598.2 551.4"/><path stroke="#247fff" d="M543.7 552.5 544.0 548.7M547.6 542.9 547.9 546.9M590.3 548.9 591.3 545.1M598.5 544.2 598.3 548.1"/><path stroke="#2491ff" d="M544.0 548.7 544.3 544.3M547.3 538.5 547.6 542.9M591.3 545.1 592.0 541.9M598.7 541.0 598.5 544.2"/><path stroke="#24a4ff" d="M544.3 544.3 544.6 539.3M592.0 541.9 592.9 538.2M599.1 537.2 598.7 541.0"/><path stroke="#24b6ff" d="M547.0 533.7 547.3 538.5M592.9 538.2 593.8 534.5M599.6 533.4 599.1 537.2"/><path stroke="#24c8ff" d="M544.6 539.3 544.9 534.0M546.7 528.9 547.0 533.7M593.8 534.5 594.7 530.8M600.0 530.3 599.6 533.4"/><path stroke="#24daff" d="M544.9 534.0 545.2 528.7M546.4 524.7 546.7 528.9M594.7 530.8 595.6 527.1M600.5 526.6 600.0 530.3"/><path stroke="#24edff" d="M595.6 527.1 596.5 523.5M601.1 522.9 600.5 526.6"/><path stroke="#24ffff" d="M545.2 528.7 545.8 521.9 546.1 522.1 546.4 524.7M596.5 523.5 597.4 520.0M601.8 519.3 601.1 522.9"/><path stroke="#36ffed" d="M597.4 520.0 598.3 516.5M602.4 515.7 601.8 519.3"/><path stroke="#48ffda" d="M598.3 516.5 599.4 512.5M603.2 512.2 602.4 515.7"/><path stroke="#5bffc8" d="M599.4 512.5 600.4 509.1M604.0 508.2 603.2 512.2"/><path stroke="#6dffb6" d="M600.4 509.1 601.5 505.2M604.8 504.8 604.0 508.2"/><path stroke="#7fffa4" d="M601.5 505.2 602.5 502.0M605.8 501.0 604.8 504.8"/><path stroke="#91ff91" d="M602.5 502.0 603.6 498.3M606.6 497.7 605.8 501.0"/><path stroke="#a4ff7f" d="M603.6 498.3 604.7 494.7M607.6 494.1 606.6 497.7"/><path stroke="#b6ff6d" d="M604.7 494.7 606.1 490.6M608.7 490.0 607.6 494.1"/><path stroke="#c8ff5b" d="M606.1 490.6 607.2 487.2M609.7 486.6 608.7 490.0"/><path stroke="#daff48" d="M607.2 487.2 608.5 483.5M610.9 482.8 609.7 486.6"/><path stroke="#edff36" d="M608.5 483.5 609.8 479.9M611.9 479.6 610.9 482.8"/><path stroke="#ffff24" d="M609.8 479.9 611.2 476.0M613.2 475.7 611.9 479.6"/><path stroke="#ffed24" d="M611.2 476.0 612.5 472.8M614.4 472.0 613.2 475.7"/><path stroke="#ffda24" d="M612.5 472.8 614.0 468.9M615.6 468.5 614.4 472.0"/><path stroke="#ffc824" d="M614.0 468.9 615.4 465.3M616.9 464.9 615.6 468.5"/><path stroke="#ffb624" d="M615.4 465.3 616.9 461.7M618.3 461.2 616.9 464.9"/><path stroke="#ffa424" d="M616.9 461.7 618.5 457.9M619.6 457.7 618.3 461.2"/><path stroke="#ff9124" d="M618.5 457.9 620.1 454.3M621.0 454.1 619.6 457.7"/><path stroke="#ff7f24" d="M620.1 454.3 621.8 450.6M622.5 450.4 621.0 454.1"/><path stroke="#ff6d24" d="M621.8 450.6 623.6 446.9M623.9 446.8 622.5 450.4"/><path stroke="#ff5b24" d="M623.6 446.9 624.2 445.8 623.9 446.8"/><g stroke-width="1.6"><path stroke="#29298a" d="M787.1 577.7 787.1 578.7"/><path stroke="#292998" d="M688.4 577.4 688.4 580.3M784.7 578.7 784.7 575.8M787.1 574.8 787.1 577.7"/><path stroke="#2828a9" d="M681.4 580.5 681.4 574.7M688.4 571.7 688.4 577.4M784.7 575.8 784.8 572.0M787.2 571.0 787.1 574.8"/><path stroke="#2727bb" d="M681.4 574.7 681.4 571.9M688.4 568.8 688.4 571.7M784.8 572.0 784.9 568.1M787.3 567.1 787.2 571.0"/><path stroke="#2626ce" d="M681.4 571.9 681.5 569.0M688.4 566.0 688.4 568.8M784.9 568.1 785.1 564.3M787.5 563.3 787.3 567.1"/><path stroke="#2525e4" d="M681.5 569.0 681.5 566.1M688.5 563.1 688.4 566.0M785.1 564.3 785.2 561.4M787.6 560.4 787.5 563.3"/><path stroke="#2424fb" d="M681.5 566.1 681.5 560.4M688.5 557.4 688.5 563.1M785.2 561.4 785.4 557.5M787.9 556.5 787.6 560.4"/><path stroke="#2436ff" d="M681.5 560.4 681.6 557.5M688.6 554.5 688.5 557.4M785.4 557.5 785.7 553.7M788.1 552.7 787.9 556.5"/><path stroke="#2448ff" d="M681.6 557.5 681.6 554.7M688.6 551.6 688.6 554.5M785.7 553.7 786.1 549.8M788.5 548.8 788.1 552.7"/><path stroke="#245bff" d="M681.6 554.7 681.7 551.8M688.7 548.8 688.6 551.6M786.1 549.8 786.3 546.9M788.8 545.9 788.5 548.8"/><path stroke="#246dff" d="M681.7 551.8 681.8 546.0M688.8 543.0 688.7 548.8M786.3 546.9 786.8 543.1M789.2 542.1 788.8 545.9"/><path stroke="#247fff" d="M681.8 546.0 681.8 543.2M688.8 540.1 688.8 543.0M786.8 543.1 787.2 539.2M789.7 538.2 789.2 542.1"/><path stroke="#2491ff" d="M681.8 543.2 681.9 540.3M688.9 537.3 688.8 540.1M787.2 539.2 787.7 535.4M790.2 534.4 789.7 538.2"/><path stroke="#24a4ff" d="M681.9 540.3 682.0 537.4M689.0 534.4 688.9 537.3M787.7 535.4 788.2 532.5M790.6 531.5 790.2 534.4"/><path stroke="#24b6ff" d="M682.0 537.4 682.2 531.7M689.1 528.7 689.0 534.4M788.2 532.5 788.7 529.7 789.1 528.8 789.7 528.4 790.3 528.4 790.7 529.1 790.8 530.1 790.6 531.5"/><path stroke="#24c8ff" d="M682.2 531.7 682.2 528.8M689.2 525.8 689.1 528.7"/><path stroke="#24daff" d="M682.2 528.8 682.3 526.0M689.3 522.9 689.2 525.8"/><path stroke="#24edff" d="M682.3 526.0 682.4 523.1M689.4 520.1 689.3 522.9"/><path stroke="#24ffff" d="M682.4 523.1 682.7 517.4M689.6 514.3 689.4 520.1"/><path stroke="#36ffed" d="M682.7 517.4 682.8 514.5M689.7 511.5 689.6 514.3"/><path stroke="#48ffda" d="M682.8 514.5 682.9 511.6M689.8 508.6 689.7 511.5"/><path stroke="#5bffc8" d="M682.9 511.6 683.0 508.7M690.0 505.7 689.8 508.6"/><path stroke="#6dffb6" d="M683.0 508.7 683.3 503.0M690.2 500.0 690.0 505.7"/><path stroke="#7fffa4" d="M683.3 503.0 683.4 500.1M690.4 497.1 690.2 500.0"/><path stroke="#91ff91" d="M683.4 500.1 683.6 497.3M690.5 494.2 690.4 497.1"/><path stroke="#a4ff7f" d="M683.6 497.3 683.7 494.4M690.6 491.4 690.5 494.2"/><path stroke="#b6ff6d" d="M683.7 494.4 684.0 488.6M690.9 485.6 690.6 491.4"/><path stroke="#c8ff5b" d="M684.0 488.6 684.2 485.8M691.1 482.7 690.9 485.6"/><path stroke="#daff48" d="M684.2 485.8 684.4 482.9M691.3 479.9 691.1 482.7"/><path stroke="#edff36" d="M684.4 482.9 684.5 480.0M691.4 477.0 691.3 479.9"/><path stroke="#ffff24" d="M684.5 480.0 684.9 474.3M691.8 471.3 691.4 477.0"/><path stroke="#ffed24" d="M684.9 474.3 685.1 471.4M692.0 468.4 691.8 471.3"/><path stroke="#ffda24" d="M685.1 471.4 685.3 468.5M692.2 465.5 692.0 468.4"/><path stroke="#ffc824" d="M685.3 468.5 685.5 465.7M692.3 462.6 692.2 465.5"/><path stroke="#ffb624" d="M685.5 465.7 685.9 459.9M692.7 456.9 692.3 462.6"/><path stroke="#ffa424" d="M685.9 459.9 686.1 457.1M693.0 454.0 692.7 456.9"/><path stroke="#ff9124" d="M686.1 457.1 686.4 454.2M693.2 451.2 693.0 454.0"/><path stroke="#ff7f24" d="M686.4 454.2 686.6 451.3M693.6 445.4 693.2 451.2"/><path stroke="#ff6d24" d="M686.6 451.3 687.1 445.6M693.8 442.5 693.6 445.4"/><path stroke="#ff5b24" d="M687.1 445.6 687.3 442.7M694.1 439.7 693.8 442.5"/><path stroke="#ff4824" d="M687.3 442.7 687.6 439.8M694.3 436.8 694.1 439.7"/><path stroke="#ff3624" d="M687.6 439.8 687.9 436.3 688.7 434.1M693.8 433.7 694.2 435.2 694.3 436.8"/><path stroke="#ff2424" d="M688.7 434.1 689.9 432.6 690.8 432.1 691.5 432.0 692.7 432.4 693.8 433.7"/></g>
<path stroke="#29298a" d="M452.7 592.6 454.2 592.6M781.6 582.3 841.3 581.6"/><path stroke="#292998" d="M425.3 593.0 437.3 592.9 443.7 592.4 446.1 592.0 447.9 591.4 449.4 590.6 450.9 589.5 451.5 591.8 452.1 592.5 452.7 592.6M454.2 592.6 459.3 592.2 462.6 591.5 465.0 590.4 466.8 588.7M479.4 588.0 480.3 588.6 481.5 589.1 484.8 589.5 488.1 589.1 490.8 587.9M522.7 586.8 525.4 586.9 528.1 586.7M611.1 583.8 616.7 584.8 621.7 585.1 630.2 585.1 649.9 584.8 675.1 583.9 737.2 582.6 781.6 582.3"/><path stroke="#2828a9" d="M466.8 588.7 468.3 585.8 468.9 587.1 469.2 587.1 469.8 585.8M477.3 584.4 478.2 586.5 479.4 588.0M490.8 587.9 492.3 586.6 493.5 584.7M511.5 583.6 514.2 584.8 516.9 585.7 522.7 586.8M528.1 586.7 531.1 586.2 533.8 585.4 535.9 584.4 537.7 583.1M561.7 581.8 565.1 582.0M604.3 580.1 606.7 582.0 609.3 583.2 611.1 583.8"/><path stroke="#2727bb" d="M469.8 585.8 470.4 583.0M476.4 580.6 477.3 584.4M493.5 584.7 494.1 583.1 494.7 580.7M506.4 580.1 508.8 582.0 511.5 583.6M537.7 583.1 539.2 581.4 540.4 579.5M554.5 578.5 556.0 579.8 557.5 580.6 559.6 581.4 561.7 581.8M565.1 582.0 567.8 581.8 572.0 580.9 575.1 579.9 578.4 578.1M602.0 576.8 603.2 578.8 604.3 580.1"/><path stroke="#2626ce" d="M470.4 583.0 471.0 578.7M475.8 577.1 476.4 580.6M494.7 580.7 495.0 579.0M503.7 576.4 504.9 578.4 506.4 580.1M540.4 579.5 541.9 575.8M552.1 575.0 553.3 577.1 554.5 578.5M578.4 578.1 580.0 576.8 582.0 574.7M600.7 573.5 602.0 576.8"/><path stroke="#2525e4" d="M471.0 578.7 471.3 576.2M475.2 573.5 475.8 577.1M495.0 579.0 495.6 573.9M502.5 572.7 503.7 576.4M541.9 575.8 542.8 572.1M550.6 570.9 552.1 575.0M582.0 574.7 584.8 570.7M599.9 569.4 600.7 573.5"/><path stroke="#2424fb" d="M471.3 576.2 472.2 570.7M474.3 570.1 475.2 573.5M495.6 573.9 495.9 570.2M501.9 569.3 502.5 572.7M542.8 572.1 543.4 568.7M549.7 567.0 550.6 570.9M584.8 570.7 586.5 567.3M599.4 566.0 599.9 569.4"/><path stroke="#2436ff" d="M472.2 570.7 472.8 569.7 473.7 569.6 474.3 570.1M501.3 564.3 501.9 569.3M543.4 568.7 543.7 566.5M549.1 563.3 549.7 567.0M586.5 567.3 588.0 563.3M599.2 562.6 599.4 566.0"/><path stroke="#2448ff" d="M495.9 570.2 496.2 565.8M501.0 561.1 501.3 564.3M543.7 566.5 544.0 564.0M548.5 558.3 549.1 563.3M588.0 563.3 589.1 560.0M599.1 559.3 599.2 562.6"/><path stroke="#245bff" d="M496.2 565.8 496.5 561.0M500.7 557.7 501.0 561.1M544.0 564.0 544.6 557.5M548.2 555.3 548.5 558.3M589.1 560.0 590.3 556.0M599.1 555.2 599.1 559.3"/><path stroke="#246dff" d="M496.5 561.0 496.8 556.3M500.4 554.5 500.7 557.7M547.9 551.8 548.2 555.3M590.3 556.0 591.1 552.7M599.2 551.9 599.1 555.2"/><path stroke="#247fff" d="M496.8 556.3 497.1 552.6M499.8 550.2 500.4 554.5M544.6 557.5 544.9 553.4M547.6 547.9 547.9 551.8M591.1 552.7 592.1 548.8M599.5 547.9 599.2 551.9"/><path stroke="#2491ff" d="M497.1 552.6 497.4 550.3 497.7 549.2 498.0 548.8 499.2 548.9 499.8 550.2M544.9 553.4 545.2 548.8M547.3 543.9 547.6 547.9M592.1 548.8 592.9 545.5M599.7 544.6 599.5 547.9"/><path stroke="#24a4ff" d="M545.2 548.8 545.5 543.9M547.0 539.9 547.3 543.9M592.9 545.5 593.9 541.7M600.1 540.7 599.7 544.6"/><path stroke="#24b6ff" d="M545.5 543.9 545.8 539.4M546.7 536.9 547.0 539.9M593.9 541.7 594.8 537.8M600.5 537.4 600.1 540.7"/><path stroke="#24c8ff" d="M545.8 539.4 546.1 536.3M546.4 535.5 546.7 536.9M594.8 537.8 595.5 534.7M601.0 533.5 600.5 537.4"/><path stroke="#24daff" d="M546.1 536.3 546.4 535.5M595.5 534.7 596.5 530.9M601.5 530.3 601.0 533.5"/><path stroke="#24edff" d="M596.5 530.9 597.4 527.2M602.1 526.6 601.5 530.3"/><path stroke="#24ffff" d="M597.4 527.2 598.3 523.5M602.8 522.8 602.1 526.6"/><path stroke="#36ffed" d="M598.3 523.5 599.3 519.9M603.5 519.2 602.8 522.8"/><path stroke="#48ffda" d="M599.3 519.9 600.3 516.4M604.2 515.5 603.5 519.2"/><path stroke="#5bffc8" d="M600.3 516.4 601.3 512.9M605.0 512.0 604.2 515.5"/><path stroke="#6dffb6" d="M601.3 512.9 602.4 508.8M605.8 508.5 605.0 512.0"/><path stroke="#7fffa4" d="M602.4 508.8 603.4 505.5M606.7 505.0 605.8 508.5"/><path stroke="#91ff91" d="M603.4 505.5 604.6 501.6M607.7 501.1 606.7 505.0"/><path stroke="#a4ff7f" d="M604.6 501.6 605.6 498.4M608.7 497.3 607.7 501.1"/><path stroke="#b6ff6d" d="M605.6 498.4 606.8 494.7M609.6 494.1 608.7 497.3"/><path stroke="#c8ff5b" d="M606.8 494.7 608.2 490.7M610.7 490.5 609.6 494.1"/><path stroke="#daff48" d="M608.2 490.7 609.4 487.2M611.9 486.5 610.7 490.5"/><path stroke="#edff36" d="M609.4 487.2 610.8 483.4M612.9 483.2 611.9 486.5"/><path stroke="#ffff24" d="M610.8 483.4 612.1 479.8M614.1 479.5 612.9 483.2"/><path stroke="#ffed24" d="M612.1 479.8 613.4 476.3M615.3 475.9 614.1 479.5"/><path stroke="#ffda24" d="M613.4 476.3 614.9 472.6M616.7 472.2 615.3 475.9"/><path stroke="#ffc824" d="M614.9 472.6 616.3 469.1M617.9 468.6 616.7 472.2"/><path stroke="#ffb624" d="M616.3 469.1 617.9 465.1M619.3 465.0 617.9 468.6"/><path stroke="#ffa424" d="M617.9 465.1 619.5 461.5M620.7 461.3 619.3 465.0"/><path stroke="#ff9124" d="M619.5 461.5 621.0 458.0M622.1 457.7 620.7 461.3"/><path stroke="#ff7f24" d="M621.0 458.0 622.6 454.4M623.5 454.1 622.1 457.7"/><path stroke="#ff6d24" d="M622.6 454.4 624.4 450.5M625.0 450.5 623.5 454.1"/><path stroke="#ff5b24" d="M624.4 450.5 626.2 446.9M626.5 446.8 625.0 450.5"/><path stroke="#ff4824" d="M626.2 446.9 626.7 446.1 626.5 446.8"/><g stroke-width="1.6"><path stroke="#29298a" d="M788.2 581.4 788.2 582.4"/><path stroke="#292998" d="M689.6 581.1 689.5 584.1M785.5 582.5 785.5 579.3M788.2 578.1 788.2 581.4"/><path stroke="#2828a9" d="M682.1 584.3 682.1 581.2M689.6 575.0 689.6 581.1M785.5 579.3 785.6 576.0M788.3 574.9 788.2 578.1"/><path stroke="#2727bb" d="M682.1 581.2 682.1 575.2M689.6 572.0 689.6 575.0M785.6 576.0 785.7 571.7M788.4 570.6 788.3 574.9"/><path stroke="#2626ce" d="M682.1 575.2 682.1 572.2M689.6 569.0 689.6 572.0M785.7 571.7 785.8 568.5M788.5 567.4 788.4 570.6"/><path stroke="#2525e4" d="M682.1 572.2 682.1 569.2M689.6 566.0 689.6 569.0M785.8 568.5 786.0 564.2M788.8 563.1 788.5 567.4"/><path stroke="#2424fb" d="M682.1 569.2 682.2 566.1M689.7 562.9 689.6 566.0M786.0 564.2 786.2 561.0M789.0 559.9 788.8 563.1"/><path stroke="#2436ff" d="M682.2 566.1 682.2 563.1M689.7 559.9 689.7 562.9M786.2 561.0 786.5 557.8M789.2 556.7 789.0 559.9"/><path stroke="#2448ff" d="M682.2 563.1 682.3 557.1M689.8 553.9 689.7 559.9M786.5 557.8 786.8 553.5M789.6 552.4 789.2 556.7"/><path stroke="#245bff" d="M682.3 557.1 682.3 554.0M689.9 550.8 689.8 553.9M786.8 553.5 787.1 550.2M789.9 549.1 789.6 552.4"/><path stroke="#246dff" d="M682.3 554.0 682.4 551.0M689.9 547.8 689.9 550.8M787.1 550.2 787.5 547.0M790.2 545.9 789.9 549.1"/><path stroke="#247fff" d="M682.4 551.0 682.5 548.0M690.0 544.8 689.9 547.8M787.5 547.0 788.0 542.7M790.7 541.6 790.2 545.9"/><path stroke="#2491ff" d="M682.5 548.0 682.5 545.0M690.1 541.8 690.0 544.8M788.0 542.7 788.4 539.5M791.2 538.4 790.7 541.6"/><path stroke="#24a4ff" d="M682.5 545.0 682.7 538.9M690.2 535.7 690.1 541.8M788.4 539.5 788.8 536.3M791.6 535.2 791.2 538.4"/><path stroke="#24b6ff" d="M682.7 538.9 682.8 535.9M690.3 532.7 690.2 535.7M788.8 536.3 789.5 532.0M792.3 530.9 791.6 535.2"/><path stroke="#24c8ff" d="M682.8 535.9 682.9 532.9M690.4 529.7 690.3 532.7M789.5 532.0 790.2 528.1M792.7 528.0 792.3 530.9"/><path stroke="#24daff" d="M682.9 532.9 683.0 529.9M690.5 526.7 690.4 529.7M790.2 528.1 790.8 527.0 791.7 526.5 792.4 526.9 792.7 528.0"/><path stroke="#24edff" d="M683.0 529.9 683.1 526.8M690.6 523.6 690.5 526.7"/><path stroke="#24ffff" d="M683.1 526.8 683.3 520.8M690.8 517.6 690.6 523.6"/><path stroke="#36ffed" d="M683.3 520.8 683.4 517.8M690.9 514.6 690.8 517.6"/><path stroke="#48ffda" d="M683.4 517.8 683.5 514.7M691.1 511.5 690.9 514.6"/><path stroke="#5bffc8" d="M683.5 514.7 683.7 511.7M691.2 508.5 691.1 511.5"/><path stroke="#6dffb6" d="M683.7 511.7 683.8 508.7M691.3 505.5 691.2 508.5"/><path stroke="#7fffa4" d="M683.8 508.7 684.1 502.6M691.6 499.4 691.3 505.5"/><path stroke="#91ff91" d="M684.1 502.6 684.2 499.6M691.8 496.4 691.6 499.4"/><path stroke="#a4ff7f" d="M684.2 499.6 684.4 496.6M691.9 493.4 691.8 496.4"/><path stroke="#b6ff6d" d="M684.4 496.6 684.6 493.6M692.1 490.4 691.9 493.4"/><path stroke="#c8ff5b" d="M684.6 493.6 684.7 490.5M692.2 487.3 692.1 490.4"/><path stroke="#daff48" d="M684.7 490.5 684.9 487.5M692.4 484.3 692.2 487.3"/><path stroke="#edff36" d="M684.9 487.5 685.3 481.5M692.8 478.3 692.4 484.3"/><path stroke="#ffff24" d="M685.3 481.5 685.5 478.4M693.0 475.2 692.8 478.3"/><path stroke="#ffed24" d="M685.5 478.4 685.7 475.4M693.1 472.2 693.0 475.2"/><path stroke="#ffda24" d="M685.7 475.4 685.9 472.4M693.3 469.2 693.1 472.2"/><path stroke="#ffc824" d="M685.9 472.4 686.1 469.4M693.5 466.2 693.3 469.2"/><path stroke="#ffb624" d="M686.1 469.4 686.5 463.3M694.0 460.1 693.5 466.2"/><path stroke="#ffa424" d="M686.5 463.3 686.7 460.3M694.2 457.1 694.0 460.1"/><path stroke="#ff9124" d="M686.7 460.3 687.0 457.3M694.4 454.1 694.2 457.1"/><path stroke="#ff7f24" d="M687.0 457.3 687.2 454.2M694.6 451.0 694.4 454.1"/><path stroke="#ff6d24" d="M687.2 454.2 687.5 451.2M694.9 448.0 694.6 451.0"/><path stroke="#ff5b24" d="M687.5 451.2 688.0 445.1M695.4 441.9 694.9 448.0"/><path stroke="#ff4824" d="M688.0 445.1 688.2 442.1M695.6 438.9 695.4 441.9"/><path stroke="#ff3624" d="M688.2 442.1 688.5 439.1M695.9 435.9 695.6 438.9"/><path stroke="#ff2424" d="M688.5 439.1 688.8 436.1M696.1 432.9 695.9 435.9"/><path stroke="#ed2424" d="M688.8 436.1 689.1 432.4 689.8 430.5M695.7 430.1 696.1 431.6 696.1 432.9"/><path stroke="#da2424" d="M689.8 430.5 690.5 429.5 691.3 428.7 692.3 428.2 693.0 428.1 693.7 428.2 694.6 428.6 695.2 429.1 695.7 430.1"/></g>
<path stroke="#29298a" d="M453.0 596.2 454.2 596.4 457.8 596.2M779.5 586.1 842.2 585.4"/><path stroke="#292998" d="M426.2 596.8 438.2 596.6 444.5 596.2 446.9 595.7 448.7 595.2 450.2 594.4 451.8 593.3 452.4 595.5 453.0 596.2M457.8 596.2 461.7 595.8 464.4 595.1 466.5 594.0 468.0 592.5M479.4 591.9 480.3 592.6 481.5 593.2 483.0 593.4 484.8 593.5 488.1 593.0 489.6 592.5 491.1 591.7M523.8 590.5 528.0 590.7 532.0 590.3M612.0 587.7 617.8 588.6 622.8 589.0 631.5 589.0 650.8 588.6 676.0 587.7 738.1 586.4 779.5 586.1"/><path stroke="#2828a9" d="M468.0 592.5 469.2 590.3 469.8 591.6 470.1 591.9 470.4 591.7 471.3 589.2M477.3 587.4 478.2 590.1 479.4 591.9M491.1 591.7 492.9 590.2 494.1 588.3M513.6 587.2 518.4 589.2 523.8 590.5M532.0 590.3 534.4 589.8 536.5 589.0 538.3 587.9 539.8 586.6M558.7 585.8 562.0 586.4 566.0 586.4 571.0 585.6M605.2 583.9 607.6 585.9 610.2 587.1 612.0 587.7"/><path stroke="#2727bb" d="M471.3 589.2 471.9 586.1M476.4 583.6 477.3 587.4M494.1 588.3 495.3 584.6M508.5 583.6 510.9 585.5 513.6 587.2M539.8 586.6 541.0 585.1 541.9 583.4M553.3 582.2 554.5 583.5 555.7 584.5 557.2 585.3 558.7 585.8M571.0 585.6 572.9 585.1 576.0 583.9 579.3 582.0M602.9 580.6 604.1 582.6 605.2 583.9"/><path stroke="#2626ce" d="M471.9 586.1 472.5 582.7M475.8 581.2 476.4 583.6M495.3 584.6 495.9 581.1M505.5 580.0 506.7 581.7 508.5 583.6M541.9 583.4 543.1 580.0M551.2 578.2 552.1 580.3 553.3 582.2M579.3 582.0 581.7 580.0 583.5 577.9M601.7 577.2 602.9 580.6"/><path stroke="#2525e4" d="M472.5 582.7 473.1 580.3 473.7 579.6 474.9 579.6 475.5 580.4 475.8 581.2M495.9 581.1 496.2 578.6M504.0 576.5 504.6 578.2 505.5 580.0M543.1 580.0 544.0 575.8M550.3 575.2 551.2 578.2M583.5 577.9 585.7 574.4M600.8 573.1 601.7 577.2"/><path stroke="#2424fb" d="M496.2 578.6 496.5 575.2M503.1 572.2 504.0 576.5M544.0 575.8 544.3 573.9M549.4 570.8 550.3 575.2M585.7 574.4 587.4 571.0M600.4 569.6 600.8 573.1"/><path stroke="#2436ff" d="M496.5 575.2 496.8 571.0M502.5 567.4 503.1 572.2M544.3 573.9 544.9 569.0M548.8 566.5 549.4 570.8M587.4 571.0 588.7 567.6M600.1 566.2 600.4 569.6"/><path stroke="#2448ff" d="M502.2 564.2 502.5 567.4M544.9 569.0 545.2 565.8M548.5 563.8 548.8 566.5M588.7 567.6 590.1 563.5M600.0 562.7 600.1 566.2"/><path stroke="#245bff" d="M496.8 571.0 497.1 566.0M501.9 560.5 502.2 564.2M545.2 565.8 545.5 562.1M548.2 560.9 548.5 563.8M590.1 563.5 591.0 560.1M600.1 559.3 600.0 562.7"/><path stroke="#246dff" d="M497.1 566.0 497.4 560.4M501.6 556.7 501.9 560.5M545.5 562.1 545.8 558.0M547.6 554.2 548.2 560.9M591.0 560.1 592.1 556.1M600.2 555.2 600.1 559.3"/><path stroke="#247fff" d="M501.3 553.1 501.6 556.7M547.3 551.2 547.6 554.2M592.1 556.1 593.0 552.7M600.4 551.8 600.2 555.2"/><path stroke="#2491ff" d="M497.4 560.4 497.7 555.1M501.0 550.1 501.3 553.1M545.8 558.0 546.4 550.4M547.0 549.2 547.3 551.2M593.0 552.7 593.8 549.4M600.7 548.5 600.4 551.8"/><path stroke="#24a4ff" d="M497.7 555.1 498.3 548.2M500.4 547.0 501.0 550.1M546.4 550.4 546.7 548.7 547.0 549.2M593.8 549.4 594.7 545.5M601.1 544.4 600.7 548.5"/><path stroke="#24b6ff" d="M498.3 548.2 498.6 546.9 498.9 546.5 499.8 546.4 500.4 547.0M594.7 545.5 595.7 541.6M601.5 541.1 601.1 544.4"/><path stroke="#24c8ff" d="M595.7 541.6 596.5 538.3M602.0 537.2 601.5 541.1"/><path stroke="#24daff" d="M596.5 538.3 597.4 534.5M602.5 533.9 602.0 537.2"/><path stroke="#24edff" d="M597.4 534.5 598.4 530.7M603.1 530.1 602.5 533.9"/><path stroke="#24ffff" d="M598.4 530.7 599.2 527.6M603.8 526.2 603.1 530.1"/><path stroke="#36ffed" d="M599.2 527.6 600.2 523.9M604.4 523.1 603.8 526.2"/><path stroke="#48ffda" d="M600.2 523.9 601.1 520.2M605.2 519.4 604.4 523.1"/><path stroke="#5bffc8" d="M601.1 520.2 602.2 516.6M606.0 515.7 605.2 519.4"/><path stroke="#6dffb6" d="M602.2 516.6 603.4 512.5M606.8 512.2 606.0 515.7"/><path stroke="#7fffa4" d="M603.4 512.5 604.4 509.1M607.7 508.6 606.8 512.2"/><path stroke="#91ff91" d="M604.4 509.1 605.4 505.7M608.7 504.6 607.7 508.6"/><path stroke="#a4ff7f" d="M605.4 505.7 606.7 501.8M609.6 501.3 608.7 504.6"/><path stroke="#b6ff6d" d="M606.7 501.8 607.9 498.0M610.7 497.4 609.6 501.3"/><path stroke="#c8ff5b" d="M607.9 498.0 609.1 494.4M611.8 493.7 610.7 497.4"/><path stroke="#daff48" d="M609.1 494.4 610.4 490.8M612.9 490.1 611.8 493.7"/><path stroke="#edff36" d="M610.4 490.8 611.6 487.4M614.0 486.6 612.9 490.1"/><path stroke="#ffff24" d="M611.6 487.4 613.0 483.6M615.1 483.3 614.0 486.6"/><path stroke="#ffed24" d="M613.0 483.6 614.4 479.9M616.4 479.6 615.1 483.3"/><path stroke="#ffda24" d="M614.4 479.9 615.7 476.5M617.7 475.6 616.4 479.6"/><path stroke="#ffc824" d="M615.7 476.5 617.2 472.8M618.9 472.3 617.7 475.6"/><path stroke="#ffb624" d="M617.2 472.8 618.8 468.9M620.4 468.5 618.9 472.3"/><path stroke="#ffa424" d="M618.8 468.9 620.3 465.4M621.8 464.9 620.4 468.5"/><path stroke="#ff9124" d="M620.3 465.4 622.0 461.5M623.2 461.3 621.8 464.9"/><path stroke="#ff7f24" d="M622.0 461.5 623.5 458.1M624.7 457.6 623.2 461.3"/><path stroke="#ff6d24" d="M623.5 458.1 625.3 454.2M626.1 454.0 624.7 457.6"/><path stroke="#ff5b24" d="M625.3 454.2 627.0 450.6M627.6 450.4 626.1 454.0"/><path stroke="#ff4824" d="M627.0 450.6 628.8 447.4 627.6 450.4"/><g stroke-width="1.6"><path stroke="#29298a" d="M789.3 585.0 789.3 586.2"/><path stroke="#292998" d="M690.7 584.7 690.7 587.9M786.3 586.2 786.3 582.7M789.3 581.5 789.3 585.0"/><path stroke="#2828a9" d="M682.7 588.1 682.7 584.9M690.7 581.5 690.7 584.7M786.3 582.7 786.4 579.2M789.4 578.0 789.3 581.5"/><path stroke="#2727bb" d="M682.7 584.9 682.7 578.6M690.8 575.2 690.7 581.5M786.4 579.2 786.5 575.6M789.5 574.4 789.4 578.0"/><path stroke="#2626ce" d="M682.7 578.6 682.8 575.4M690.8 572.0 690.8 575.2M786.5 575.6 786.6 572.1M789.7 570.9 789.5 574.4"/><path stroke="#2525e4" d="M682.8 575.4 682.8 572.2M690.8 568.9 690.8 572.0M786.6 572.1 786.8 568.6M789.8 567.4 789.7 570.9"/><path stroke="#2424fb" d="M682.8 572.2 682.8 569.1M690.9 565.7 690.8 568.9M786.8 568.6 787.0 565.1M790.0 563.8 789.8 567.4"/><path stroke="#2436ff" d="M682.8 569.1 682.9 565.9M690.9 562.5 690.9 565.7M787.0 565.1 787.2 561.5M790.3 560.3 790.0 563.8"/><path stroke="#2448ff" d="M682.9 565.9 682.9 562.7M691.0 559.3 690.9 562.5M787.2 561.5 787.5 558.0M790.6 556.8 790.3 560.3"/><path stroke="#245bff" d="M682.9 562.7 683.0 559.5M691.0 556.2 691.0 559.3M787.5 558.0 787.8 554.5M790.9 553.3 790.6 556.8"/><path stroke="#246dff" d="M683.0 559.5 683.1 553.2M691.1 549.8 691.0 556.2M787.8 554.5 788.2 550.9M791.3 549.7 790.9 553.3"/><path stroke="#247fff" d="M683.1 553.2 683.1 550.0M691.2 546.7 691.1 549.8M788.2 550.9 788.7 546.2M791.8 545.0 791.3 549.7"/><path stroke="#2491ff" d="M683.1 550.0 683.2 546.9M691.3 543.5 691.2 546.7M788.7 546.2 789.2 542.7M792.3 541.5 791.8 545.0"/><path stroke="#24a4ff" d="M683.2 546.9 683.3 543.7M691.4 540.3 691.3 543.5M789.2 542.7 789.7 539.2M792.8 538.0 792.3 541.5"/><path stroke="#24b6ff" d="M683.3 543.7 683.4 540.5M691.5 537.2 691.4 540.3M789.7 539.2 790.2 535.6M793.3 534.4 792.8 538.0"/><path stroke="#24c8ff" d="M683.4 540.5 683.5 537.3M691.6 534.0 691.5 537.2M790.2 535.6 790.7 532.1M793.9 530.9 793.3 534.4"/><path stroke="#24daff" d="M683.5 537.3 683.6 534.2M691.7 530.8 691.6 534.0M790.7 532.1 791.3 528.6M794.5 527.4 793.9 530.9"/><path stroke="#24edff" d="M683.6 534.2 683.7 531.0M691.8 527.6 691.7 530.8M791.3 528.6 791.9 526.4 792.4 525.7 793.0 525.3 793.6 525.2 794.2 525.6 794.5 526.4 794.5 527.4"/><path stroke="#24ffff" d="M683.7 531.0 683.9 524.7M692.0 521.3 691.8 527.6"/><path stroke="#36ffed" d="M683.9 524.7 684.0 521.5M692.1 518.1 692.0 521.3"/><path stroke="#48ffda" d="M684.0 521.5 684.2 518.3M692.2 515.0 692.1 518.1"/><path stroke="#5bffc8" d="M684.2 518.3 684.3 515.1M692.4 511.8 692.2 515.0"/><path stroke="#6dffb6" d="M684.3 515.1 684.4 512.0M692.5 508.6 692.4 511.8"/><path stroke="#7fffa4" d="M684.4 512.0 684.6 508.8M692.7 505.4 692.5 508.6"/><path stroke="#91ff91" d="M684.6 508.8 684.7 505.6M692.8 502.3 692.7 505.4"/><path stroke="#a4ff7f" d="M684.7 505.6 685.1 499.3M693.2 495.9 692.8 502.3"/><path stroke="#b6ff6d" d="M685.1 499.3 685.2 496.1M693.3 492.7 693.2 495.9"/><path stroke="#c8ff5b" d="M685.2 496.1 685.4 492.9M693.5 489.6 693.3 492.7"/><path stroke="#daff48" d="M685.4 492.9 685.6 489.8M693.7 486.4 693.5 489.6"/><path stroke="#edff36" d="M685.6 489.8 685.8 486.6M693.9 483.2 693.7 486.4"/><path stroke="#ffff24" d="M685.8 486.6 686.0 483.4M694.1 480.1 693.9 483.2"/><path stroke="#ffed24" d="M686.0 483.4 686.2 480.2M694.3 476.9 694.1 480.1"/><path stroke="#ffda24" d="M686.2 480.2 686.6 473.9M694.7 470.5 694.3 476.9"/><path stroke="#ffc824" d="M686.6 473.9 686.8 470.7M694.9 467.4 694.7 470.5"/><path stroke="#ffb624" d="M686.8 470.7 687.1 467.6M695.1 464.2 694.9 467.4"/><path stroke="#ffa424" d="M687.1 467.6 687.3 464.4M695.4 461.0 695.1 464.2"/><path stroke="#ff9124" d="M687.3 464.4 687.5 461.2M695.6 457.8 695.4 461.0"/><path stroke="#ff7f24" d="M687.5 461.2 687.8 458.0M695.8 454.7 695.6 457.8"/><path stroke="#ff6d24" d="M687.8 458.0 688.0 454.9M696.1 451.5 695.8 454.7"/><path stroke="#ff5b24" d="M688.0 454.9 688.3 451.7M696.3 448.3 696.1 451.5"/><path stroke="#ff4824" d="M688.3 451.7 688.8 445.3M696.8 442.0 696.3 448.3"/><path stroke="#ff3624" d="M688.8 445.3 689.1 442.2M697.1 438.8 696.8 442.0"/><path stroke="#ff2424" d="M689.1 442.2 689.4 439.0M697.4 435.6 697.1 438.8"/><path stroke="#ed2424" d="M689.4 439.0 689.6 435.8M697.7 432.4 697.4 435.6"/><path stroke="#da2424" d="M689.6 435.8 689.9 432.6M698.0 429.3 697.7 432.4"/><path stroke="#c82424" d="M689.9 432.6 690.3 429.1 690.9 427.2M697.5 426.5 697.9 428.0 698.0 429.3"/><path stroke="#b62424" d="M690.9 427.2 692.2 425.4 693.2 424.8 694.3 424.5 695.1 424.5 696.1 424.9 696.9 425.5 697.5 426.5"/></g>
<path stroke="#29298a" d="M453.8 600.0 455.0 600.2 460.2 599.9M777.9 589.9 843.1 589.1"/><path stroke="#292998" d="M427.1 600.5 439.1 600.4 445.4 599.9 447.8 599.5 449.6 598.9 451.1 598.2 452.6 597.1 453.2 599.3 453.8 600.0M460.2 599.9 463.5 599.5 465.9 598.8 467.7 597.8 469.2 596.2M470.4 595.0 471.0 596.5 471.3 596.6 471.6 596.3M479.1 595.5 480.0 596.5 480.9 597.0 482.1 597.4 483.9 597.5 486.3 597.4 488.4 597.0 490.2 596.4 492.0 595.4M524.4 594.2 527.1 594.5 530.1 594.6 533.1 594.4 535.5 593.9M611.1 591.0 615.4 592.0 618.8 592.5 623.9 592.8 632.7 592.8 652.4 592.4 676.7 591.4 738.9 590.2 777.9 589.9"/><path stroke="#2828a9" d="M469.2 596.2 470.1 594.7 470.4 595.0M471.6 596.3 472.2 595.1 472.8 593.1M477.3 591.3 478.2 593.8 479.1 595.5M492.0 595.4 493.8 593.6 495.0 591.6M515.1 590.8 519.6 592.9 524.4 594.2M535.5 593.9 537.3 593.4 539.1 592.5 540.3 591.7 541.6 590.4M556.0 589.6 557.5 590.2 559.3 590.7 563.5 591.0 566.9 590.8 569.6 590.3 573.8 589.2M606.1 587.8 608.6 589.7 611.1 591.0"/><path stroke="#2727bb" d="M472.8 593.1 473.7 589.9 474.0 589.2 474.6 588.7 475.5 588.7 476.1 588.9 476.7 589.7 477.3 591.3M495.0 591.6 495.9 588.9M510.3 587.4 512.7 589.3 515.1 590.8M541.6 590.4 542.5 589.1 543.4 587.2M552.1 585.7 553.9 588.1 556.0 589.6M573.8 589.2 578.1 587.3 581.0 585.4M603.8 584.4 605.0 586.4 606.1 587.8"/><path stroke="#2626ce" d="M495.9 588.9 496.5 585.9M507.0 583.6 508.5 585.6 510.3 587.4M543.4 587.2 544.3 584.2M550.6 582.0 552.1 585.7M581.0 585.4 582.5 583.9 584.4 581.8M602.6 581.0 603.8 584.4"/><path stroke="#2525e4" d="M496.5 585.9 497.1 581.0M505.2 579.8 506.1 582.0 507.0 583.6M544.3 584.2 545.2 579.2M549.7 578.2 550.6 582.0M584.4 581.8 586.6 578.3M601.7 576.8 602.6 581.0"/><path stroke="#2424fb" d="M497.1 581.0 497.4 577.4M504.3 576.0 505.2 579.8M545.2 579.2 545.5 576.9M549.1 574.5 549.7 578.2M586.6 578.3 588.3 574.8M601.3 573.3 601.7 576.8"/><path stroke="#2436ff" d="M503.7 571.7 504.3 576.0M545.5 576.9 545.8 574.1M548.5 569.8 549.1 574.5M588.3 574.8 589.9 570.6M601.0 569.9 601.3 573.3"/><path stroke="#2448ff" d="M497.4 577.4 497.7 572.8M503.4 568.9 503.7 571.7M545.8 574.1 546.1 570.9M548.2 567.2 548.5 569.8M589.9 570.6 591.0 567.2M601.0 566.4 601.0 569.9"/><path stroke="#245bff" d="M497.7 572.8 498.0 567.3M503.1 565.4 503.4 568.9M546.1 570.9 546.4 567.4M547.9 564.6 548.2 567.2M591.0 567.2 592.0 563.7M601.0 562.9 601.0 566.4"/><path stroke="#246dff" d="M502.8 561.4 503.1 565.4M546.4 567.4 547.0 561.9 547.3 561.4 547.9 564.6M592.0 563.7 592.9 560.3M601.1 558.8 601.0 562.9"/><path stroke="#247fff" d="M498.0 567.3 498.3 561.2M502.5 557.2 502.8 561.4M592.9 560.3 593.9 556.3M601.4 555.3 601.1 558.8"/><path stroke="#2491ff" d="M502.2 553.3 502.5 557.2M593.9 556.3 594.7 552.9M601.6 551.9 601.4 555.3"/><path stroke="#24a4ff" d="M498.3 561.2 498.6 555.4M501.9 550.1 502.2 553.3M594.7 552.9 595.7 548.9M602.0 548.6 601.6 551.9"/><path stroke="#24b6ff" d="M498.6 555.4 498.9 550.9M501.6 547.9 501.9 550.1M595.7 548.9 596.5 545.6M602.5 544.5 602.0 548.6"/><path stroke="#24c8ff" d="M498.9 550.9 499.2 548.0 499.5 546.6 499.8 546.1 500.7 546.0 501.0 546.2 501.6 547.9M596.5 545.6 597.5 541.7M602.9 541.2 602.5 544.5"/><path stroke="#24daff" d="M597.5 541.7 598.3 538.5M603.5 537.2 602.9 541.2"/><path stroke="#24edff" d="M598.3 538.5 599.2 534.6M604.0 534.0 603.5 537.2"/><path stroke="#24ffff" d="M599.2 534.6 600.2 530.8M604.7 530.1 604.0 534.0"/><path stroke="#36ffed" d="M600.2 530.8 601.2 527.1M605.5 526.3 604.7 530.1"/><path stroke="#48ffda" d="M601.2 527.1 602.1 524.0M606.1 523.2 605.5 526.3"/><path stroke="#5bffc8" d="M602.1 524.0 603.1 520.4M606.9 519.5 606.1 523.2"/><path stroke="#6dffb6" d="M603.1 520.4 604.3 516.2M607.8 515.8 606.9 519.5"/><path stroke="#7fffa4" d="M604.3 516.2 605.3 512.7M608.7 512.2 607.8 515.8"/><path stroke="#91ff91" d="M605.3 512.7 606.4 509.2M609.6 508.7 608.7 512.2"/><path stroke="#a4ff7f" d="M606.4 509.2 607.7 505.3M610.6 504.7 609.6 508.7"/><path stroke="#b6ff6d" d="M607.7 505.3 608.7 502.0M611.6 501.4 610.6 504.7"/><path stroke="#c8ff5b" d="M608.7 502.0 610.0 498.3M612.7 497.6 611.6 501.4"/><path stroke="#daff48" d="M610.0 498.3 611.3 494.6M613.8 493.9 612.7 497.6"/><path stroke="#edff36" d="M611.3 494.6 612.5 491.1M615.0 490.4 613.8 493.9"/><path stroke="#ffff24" d="M612.5 491.1 614.0 487.2M616.1 486.9 615.0 490.4"/><path stroke="#ffed24" d="M614.0 487.2 615.4 483.5M617.4 483.2 616.1 486.9"/><path stroke="#ffda24" d="M615.4 483.5 616.8 480.0M618.6 479.6 617.4 483.2"/><path stroke="#ffc824" d="M616.8 480.0 618.3 476.2M620.0 475.7 618.6 479.6"/><path stroke="#ffb624" d="M618.3 476.2 619.7 472.6M621.4 472.1 620.0 475.7"/><path stroke="#ffa424" d="M619.7 472.6 621.3 468.9M622.8 468.4 621.4 472.1"/><path stroke="#ff9124" d="M621.3 468.9 622.9 465.2M624.1 465.0 622.8 468.4"/><path stroke="#ff7f24" d="M622.9 465.2 624.5 461.6M625.6 461.4 624.1 465.0"/><path stroke="#ff6d24" d="M624.5 461.6 626.2 458.0M627.1 457.7 625.6 461.4"/><path stroke="#ff5b24" d="M626.2 458.0 628.0 454.2M628.6 454.2 627.1 457.7"/><path stroke="#ff4824" d="M628.0 454.2 629.8 450.6M630.1 450.5 628.6 454.2"/><path stroke="#ff3624" d="M629.8 450.6 630.4 449.7 630.1 450.5"/><g stroke-width="1.6"><path stroke="#29298a" d="M790.4 588.6 790.4 589.9"/><path stroke="#292998" d="M691.9 588.3 691.9 591.6M787.1 590.0 787.1 586.1M790.5 584.8 790.4 588.6"/><path stroke="#2828a9" d="M683.4 591.9 683.4 588.5M691.9 585.0 691.9 588.3M787.1 586.1 787.2 583.6M790.5 581.0 790.5 584.8"/><path stroke="#2727bb" d="M683.4 588.5 683.4 585.2M691.9 581.7 691.9 585.0M787.2 583.6 787.3 579.8M790.6 578.5 790.5 581.0"/><path stroke="#2626ce" d="M683.4 585.2 683.4 578.6M692.0 575.1 691.9 581.7M787.3 579.8 787.4 576.0M790.8 574.7 790.6 578.5"/><path stroke="#2525e4" d="M683.4 578.6 683.4 575.3M692.0 571.8 692.0 575.1M787.4 576.0 787.6 572.2M790.9 570.9 790.8 574.7"/><path stroke="#2424fb" d="M683.4 575.3 683.5 572.0M692.0 568.5 692.0 571.8M787.6 572.2 787.8 568.4M791.2 567.1 790.9 570.9"/><path stroke="#2436ff" d="M683.5 572.0 683.5 568.7M692.1 565.2 692.0 568.5M787.8 568.4 788.0 564.6M791.4 563.2 791.2 567.1"/><path stroke="#2448ff" d="M683.5 568.7 683.6 565.4M692.1 561.8 692.1 565.2M788.0 564.6 788.2 562.0M791.8 559.4 791.4 563.2"/><path stroke="#245bff" d="M683.6 565.4 683.6 562.1M692.2 558.5 692.1 561.8M788.2 562.0 788.6 558.2M792.0 556.9 791.8 559.4"/><path stroke="#246dff" d="M683.6 562.1 683.7 558.7M692.3 555.2 692.2 558.5M788.6 558.2 789.0 554.4M792.4 553.1 792.0 556.9"/><path stroke="#247fff" d="M683.7 558.7 683.7 555.4M692.3 551.9 692.3 555.2M789.0 554.4 789.4 550.6M792.8 549.3 792.4 553.1"/><path stroke="#2491ff" d="M683.7 555.4 683.8 552.1M692.4 548.6 692.3 551.9M789.4 550.6 789.8 546.8M793.3 545.5 792.8 549.3"/><path stroke="#24a4ff" d="M683.8 552.1 683.9 548.8M692.5 545.3 692.4 548.6M789.8 546.8 790.3 543.0M793.8 541.6 793.3 545.5"/><path stroke="#24b6ff" d="M683.9 548.8 684.0 545.5M692.6 542.0 692.5 545.3M790.3 543.0 790.9 539.1M794.4 537.8 793.8 541.6"/><path stroke="#24c8ff" d="M684.0 545.5 684.2 538.9M692.8 535.3 692.6 542.0M790.9 539.1 791.3 536.6M794.8 535.3 794.4 537.8"/><path stroke="#24daff" d="M684.2 538.9 684.3 535.6M692.9 532.0 692.8 535.3M791.3 536.6 791.9 532.8M795.4 531.5 794.8 535.3"/><path stroke="#24edff" d="M684.3 535.6 684.4 532.2M693.0 528.7 692.9 532.0M791.9 532.8 792.5 529.0M796.0 527.7 795.4 531.5"/><path stroke="#24ffff" d="M684.4 532.2 684.5 528.9M693.2 525.4 693.0 528.7M792.5 529.0 793.1 526.0 794.0 524.6M795.8 524.5 796.3 525.6 796.0 527.7"/><path stroke="#36ffed" d="M684.5 528.9 684.6 525.6M693.3 522.1 693.2 525.4M794.0 524.6 795.1 524.2 795.8 524.5"/><path stroke="#48ffda" d="M684.6 525.6 684.8 522.3M693.4 518.8 693.3 522.1"/><path stroke="#5bffc8" d="M684.8 522.3 684.9 519.0M693.6 515.5 693.4 518.8"/><path stroke="#6dffb6" d="M684.9 519.0 685.1 515.7M693.7 512.2 693.6 515.5"/><path stroke="#7fffa4" d="M685.1 515.7 685.2 512.4M693.9 508.8 693.7 512.2"/><path stroke="#91ff91" d="M685.2 512.4 685.4 509.1M694.0 505.5 693.9 508.8"/><path stroke="#a4ff7f" d="M685.4 509.1 685.5 505.7M694.2 502.2 694.0 505.5"/><path stroke="#b6ff6d" d="M685.5 505.7 685.7 502.4M694.4 498.9 694.2 502.2"/><path stroke="#c8ff5b" d="M685.7 502.4 686.1 495.8M694.7 492.3 694.4 498.9"/><path stroke="#daff48" d="M686.1 495.8 686.3 492.5M694.9 489.0 694.7 492.3"/><path stroke="#edff36" d="M686.3 492.5 686.5 489.2M695.1 485.6 694.9 489.0"/><path stroke="#ffff24" d="M686.5 489.2 686.7 485.8M695.3 482.3 695.1 485.6"/><path stroke="#ffed24" d="M686.7 485.8 686.9 482.5M695.5 479.0 695.3 482.3"/><path stroke="#ffda24" d="M686.9 482.5 687.1 479.2M695.8 475.7 695.5 479.0"/><path stroke="#ffc824" d="M687.1 479.2 687.3 475.9M696.0 472.4 695.8 475.7"/><path stroke="#ffb624" d="M687.3 475.9 687.5 472.6M696.2 469.1 696.0 472.4"/><path stroke="#ffa424" d="M687.5 472.6 687.8 469.3M696.5 465.7 696.2 469.1"/><path stroke="#ff9124" d="M687.8 469.3 688.0 466.0M696.7 462.4 696.5 465.7"/><path stroke="#ff7f24" d="M688.0 466.0 688.3 462.6M696.9 459.1 696.7 462.4"/><path stroke="#ff6d24" d="M688.3 462.6 688.8 456.0M697.5 452.5 696.9 459.1"/><path stroke="#ff5b24" d="M688.8 456.0 689.0 452.7M697.7 449.2 697.5 452.5"/><path stroke="#ff4824" d="M689.0 452.7 689.3 449.4M698.0 445.8 697.7 449.2"/><path stroke="#ff3624" d="M689.3 449.4 689.6 446.1M698.3 442.5 698.0 445.8"/><path stroke="#ff2424" d="M689.6 446.1 689.9 442.7M698.6 439.2 698.3 442.5"/><path stroke="#ed2424" d="M689.9 442.7 690.2 439.4M698.9 435.9 698.6 439.2"/><path stroke="#da2424" d="M690.2 439.4 690.5 436.1M699.2 432.6 698.9 435.9"/><path stroke="#c82424" d="M690.5 436.1 690.8 432.8M699.5 429.2 699.2 432.6"/><path stroke="#b62424" d="M690.8 432.8 691.1 429.5M699.8 425.9 699.5 429.2"/><path stroke="#a42424" d="M691.1 429.5 691.5 425.5 692.3 423.6M699.3 423.1 699.7 424.3 699.8 425.9"/><path stroke="#912424" d="M692.3 423.6 693.8 421.9 694.9 421.4 696.1 421.2 696.9 421.3 697.9 421.7 698.6 422.2 699.3 423.1"/></g>
<path stroke="#29298a" d="M454.4 603.5 455.0 603.9 455.9 604.0 462.5 603.5M776.5 593.6 844.0 592.8"/><path stroke="#292998" d="M428.0 604.3 440.0 604.1 446.3 603.7 448.7 603.2 450.5 602.7 452.0 601.9 453.5 600.8 454.1 603.1 454.4 603.5M462.5 603.5 465.2 603.1 467.3 602.4 469.2 601.3 470.4 600.0M471.3 599.0 471.6 600.3 472.2 601.2 472.8 601.0 473.4 600.1M478.8 599.3 479.7 600.4 480.6 601.1 481.8 601.5 483.6 601.7 486.9 601.4 489.0 600.9 491.1 600.2 492.9 599.1M524.4 597.9 528.0 598.5 532.2 598.6 536.1 598.3 539.1 597.5M612.0 594.8 616.3 595.9 619.7 596.4 624.8 596.7 633.6 596.6 653.5 596.2 677.5 595.2 739.9 593.9 776.5 593.6"/><path stroke="#2828a9" d="M470.4 600.0 471.0 599.0 471.3 599.0M473.4 600.1 474.6 597.5 474.9 597.2 475.5 596.9 476.7 596.8 477.3 597.1 478.8 599.3M492.9 599.1 494.4 597.7 495.6 595.9M516.0 594.5 519.9 596.4 524.4 597.9M539.1 597.5 541.5 596.2 543.3 594.2M553.9 593.3 555.4 594.3 557.5 595.0 559.9 595.5 562.9 595.6 567.8 595.1 570.5 594.6 572.8 594.0 576.3 592.8M607.0 591.7 609.5 593.6 612.0 594.8"/><path stroke="#2727bb" d="M495.6 595.9 496.8 592.5M511.2 591.0 513.6 592.9 516.0 594.5M543.3 594.2 544.2 592.5 544.8 590.8M551.2 589.4 552.4 591.6 553.9 593.3M576.3 592.8 579.0 591.4 581.9 589.4M604.4 587.6 605.5 589.7 607.0 591.7"/><path stroke="#2626ce" d="M496.8 592.5 497.4 589.4M508.2 587.5 509.4 589.1 511.2 591.0M544.8 590.8 545.7 586.9M549.9 585.5 551.2 589.4M581.9 589.4 583.4 587.9 585.2 585.8M603.3 584.2 604.4 587.6"/><path stroke="#2525e4" d="M497.4 589.4 497.7 587.2M506.4 584.0 507.3 586.0 508.2 587.5M545.7 586.9 546.0 585.0M549.3 582.5 549.9 585.5M585.2 585.8 587.5 582.2M602.6 580.7 603.3 584.2"/><path stroke="#2424fb" d="M497.7 587.2 498.0 584.3M505.2 579.2 506.4 584.0M546.0 585.0 546.6 580.1M548.7 578.7 549.3 582.5M587.5 582.2 589.5 578.0M602.2 577.2 602.6 580.7"/><path stroke="#2436ff" d="M498.0 584.3 498.3 580.6M504.6 574.8 505.2 579.2M546.6 580.1 546.9 577.4M548.1 575.0 548.7 578.7M589.5 578.0 590.8 574.5M601.9 573.7 602.2 577.2"/><path stroke="#2448ff" d="M498.3 580.6 498.6 575.9M504.3 571.9 504.6 574.8M546.9 577.4 547.5 573.7 547.8 573.9 548.1 575.0M590.8 574.5 591.9 571.1M601.9 570.2 601.9 573.7"/><path stroke="#245bff" d="M498.6 575.9 498.9 570.2M504.0 568.3 504.3 571.9M591.9 571.1 592.9 567.6M601.9 566.0 601.9 570.2"/><path stroke="#246dff" d="M503.7 564.2 504.0 568.3M592.9 567.6 594.0 563.5M602.1 562.6 601.9 566.0"/><path stroke="#247fff" d="M498.9 570.2 499.2 564.0M503.4 559.9 503.7 564.2M594.0 563.5 594.8 560.1M602.3 559.1 602.1 562.6"/><path stroke="#2491ff" d="M503.1 555.8 503.4 559.9M594.8 560.1 595.6 556.7M602.6 555.7 602.3 559.1"/><path stroke="#24a4ff" d="M499.2 564.0 499.5 558.0M502.8 552.5 503.1 555.8M595.6 556.7 596.6 552.7M603.0 551.6 602.6 555.7"/><path stroke="#24b6ff" d="M499.5 558.0 499.8 553.3M502.5 550.3 502.8 552.5M596.6 552.7 597.4 549.4M603.4 548.3 603.0 551.6"/><path stroke="#24c8ff" d="M499.8 553.3 500.1 550.3 500.4 548.9 500.7 548.4 501.6 548.3 501.9 548.5 502.5 550.3M597.4 549.4 598.4 545.5M603.8 544.9 603.4 548.3"/><path stroke="#24daff" d="M598.4 545.5 599.2 542.2M604.4 541.0 603.8 544.9"/><path stroke="#24edff" d="M599.2 542.2 600.2 538.3M605.0 537.7 604.4 541.0"/><path stroke="#24ffff" d="M600.2 538.3 601.2 534.5M605.7 533.8 605.0 537.7"/><path stroke="#36ffed" d="M601.2 534.5 602.2 530.8M606.4 530.0 605.7 533.8"/><path stroke="#48ffda" d="M602.2 530.8 603.0 527.7M607.1 526.8 606.4 530.0"/><path stroke="#5bffc8" d="M603.0 527.7 604.0 524.0M607.9 523.1 607.1 526.8"/><path stroke="#6dffb6" d="M604.0 524.0 605.1 520.4M608.8 519.4 607.9 523.1"/><path stroke="#7fffa4" d="M605.1 520.4 606.3 516.3M609.6 515.8 608.8 519.4"/><path stroke="#91ff91" d="M606.3 516.3 607.4 512.8M610.6 512.3 609.6 515.8"/><path stroke="#a4ff7f" d="M607.4 512.8 608.5 509.4M611.6 508.3 610.6 512.3"/><path stroke="#b6ff6d" d="M608.5 509.4 609.7 505.6M612.6 505.0 611.6 508.3"/><path stroke="#c8ff5b" d="M609.7 505.6 611.0 501.8M613.7 501.1 612.6 505.0"/><path stroke="#daff48" d="M611.0 501.8 612.3 498.2M614.9 497.4 613.7 501.1"/><path stroke="#edff36" d="M612.3 498.2 613.6 494.6M616.0 493.9 614.9 497.4"/><path stroke="#ffff24" d="M613.6 494.6 614.8 491.2M617.1 490.4 616.0 493.9"/><path stroke="#ffed24" d="M614.8 491.2 616.2 487.5M618.4 486.6 617.1 490.4"/><path stroke="#ffda24" d="M616.2 487.5 617.6 483.9M619.7 483.0 618.4 486.6"/><path stroke="#ffc824" d="M617.6 483.9 619.2 480.0M620.9 479.6 619.7 483.0"/><path stroke="#ffb624" d="M619.2 480.0 620.7 476.4M622.3 475.9 620.9 479.6"/><path stroke="#ffa424" d="M620.7 476.4 622.2 472.7M623.7 472.2 622.3 475.9"/><path stroke="#ff9124" d="M622.2 472.7 623.9 468.9M625.1 468.7 623.7 472.2"/><path stroke="#ff7f24" d="M623.9 468.9 625.5 465.3M626.6 465.0 625.1 468.7"/><path stroke="#ff6d24" d="M625.5 465.3 627.2 461.6M628.1 461.3 626.6 465.0"/><path stroke="#ff5b24" d="M627.2 461.6 628.9 457.9M629.7 457.7 628.1 461.3"/><path stroke="#ff4824" d="M628.9 457.9 630.8 454.3M631.1 454.2 629.7 457.7"/><path stroke="#ff3624" d="M630.8 454.3 631.5 453.0 631.1 454.2"/><g stroke-width="1.6"><path stroke="#29298a" d="M791.5 592.3 791.5 593.6"/><path stroke="#292998" d="M693.1 592.0 693.1 595.4M787.9 593.7 787.9 591.0M791.6 588.2 791.5 592.3"/><path stroke="#2828a9" d="M684.0 595.6 684.0 592.2M693.1 588.5 693.1 592.0M787.9 591.0 788.0 586.9M791.6 585.5 791.6 588.2"/><path stroke="#2727bb" d="M684.0 592.2 684.0 588.8M693.1 585.1 693.1 588.5M788.0 586.9 788.1 582.8M791.7 581.4 791.6 585.5"/><path stroke="#2626ce" d="M684.0 588.8 684.0 585.3M693.1 581.6 693.1 585.1M788.1 582.8 788.2 580.1M791.8 578.7 791.7 581.4"/><path stroke="#2525e4" d="M684.0 585.3 684.1 581.9M693.2 578.2 693.1 581.6M788.2 580.1 788.3 576.0M792.0 574.6 791.8 578.7"/><path stroke="#2424fb" d="M684.1 581.9 684.1 575.0M693.2 571.3 693.2 578.2M788.3 576.0 788.6 572.0M792.3 570.6 792.0 574.6"/><path stroke="#2436ff" d="M684.1 575.0 684.2 571.5M693.3 567.8 693.2 571.3M788.6 572.0 788.7 569.2M792.5 567.8 792.3 570.6"/><path stroke="#2448ff" d="M684.2 571.5 684.2 568.1M693.3 564.4 693.3 567.8M788.7 569.2 789.0 565.2M792.8 563.8 792.5 567.8"/><path stroke="#245bff" d="M684.2 568.1 684.3 564.6M693.4 560.9 693.3 564.4M789.0 565.2 789.4 561.1M793.2 559.7 792.8 563.8"/><path stroke="#246dff" d="M684.3 564.6 684.3 561.2M693.5 557.5 693.4 560.9M789.4 561.1 789.7 558.4M793.4 557.0 793.2 559.7"/><path stroke="#247fff" d="M684.3 561.2 684.4 557.7M693.6 554.0 693.5 557.5M789.7 558.4 790.1 554.3M793.9 552.9 793.4 557.0"/><path stroke="#2491ff" d="M684.4 557.7 684.5 554.3M693.6 550.6 693.6 554.0M790.1 554.3 790.6 550.2M794.4 548.8 793.9 552.9"/><path stroke="#24a4ff" d="M684.5 554.3 684.6 550.8M693.7 547.1 693.6 550.6M790.6 550.2 790.9 547.5M794.7 546.1 794.4 548.8"/><path stroke="#24b6ff" d="M684.6 550.8 684.7 547.4M693.8 543.7 693.7 547.1M790.9 547.5 791.5 543.4M795.3 542.0 794.7 546.1"/><path stroke="#24c8ff" d="M684.7 547.4 684.8 543.9M693.9 540.2 693.8 543.7M791.5 543.4 792.1 539.3M795.9 537.9 795.3 542.0"/><path stroke="#24daff" d="M684.8 543.9 684.9 540.5M694.1 536.8 693.9 540.2M792.1 539.3 792.5 536.6M796.4 535.2 795.9 537.9"/><path stroke="#24edff" d="M684.9 540.5 685.0 537.0M694.2 533.3 694.1 536.8M792.5 536.6 793.2 532.5M797.0 531.1 796.4 535.2"/><path stroke="#24ffff" d="M685.0 537.0 685.1 533.6M694.3 529.9 694.2 533.3M793.2 532.5 793.9 528.5M797.8 527.0 797.0 531.1"/><path stroke="#36ffed" d="M685.1 533.6 685.2 530.1M694.4 526.4 694.3 529.9M793.9 528.5 794.5 525.6 794.8 524.7M798.0 524.5 798.1 525.4 797.8 527.0"/><path stroke="#48ffda" d="M685.2 530.1 685.4 526.7M694.6 523.0 694.4 526.4M794.8 524.7 795.5 523.9 796.5 523.5 797.5 523.7 798.0 524.5"/><path stroke="#5bffc8" d="M685.4 526.7 685.5 523.2M694.7 519.5 694.6 523.0"/><path stroke="#6dffb6" d="M685.5 523.2 685.7 519.8M694.9 516.1 694.7 519.5"/><path stroke="#7fffa4" d="M685.7 519.8 685.8 516.3M695.0 512.6 694.9 516.1"/><path stroke="#91ff91" d="M685.8 516.3 686.0 512.9M695.2 509.2 695.0 512.6"/><path stroke="#a4ff7f" d="M686.0 512.9 686.1 509.4M695.4 505.7 695.2 509.2"/><path stroke="#b6ff6d" d="M686.1 509.4 686.3 506.0M695.6 502.3 695.4 505.7"/><path stroke="#c8ff5b" d="M686.3 506.0 686.5 502.5M695.8 498.8 695.6 502.3"/><path stroke="#daff48" d="M686.5 502.5 686.7 499.1M696.2 491.9 695.8 498.8"/><path stroke="#edff36" d="M686.7 499.1 687.1 492.2M696.4 488.5 696.2 491.9"/><path stroke="#ffff24" d="M687.1 492.2 687.3 488.7M696.6 485.0 696.4 488.5"/><path stroke="#ffed24" d="M687.3 488.7 687.5 485.3M696.8 481.6 696.6 485.0"/><path stroke="#ffda24" d="M687.5 485.3 687.7 481.8M697.0 478.1 696.8 481.6"/><path stroke="#ffc824" d="M687.7 481.8 688.0 478.4M697.3 474.7 697.0 478.1"/><path stroke="#ffb624" d="M688.0 478.4 688.2 474.9M697.5 471.2 697.3 474.7"/><path stroke="#ffa424" d="M688.2 474.9 688.4 471.5M697.8 467.8 697.5 471.2"/><path stroke="#ff9124" d="M688.4 471.5 688.7 468.0M698.0 464.3 697.8 467.8"/><path stroke="#ff7f24" d="M688.7 468.0 688.9 464.5M698.3 460.9 698.0 464.3"/><path stroke="#ff6d24" d="M688.9 464.5 689.2 461.1M698.5 457.4 698.3 460.9"/><path stroke="#ff5b24" d="M689.2 461.1 689.5 457.6M698.8 453.9 698.5 457.4"/><path stroke="#ff4824" d="M689.5 457.6 689.8 454.2M699.1 450.5 698.8 453.9"/><path stroke="#ff3624" d="M689.8 454.2 690.0 450.7M699.4 447.0 699.1 450.5"/><path stroke="#ff2424" d="M690.0 450.7 690.3 447.3M699.7 443.6 699.4 447.0"/><path stroke="#ed2424" d="M690.3 447.3 690.6 443.8M700.0 440.1 699.7 443.6"/><path stroke="#da2424" d="M690.6 443.8 690.9 440.4M700.3 436.7 700.0 440.1"/><path stroke="#c82424" d="M690.9 440.4 691.2 436.9M700.6 433.2 700.3 436.7"/><path stroke="#b62424" d="M691.2 436.9 691.6 433.5M701.0 429.8 700.6 433.2"/><path stroke="#a42424" d="M691.6 433.5 691.9 430.0M701.3 426.3 701.0 429.8"/><path stroke="#912424" d="M691.9 430.0 692.6 423.1 692.9 421.8 693.3 420.8 694.1 419.7 694.9 419.1 696.0 418.4 697.6 418.1 698.8 418.3 699.9 418.8 700.9 419.8 701.4 420.9 701.7 422.2 701.3 426.3"/></g></g>
<line x1="392.4" y1="458.5" x2="389.8" y2="449.0" stroke="#4d4d4d" stroke-width="1"/>
<line x1="392.4" y1="414.6" x2="389.8" y2="405.1" stroke="#4d4d4d" stroke-width="1"/>
<line x1="392.4" y1="370.6" x2="389.8" y2="361.1" stroke="#4d4d4d" stroke-width="1"/>
<line x1="392.5" y1="326.6" x2="389.9" y2="317.1" stroke="#4d4d4d" stroke-width="1"/>
<line x1="392.5" y1="282.7" x2="389.9" y2="273.2" stroke="#4d4d4d" stroke-width="1"/>
<line x1="428.0" y1="606.4" x2="417.5" y2="606.7" stroke="#4d4d4d" stroke-width="1"/>
<line x1="419.1" y1="569.4" x2="408.6" y2="569.7" stroke="#4d4d4d" stroke-width="1"/>
<line x1="410.2" y1="532.5" x2="399.7" y2="532.8" stroke="#4d4d4d" stroke-width="1"/>
<line x1="401.3" y1="495.5" x2="390.8" y2="495.8" stroke="#4d4d4d" stroke-width="1"/>
<line x1="392.4" y1="458.5" x2="381.9" y2="458.8" stroke="#4d4d4d" stroke-width="1"/>
<line x1="428.0" y1="606.4" x2="430.9" y2="617.4" stroke="#4d4d4d" stroke-width="1"/>
<line x1="497.3" y1="604.2" x2="500.2" y2="615.2" stroke="#4d4d4d" stroke-width="1"/>
<line x1="566.7" y1="602.0" x2="569.6" y2="613.0" stroke="#4d4d4d" stroke-width="1"/>
<line x1="636.0" y1="599.8" x2="638.9" y2="610.8" stroke="#4d4d4d" stroke-width="1"/>
<line x1="705.3" y1="597.7" x2="708.2" y2="608.7" stroke="#4d4d4d" stroke-width="1"/>
<line x1="774.7" y1="595.5" x2="777.6" y2="606.5" stroke="#4d4d4d" stroke-width="1"/>
<line x1="844.0" y1="593.3" x2="846.9" y2="604.3" stroke="#4d4d4d" stroke-width="1"/>
<text x="383.0" y="451.3" font-size="19" text-anchor="middle" >0</text>
<text x="383.0" y="408.3" font-size="19" text-anchor="middle" >1</text>
<text x="383.0" y="364.0" font-size="19" text-anchor="middle" >2</text>
<text x="383.0" y="319.7" font-size="19" text-anchor="middle" >3</text>
<text x="383.0" y="275.3" font-size="19" text-anchor="middle" >4</text>
<text x="375.5" y="468.0" font-size="19" text-anchor="end" >2<tspan font-style="italic">π</tspan></text>
<text x="384.5" y="504.4" font-size="19" text-anchor="end" >3<tspan font-style="italic">π</tspan>/2</text>
<text x="393.5" y="543.0" font-size="19" text-anchor="end" ><tspan font-style="italic">π</tspan></text>
<text x="402.5" y="579.5" font-size="19" text-anchor="end" ><tspan font-style="italic">π</tspan>/2</text>
<text x="406.7" y="615.3" font-size="19" text-anchor="middle" >0</text>
<text x="434.0" y="641.3" font-size="19" text-anchor="middle" >10</text>
<text x="502.6" y="639.1" font-size="19" text-anchor="middle" >40</text>
<text x="571.0" y="637.3" font-size="19" text-anchor="middle" >70</text>
<text x="641.4" y="635.8" font-size="19" text-anchor="middle" >100</text>
<text x="710.5" y="633.6" font-size="19" text-anchor="middle" >130</text>
<text x="778.5" y="632.0" font-size="19" text-anchor="middle" >160</text>
<text x="848.7" y="629.3" font-size="19" text-anchor="middle" >190</text>
<text x="635.5" y="680.0" font-size="21" text-anchor="middle" ><tspan font-style="italic">Ω</tspan> /2<tspan font-style="italic">π</tspan> (Hz)</text>
<text transform="translate(305,534.5) rotate(-90)" font-size="21" text-anchor="middle">Phase <tspan font-style="italic">θ</tspan></text>
<text transform="translate(330.3,534.5) rotate(-90)" font-size="21" text-anchor="middle">(rad)</text>
<text transform="translate(349.5,370.5) rotate(-90)" font-size="24.5" text-anchor="middle">|<tspan font-style="italic">X</tspan><tspan font-style="italic" font-size="15.5" dy="5.5">I</tspan><tspan dy="-5.5">| (mm)</tspan></text>
</svg>
</body></html>
